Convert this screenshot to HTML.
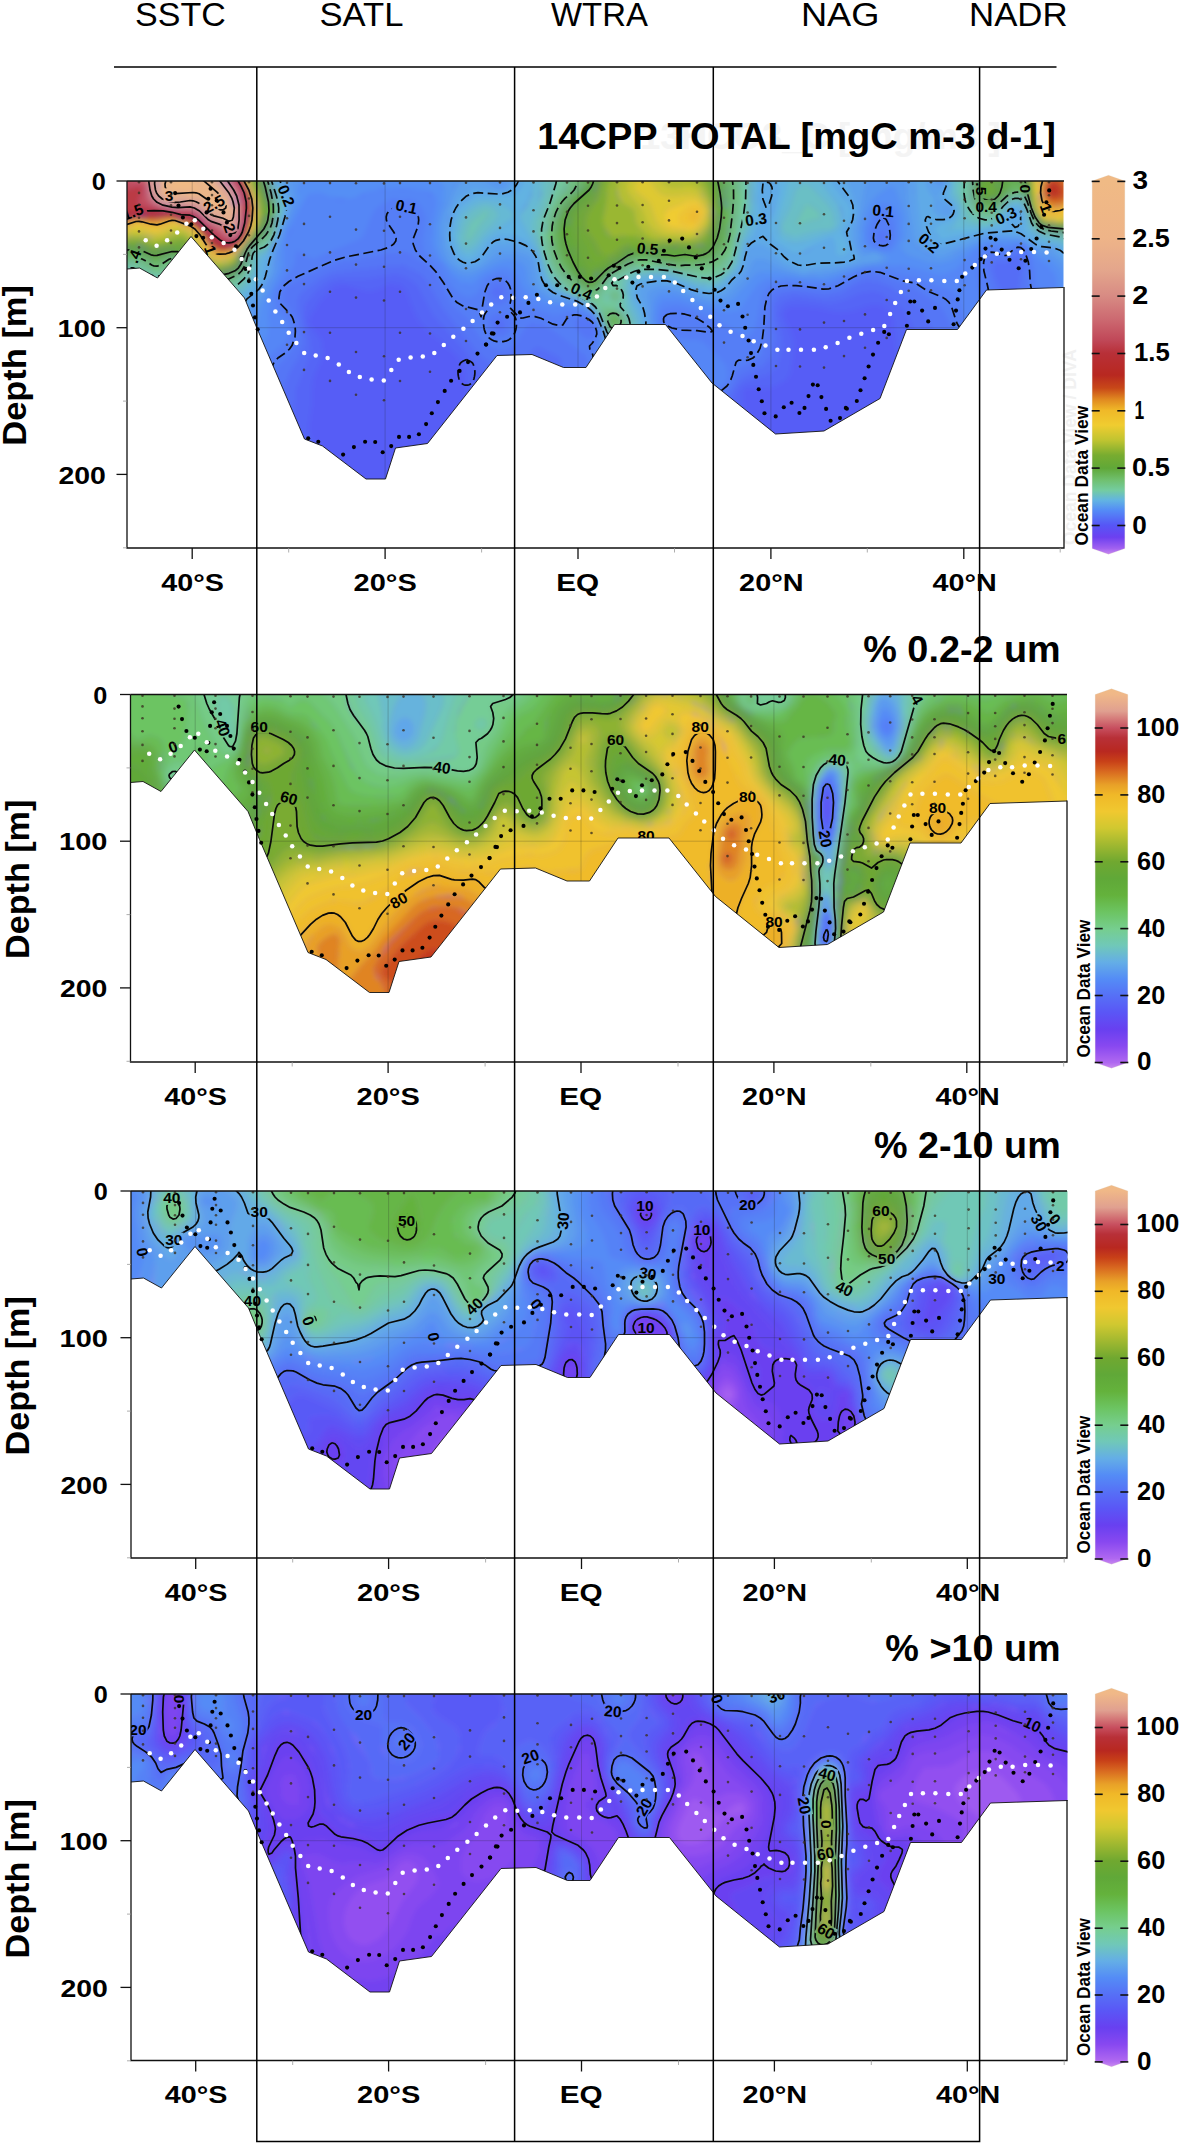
<!DOCTYPE html>
<html lang="en"><head><meta charset="utf-8"><title>Size-fractionated primary production sections</title>
<style>html,body{margin:0;padding:0;background:#fff}svg{display:block}text{font-family:"Liberation Sans", Arial, Helvetica, sans-serif;fill:#000}.b{font-weight:700}.c{font-weight:700;font-size:15.5px}</style></head><body>
<svg width="1181" height="2145" viewBox="0 0 1181 2145">
<rect width="1181" height="2145" fill="#fff"/>
<defs>
<filter id="bl" x="-10%" y="-10%" width="120%" height="130%"><feGaussianBlur stdDeviation="9"/></filter>
<filter id="bs" x="-10%" y="-10%" width="120%" height="130%"><feGaussianBlur stdDeviation="4"/></filter>
<filter id="bf" filterUnits="userSpaceOnUse" x="-20" y="-20" width="980" height="340"><feGaussianBlur stdDeviation="2.6"/></filter>
<clipPath id="cp"><polygon points="0,0 0,88 12.5,87 30.5,97 64,55.5 117.5,117 129,145 177.5,258 195.5,265 239,298 258.5,298 268.5,267 300.5,262.5 370,174.5 405,173.5 436.5,186.5 459,186.5 487.5,143.5 538.5,143.5 585,202 648.5,253 697,250 753,217.5 779.5,148.5 830.5,148.5 859.5,109 936.5,106.5 936.5,0"/></clipPath>
<linearGradient id="pc" x1="0" y1="0" x2="0" y2="1">
<stop offset="0.0000" stop-color="#F0BA85"/>
<stop offset="0.0145" stop-color="#F0B888"/>
<stop offset="0.0586" stop-color="#E0A090"/>
<stop offset="0.1028" stop-color="#C85060"/>
<stop offset="0.1292" stop-color="#B83038"/>
<stop offset="0.1646" stop-color="#B82820"/>
<stop offset="0.1910" stop-color="#C84018"/>
<stop offset="0.2175" stop-color="#D86820"/>
<stop offset="0.2528" stop-color="#E8A028"/>
<stop offset="0.2793" stop-color="#F0B828"/>
<stop offset="0.3234" stop-color="#F0C830"/>
<stop offset="0.3675" stop-color="#D0C830"/>
<stop offset="0.4117" stop-color="#A0B830"/>
<stop offset="0.4558" stop-color="#70A830"/>
<stop offset="0.4999" stop-color="#60A838"/>
<stop offset="0.5441" stop-color="#64B23C"/>
<stop offset="0.5882" stop-color="#6CC462"/>
<stop offset="0.6323" stop-color="#76CE8E"/>
<stop offset="0.6765" stop-color="#70C8B8"/>
<stop offset="0.7206" stop-color="#64AEE6"/>
<stop offset="0.7647" stop-color="#548CF6"/>
<stop offset="0.8088" stop-color="#5670F6"/>
<stop offset="0.8530" stop-color="#5A56F6"/>
<stop offset="0.8971" stop-color="#6840F0"/>
<stop offset="0.9412" stop-color="#8848F0"/>
<stop offset="0.9854" stop-color="#B068F0"/>
<stop offset="1.0000" stop-color="#C888F0"/>
</linearGradient>
<linearGradient id="p1" x1="0" y1="0" x2="0" y2="1">
<stop offset="0.0000" stop-color="#F0BA85"/>
<stop offset="0.0151" stop-color="#F0BA85"/>
<stop offset="0.1656" stop-color="#EEB488"/>
<stop offset="0.2501" stop-color="#E4A68C"/>
<stop offset="0.3161" stop-color="#D88C84"/>
<stop offset="0.3821" stop-color="#CC6870"/>
<stop offset="0.4349" stop-color="#C04858"/>
<stop offset="0.4692" stop-color="#B83038"/>
<stop offset="0.5273" stop-color="#B82820"/>
<stop offset="0.5617" stop-color="#C84818"/>
<stop offset="0.5907" stop-color="#E08820"/>
<stop offset="0.6198" stop-color="#F0B828"/>
<stop offset="0.6594" stop-color="#F0CC30"/>
<stop offset="0.6990" stop-color="#C0C430"/>
<stop offset="0.7386" stop-color="#78AC30"/>
<stop offset="0.7729" stop-color="#60A838"/>
<stop offset="0.8046" stop-color="#70C070"/>
<stop offset="0.8310" stop-color="#74CCA0"/>
<stop offset="0.8574" stop-color="#62B4E2"/>
<stop offset="0.8838" stop-color="#548CF6"/>
<stop offset="0.9234" stop-color="#5656F6"/>
<stop offset="0.9551" stop-color="#6C40F0"/>
<stop offset="0.9842" stop-color="#A060F0"/>
<stop offset="1.0000" stop-color="#C888F0"/>
</linearGradient>
<mask id="lm0" maskUnits="userSpaceOnUse" x="-10" y="-10" width="960" height="320"><rect x="-10" y="-10" width="960" height="320" fill="#fff"/>
<rect transform="translate(42.1,14.3) rotate(0)" x="-5.6" y="-7" width="11.2" height="14" fill="#000"/>
<rect transform="translate(87,22.8) rotate(-28)" x="-13.8" y="-7" width="27.6" height="14" fill="#000"/>
<rect transform="translate(102.7,46.8) rotate(70)" x="-5.6" y="-7" width="11.2" height="14" fill="#000"/>
<rect transform="translate(5.7,30.9) rotate(-20)" x="-13.8" y="-7" width="27.6" height="14" fill="#000"/>
<rect transform="translate(83.3,68.9) rotate(70)" x="-5.6" y="-7" width="11.2" height="14" fill="#000"/>
<rect transform="translate(7.4,75.3) rotate(-70)" x="-9.7" y="-7" width="19.4" height="14" fill="#000"/>
<rect transform="translate(159.3,14.6) rotate(68)" x="-13.8" y="-7" width="27.6" height="14" fill="#000"/>
<rect transform="translate(279.5,25.7) rotate(12)" x="-13.8" y="-7" width="27.6" height="14" fill="#000"/>
<rect transform="translate(520.7,67.7) rotate(5)" x="-13.8" y="-7" width="27.6" height="14" fill="#000"/>
<rect transform="translate(454.6,110.4) rotate(25)" x="-13.8" y="-7" width="27.6" height="14" fill="#000"/>
<rect transform="translate(629,38.3) rotate(-8)" x="-13.8" y="-7" width="27.6" height="14" fill="#000"/>
<rect transform="translate(756.3,29.8) rotate(5)" x="-13.8" y="-7" width="27.6" height="14" fill="#000"/>
<rect transform="translate(802,62) rotate(40)" x="-13.8" y="-7" width="27.6" height="14" fill="#000"/>
<rect transform="translate(859.2,25.9) rotate(0)" x="-13.8" y="-7" width="27.6" height="14" fill="#000"/>
<rect transform="translate(879,34.7) rotate(-25)" x="-13.8" y="-7" width="27.6" height="14" fill="#000"/>
<rect transform="translate(854.3,7.8) rotate(90)" x="-9.7" y="-7" width="19.4" height="14" fill="#000"/>
<rect transform="translate(898.3,7.8) rotate(90)" x="-5.6" y="-7" width="11.2" height="14" fill="#000"/>
<rect transform="translate(919.2,27) rotate(70)" x="-5.6" y="-7" width="11.2" height="14" fill="#000"/>
</mask>
<mask id="lm1" maskUnits="userSpaceOnUse" x="-10" y="-10" width="960" height="320"><rect x="-10" y="-10" width="960" height="320" fill="#fff"/>
<rect transform="translate(92.1,33.1) rotate(70)" x="-9.7" y="-7" width="19.4" height="14" fill="#000"/>
<rect transform="translate(128.7,32.4) rotate(0)" x="-9.7" y="-7" width="19.4" height="14" fill="#000"/>
<rect transform="translate(158.5,103.5) rotate(15)" x="-9.7" y="-7" width="19.4" height="14" fill="#000"/>
<rect transform="translate(311.6,73) rotate(8)" x="-9.7" y="-7" width="19.4" height="14" fill="#000"/>
<rect transform="translate(268.2,205.8) rotate(-30)" x="-9.7" y="-7" width="19.4" height="14" fill="#000"/>
<rect transform="translate(42.3,52.4) rotate(-20)" x="-5.6" y="-7" width="11.2" height="14" fill="#000"/>
<rect transform="translate(485,44.9) rotate(0)" x="-9.7" y="-7" width="19.4" height="14" fill="#000"/>
<rect transform="translate(569.7,32.4) rotate(0)" x="-9.7" y="-7" width="19.4" height="14" fill="#000"/>
<rect transform="translate(617.1,101.5) rotate(0)" x="-9.7" y="-7" width="19.4" height="14" fill="#000"/>
<rect transform="translate(515.5,140.8) rotate(0)" x="-9.7" y="-7" width="19.4" height="14" fill="#000"/>
<rect transform="translate(643.5,226.8) rotate(0)" x="-9.7" y="-7" width="19.4" height="14" fill="#000"/>
<rect transform="translate(706.8,65.3) rotate(5)" x="-9.7" y="-7" width="19.4" height="14" fill="#000"/>
<rect transform="translate(695,144.2) rotate(80)" x="-9.7" y="-7" width="19.4" height="14" fill="#000"/>
<rect transform="translate(807,112.7) rotate(0)" x="-9.7" y="-7" width="19.4" height="14" fill="#000"/>
<rect transform="translate(786.7,5.3) rotate(60)" x="-5.6" y="-7" width="11.2" height="14" fill="#000"/>
<rect transform="translate(931.3,43.9) rotate(0)" x="-5.6" y="-7" width="11.2" height="14" fill="#000"/>
</mask>
<mask id="lm2" maskUnits="userSpaceOnUse" x="-10" y="-10" width="960" height="320"><rect x="-10" y="-10" width="960" height="320" fill="#fff"/>
<rect transform="translate(40.8,6.9) rotate(0)" x="-9.7" y="-7" width="19.4" height="14" fill="#000"/>
<rect transform="translate(42.8,48.6) rotate(0)" x="-9.7" y="-7" width="19.4" height="14" fill="#000"/>
<rect transform="translate(128.2,20.5) rotate(0)" x="-9.7" y="-7" width="19.4" height="14" fill="#000"/>
<rect transform="translate(275.5,29.3) rotate(0)" x="-9.7" y="-7" width="19.4" height="14" fill="#000"/>
<rect transform="translate(343.3,115.3) rotate(-45)" x="-9.7" y="-7" width="19.4" height="14" fill="#000"/>
<rect transform="translate(121.4,109.6) rotate(0)" x="-9.7" y="-7" width="19.4" height="14" fill="#000"/>
<rect transform="translate(177.3,129.9) rotate(70)" x="-5.6" y="-7" width="11.2" height="14" fill="#000"/>
<rect transform="translate(302.6,145.8) rotate(80)" x="-5.6" y="-7" width="11.2" height="14" fill="#000"/>
<rect transform="translate(11.3,61.1) rotate(80)" x="-5.6" y="-7" width="11.2" height="14" fill="#000"/>
<rect transform="translate(432,30) rotate(-85)" x="-9.7" y="-7" width="19.4" height="14" fill="#000"/>
<rect transform="translate(513.9,14.7) rotate(0)" x="-9.7" y="-7" width="19.4" height="14" fill="#000"/>
<rect transform="translate(570.8,38.4) rotate(0)" x="-9.7" y="-7" width="19.4" height="14" fill="#000"/>
<rect transform="translate(516.7,82.5) rotate(10)" x="-9.7" y="-7" width="19.4" height="14" fill="#000"/>
<rect transform="translate(515,136.7) rotate(0)" x="-9.7" y="-7" width="19.4" height="14" fill="#000"/>
<rect transform="translate(616.6,13) rotate(0)" x="-9.7" y="-7" width="19.4" height="14" fill="#000"/>
<rect transform="translate(404.9,112.9) rotate(50)" x="-5.6" y="-7" width="11.2" height="14" fill="#000"/>
<rect transform="translate(749.9,19.1) rotate(0)" x="-9.7" y="-7" width="19.4" height="14" fill="#000"/>
<rect transform="translate(755.7,67.9) rotate(0)" x="-9.7" y="-7" width="19.4" height="14" fill="#000"/>
<rect transform="translate(713.4,97.7) rotate(25)" x="-9.7" y="-7" width="19.4" height="14" fill="#000"/>
<rect transform="translate(865.8,87.5) rotate(0)" x="-9.7" y="-7" width="19.4" height="14" fill="#000"/>
<rect transform="translate(908.1,31.7) rotate(60)" x="-9.7" y="-7" width="19.4" height="14" fill="#000"/>
<rect transform="translate(924,28.3) rotate(50)" x="-5.6" y="-7" width="11.2" height="14" fill="#000"/>
<rect transform="translate(929.4,74) rotate(0)" x="-5.6" y="-7" width="11.2" height="14" fill="#000"/>
</mask>
<mask id="lm3" maskUnits="userSpaceOnUse" x="-10" y="-10" width="960" height="320"><rect x="-10" y="-10" width="960" height="320" fill="#fff"/>
<rect transform="translate(6.9,35.4) rotate(0)" x="-9.7" y="-7" width="19.4" height="14" fill="#000"/>
<rect transform="translate(232.5,20.2) rotate(0)" x="-9.7" y="-7" width="19.4" height="14" fill="#000"/>
<rect transform="translate(275.5,47.3) rotate(-50)" x="-9.7" y="-7" width="19.4" height="14" fill="#000"/>
<rect transform="translate(48.6,5) rotate(90)" x="-5.6" y="-7" width="11.2" height="14" fill="#000"/>
<rect transform="translate(399.3,62.7) rotate(-20)" x="-9.7" y="-7" width="19.4" height="14" fill="#000"/>
<rect transform="translate(513,113.1) rotate(-60)" x="-9.7" y="-7" width="19.4" height="14" fill="#000"/>
<rect transform="translate(481.9,17.2) rotate(5)" x="-9.7" y="-7" width="19.4" height="14" fill="#000"/>
<rect transform="translate(586.1,5) rotate(70)" x="-5.6" y="-7" width="11.2" height="14" fill="#000"/>
<rect transform="translate(645.4,1.6) rotate(-20)" x="-9.7" y="-7" width="19.4" height="14" fill="#000"/>
<rect transform="translate(673.5,111.6) rotate(80)" x="-9.7" y="-7" width="19.4" height="14" fill="#000"/>
<rect transform="translate(696.2,80.1) rotate(15)" x="-9.7" y="-7" width="19.4" height="14" fill="#000"/>
<rect transform="translate(694.5,159.7) rotate(-10)" x="-9.7" y="-7" width="19.4" height="14" fill="#000"/>
<rect transform="translate(695.1,237) rotate(30)" x="-9.7" y="-7" width="19.4" height="14" fill="#000"/>
<rect transform="translate(695.1,130.3) rotate(90)" x="-5.6" y="-7" width="11.2" height="14" fill="#000"/>
<rect transform="translate(901.3,30.4) rotate(25)" x="-9.7" y="-7" width="19.4" height="14" fill="#000"/>
</mask>
<g id="dots">
<g fill="#3a3020" fill-opacity="0.78" clip-path="url(#cp)"><circle cx="12" cy="1.2" r="1.3"/><circle cx="12" cy="11.9" r="1.3"/><circle cx="12" cy="23.7" r="1.3"/><circle cx="12" cy="36.7" r="1.3"/><circle cx="12" cy="50.4" r="1.3"/><circle cx="12" cy="66.4" r="1.3"/><circle cx="44" cy="1.2" r="1.3"/><circle cx="44" cy="14.1" r="1.3"/><circle cx="44" cy="24.2" r="1.3"/><circle cx="44" cy="33.8" r="1.3"/><circle cx="44" cy="49.5" r="1.3"/><circle cx="44" cy="61.9" r="1.3"/><circle cx="85" cy="1.2" r="1.3"/><circle cx="85" cy="14.1" r="1.3"/><circle cx="85" cy="24.2" r="1.3"/><circle cx="85" cy="33.8" r="1.3"/><circle cx="85" cy="49.6" r="1.3"/><circle cx="85" cy="62" r="1.3"/><circle cx="122" cy="1.2" r="1.3"/><circle cx="122" cy="17.5" r="1.3"/><circle cx="122" cy="34.9" r="1.3"/><circle cx="122" cy="54.2" r="1.3"/><circle cx="122" cy="74.2" r="1.3"/><circle cx="122" cy="97.8" r="1.3"/><circle cx="160" cy="1.8" r="1.3"/><circle cx="160" cy="37.2" r="1.3"/><circle cx="160" cy="64" r="1.3"/><circle cx="160" cy="89.4" r="1.3"/><circle cx="160" cy="131.1" r="1.3"/><circle cx="160" cy="163.8" r="1.3"/><circle cx="177" cy="2.1" r="1.3"/><circle cx="177" cy="42.9" r="1.3"/><circle cx="177" cy="73.9" r="1.3"/><circle cx="177" cy="103.1" r="1.3"/><circle cx="177" cy="151.1" r="1.3"/><circle cx="177" cy="188.9" r="1.3"/><circle cx="203" cy="2.1" r="1.3"/><circle cx="203" cy="35.7" r="1.3"/><circle cx="203" cy="71.4" r="1.3"/><circle cx="203" cy="110.7" r="1.3"/><circle cx="203" cy="151.7" r="1.3"/><circle cx="203" cy="199.9" r="1.3"/><circle cx="229" cy="2.3" r="1.3"/><circle cx="229" cy="48.6" r="1.3"/><circle cx="229" cy="83.6" r="1.3"/><circle cx="229" cy="116.6" r="1.3"/><circle cx="229" cy="171" r="1.3"/><circle cx="229" cy="213.8" r="1.3"/><circle cx="257" cy="2.4" r="1.3"/><circle cx="257" cy="49.8" r="1.3"/><circle cx="257" cy="85.7" r="1.3"/><circle cx="257" cy="119.5" r="1.3"/><circle cx="257" cy="175.3" r="1.3"/><circle cx="257" cy="219.2" r="1.3"/><circle cx="273" cy="2.1" r="1.3"/><circle cx="273" cy="35.7" r="1.3"/><circle cx="273" cy="71.4" r="1.3"/><circle cx="273" cy="110.7" r="1.3"/><circle cx="273" cy="151.8" r="1.3"/><circle cx="273" cy="200" r="1.3"/><circle cx="303" cy="2.1" r="1.3"/><circle cx="303" cy="43.3" r="1.3"/><circle cx="303" cy="74.5" r="1.3"/><circle cx="303" cy="104" r="1.3"/><circle cx="303" cy="152.5" r="1.3"/><circle cx="303" cy="190.7" r="1.3"/><circle cx="339" cy="1.7" r="1.3"/><circle cx="339" cy="36.4" r="1.3"/><circle cx="339" cy="62.6" r="1.3"/><circle cx="339" cy="87.3" r="1.3"/><circle cx="339" cy="128" r="1.3"/><circle cx="339" cy="160" r="1.3"/><circle cx="373" cy="1.4" r="1.3"/><circle cx="373" cy="23.4" r="1.3"/><circle cx="373" cy="46.9" r="1.3"/><circle cx="373" cy="72.6" r="1.3"/><circle cx="373" cy="99.6" r="1.3"/><circle cx="373" cy="131.2" r="1.3"/><circle cx="406.5" cy="1.4" r="1.3"/><circle cx="406.5" cy="29.3" r="1.3"/><circle cx="406.5" cy="50.4" r="1.3"/><circle cx="406.5" cy="70.3" r="1.3"/><circle cx="406.5" cy="103.2" r="1.3"/><circle cx="406.5" cy="128.9" r="1.3"/><circle cx="440" cy="1.5" r="1.3"/><circle cx="440" cy="30.9" r="1.3"/><circle cx="440" cy="53.2" r="1.3"/><circle cx="440" cy="74.2" r="1.3"/><circle cx="440" cy="108.8" r="1.3"/><circle cx="440" cy="136" r="1.3"/><circle cx="461" cy="1.5" r="1.3"/><circle cx="461" cy="24.7" r="1.3"/><circle cx="461" cy="49.5" r="1.3"/><circle cx="461" cy="76.7" r="1.3"/><circle cx="461" cy="105.1" r="1.3"/><circle cx="461" cy="138.5" r="1.3"/><circle cx="490" cy="1.2" r="1.3"/><circle cx="490" cy="24.5" r="1.3"/><circle cx="490" cy="42.1" r="1.3"/><circle cx="490" cy="58.7" r="1.3"/><circle cx="490" cy="86.1" r="1.3"/><circle cx="490" cy="107.6" r="1.3"/><circle cx="515.6" cy="1.2" r="1.3"/><circle cx="515.6" cy="24" r="1.3"/><circle cx="515.6" cy="41.2" r="1.3"/><circle cx="515.6" cy="57.5" r="1.3"/><circle cx="515.6" cy="84.3" r="1.3"/><circle cx="515.6" cy="105.4" r="1.3"/><circle cx="542" cy="1.2" r="1.3"/><circle cx="542" cy="19.7" r="1.3"/><circle cx="542" cy="39.4" r="1.3"/><circle cx="542" cy="61.1" r="1.3"/><circle cx="542" cy="83.8" r="1.3"/><circle cx="542" cy="110.4" r="1.3"/><circle cx="570" cy="1.5" r="1.3"/><circle cx="570" cy="30.8" r="1.3"/><circle cx="570" cy="53" r="1.3"/><circle cx="570" cy="74" r="1.3"/><circle cx="570" cy="108.5" r="1.3"/><circle cx="570" cy="135.7" r="1.3"/><circle cx="597" cy="1.8" r="1.3"/><circle cx="597" cy="36.7" r="1.3"/><circle cx="597" cy="63.2" r="1.3"/><circle cx="597" cy="88.1" r="1.3"/><circle cx="597" cy="129.3" r="1.3"/><circle cx="597" cy="161.6" r="1.3"/><circle cx="620.6" cy="1.9" r="1.3"/><circle cx="620.6" cy="31.5" r="1.3"/><circle cx="620.6" cy="63" r="1.3"/><circle cx="620.6" cy="97.6" r="1.3"/><circle cx="620.6" cy="133.8" r="1.3"/><circle cx="620.6" cy="176.3" r="1.3"/><circle cx="649" cy="2" r="1.3"/><circle cx="649" cy="42" r="1.3"/><circle cx="649" cy="72.3" r="1.3"/><circle cx="649" cy="100.9" r="1.3"/><circle cx="649" cy="148" r="1.3"/><circle cx="649" cy="185" r="1.3"/><circle cx="673" cy="2" r="1.3"/><circle cx="673" cy="42.2" r="1.3"/><circle cx="673" cy="72.5" r="1.3"/><circle cx="673" cy="101.2" r="1.3"/><circle cx="673" cy="148.4" r="1.3"/><circle cx="673" cy="185.5" r="1.3"/><circle cx="697" cy="2" r="1.3"/><circle cx="697" cy="33.3" r="1.3"/><circle cx="697" cy="66.7" r="1.3"/><circle cx="697" cy="103.3" r="1.3"/><circle cx="697" cy="141.6" r="1.3"/><circle cx="697" cy="186.6" r="1.3"/><circle cx="717" cy="1.9" r="1.3"/><circle cx="717" cy="39.8" r="1.3"/><circle cx="717" cy="68.4" r="1.3"/><circle cx="717" cy="95.5" r="1.3"/><circle cx="717" cy="140" r="1.3"/><circle cx="717" cy="175.1" r="1.3"/><circle cx="738" cy="1.8" r="1.3"/><circle cx="738" cy="37.9" r="1.3"/><circle cx="738" cy="65.2" r="1.3"/><circle cx="738" cy="91" r="1.3"/><circle cx="738" cy="133.4" r="1.3"/><circle cx="738" cy="166.7" r="1.3"/><circle cx="759.7" cy="1.7" r="1.3"/><circle cx="759.7" cy="28" r="1.3"/><circle cx="759.7" cy="56" r="1.3"/><circle cx="759.7" cy="86.8" r="1.3"/><circle cx="759.7" cy="119" r="1.3"/><circle cx="759.7" cy="156.9" r="1.3"/><circle cx="781.7" cy="1.2" r="1.3"/><circle cx="781.7" cy="25" r="1.3"/><circle cx="781.7" cy="42.9" r="1.3"/><circle cx="781.7" cy="59.9" r="1.3"/><circle cx="781.7" cy="87.8" r="1.3"/><circle cx="781.7" cy="109.8" r="1.3"/><circle cx="804" cy="1.2" r="1.3"/><circle cx="804" cy="24.8" r="1.3"/><circle cx="804" cy="42.7" r="1.3"/><circle cx="804" cy="59.5" r="1.3"/><circle cx="804" cy="87.3" r="1.3"/><circle cx="804" cy="109.2" r="1.3"/><circle cx="837.6" cy="1.2" r="1.3"/><circle cx="837.6" cy="18.6" r="1.3"/><circle cx="837.6" cy="37.2" r="1.3"/><circle cx="837.6" cy="57.7" r="1.3"/><circle cx="837.6" cy="79.1" r="1.3"/><circle cx="837.6" cy="104.2" r="1.3"/><circle cx="864.7" cy="1.2" r="1.3"/><circle cx="864.7" cy="18.5" r="1.3"/><circle cx="864.7" cy="31.8" r="1.3"/><circle cx="864.7" cy="44.4" r="1.3"/><circle cx="864.7" cy="65.1" r="1.3"/><circle cx="864.7" cy="81.4" r="1.3"/><circle cx="894" cy="1.2" r="1.3"/><circle cx="894" cy="17.8" r="1.3"/><circle cx="894" cy="30.6" r="1.3"/><circle cx="894" cy="42.7" r="1.3"/><circle cx="894" cy="62.6" r="1.3"/><circle cx="894" cy="78.3" r="1.3"/><circle cx="922" cy="1.2" r="1.3"/><circle cx="922" cy="14.3" r="1.3"/><circle cx="922" cy="28.6" r="1.3"/><circle cx="922" cy="44.3" r="1.3"/><circle cx="922" cy="60.7" r="1.3"/><circle cx="922" cy="80" r="1.3"/></g>
<g fill="#000"><circle cx="48.1" cy="12.1" r="2.05"/><circle cx="51.5" cy="24.6" r="2.05"/><circle cx="55.9" cy="36.5" r="2.05"/><circle cx="64.3" cy="43.2" r="2.05"/><circle cx="69.4" cy="55.1" r="2.05"/><circle cx="76.2" cy="56.8" r="2.05"/><circle cx="77.9" cy="48.3" r="2.05"/><circle cx="79.6" cy="31.4" r="2.05"/><circle cx="81.3" cy="17.8" r="2.05"/><circle cx="83.6" cy="7.7" r="2.05"/><circle cx="89.7" cy="19.5" r="2.05"/><circle cx="96.5" cy="31.4" r="2.05"/><circle cx="99.9" cy="41.5" r="2.05"/><circle cx="103.3" cy="54.1" r="2.05"/><circle cx="109" cy="65.3" r="2.05"/><circle cx="114.5" cy="77.1" r="2.05"/><circle cx="118.5" cy="87.9" r="2.05"/><circle cx="121.9" cy="100.1" r="2.05"/><circle cx="124.3" cy="112.7" r="2.05"/><circle cx="126" cy="124.5" r="2.05"/><circle cx="128" cy="136.4" r="2.05"/><circle cx="130.7" cy="148.2" r="2.05"/><circle cx="181.2" cy="257.3" r="2.05"/><circle cx="191.3" cy="260.7" r="2.05"/><circle cx="216.1" cy="273.6" r="2.05"/><circle cx="226.9" cy="266.1" r="2.05"/><circle cx="238.1" cy="260.7" r="2.05"/><circle cx="248.2" cy="261" r="2.05"/><circle cx="255.7" cy="271.2" r="2.05"/><circle cx="264.2" cy="265.1" r="2.05"/><circle cx="272" cy="255.9" r="2.05"/><circle cx="282.1" cy="255.9" r="2.05"/><circle cx="291.9" cy="253.2" r="2.05"/><circle cx="299.1" cy="243.1" r="2.05"/><circle cx="304.8" cy="232.2" r="2.05"/><circle cx="310.9" cy="221.1" r="2.05"/><circle cx="317.7" cy="209.9" r="2.05"/><circle cx="324.1" cy="199.7" r="2.05"/><circle cx="332.6" cy="189.9" r="2.05"/><circle cx="341" cy="181.1" r="2.05"/><circle cx="350.5" cy="172.6" r="2.05"/><circle cx="359" cy="163.5" r="2.05"/><circle cx="366.5" cy="152.6" r="2.05"/><circle cx="359.1" cy="163.6" r="2.05"/><circle cx="364.9" cy="152.4" r="2.05"/><circle cx="370.6" cy="141.6" r="2.05"/><circle cx="380.1" cy="135.8" r="2.05"/><circle cx="393" cy="131.4" r="2.05"/><circle cx="401.4" cy="121.9" r="2.05"/><circle cx="409.9" cy="113.8" r="2.05"/><circle cx="419" cy="104.3" r="2.05"/><circle cx="430.2" cy="104.3" r="2.05"/><circle cx="441.7" cy="95.9" r="2.05"/><circle cx="452.9" cy="95.9" r="2.05"/><circle cx="464.1" cy="97.5" r="2.05"/><circle cx="481.7" cy="94.2" r="2.05"/><circle cx="486.8" cy="84.7" r="2.05"/><circle cx="492.5" cy="86.7" r="2.05"/><circle cx="505.4" cy="101.6" r="2.05"/><circle cx="511.5" cy="90.8" r="2.05"/><circle cx="521.3" cy="85.7" r="2.05"/><circle cx="531.8" cy="79.9" r="2.05"/><circle cx="536.9" cy="69.8" r="2.05"/><circle cx="542.7" cy="59.6" r="2.05"/><circle cx="555.2" cy="57.6" r="2.05"/><circle cx="562" cy="66.4" r="2.05"/><circle cx="568.7" cy="76.5" r="2.05"/><circle cx="574.8" cy="87.4" r="2.05"/><circle cx="582.6" cy="97.5" r="2.05"/><circle cx="587.7" cy="108.7" r="2.05"/><circle cx="593.5" cy="119.6" r="2.05"/><circle cx="600.9" cy="125.3" r="2.05"/><circle cx="611.1" cy="122.9" r="2.05"/><circle cx="615.5" cy="135.5" r="2.05"/><circle cx="618.2" cy="146.7" r="2.05"/><circle cx="621.6" cy="159.5" r="2.05"/><circle cx="624" cy="172.1" r="2.05"/><circle cx="626.3" cy="183.9" r="2.05"/><circle cx="629" cy="195.8" r="2.05"/><circle cx="631.7" cy="208.3" r="2.05"/><circle cx="634.8" cy="220.2" r="2.05"/><circle cx="637.5" cy="232.3" r="2.05"/><circle cx="648.7" cy="235.4" r="2.05"/><circle cx="656.8" cy="226.2" r="2.05"/><circle cx="664.6" cy="221.8" r="2.05"/><circle cx="672.4" cy="232" r="2.05"/><circle cx="677.5" cy="226.9" r="2.05"/><circle cx="681.5" cy="215.1" r="2.05"/><circle cx="685.9" cy="203.6" r="2.05"/><circle cx="690.7" cy="204.2" r="2.05"/><circle cx="694.4" cy="216.1" r="2.05"/><circle cx="699.1" cy="227.9" r="2.05"/><circle cx="703.6" cy="239.8" r="2.05"/><circle cx="713" cy="237.1" r="2.05"/><circle cx="718.8" cy="226.9" r="2.05"/><circle cx="719.9" cy="227.8" r="2.05"/><circle cx="729.8" cy="220" r="2.05"/><circle cx="733.5" cy="209.2" r="2.05"/><circle cx="737.6" cy="197.3" r="2.05"/><circle cx="741.6" cy="185.5" r="2.05"/><circle cx="746" cy="173.6" r="2.05"/><circle cx="751.1" cy="161.8" r="2.05"/><circle cx="757.2" cy="150.9" r="2.05"/><circle cx="761.9" cy="153.3" r="2.05"/><circle cx="779.9" cy="144.8" r="2.05"/><circle cx="781.6" cy="132" r="2.05"/><circle cx="783.3" cy="120.5" r="2.05"/><circle cx="787.3" cy="120.5" r="2.05"/><circle cx="795.1" cy="129.6" r="2.05"/><circle cx="801.2" cy="140.4" r="2.05"/><circle cx="808" cy="126.9" r="2.05"/><circle cx="826.6" cy="143.2" r="2.05"/><circle cx="829" cy="129.6" r="2.05"/><circle cx="830.7" cy="118.4" r="2.05"/><circle cx="832.4" cy="109.3" r="2.05"/><circle cx="835.1" cy="95.7" r="2.05"/><circle cx="845.3" cy="86.6" r="2.05"/><circle cx="853.7" cy="78.1" r="2.05"/><circle cx="858.5" cy="67.6" r="2.05"/><circle cx="863.6" cy="56.8" r="2.05"/><circle cx="868.6" cy="58.5" r="2.05"/><circle cx="874.7" cy="68.6" r="2.05"/><circle cx="882.5" cy="78.8" r="2.05"/><circle cx="891.7" cy="87.3" r="2.05"/><circle cx="898.4" cy="79.8" r="2.05"/><circle cx="904.2" cy="68" r="2.05"/><circle cx="909.6" cy="57.5" r="2.05"/><circle cx="914.4" cy="45.9" r="2.05"/><circle cx="917.1" cy="33.8" r="2.05"/><circle cx="919.4" cy="21.2" r="2.05"/><circle cx="922.2" cy="9.4" r="2.05"/></g>
<g fill="#fff"><circle cx="18.7" cy="59.3" r="2.25"/><circle cx="29.6" cy="64.7" r="2.25"/><circle cx="40.1" cy="59.3" r="2.25"/><circle cx="50.2" cy="51.5" r="2.25"/><circle cx="59.4" cy="42.7" r="2.25"/><circle cx="67.8" cy="39.3" r="2.25"/><circle cx="76.3" cy="47.8" r="2.25"/><circle cx="84.8" cy="56.2" r="2.25"/><circle cx="96.6" cy="62" r="2.25"/><circle cx="107.5" cy="68.8" r="2.25"/><circle cx="114.6" cy="77.9" r="2.25"/><circle cx="122" cy="87.4" r="2.25"/><circle cx="128.8" cy="98.2" r="2.25"/><circle cx="135.6" cy="109.4" r="2.25"/><circle cx="141.7" cy="119.6" r="2.25"/><circle cx="148.4" cy="130.4" r="2.25"/><circle cx="155.2" cy="140.9" r="2.25"/><circle cx="161.7" cy="151.7" r="2.25"/><circle cx="169.4" cy="161.9" r="2.25"/><circle cx="177.2" cy="172.1" r="2.25"/><circle cx="188.7" cy="174.4" r="2.25"/><circle cx="200.6" cy="177.1" r="2.25"/><circle cx="211.8" cy="183.6" r="2.25"/><circle cx="221.9" cy="191" r="2.25"/><circle cx="232.8" cy="196.1" r="2.25"/><circle cx="244.6" cy="198.5" r="2.25"/><circle cx="256.8" cy="199.5" r="2.25"/><circle cx="264.3" cy="189" r="2.25"/><circle cx="271.7" cy="178.8" r="2.25"/><circle cx="283.6" cy="176.5" r="2.25"/><circle cx="295.8" cy="175.4" r="2.25"/><circle cx="307.3" cy="172.1" r="2.25"/><circle cx="316.8" cy="163.9" r="2.25"/><circle cx="326.3" cy="155.8" r="2.25"/><circle cx="336.4" cy="147.7" r="2.25"/><circle cx="345.6" cy="139.9" r="2.25"/><circle cx="355" cy="131.4" r="2.25"/><circle cx="364.2" cy="123.6" r="2.25"/><circle cx="374.3" cy="116.2" r="2.25"/><circle cx="386.2" cy="116.8" r="2.25"/><circle cx="398.7" cy="116.2" r="2.25"/><circle cx="411.3" cy="117.9" r="2.25"/><circle cx="423.1" cy="121.3" r="2.25"/><circle cx="435.3" cy="123.6" r="2.25"/><circle cx="448.2" cy="123.6" r="2.25"/><circle cx="460.7" cy="124" r="2.25"/><circle cx="469.9" cy="115.5" r="2.25"/><circle cx="478.3" cy="107" r="2.25"/><circle cx="487.5" cy="98.2" r="2.25"/><circle cx="499.3" cy="96.5" r="2.25"/><circle cx="511.5" cy="95.9" r="2.25"/><circle cx="524" cy="95.9" r="2.25"/><circle cx="536.9" cy="95.9" r="2.25"/><circle cx="547.8" cy="101.6" r="2.25"/><circle cx="556.2" cy="110.1" r="2.25"/><circle cx="565.4" cy="118.9" r="2.25"/><circle cx="573.8" cy="127" r="2.25"/><circle cx="583.3" cy="135.8" r="2.25"/><circle cx="592.5" cy="144.3" r="2.25"/><circle cx="603.6" cy="150.7" r="2.25"/><circle cx="615.5" cy="155.1" r="2.25"/><circle cx="626.7" cy="160.2" r="2.25"/><circle cx="638.5" cy="164.6" r="2.25"/><circle cx="650.4" cy="168.7" r="2.25"/><circle cx="661.5" cy="168.7" r="2.25"/><circle cx="674" cy="168.7" r="2.25"/><circle cx="686.9" cy="168.7" r="2.25"/><circle cx="698.7" cy="166.3" r="2.25"/><circle cx="710.6" cy="161.9" r="2.25"/><circle cx="722.4" cy="156.8" r="2.25"/><circle cx="734.3" cy="152.8" r="2.25"/><circle cx="746.1" cy="149" r="2.25"/><circle cx="757.3" cy="145" r="2.25"/><circle cx="763.1" cy="133.1" r="2.25"/><circle cx="768.2" cy="121.9" r="2.25"/><circle cx="773.9" cy="111.1" r="2.25"/><circle cx="780" cy="99.9" r="2.25"/><circle cx="791.9" cy="99.2" r="2.25"/><circle cx="804.4" cy="99.2" r="2.25"/><circle cx="817.3" cy="99.9" r="2.25"/><circle cx="829.8" cy="99.9" r="2.25"/><circle cx="838.3" cy="92.5" r="2.25"/><circle cx="847.8" cy="84" r="2.25"/><circle cx="857.9" cy="75.5" r="2.25"/><circle cx="869.8" cy="72.8" r="2.25"/><circle cx="881.6" cy="72.8" r="2.25"/><circle cx="894.2" cy="71.1" r="2.25"/><circle cx="907" cy="71.1" r="2.25"/><circle cx="919.6" cy="71.5" r="2.25"/></g>
</g>
</defs>
<text x="135.07" y="26.4" font-size="32.5" textLength="90.69" lengthAdjust="spacingAndGlyphs">SSTC</text>
<text x="319.44" y="26.4" font-size="32.5" textLength="84.05" lengthAdjust="spacingAndGlyphs">SATL</text>
<text x="551.04" y="26.4" font-size="32.5" textLength="96.81" lengthAdjust="spacingAndGlyphs">WTRA</text>
<text x="800.91" y="26.4" font-size="32.5" textLength="78.49" lengthAdjust="spacingAndGlyphs">NAG</text>
<text x="969.03" y="26.4" font-size="32.5" textLength="98.57" lengthAdjust="spacingAndGlyphs">NADR</text>
<text class="b" font-size="36.6" x="640" y="148.5" fill="#f3f3f3" style="fill:#f4f4f4">13HCO3_C</text>
<text class="b" font-size="36.6" x="838" y="148.5" style="fill:#f4f4f4">[ mg/m3 ]</text>
<text class="b" font-size="17.5" transform="translate(1076,545) rotate(-90)" style="fill:#f1f1f1">Ocean Data View / DIVA</text>
<g transform="translate(127,181)">
<g clip-path="url(#cp)">
<g filter="url(#bf)">
<rect x="-20" y="-20" width="980" height="340" fill="#614BF3"/>
<path fill="#5755F6" d="M648,289l6,2 3,4 3,11 -18,0 1-6 4-9z"/>
<path fill="#565DF6" d="M213,105l18,5 9,1 9-1 18-6 3,0 4,1 3,3 2,3 8,21 5,9 8,9 17,12 13,14 3,5 2,5 1,6 4,27 0,9 -10,22 -9,26 -7,15 -7,12 -1,3 -89,0 -16-20 -5-13 -10-14 -2-4 -2-9 3-21 1-24 2-6 6-12 2-6 1-9 -1-6 -3-6 -10-12 -1-3 1-3 6-11 10-13 6-6 6-3zM738,126l9-2 6,1 3,1 4,3 3,6 4,12 7,51 1,18 -5,30 -1,30 -8,30 -87,0 -1-3 -3-9 -1-3 -3-3 -2,3 2,6 1,3 0,6 -7,0 -3-11 -3-4 -6-2 -5,11 -1,6 -85,0 5-3 14-5 12-7 7-6 8-13 3-2 3-1 2-2 3-9 2-12 1-21 -1-12 0-3 2-2 3-1 3,0 15,1 9-2 9-4 5-7 3-6 2-9 1-9 0-6 -1-6 -3-9 -7-15 0-3 1-3 2-1 6-2 21,1 6,1 12,3 9,1 9-1 13-5zM33,258l3,1 0,2 0,9 -1,6 0,3 1,2 9-6 6-1 6-5 9,3 3,2 3,4 3,1 12-3 6,0 6-6 9,0 3,2 3,4 2,6 2,3 2,9 5,9 0,3 -106,0 0-6 3-6 1-9 3-6 1-10 6-11zM153,282l3,3 1,3 0,18 -8,0 2-9 1-9 1-6zM420,294l1,3 -1,3 0,6 -7,0 1-2 6-10zM459,301l3-1 9,4 3-2 3,0 5,4 -24,0 0-3z"/>
<path fill="#5565F6" d="M255,96l9-2 9,1 6,2 7,5 7,9 13,24 27,30 18,24 11,12 9,18 2,6 2,9 -3,21 -7,21 -15,30 -44,0 1-3 7-12 7-15 9-26 10-22 0-9 -4-30 -2-6 -4-7 -15-15 -15-11 -8-9 -5-9 -8-21 -2-3 -3-3 -4-1 -6,0 -12,5 -9,2 -9-1 -18-5 -6,0 -5,3 -11,12 -8,12 -3,6 -1,3 1,3 10,12 3,6 1,9 -2,9 -7,15 -2,6 -1,24 -3,21 1,6 3,7 10,14 5,13 16,20 -26,0 -5-12 -16-24 -3-9 -1-9 0-12 2-15 2-12 3-12 10-24 2-9 -1-9 -6-18 1-12 3-9 4-6 7-6 8-6 6-3 9-1 21,0 16-2zM738,111l6,0 6,1 12,6 10,8 7,9 8,15 4,15 9,33 7,18 25,45 2,6 12,25 11,14 -96,0 8-30 1-30 5-30 -1-15 -7-51 -2-12 -3-6 -3-4 -6-3 -6-1 -9,2 -15,5 -9,1 -9-1 -12-3 -6-1 -21-1 -6,2 -3,3 0,4 7,15 3,9 1,6 -1,12 -3,15 -4,6 -2,3 -10,5 -9,2 -18-1 -3,1 -2,2 0,3 1,12 -1,21 -3,15 -2,6 -2,2 -3,1 -3,2 -8,13 -7,6 -12,7 -14,5 -5,3 -59,0 -1-3 1-3 3-4 3-2 3,1 6,5 3,1 3,0 6-3 3-23 3-1 3,0 6,4 3,0 18-8 9-2 9-5 15-15 3-5 6-12 7-21 4-6 7-4 18-5 9-7 5-8 3-9 1-6 -1-9 -4-18 -1-6 2-6 4-4 6-3 6-1 9,1 21,3 9,0 9-2 15-7 6-2zM6,156l3,0 -2,3 -4,3 -3,1 -3,3 -3,1 0-9 6-2 5,0zM-5,180l-1,7 0-9zM48,213l3,1 1,2 -1,3 -3,3 -1,3 1,3 6,1 2,2 1,1 6,0 6-2 12,5 3,2 3-9 3-2 6-1 6,6 4,6 2,5 3,4 6,3 15-2 6-5 3-1 6,10 1,4 2,3 2,6 2,3 2,6 2,3 1,5 2,4 0,21 -4,0 0-18 -1-3 -3-3 -1,6 -1,9 -2,9 -24,0 0-3 -5-9 -2-9 -2-3 -2-6 -3-4 -3-2 -9,0 -6,6 -6,0 -12,3 -3-1 -3-4 -3-2 -9-3 -6,5 -6,1 -9,6 -1-2 0-3 1-6 0-9 0-2 -3-1 -6,11 -1,10 -3,6 -1,9 -3,6 0,6 -25,0 0-31 12-13 9-12 7-7 2-2 2-7 5-9 2-4 3-3 3,0 6-2zM54,224l3,1 -3,2 -1-2zM438,228l3-1 1,1 5,6 1,3 -2,15 1,12 -1,6 -2,3 -3,1 -3,11 0,3 2,6 1,1 3-3 4-7 5-6 4-6 4-6 4-3 3,2 1,1 7,12 5,6 5,10 8,11 -12,0 -5-4 -3,0 -3,2 -9-4 -3,1 -1,5 -38,0 0-6 1-3 -1-3 -6,10 -1,2 -46,0 0-6 2-6 1-6 8-15 2-6 -1-6 4-6 6-6 10-17 3,2 0,3 -7,42 -1,9 0,3 2,1 3-4 1-3 5-9 2-9 6-9 1-4 3-5 3-1 3,8 2-4 1-1 6-8 1-9 5-6zM666,288l3,3 1,3 3,9 1,3 -7,0 0-6 -1-3 -2-6 2-3z"/>
<path fill="#556DF6" d="M888,77l3-1 2,2 1,6 -2,18 -1,5 -3,4 -3,2 -3,0 -3-1 -3-2 -4-5 -5-13 -1-5 0-3 3-3 1,0 9,1 3-1 4-3zM249,87l15-2 9,0 9,2 9,6 9,9 16,27 29,36 12,13 9,5 12,5 9-1 3-1 8-6 10-13 3,0 21,10 2,3 0,3 -1,6 5,16 3,4 3,1 4,6 4,9 1,6 10,21 2,3 12,5 3-1 3-4 3,0 9,4 6,1 3,0 9-2 3-2 3-8 3-1 9,2 9,1 6,1 18-3 9-4 12-9 9-9 6-8 9-14 6-8 6-3 9-4 6-3 3-3 5-6 2-6 2-9 0-9 -2-18 1-6 3-9 4-4 6-3 9-1 9,1 18,3 9-1 9-2 21-12 6-1 6,1 12,5 15,8 9,6 7,6 9,12 12,24 14,20 15,17 9,5 3,3 6,2 3,3 5,7 6,12 2,9 5,15 10,39 2,12 -34,0 -8-10 -3-4 -12-25 -2-6 -25-45 -7-18 -9-33 -4-15 -6-12 -6-9 -10-9 -12-7 -6-2 -6,0 -9,2 -15,7 -9,2 -9,0 -21-3 -9-1 -6,1 -6,3 -4,4 -2,6 1,6 4,18 1,9 -3,12 -4,9 -5,5 -6,4 -18,5 -7,4 -4,6 -8,24 -6,12 -11,12 -7,6 -8,4 -9,2 -18,8 -3,0 -6-4 -3,0 -3,1 -3,22 -3,3 -3,1 -3,0 -3-1 -6-5 -3-1 -3,2 -3,4 -1,3 1,3 -4,0 -8-11 -5-10 -5-6 -7-12 -1-1 -3-2 -4,3 -4,6 -4,6 -5,6 -4,7 -3,3 -1-1 -2-6 0-3 3-11 3-1 2-3 1-9 -1-9 2-15 -1-3 -6-7 -3,1 -5,6 -1,8 -6,9 -1,1 -2,4 -3-8 -3,1 -3,5 -1,4 -6,9 -2,9 -5,9 -1,3 -3,4 -2-1 0-3 1-9 7-42 0-3 -3-2 -10,17 -6,6 -4,6 1,6 -2,6 -8,15 -1,6 -2,6 0,6 -17,0 15-30 7-21 2-18 0-9 -1-6 -11-21 -11-12 -18-24 -27-30 -13-24 -4-6 -4-4 -6-4 -6-2 -6-1 -27,4 -24,0 -9,1 -6,3 -12,9 -5,6 -4,6 -2,9 0,9 6,18 1,9 -2,9 -9,21 -4,12 -3,24 -1,18 1,9 3,9 16,24 5,12 -30,0 0-21 -2-4 -1-5 -2-3 -2-6 -2-3 -2-6 -2-3 -1-4 -6-10 -3,1 -6,5 -15,2 -6-3 -3-4 -2-5 -4-6 -6-6 -6,1 -3,2 -3,9 -3-2 -12-5 -6,2 -6,0 -1-1 -2-2 -6-1 -1-3 1-3 3-3 1-3 -1-2 -3-1 -3,3 -6,2 -3,0 -3,3 -2,4 -5,9 -2,7 -2,2 -7,7 -9,12 -12,13 0-16 2-4 1-6 1-3 1-6 1-3 2-6 0-12 7-11 4-10 2-3 3-2 3-1 6,0 3-1 14-11 4-2 3,2 7,6 1,6 3,3 4,2 6,0 6,3 12,1 12,12 3,5 1,1 2,1 6,0 12-1 6-3 3,2 7,10 2,8 6,9 1-2 4-27 5-15 3-9 11-18 3-9 0-9 -6-33 1-6 1-3 2-3 8-6 12-7 9-5 12-3 31-3zM53,225l1,2 3-2 -3-1zM369,108l3,0 2,3 -1,3 -1,1 -3,0 -2-1 0-3 2-3zM372,140l3,1 1,3 -1,3 -3,1 -3-2 -1-2 2-3zM3,144l12-3 3,1 3,3 3,5 -1,3 -5,3 -7,6 -1,6 2,2 6-4 6,5 1,3 -1,3 -4,3 -5,6 -4,9 -6,6 -4,6 -4,4 -3,1 0-25 1-7 -1-2 0-11 3-1 3-3 3-1 6-6 -9,0 -6,2 0-11 8-3z"/>
<path fill="#5576F6" d="M753,51l3-1 1,1 2,4 0,5 -3,2 -3-1 -1-1 -1-3 2-6zM891,69l3,0 3,5 1,4 2,12 0,21 -1,6 -2,6 -3,4 -3,2 -3,1 -6-1 -6-4 -6-7 -4-10 -5-18 -1-6 2-6 2-3 3,0 9,2 3,0 3-1 8-7zM886,78l-4,3 -3,1 -9-1 -1,0 -3,3 0,3 1,5 5,13 4,5 3,2 3,1 3,0 3-2 3-4 1-5 2-18 -1-6 -2-2 -3,1zM261,75l12-3 6,1 6,3 18,14 9,12 12,21 15,15 15,22 5,5 4,3 6,2 6,1 9-3 6-6 9-14 3-3 6-1 3,0 6,3 12,6 9,7 18,14 4,6 5,18 0,12 4,12 0,9 3,9 2,2 9-8 6-2 15,2 6-3 9-2 15-1 6,2 9,2 12-1 18-7 15-10 9-9 9-15 3-3 11-4 4-3 6-7 3-7 1-7 1-27 1-9 4-9 5-5 6-2 9,0 15,1 15,2 6,0 9-2 14-9 13-6 6,0 9,2 21,9 12,4 23,15 3,3 4,5 8,16 3,6 7,7 6,5 6,3 3,1 12,2 9,0 9,3 15,14 3,4 6,21 0,9 1,3 9,27 1,9 5,24 5,13 2,8 -35,0 -2-12 -10-39 -5-15 -2-9 -6-12 -5-7 -3-3 -6-2 -3-3 -9-5 -15-17 -14-20 -12-24 -6-9 -6-6 -8-6 -17-10 -12-5 -9-2 -8,2 -19,11 -9,2 -9,1 -18-3 -12-1 -9,2 -5,3 -4,6 -1,6 -1,6 2,18 0,9 -2,9 -2,6 -5,6 -3,3 -6,3 -9,4 -6,3 -6,8 -9,14 -6,8 -7,8 -11,8 -12,6 -18,3 -6-1 -9-1 -9-2 -3,1 -3,8 -3,2 -9,2 -3,0 -6-1 -9-4 -3,0 -3,4 -3,1 -12-5 -2-3 -10-21 -1-6 -4-9 -4-6 -3-1 -3-4 -5-16 1-6 0-3 -2-3 -21-10 -3,0 -9,12 -10,7 -5,2 -6,0 -9-3 -6-3 -6-4 -9-9 -32-40 -16-27 -6-7 -7-5 -11-5 -9,0 -54,6 -9,2 -11,6 -14,9 -6,6 -1,3 -1,6 6,33 0,9 -3,9 -11,18 -3,9 -5,15 -4,27 -1,2 -6-9 -2-8 -7-10 -3-2 -6,3 -12,1 -6,0 -2-1 -1-1 -3-5 -12-12 -12-1 -6-3 -6,0 -4-2 -3-3 -1-6 -7-6 -3-2 -4,2 -14,11 -3,1 -6,0 -3,1 -3,2 -2,3 -4,10 -7,11 0,12 -2,6 -1,3 -1,6 -1,3 -1,6 -2,4 0-47 3-1 4-4 4-6 6-6 4-9 5-6 4-3 1-3 -1-3 -6-5 -6,4 -2-2 1-6 7-6 5-3 1-3 -3-5 -3-3 -3-1 -9,2 -12,4 0-12 9-3 9-1 12,3 3,2 3,4 3,0 3-1 2,2 0,3 -2,6 0,3 2,6 0,3 -2,3 -1,3 1,1 4-1 5-5 3,0 3,0 3,2 9,8 6,3 6,1 6,5 6,2 6,5 6,8 15,2 6-1 6-1 6,5 2,5 7,8 2-2 4-15 5-12 14-15 3-6 2-6 0-12 -3-12 -3-6 -7-9 -1-3 0-3 2-5 5-4 6-3 28-14 9-3 12-4 40-6zM369,101l3,0 3,1 3,2 2,4 1,6 -1,3 -2,3 -3,2 -6,1 -3-1 -3-2 -1-3 -1-3 1-6 1-3 4-3zM369,108l-2,3 0,3 2,1 3,0 1-1 1-3 -2-3 -3,0zM369,134l6-1 3,1 5,4 1,3 -1,6 -2,3 -3,3 -3,2 -6-1 -3-1 -2-3 -2-3 0-6 1-3 3-3zM370,141l-2,3 1,2 3,2 3-1 1-3 -1-3 -3-1zM450,139l3-1 3,0 6,3 3,2 3,7 0,3 -3,3 -3,1 -3-1 -3-2 -6-7 -1-3 0-3z"/>
<path fill="#557EF6" d="M261,21l9-2 9,0 9,2 6,4 3,5 1,6 -1,9 -2,15 1,9 4,6 9,11 18,23 6,5 6,2 6,0 3-1 3-2 7-11 5-5 6-2 6-1 5,2 3,3 3,6 4,11 2,4 3,3 4,3 21,7 6,1 6,0 12-3 6,0 9,4 6,4 3,4 3,7 0,6 -2,6 -1,6 6,24 12,24 3,2 9-5 3,0 12,1 21-3 18,3 21-2 18-5 6-3 3-3 1-3 1-6 -2-7 -3-5 -18-18 -3-2 -6-2 -15-1 -6-1 -6-3 -6-5 -3-5 -1-5 2-6 2-3 3-2 3,0 6-1 12,3 23,9 31,16 6,2 3-1 3-4 3-7 4-21 2-9 4-6 4-3 7-2 9-1 36,4 6-1 6-2 14-7 15-6 7-1 9,0 24,6 12,2 15,7 21,7 3,3 3,4 4,17 4,6 4,4 3,1 6,0 6-2 5-6 0-3 -2-9 -6-12 -2-6 -2-18 0-6 2-6 4-6 4-3 6,0 9,2 3,0 9-6 3,0 3,0 4,4 7,15 1,6 1,12 6,15 2,6 0,15 -2,18 -1,18 2,27 3,9 10,18 6,15 1,9 5,18 6,21 0,15 -19,0 -2-8 -5-13 -5-24 -1-9 -9-27 -1-3 0-9 -3-12 -3-9 -6-8 -9-8 -6-3 -6-2 -9,0 -12-2 -3-1 -6-3 -6-5 -7-7 -3-6 -8-16 -4-5 -3-3 -23-15 -12-4 -21-9 -9-2 -5,0 -7,3 -21,12 -9,2 -6,0 -18-2 -15-1 -9,1 -6,3 -3,4 -3,8 -1,9 -1,27 -2,9 -2,6 -6,6 -4,3 -11,4 -2,2 -4,5 -5,10 -4,5 -6,5 -15,10 -18,7 -9,1 -9-1 -9-3 -15,1 -9,2 -6,3 -15-2 -6,2 -9,8 -2-2 -2-6 -1-6 0-6 -4-12 0-12 -6-20 -3-4 -18-14 -9-7 -15-8 -6-1 -3,0 -3,1 -3,3 -9,14 -6,6 -9,3 -9-2 -6-3 -6-6 -15-22 -15-14 -4-7 -8-15 -6-9 -6-6 -18-13 -6-2 -6,1 -54,9 -18,6 -28,14 -8,4 -4,5 -1,3 0,3 1,3 7,9 4,9 2,12 0,9 -2,6 -3,6 -14,15 -5,12 -4,15 -2,2 -7-8 -2-5 -6-5 -6,1 -6,1 -15-2 -6-8 -6-5 -6-2 -6-5 -6-1 -6-3 -9-8 -3-2 -3,0 -3,0 -5,5 -4,1 -1-1 1-3 2-3 0-3 -2-6 0-3 2-6 0-3 -2-2 -3,1 -3,0 -3-4 -3-2 -12-3 -9,1 -9,3 0-7 9-2 12-1 12,3 6,4 6,2 7,4 -2,9 1,2 24,13 3,3 12,2 5,4 4,5 3,2 9,3 9,0 6-2 3,1 3,3 2,3 3,3 1,3 3,3 6-15 3-5 15-13 3-6 2-9 -2-6 -12-15 -1-3 0-6 1-6 3-6 10-12 4-6 2-6 1-9 1-2 5,5 4,2 6,1 3,0 9-3 33-15 7-6 7-18 3-6 7-6 6-3zM890,69l-8,7 -3,1 -3,0 -9-2 -3,0 -2,3 -2,6 1,6 5,18 4,10 6,7 6,4 6,1 3-1 3-2 3-4 2-6 1-6 0-21 -2-12 -1-4 -3-5 -3,0zM367,102l-4,3 -1,3 -1,6 1,3 1,3 3,2 3,1 6-1 3-2 2-3 1-3 -1-6 -2-4 -3-2 -3-1 -3,0zM366,135l-3,3 -1,3 0,6 2,3 2,3 3,1 6,1 3-2 3-3 2-3 1-6 -1-3 -5-4 -3-1 -6,1zM449,141l0,3 1,3 6,7 3,2 3,1 3-1 3-3 0-3 -3-7 -3-2 -6-3 -3,0 -3,1zM753,33l3-2 3,1 2,1 2,3 3,6 1,9 -1,6 -2,6 -2,2 -3,2 -7-1 -6-3 -2-3 0-6 1-6 3-9 4-6zM753,51l-2,6 1,3 1,1 3,1 3-2 0-5 -2-4 -1-1 -3,1z"/>
<path fill="#5486F6" d="M249,9l12-1 18,1 15,0 6,2 7,4 2,3 0,3 -2,9 -2,12 -1,18 1,6 3,9 6,9 10,11 6,5 6,3 3,1 6-1 6-3 9-7 6-3 9-3 6,1 6,3 3,4 3,8 3,5 6,7 8,5 7,4 6,1 24,1 8,3 7,5 6,6 3,5 2,8 0,9 0,6 4,12 2,6 10,12 3,3 3,1 3,1 21-4 15-5 15-8 2-3 0-3 -1-3 -7-8 -9-16 -3-6 -1-6 0-9 2-6 2-4 3-2 3-1 9,0 27,9 12,2 12,2 9-1 3-1 4-4 10-15 5-6 5-4 6-3 12,0 27,2 18,1 9-2 21-9 9-3 30-2 12,1 27,7 12,0 6-2 3-1 18-18 12-6 6-2 12,1 12-3 6,0 5,4 10,12 10,6 8,9 1,3 1,3 -1,12 2,51 3,42 6,33 3,9 3,5 0,40 -6-21 -5-18 -1-9 -6-15 -10-18 -4-12 -1-27 3-36 -1-15 -7-18 -1-15 -4-12 -5-8 -3-2 -3,0 -4,1 -8,5 -3,0 -9-2 -6,0 -4,3 -4,6 -2,6 0,6 2,18 2,6 6,12 2,9 0,3 -5,6 -6,2 -6,0 -3-1 -4-4 -4-6 -4-17 -3-4 -3-3 -21-7 -15-7 -12-2 -24-6 -9,0 -7,1 -15,6 -14,7 -6,2 -6,1 -36-4 -9,1 -7,2 -4,3 -4,6 -2,9 -4,21 -3,7 -3,4 -3,1 -6-2 -31-16 -23-9 -12-3 -6,1 -3,0 -3,2 -2,3 -2,6 1,5 3,5 6,5 6,3 6,1 15,1 6,2 3,2 18,18 3,5 2,7 -1,6 -1,3 -3,3 -6,3 -18,5 -21,2 -18-3 -21,3 -12-1 -3,0 -9,5 -3-2 -12-24 -6-24 1-6 2-6 0-6 -3-7 -3-4 -6-4 -9-4 -6,0 -12,3 -6,0 -6-1 -21-7 -4-3 -3-3 -2-4 -4-11 -3-6 -3-3 -5-2 -6,1 -6,2 -5,5 -7,11 -3,2 -3,1 -6,0 -6-2 -6-5 -18-23 -9-11 -4-6 -1-9 2-15 1-9 -1-4 -2-5 -4-4 -6-3 -9-1 -9,0 -6,2 -6,3 -7,6 -3,6 -7,18 -3,3 -4,3 -34,15 -8,3 -3,0 -6-1 -4-2 -5-5 -1,2 -1,9 -2,6 -4,6 -10,12 -3,6 -1,6 0,6 1,3 12,15 2,6 -2,9 -3,6 -15,13 -3,5 -6,15 -3-3 -1-3 -3-3 -2-3 -3-3 -3-1 -6,2 -9,0 -9-3 -3-2 -4-5 -5-4 -12-2 -3-3 -24-13 -1-2 2-9 -7-4 -6-2 -6-4 -12-3 -12,1 -9,2 0-4 9-3 12-1 6,0 9,3 6,4 12,4 5,4 1,3 -2,3 1,3 13,7 7,2 5,3 6,2 6,4 15,1 6,0 6-2 6,7 3,7 3,2 3-3 10-21 1-9 -1-15 0-6 4-12 9-18 2-6 0-6 0-12 2-10 6-15 18-30 3-2 3,0 3,0 12,5 12,2 9,0 3-1 12-6 9-3zM756,23l6,1 4,3 4,6 2,9 0,9 -1,6 -4,9 -2,3 -3,1 -6-1 -12-3 -3-3 -1-3 -1-9 5-15 3-7 3-3 3-2zM752,33l-4,6 -3,9 -1,6 0,6 2,3 6,3 7,1 3-2 2-2 2-6 1-6 -1-9 -3-6 -2-3 -2-1 -3-1 -3,2z"/>
<path fill="#558FF5" d="M186,-3l9-1 12,3 6,0 15-1 8-4 34,0 5,3 4,1 7-4 20,0 6,6 3,4 2,5 0,6 0,6 -4,12 -2,9 0,15 0,9 2,6 3,6 8,10 9,6 3,1 6,1 6-2 18-10 9-4 9-1 9,3 3,2 2,3 2,12 1,3 5,6 6,6 8,5 6,2 18,2 6,1 9,5 6,5 6,8 3,8 1,15 5,12 6,7 9,7 6,2 3,0 9-3 9-5 5-5 3-6 1-9 -4-21 -1-15 2-10 3-4 3-2 3-1 6,0 6,1 27,9 9,2 9-1 6-1 6-3 21-23 3-3 6-2 9,0 30,5 21,1 12-3 27-8 18-3 6-2 2-3 0-3 -5-3 -6-2 -9-1 -3-1 -3-8 0-9 4-18 5-11 6-7 12-8 3-1 3,3 6,16 4,14 0,12 -1,6 -3,6 0,4 3,5 4,3 20,7 12,1 12-3 21-14 12-5 6-1 12,1 15-1 6,2 12,11 13,5 5,3 3,3 4,6 3,9 3,48 5,28 0,76 -3-5 -3-9 -6-30 -3-45 -2-51 1-12 -1-3 -1-3 -8-9 -10-6 -10-12 -4-3 -4-1 -12,3 -15-1 -7,2 -11,6 -18,18 -3,1 -6,2 -12,0 -27-7 -12-1 -30,2 -9,3 -21,9 -9,2 -18-1 -27-2 -12,0 -6,3 -5,4 -5,6 -10,15 -4,4 -3,1 -9,1 -12-2 -12-2 -27-9 -9,0 -3,1 -3,2 -2,4 -2,6 0,9 1,6 3,6 9,16 7,8 1,3 0,3 -2,3 -15,8 -15,5 -21,4 -3-1 -3-1 -3-3 -10-12 -2-6 -4-12 0-6 0-9 -2-8 -3-5 -3-4 -9-6 -9-4 -24-1 -6-1 -7-4 -8-5 -6-7 -3-5 -3-8 -3-4 -6-3 -6-1 -6,2 -9,4 -12,9 -6,2 -6-1 -3-1 -9-7 -14-17 -3-6 -2-6 -1-6 1-18 2-12 2-9 0-3 -3-4 -3-2 -9-3 -39-1 -9,2 -9,3 -9,5 -6,1 -18-2 -12-5 -6,0 -4,3 -14,24 -6,11 -3,9 -2,10 0,12 0,6 -2,6 -9,18 -4,12 0,6 1,15 -1,9 -10,21 -3,3 -3-2 -3-7 -6-7 -6,2 -6,0 -15-1 -6-4 -6-2 -5-3 -7-2 -13-7 -1-3 2-3 -1-3 -5-4 -12-4 -6-4 -12-3 -15,1 -9,3 0-5 12-4 12,0 6,1 11,4 24,12 1,3 0,3 3,3 15,6 6,4 6,1 6,0 15-4 3,0 3,2 6,7 3,1 4-11 4-21 12-24 5-12 1-6 1-18 6-18 10-24 3-18 1-3 4-3 8-3zM753,24l-3,2 -3,3 -3,7 -5,15 1,9 1,3 3,3 12,3 6,1 3-1 2-3 4-9 1-6 0-9 -2-9 -4-6 -4-3 -6-1z"/>
<path fill="#5898F0" d="M168,-4l2-2 66,0 -8,4 -15,1 -6,0 -12-3 -6,0 -9,2 -3,2 -4,3 -2,6 0,9 -2,6 -10,24 -6,18 -1,18 -1,6 -5,12 -12,24 -4,21 -4,11 -3-1 -6-7 -3-2 -3,0 -15,4 -6,0 -6-1 -6-4 -15-6 -3-3 0-3 -1-3 -24-12 -9-3 -5-1 -12-1 -6,1 -9,3 0-5 9-2 6-1 18,2 12,4 18,9 6,3 3,3 1,3 17,8 6,1 6-1 9-2 6-3 3,1 3,4 3,0 6-17 12-16 4-8 3-9 3-9 2-18 15-42 1-9 -3-12 1-3 3-3zM273,-6l13,0 -7,4 -4-1 -5-3zM309,-6l36,0 -6,2 -3,2 -6,6 -3,6 -7,17 -3,12 -1,15 1,12 3,9 7,9 6,4 3,1 6,1 10-3 5-3 12-10 6-3 12,0 12,4 3,2 3,4 3,18 1,3 4,6 4,3 6,4 6,3 21,4 7,4 5,4 6,6 3,4 4,10 3,15 5,9 6,6 9,4 3,1 6-1 4-1 5-3 5-6 3-6 1-6 -1-6 -1-27 -2-15 1-3 5-3 7-2 9,1 30,10 9,2 6-1 9-2 6-4 6-7 9-9 4-6 5-10 3-2 3,0 3,0 15,8 10,4 11,3 6,0 15-1 12-1 30-8 15-2 3-1 3-2 -1-3 -5-3 -6,0 -6,2 -3-1 -3-7 -2-9 0-6 4-18 4-24 2-6 5-9 33,0 1,6 1,18 8,42 3,6 9,6 10,3 9-1 9-3 21-11 9-3 9-1 21,1 6,1 3,2 9,7 6,3 15,4 6,4 3,5 4,7 4,12 1,9 0,64 -5-28 -3-48 -2-6 -2-5 -6-7 -5-3 -13-5 -12-11 -6-2 -15,1 -12-1 -6,1 -12,5 -21,14 -12,3 -12-1 -20-7 -4-3 -3-5 0-4 3-6 1-6 0-12 -4-14 -6-16 -3-3 -3,1 -12,8 -6,7 -5,11 -4,18 0,9 3,8 3,1 9,1 6,2 5,3 0,3 -2,3 -6,2 -18,3 -27,8 -12,3 -21-1 -30-5 -9,0 -6,2 -3,3 -21,23 -6,3 -6,1 -9,1 -9-2 -27-9 -6-1 -6,0 -3,1 -3,2 -3,4 -2,10 1,15 4,21 -1,9 -3,6 -5,5 -9,5 -9,3 -3,0 -6-2 -9-7 -6-7 -5-12 -1-15 -3-8 -6-8 -6-5 -9-5 -6-1 -18-2 -6-2 -8-5 -6-6 -5-6 -1-3 -2-12 -2-3 -3-2 -9-3 -9,1 -9,4 -18,10 -6,2 -6-1 -3-1 -9-6 -8-10 -3-6 -2-6 0-9 0-15 2-9 4-12 0-6 0-6 -2-5 -3-4 -6-6zM348,-6l30,0 1,6 0,3 -2,3 -2,1 -3,0 -4-1 -11-8 -6-3 -5-1zM813,-4l3,4 -3,4 -3-1 -1-3 2-3zM819,29l3,1 -3,1 -1-1z"/>
<path fill="#5BA1EC" d="M159,-4l2-2 9,0 -6,6 -1,3 3,12 -2,12 -14,39 -3,21 -3,9 -6,14 -12,16 -6,17 -3,0 -3-4 -3-1 -6,3 -9,2 -6,1 -6-1 -17-8 -1-3 -2-3 -7-3 -21-10 -12-4 -15-1 -6,1 -9,2 0-4 9-2 6-1 18,2 9,2 24,12 9,4 5,5 7,4 3,1 15-2 9-4 3,0 3,1 3-2 5-10 13-12 3-6 2-6 7-27 7-18 7-24 1-12 -2-6 -3-6 -1-3 2-3zM339,-4l6-2 6,1 6,3 11,8 4,1 3,0 2-1 2-3 0-3 -1-6 10,0 0,3 -2,6 -3,3 -5,4 -6,1 -21-3 -6,0 -6,3 -3,2 -6,7 -4,7 -4,9 -2,15 2,15 2,6 4,6 3,3 5,3 6,1 6-2 8-5 10-12 6-3 9,0 12,3 6,2 6,4 3,5 2,7 3,15 3,6 3,3 4,3 5,3 19,6 6,2 10,7 5,5 3,5 5,11 3,12 4,7 6,6 9,3 6,0 6-3 6-6 3-7 1-12 0-15 -2-9 -5-10 -1-5 0-3 4-3 14-3 10,0 9,2 15,6 9,3 9,1 9-1 6-3 3-2 6-8 8-7 4-6 3-15 1-3 2-3 6-2 3,0 6,3 6,4 6,8 8,5 8,3 8,2 6,0 35-5 14-3 5-3 -3-2 -4-7 -4-15 0-3 5-15 0-12 -2-9 -6-15 -1-6 25,0 -5,9 -2,6 -4,24 -4,18 0,6 2,9 3,7 3,1 6-2 6,0 5,3 1,3 -3,2 -3,1 -15,2 -30,8 -12,1 -15,1 -6,0 -11-3 -10-4 -15-8 -3,0 -3,0 -3,2 -5,10 -4,6 -9,9 -6,7 -6,4 -9,2 -6,1 -9-2 -30-10 -9-1 -7,2 -5,3 -1,3 2,15 1,27 1,6 -1,6 -3,6 -5,6 -5,3 -4,1 -6,1 -3-1 -9-4 -6-6 -5-9 -3-15 -4-10 -3-4 -6-6 -5-4 -7-4 -21-4 -6-3 -6-4 -4-3 -4-6 -1-3 -3-18 -3-4 -3-2 -12-4 -12,0 -6,3 -12,10 -5,3 -10,3 -6-1 -3-1 -6-4 -3-3 -4-6 -3-9 -1-12 0-12 3-12 8-20 4-7 6-6zM780,-6l10,0 -2,6 0,9 5,33 2,8 3,6 3,4 6,5 6,3 6-1 33-12 9-2 24,0 9,2 16,11 5,2 15,2 3,2 3,2 9,15 0,22 -1-9 -3-9 -4-9 -4-6 -6-4 -12-3 -6-2 -9-7 -6-4 -6-1 -21-1 -9,1 -12,5 -21,10 -9,3 -6,0 -6-2 -9-4 -6-6 -2-6 -7-39 -1-18 -1-6zM801,-6l16,0 2,6 -1,3 -2,5 -5,7 0,3 11,6 3,3 1,3 -1,3 -3,2 -3,1 -6-1 -3-2 -2-3 -1-6 2-6 -5-6 -3-6 -2-12zM811,-3l-2,3 1,3 3,1 3-4 -3-4zM818,30l1,1 3-1 -3-1z"/>
<path fill="#5FAAE7" d="M153,-3l2-3 6,0 -5,6 1,3 3,6 2,6 0,9 -2,9 -8,24 -5,12 -6,24 -3,9 -6,9 -10,9 -5,10 -3,2 -3-1 -3,0 -9,4 -15,2 -3-1 -7-4 -5-5 -9-4 -21-11 -9-2 -18-3 -9,1 -9,2 0-4 9-2 6-1 30,5 21,11 12,4 5,3 4,4 3,1 9-1 15-5 3,0 3-2 4-6 11-9 4-6 3-6 3-15 13-27 6-21 1-12 -2-9 -5-9 -1-3 2-3zM390,-6l7,0 0,3 -3,9 -2,3 -5,4 -6,2 -6,0 -21,0 -6,0 -6,2 -3,2 -6,6 -6,11 -2,12 0,9 1,6 3,9 4,4 3,2 3,1 6,0 7-4 11-15 6-4 6-2 9,0 6,2 6,3 6,5 6,7 3,7 4,18 6,9 7,6 22,9 6,3 9,6 6,9 6,12 3,11 3,4 6,5 3,2 6,1 6-1 6-4 4-6 3-9 0-12 -1-7 -3-8 -5-9 -1-6 0-6 3-3 14-3 16-1 9,3 21,8 9,2 6,0 6-2 6-3 6-7 9-9 3-6 4-18 2-4 7-8 3-6 3-15 -2-18 0-12 1-3 3-3 3-1 3-1 3,1 3,2 2,5 1,3 -1,9 -5,18 -1,9 0,12 3,6 7,5 9,6 6,2 3,0 6-2 13-8 14-6 2,3 1,12 2,3 4,1 5-1 1-3 0-12 -1-3 -4-3 0-3 4-6 3-6 1-6 0-6 -5-9 -12-15 -1-3 -1-6 16,0 1,6 6,15 2,9 0,12 -5,15 0,3 4,15 4,7 3,2 -5,3 -14,3 -35,5 -6,0 -8-2 -8-3 -8-5 -6-8 -6-4 -6-3 -3,0 -6,2 -2,3 -1,3 -3,15 -4,6 -8,7 -6,8 -3,2 -6,3 -9,1 -9-1 -9-3 -15-6 -9-2 -10,0 -14,3 -4,3 0,3 1,5 5,10 1,6 2,12 -1,15 -3,9 -4,5 -6,4 -6,1 -9-2 -6-4 -3-3 -4-7 -3-12 -5-11 -3-5 -6-6 -8-5 -6-3 -22-7 -7-5 -3-3 -3-6 -3-15 -2-7 -3-5 -6-4 -6-2 -12-3 -9,0 -6,3 -10,12 -4,3 -4,2 -6,2 -6-1 -3-1 -3-3 -4-5 -3-6 -2-6 -1-9 1-9 3-14 3-6 4-7 5-5 3-2 6-3 6,0 21,3 6-1 5-4 3-3 1-3 1-6zM789,-4l1-2 9,0 2,12 3,6 5,6 -2,6 1,6 2,3 3,2 6,1 3-1 3-2 1-3 -1-3 -3-3 -11-6 0-3 5-7 2-5 1-3 -2-6 4,0 0,6 -2,12 0,3 1,3 6,6 2,3 0,3 0,3 -3,4 -3,2 -8,3 -5,3 -1,3 0,3 2,4 3,2 6,1 36-7 20-3 4-3 3-11 2-4 4-3 3,0 3,4 1,2 1,6 0,9 1,3 2,3 7,5 6,4 18,3 6,3 9,12 0,8 -9-14 -3-3 -6-3 -15-2 -6-3 -12-9 -6-1 -15-1 -12,0 -9,2 -33,12 -6,1 -6-3 -3-2 -5-6 -4-6 -2-6 -4-30 -1-12 1-6z"/>
<path fill="#62B3E2" d="M150,-3l2-3 3,0 -4,6 1,3 5,9 2,9 -1,12 -6,21 -13,27 -3,15 -3,6 -4,6 -11,9 -4,6 -3,2 -3,0 -15,5 -9,1 -3-1 -4-4 -5-3 -12-4 -21-11 -30-5 -6,1 -9,2 0-3 12-4 33,6 3,1 21,11 24,9 9-2 15-5 16-17 4-9 2-12 1-3 7-6 3-4 4-8 4-9 3-15 2-12 -2-9 -5-12 -1-3 1-3zM399,-6l7,0 0,9 -1,6 -3,10 -9,14 -1,3 9,18 10,18 3,8 3,13 3,6 4,6 5,4 24,11 6,3 6,5 6,8 9,22 3,4 6,5 6,2 6-1 6-4 4-5 2-6 1-9 -1-6 -2-6 -5-12 -2-9 0-6 1-3 2-2 3-1 9-3 21-1 9,3 21,8 9,1 6,0 9-3 15-14 3-6 5-21 7-12 3-9 1-12 1-27 1-5 2-4 30,0 -1,9 -3,15 -7,21 -1,6 0,6 2,3 5,5 6,3 6,1 6-1 15-5 15-5 3-1 3-3 3-6 2-6 -2-9 -4-6 -12-15 -7-12 13,0 1,6 1,3 14,18 3,6 0,9 -2,6 -6,9 0,3 4,3 1,3 0,12 -1,3 -5,1 -4-1 -2-3 -1-12 -2-3 -14,6 -16,9 -6,1 -6-2 -9-6 -6-4 -3-4 -1-6 0-12 6-24 1-6 -1-6 -2-5 -3-2 -3-1 -3,1 -3,1 -3,3 -1,3 0,12 2,18 -2,12 -4,9 -7,8 -2,4 -4,18 -3,6 -9,9 -6,7 -6,3 -6,2 -6,0 -9-2 -21-8 -9-3 -16,1 -14,3 -3,3 0,6 1,6 5,9 3,8 1,7 0,12 -3,9 -4,6 -6,4 -6,1 -6-1 -3-2 -6-5 -3-4 -3-11 -6-12 -6-9 -9-6 -6-3 -22-9 -7-6 -6-9 -4-18 -3-7 -6-7 -6-5 -6-3 -6-2 -9,0 -6,2 -6,4 -11,15 -7,4 -6,0 -3-1 -3-2 -4-4 -3-9 -1-6 0-9 2-12 3-6 4-6 7-6 7-3 6,0 21,0 6,0 6-2 5-4 2-3 2-6 1-6zM349,21l-7,4 -8,8 -4,9 -1,9 0,9 2,6 2,3 3,3 3,1 6,0 6-5 6-8 6-6 21-15 3-3 1-3 -6-6 -4-3 -6-3 -12-2 -9,1zM822,-6l2,0 0,3 -1,18 7,9 1,6 -1,6 -3,6 -2,3 -6,3 0,1 3,1 6-2 27,0 9-1 6-2 5-3 5-12 2-3 5-3 4,0 3,2 3,6 3,13 3,6 3,3 6,4 21,5 6,5 6,7 0,6 -6-9 -6-5 -6-2 -15-2 -6-4 -7-5 -2-3 -1-3 0-9 -1-6 -1-2 -3-4 -3,0 -4,3 -2,4 -3,11 -4,3 -20,3 -36,7 -3,0 -4-1 -2-3 -2-3 0-3 1-3 5-3 8-3 3-2 3-4 0-3 0-3 -2-3 -6-6 -1-3 0-3 2-12 0-6z"/>
<path fill="#66B9D4" d="M150,-6l2,0 -3,6 1,3 5,12 2,6 0,6 -3,15 -3,12 -3,6 -7,12 -7,6 -1,3 -3,15 -3,6 -2,3 -14,14 -15,5 -9,2 -24-9 -21-11 -33-6 -6,0 -9,3 0-4 9-3 6,0 15,4 18,2 24,13 12,4 9,2 9-1 15-7 9-8 4-6 4-9 2-12 1-3 7-4 3-2 6-9 4-9 3-15 1-9 -1-9 -7-18 2-6zM408,-6l5,0 1,12 -2,15 -6,18 0,12 1,6 7,18 7,21 4,6 6,6 28,14 6,5 7,8 8,21 3,4 6,4 6,1 6-1 3-2 4-6 2-6 0-6 -1-6 -5-12 -2-6 -1-15 1-3 2-3 6-3 6-2 22-1 11,2 21,8 12,1 6,0 6-3 12-11 2-3 3-6 4-18 8-21 2-12 1-27 1-6 1-3 4,0 -2,4 -1,5 -1,27 -1,12 -3,9 -7,12 -5,21 -3,6 -15,14 -9,3 -6,0 -9-1 -21-8 -9-3 -21,1 -9,3 -3,1 -2,2 -1,3 0,6 2,9 5,12 2,6 1,6 -1,9 -2,6 -4,5 -6,4 -6,1 -6-2 -6-5 -3-4 -9-22 -6-8 -6-5 -6-3 -24-11 -5-4 -4-6 -3-6 -3-13 -3-8 -10-18 -9-18 1-3 6-8 5-10 2-12 0-9zM663,-6l28,0 7,12 14,18 3,9 0,6 -1,3 -3,6 -3,3 -6,2 -12,4 -12,4 -9,2 -9-2 -6-4 -3-5 -1-4 1-9 7-24 3-15 1-6zM676,3l-4,2 -4,4 -5,18 -6,12 -3,6 1,3 1,3 4,3 6,1 6,0 18-5 12-1 3-1 3-3 0-3 -1-9 -5-9 -15-16 -6-5 -3,0zM825,-6l2,0 0,18 1,3 6,12 2,12 4,3 6,2 9,1 6,0 6-2 6-4 6-11 3-4 6-3 3,0 3,2 3,5 4,14 5,8 3,3 6,3 18,4 3,2 9,9 0,4 -6-7 -6-5 -18-4 -6-3 -3-2 -5-6 -5-18 -2-4 -3-2 -4,0 -5,3 -2,3 -5,12 -5,3 -6,2 -9,1 -27,0 -6,2 -3-1 0-1 6-3 2-3 3-6 1-6 -1-6 -7-9 1-15 0-6zM351,20l9-1 12,2 6,3 4,3 6,6 -1,3 -3,3 -21,15 -6,6 -6,8 -6,5 -6,0 -3-1 -3-3 -2-3 -2-6 0-9 1-9 4-9 8-8 7-4zM349,27l-7,5 -5,7 -2,6 -2,9 0,6 3,6 3,1 3,1 3-2 4-3 8-11 10-10 4-6 0-3 -1-3 -4-4 -6-2 -3,0 -6,2z"/>
<path fill="#6ABFC5" d="M147,-5l1-1 1,0 -2,6 7,18 1,6 0,9 -4,18 -4,9 -6,9 -3,2 -7,4 -1,3 -2,12 -4,9 -4,6 -9,8 -15,7 -9,1 -9-2 -12-4 -24-13 -18-2 -15-4 -6,0 -9,3 0-2 9-4 3,0 6,1 12,4 21,2 21,12 15,4 6,1 6-1 15-5 9-8 6-7 2-6 3-15 1-2 9-4 3-3 5-6 2-6 4-15 2-12 -3-12 -4-12 0-6zM414,-6l6,0 1,9 -3,18 -6,15 -1,6 -1,12 2,9 10,30 4,7 6,6 8,5 19,10 7,5 6,9 8,19 3,4 3,3 6,1 6,0 3-2 4-4 2-6 0-6 -1-6 -7-12 0-12 -1-9 0-3 2-3 4-3 6-3 6-1 21-1 11,2 25,8 9,1 6-1 6-3 9-8 5-9 11-39 3-15 2-30 0-3 4,0 -2,9 -1,24 -2,15 -8,21 -4,18 -3,6 -2,3 -12,11 -6,3 -6,0 -12-1 -21-8 -11-2 -22,1 -6,2 -6,3 -2,3 -1,3 1,15 2,6 5,12 1,6 0,6 -2,6 -4,6 -3,2 -6,1 -6-1 -6-4 -3-4 -8-21 -7-8 -6-5 -28-14 -6-6 -4-6 -7-21 -7-18 -2-9 0-6 1-6 6-15 2-9 0-9 -1-9zM828,-6l2,0 2,6 0,12 1,6 7,16 5,5 7,3 6,0 6,0 3-2 5-4 4-7 4-5 5-4 6,0 3,1 3,4 7,20 5,5 3,2 6,3 12,2 6,2 9,8 0,4 -8-8 -4-3 -18-4 -8-5 -3-3 -3-6 -4-14 -3-5 -3-2 -3,0 -6,3 -3,4 -6,11 -6,4 -6,2 -6,0 -9-1 -6-2 -4-3 -2-12 -6-12 -1-3 0-18zM678,3l3,0 6,5 15,16 5,9 1,9 0,3 -3,3 -3,1 -12,1 -18,5 -6,0 -6-1 -4-3 -1-3 -1-3 3-6 6-12 5-18 4-4 4-2zM678,24l-10,18 1,2 3,1 3-1 9-4 7-1 2-1 1-2 -1-4 -5-5 -7-4 -3,0zM351,26l6-2 3,0 6,2 4,4 1,3 0,3 -4,6 -10,10 -8,11 -4,3 -3,2 -3-1 -3-1 -3-6 0-6 2-9 2-6 5-7 7-5zM357,30l-12,9 -3,3 -1,3 -3,12 1,3 3,1 3-3 9-14 7-8 1-3 -1-3 -4,0z"/>
<path fill="#6EC4B6" d="M147,-6l1,0 -2,6 1,3 4,12 3,12 -2,15 -5,16 -6,8 -3,3 -9,4 -1,2 -1,9 -3,9 -3,6 -4,4 -9,8 -12,5 -9,1 -9-1 -12-4 -21-12 -21-2 -12-4 -6-1 -3,0 -9,4 0-4 9-4 3,0 15,6 6,1 18,0 6,3 15,10 15,4 6,1 6-1 15-5 9-8 5-7 2-6 2-12 1-3 2-2 9-3 3-3 3-3 3-7 4-15 1-12 -1-9 -6-18 1-6zM423,-6l3,0 0,9 -4,18 -7,18 -2,12 0,6 2,9 8,24 5,9 6,6 9,6 19,11 6,4 4,6 8,20 3,5 3,2 6,1 5-1 4-3 2-3 2-6 -1-6 -2-6 -6-9 -1-3 2-6 0-3 -1-6 -3-6 6-6 5-3 8-3 16-1 15,1 27,7 12,2 6-1 6-3 6-5 3-3 4-9 10-39 3-18 1-27 3,0 -1,9 -1,24 -2,12 -12,42 -5,9 -9,8 -6,3 -6,1 -9-1 -25-8 -11-2 -21,1 -6,1 -6,3 -4,3 -2,3 0,3 1,9 0,12 7,12 1,6 0,6 -2,6 -4,4 -3,2 -6,0 -6-1 -3-3 -3-4 -8-19 -6-9 -7-5 -19-10 -8-5 -6-6 -4-7 -10-30 -2-12 1-12 6-15 2-9 2-12 -1-9zM831,-6l3,0 2,6 0,15 3,9 4,8 6,5 9,3 6-1 3-1 3-3 6-8 6-6 6-3 3,0 3,1 3,4 7,19 5,7 6,3 3,1 18,4 9,7 0,3 -9-8 -6-2 -12-2 -6-3 -3-2 -5-5 -7-20 -3-4 -3-1 -6,0 -5,4 -4,5 -4,7 -5,4 -3,2 -6,0 -6,0 -7-3 -5-5 -7-16 -1-6 0-12 -2-6zM678,23l3,0 7,4 5,5 1,4 -1,2 -2,1 -7,1 -9,4 -3,1 -3-1 -1-2 10-18zM357,30l4,0 1,3 -1,3 -7,8 -9,14 -3,3 -3-1 -1-3 3-12 1-3 3-3 12-9z"/>
<path fill="#72CAA7" d="M145,-3l0,3 6,18 1,9 -1,12 -4,15 -3,7 -3,3 -3,3 -9,3 -2,2 -1,3 -2,12 -2,6 -5,7 -9,8 -15,5 -6,1 -6-1 -15-4 -15-10 -6-3 -18,0 -6-1 -15-6 -3,0 -9,4 0-3 9-5 6,2 12,5 6,2 18-2 6,3 15,11 9,3 6,2 6,0 6,0 9-4 6-3 9-8 3-4 3-8 3-13 3-2 6-3 6-4 3-4 3-6 3-10 1-12 -1-12 -6-18 1-6 1,0zM429,-6l3,0 -1,9 -13,33 -2,15 0,6 1,9 5,18 7,12 6,7 16,11 14,8 5,4 3,6 7,18 3,5 3,2 6,1 5-2 3-3 2-6 0-6 -2-6 -9-9 -1-3 2-1 3-5 0-3 -1-3 -2-3 -3-2 -6,2 -1-3 1-4 3-2 6-2 13-7 11-3 12,0 12,2 39,7 9-1 4-2 5-3 5-6 3-6 6-21 5-30 2-33 3,0 -1,27 -3,18 -10,39 -4,9 -3,3 -6,5 -6,3 -6,1 -12-2 -27-7 -15-1 -16,1 -8,3 -5,3 -6,6 3,6 1,6 0,3 -2,6 1,3 6,9 2,6 1,6 -2,6 -2,3 -4,3 -5,1 -6-1 -3-2 -3-5 -8-20 -4-6 -6-4 -19-11 -9-6 -8-9 -5-9 -6-21 -2-9 0-6 2-12 7-18 4-15 1-6 -1-6zM834,-6l3,0 2,6 -1,12 2,9 3,6 6,7 3,2 6,2 6-1 3-2 3-3 6-7 4-4 5-3 6-1 3,1 3,3 8,21 5,6 8,4 15,3 5,2 7,5 0,2 -9-7 -18-4 -3-1 -6-3 -5-7 -7-19 -3-4 -3-1 -3,0 -6,3 -6,6 -6,8 -3,3 -3,1 -6,1 -9-3 -6-5 -6-11 -2-9 1-12 -2-6zM480,112l1,5 2,3 0,2 -3,0 -2-2 -1-3 2-3z"/>
<path fill="#73CA9A" d="M144,-6l1,0 -1,6 6,18 1,12 -2,15 -4,12 -4,5 -3,3 -9,4 -3,2 -3,13 -2,6 -4,6 -3,3 -6,5 -6,3 -9,4 -6,0 -9-1 -9-3 -9-5 -9-7 -6-3 -18,2 -6-2 -15-6 -3-1 -3,1 -6,4 0-3 6-3 6-1 3,1 12,6 6,2 6,0 9-3 3,0 3,1 18,13 6,3 9,2 6,1 6-1 12-5 9-6 4-4 4-9 2-9 2-5 3-3 9-5 3-2 3-4 3-8 3-12 0-9 -1-9 -6-18 1-6zM432,-6l5,0 -1,9 -14,30 -4,12 0,15 3,15 6,15 4,6 6,6 16,12 18,8 12-24 21-10 6-2 6,0 12,0 24,4 27,3 9-2 8-4 4-5 3-5 5-17 6-36 1-12 0-18 3,0 -1,27 -3,21 -8,33 -3,7 -3,5 -3,3 -5,3 -4,2 -6,1 -9-1 -33-6 -12-2 -12,0 -9,2 -15,8 -7,2 -2,3 -1,3 1,3 6-2 3,2 2,3 1,3 0,3 -3,5 -2,1 1,3 9,9 2,9 -1,6 -1,3 -3,3 -5,2 -6-1 -3-2 -3-5 -7-18 -3-6 -5-4 -9-5 -15-9 -7-6 -7-9 -6-12 -5-18 0-6 0-9 2-12 13-33 1-9zM484,111l-1,3 0,3 3,3 3,1 3-2 1-2 0-3 -1-3 -3-2 -3,0zM479,114l-2,3 1,3 2,2 3,0 0-2 -2-3 -1-5zM473,126l4,15 3,7 3,5 3,2 6,0 4-2 3-3 1-3 0-3 -1-6 -4-7 -6-4 -15-3zM837,-6l2,0 2,6 0,12 1,9 4,7 6,5 6,3 6-1 3-2 9-10 6-5 6-2 3,0 3,1 3,3 3,6 5,13 3,6 3,3 4,2 6,2 15,3 9,5 0,2 -9-6 -18-4 -8-4 -5-6 -8-21 -3-3 -3-1 -6,1 -5,3 -4,4 -6,7 -3,3 -3,2 -6,1 -6-2 -3-2 -6-7 -3-6 -2-9 1-12 -2-6z"/>
<path fill="#73C88F" d="M143,-3l1,6 5,15 1,9 0,9 -3,12 -3,8 -3,4 -3,2 -9,5 -3,3 -2,5 -2,9 -4,9 -4,4 -9,6 -12,5 -6,1 -6-1 -9-2 -6-3 -18-13 -3-1 -3,0 -9,3 -6,0 -6-2 -12-6 -6-1 -9,4 0-3 9-3 6,1 6,2 9,5 6,1 6-1 6-3 3-1 3,1 21,16 12,4 6,1 6-1 12-5 6-4 5-4 5-9 2-10 2-5 16-12 3-4 2-5 3-12 0-9 -1-9 -5-18 0-6 1,0zM438,-6l3,0 -1,9 -11,18 -7,18 -2,15 1,12 5,17 4,7 5,7 6,6 11,8 7,4 6,2 3,0 3-2 12-18 19-10 8-3 15,0 27,5 24,1 9-1 6-2 3-2 4-4 3-6 5-15 4-18 2-21 1-9 -1-18 3,0 0,27 -5,30 -6,24 -4,7 -4,5 -8,4 -9,2 -27-3 -24-4 -12,0 -6,0 -6,2 -21,10 -12,24 -18-8 -16-12 -6-6 -5-8 -6-16 -2-15 1-15 5-15 12-24 1-9zM840,-6l1,0 1,6 1,12 1,9 4,6 4,4 6,3 6-1 3-2 9-9 6-5 6-2 6,0 3,3 3,6 7,18 5,5 6,4 19,3 8,4 0,2 -9-5 -15-3 -6-2 -4-2 -3-3 -3-6 -5-13 -3-6 -3-3 -3-1 -3,0 -6,2 -6,5 -9,10 -3,2 -6,1 -6-3 -6-5 -4-7 -1-9 0-12 -2-6zM486,109l3,0 3,2 1,3 0,3 -1,2 -3,2 -3-1 -3-3 0-3 1-3zM484,114l1,3 1,1 3,1 2-2 1-3 -3-3 -3,0zM474,124l15,3 6,4 4,7 1,6 0,3 -1,3 -3,3 -4,2 -6,0 -3-2 -3-5 -3-7 -4-15zM477,129l-1,3 1,6 3,8 3,6 3,1 6,0 4-3 2-5 0-4 -2-6 -4-5 -3-1 -3-1 -6,0z"/>
<path fill="#72C584" d="M142,-3l1,6 5,15 1,9 0,9 -3,12 -2,5 -3,4 -16,12 -2,5 -2,10 -5,9 -5,4 -6,4 -12,5 -6,1 -6-1 -12-4 -21-16 -3-1 -12,5 -6,0 -3-1 -9-5 -6-2 -6-1 -9,3 0-2 9-3 6,1 6,1 9,6 6,1 5-1 7-4 3-1 3,0 21,18 9,3 6,1 6,1 6-2 15-7 3-3 4-6 3-6 2-9 1-3 5-5 10-7 4-6 3-6 2-9 0-9 -2-12 -4-15 0-6 1,0zM444,-6l2,0 0,3 -3,9 -11,14 -4,7 -4,9 -2,15 0,12 2,9 4,9 4,8 5,7 6,6 10,8 6,3 6,2 3-1 3-2 3-4 6-9 3-3 18-10 9-4 6,0 9,0 27,6 27-1 9-3 6-3 3-4 3-5 5-15 3-21 2-18 -1-24 3,0 1,24 -5,36 -5,18 -3,6 -6,7 -3,2 -6,2 -9,1 -24-1 -27-5 -15,0 -8,3 -19,10 -12,18 -3,2 -3,0 -6-2 -7-4 -11-8 -6-6 -5-7 -4-7 -5-17 -1-12 2-15 7-18 10-15 2-6 0-6zM843,-5l1,17 1,6 4,7 5,5 4,2 6-1 3-1 9-10 6-4 6-3 6,1 4,4 10,24 4,5 6,3 18,3 9,4 0,1 -8-4 -19-3 -6-4 -3-2 -4-6 -5-15 -3-6 -3-3 -3-1 -3,1 -6,2 -6,5 -9,9 -3,2 -6,1 -6-3 -6-7 -2-6 -2-18 -1-6 2,0zM486,111l3,0 3,3 -1,3 -2,2 -3-1 -1-1 -1-3zM486,114l0,1 3,1 0-3 -3,1zM480,128l6,0 3,1 3,1 4,5 2,6 0,4 -2,5 -4,3 -6,0 -3-1 -3-6 -3-8 -1-6 1-3zM479,132l-1,3 0,3 2,6 3,6 3,1 3,0 3-1 3-3 1-3 0-6 -1-3 -3-3 -3-2 -6,0 -3,1z"/>
<path fill="#71C279" d="M141,-6l1,0 0,6 4,15 2,12 -1,12 -3,11 -5,7 -10,7 -5,5 -1,3 -3,12 -3,5 -3,4 -3,3 -12,6 -6,2 -6,1 -9-2 -9-3 -21-18 -3,0 -12,6 -6,0 -3-1 -9-6 -3-1 -9-1 -9,3 0-2 9-2 9,0 6,3 6,4 3,1 3,0 3-1 9-5 3-1 6,2 18,16 9,4 6,2 6,0 6-2 15-7 4-4 4-6 3-12 1-3 3-3 14-12 5-9 2-9 0-12 -2-12 -4-12 0-6zM447,-6l3,0 -1,6 -2,6 -2,3 -11,12 -5,8 -3,7 -2,15 0,12 5,15 4,9 5,7 6,6 9,7 6,4 6,1 6-3 8-10 4-5 18-10 9-4 6,0 6,0 30,6 27-2 6-2 8-4 4-5 2-4 4-12 3-19 2-20 0-9 -2-15 3,0 1,24 -4,35 -2,10 -4,9 -3,5 -3,4 -6,3 -9,3 -27,1 -27-6 -9,0 -6,0 -9,4 -18,10 -3,3 -6,9 -3,4 -3,2 -3,1 -6-2 -6-3 -10-8 -6-6 -5-7 -4-8 -4-9 -2-9 0-12 2-15 4-9 4-7 11-14 2-6 1-6zM843,-6l1,0 1,15 2,9 3,6 5,4 6,2 3,0 3-2 15-14 6-2 6,1 3,2 2,3 8,21 5,7 3,2 6,2 18,3 6,2 0,2 -9-4 -18-3 -6-3 -4-5 -10-24 -4-4 -6-1 -6,3 -6,4 -9,10 -3,1 -6,1 -4-2 -5-5 -4-7 -2-24zM486,114l3-1 0,3 -3-1 0-1zM480,131l3-1 6,0 3,2 3,3 1,3 0,6 -1,3 -3,3 -3,1 -3,0 -3-1 -3-6 -2-6 0-3 1-3zM482,132l-2,3 0,6 3,6 3,2 3,0 3-2 2-3 1-6 -2-3 -4-3 -3-1 -3,1z"/>
<path fill="#6FBF6E" d="M141,-3l6,27 0,12 -2,9 -5,9 -14,12 -3,3 -1,3 -3,12 -4,6 -4,4 -15,7 -6,2 -6,0 -6-2 -9-4 -18-16 -3-2 -3,0 -3,1 -9,5 -3,1 -3,0 -3-1 -6-4 -6-3 -9,0 -9,2 0-2 9-2 9,0 5,2 10,6 3,0 3-1 9-6 3-1 3,1 6,4 15,14 6,3 9,3 9,0 15-6 3-2 5-6 7-19 3-3 12-11 4-6 2-5 2-7 0-9 -2-12 -4-15 0-6 1,0zM450,-6l4,0 -1,6 -3,6 -4,6 -7,6 -4,4 -6,11 -3,15 0,12 2,9 3,9 5,9 4,6 7,7 9,7 6,3 3,0 3-1 3-2 9-11 6-5 15-9 9-4 11,0 19,4 12,2 24-2 9-2 6-4 6-8 3-7 2-7 3-36 0-9 -2-15 3,0 2,15 0,9 -4,36 -4,13 -3,6 -4,5 -8,4 -6,2 -27,2 -30-6 -6,0 -6,0 -9,4 -18,10 -4,5 -8,10 -6,3 -6-1 -6-4 -9-7 -6-7 -5-6 -4-9 -3-9 -2-9 0-12 3-15 3-6 5-8 9-8 3-5 2-6 1-6zM846,-5l1,14 1,6 2,6 5,5 6,2 3,0 6-4 12-11 6-3 3,0 3,1 3,2 3,6 7,20 5,6 3,2 6,2 15,2 9,3 0,1 -9-3 -15-2 -6-2 -3-2 -5-7 -8-21 -2-3 -3-2 -6-1 -6,2 -15,14 -3,2 -3,0 -6-2 -5-4 -3-6 -2-9 -1-15 2,0zM483,132l3-1 3,1 4,3 2,3 -1,6 -2,3 -3,2 -3,0 -3-2 -3-6 0-6 2-3zM482,135l-1,3 2,6 3,3 3-1 3-2 1-3 0-3 -1-3 -3-2 -3,0 -3,1z"/>
<path fill="#6CBA63" d="M140,-3l4,18 2,9 0,9 -2,10 -2,5 -4,6 -12,11 -3,3 -7,19 -5,6 -3,2 -15,6 -9,0 -9-3 -6-3 -15-14 -6-4 -3-1 -3,1 -9,6 -3,1 -3,0 -10-6 -5-2 -9,0 -9,2 0-2 9-2 6,0 6,1 9,5 3,1 3,0 12-5 5-1 7,3 15,15 9,5 9,1 6,0 15-6 3-1 4-5 3-6 2-9 3-5 15-15 3-4 2-6 2-9 0-9 -1-9 -5-18 0-3 1,0zM456,-6l1,0 0,6 -3,6 -5,6 -11,10 -6,9 -3,11 -1,15 1,7 3,9 3,8 6,9 5,6 6,6 7,5 3,1 6-1 3-2 9-11 9-7 15-8 6-2 9-1 21,5 12,1 24-2 6-1 6-4 4-3 3-6 3-6 2-9 2-30 0-9 -2-18 3,0 2,15 -1,21 -3,27 -4,11 -6,8 -6,4 -9,2 -24,2 -12-2 -19-4 -11,0 -9,4 -15,9 -6,5 -9,11 -3,2 -3,1 -3,0 -6-3 -9-7 -7-7 -4-6 -5-9 -3-9 -2-9 0-12 3-15 3-6 4-6 13-12 4-9 1-6zM846,-6l2,0 -1,12 2,9 3,6 3,3 6,2 3,0 6-4 12-11 6-4 3,0 3,1 3,3 3,7 4,12 4,9 4,5 6,4 21,3 6,2 0,1 -9-3 -15-2 -6-2 -3-2 -5-6 -7-20 -3-6 -3-2 -3-1 -3,0 -6,3 -12,11 -6,4 -3,0 -6-2 -5-5 -2-6 -2-9 0-12zM483,134l3-1 3,0 3,2 1,3 0,3 -1,3 -3,2 -3,1 -3-3 -2-6 1-3zM486,135l-3,3 1,3 2,2 3,0 2-2 1-3 -3-3 -3,0z"/>
<path fill="#69B658" d="M138,-6l1,0 1,6 3,12 2,12 0,12 -3,9 -6,9 -13,13 -3,5 -3,12 -4,6 -5,3 -9,4 -6,2 -6,0 -9-1 -6-3 -6-5 -12-12 -6-3 -3,0 -3,1 -12,5 -3,0 -9-4 -6-2 -9-1 -9,2 0-2 9-1 9,0 15,6 3,0 12-5 6,0 4,1 4,3 10,10 6,5 9,4 6,1 6,0 15-6 3-2 5-6 4-12 3-6 15-15 4-9 2-9 0-9 -6-30zM459,-6l2,0 0,3 -2,6 -8,9 -10,9 -6,9 -4,12 -1,12 1,6 2,9 4,9 5,9 9,12 5,4 6,3 3,0 3-1 3-2 9-10 6-5 12-8 9-4 6-1 6,0 21,4 12,1 6-1 15,0 6-1 6-3 3-3 5-6 2-6 2-9 3-27 -3-30 3,0 2,21 0,18 -3,24 -2,6 -3,6 -6,6 -6,4 -6,1 -24,2 -12-1 -21-5 -9,1 -9,3 -15,9 -6,5 -9,11 -3,2 -3,1 -6-1 -6-4 -7-7 -5-6 -6-9 -3-8 -3-9 -1-7 1-15 4-12 5-8 11-10 5-6 3-6 0-6zM849,-6l-1,9 2,9 2,6 3,4 3,2 6,0 6-3 11-12 4-6 3-1 6,1 3,5 10,28 5,8 6,3 21,3 6,2 0,1 -9-3 -18-2 -6-4 -3-3 -3-5 -6-18 -3-7 -3-3 -3-1 -3,0 -6,4 -15,14 -3,1 -3,0 -6-2 -5-6 -2-6 -1-9 1-9zM486,135l3,0 3,3 -1,3 -2,2 -3,0 -2-2 -1-3 3-3z"/>
<path fill="#66B14E" d="M138,-4l6,28 0,9 -2,9 -4,9 -15,15 -3,6 -4,12 -5,6 -3,2 -15,6 -6,0 -6-1 -9-4 -6-5 -10-10 -4-3 -4-1 -6,0 -12,5 -3,0 -15-6 -9,0 -9,1 0-1 9-2 6,0 6,1 9,4 6,1 12-4 6-1 7,3 16,15 4,3 6,2 6,1 6,0 6-1 9-4 3-2 4-5 4-12 4-6 13-15 5-9 2-9 0-9 -2-12 -4-15 0-3 1,0zM462,-6l1,0 1,3 -2,6 -5,6 -16,15 -4,6 -3,9 -1,12 0,6 2,9 3,9 5,9 5,9 5,6 6,4 3,1 3,0 3-1 17-16 16-10 6-3 12,0 22,4 8,1 9-2 15,0 9-3 3-2 5-6 3-6 2-12 2-24 -3-30 3,0 2,27 0,18 -3,18 -2,6 -3,6 -6,6 -6,3 -6,1 -15,0 -6,1 -12-1 -21-4 -6,0 -6,1 -9,4 -12,8 -6,5 -9,10 -3,2 -3,1 -3,0 -6-3 -8-7 -4-6 -6-9 -4-9 -3-9 -1-9 1-12 4-12 6-9 10-9 6-6 3-6 1-6zM849,-6l2,0 -1,9 1,9 3,6 4,4 6,1 6-4 8-10 3-9 1-2 3,0 6,1 3,1 3,3 8,27 4,9 3,4 6,4 21,2 6,2 0,1 -9-2 -18-3 -6-3 -5-8 -10-28 -3-5 -6-1 -3,1 -4,6 -11,12 -6,3 -6,0 -4-3 -3-6 -2-9 0-9z"/>
<path fill="#63AD43" d="M137,-3l4,15 2,12 0,9 -2,9 -5,9 -13,15 -4,6 -4,12 -4,5 -3,2 -9,4 -6,1 -6,0 -6-1 -6-2 -4-3 -16-15 -7-3 -6,1 -12,4 -3,0 -12-5 -6-1 -6,0 -9,2 0-2 12-2 9,2 12,4 3,0 15-4 6,0 6,3 15,15 9,5 6,1 6,0 6-1 9-4 3-2 3-4 6-15 17-21 4-8 1-7 0-9 -1-9 -5-18 0-3 1,0zM465,-6l1,0 0,6 -3,6 -19,18 -4,6 -3,9 -1,9 0,6 1,9 3,9 4,9 5,9 4,6 6,5 3,2 3-1 3-1 15-14 18-12 6-2 12-1 15,3 15,1 9-1 12,1 9-2 6-5 4-6 3-9 2-9 1-12 0-9 -3-30 2,0 3,33 -1,18 -3,15 -5,9 -6,5 -9,3 -15,0 -9,2 -8-1 -22-4 -12,0 -6,3 -16,10 -17,16 -3,1 -3,0 -3-1 -6-4 -5-6 -5-9 -5-9 -3-9 -2-9 0-6 1-12 3-9 7-9 16-15 3-6 0-6zM852,-6l1,0 -2,9 1,8 3,6 3,2 3,2 3,0 3-1 5-5 3-6 2-9 1-3 4-3 6,0 6,4 3,2 8,30 4,8 3,4 6,4 21,3 6,1 0,1 -9-2 -15-2 -6-2 -3-2 -3-4 -4-9 -8-27 -3-3 -3-1 -6-1 -3,0 -1,2 -3,9 -8,10 -6,4 -6-1 -4-4 -3-6 -1-9 1-9z"/>
<path fill="#60A838" d="M135,-6l1,0 4,18 2,12 0,12 -3,9 -4,6 -15,18 -5,12 -4,7 -3,2 -6,3 -6,2 -6,0 -9-1 -6-3 -6-4 -12-13 -6-3 -6,0 -15,4 -3,0 -15-5 -9-1 -9,2 0-1 9-2 6,0 6,1 12,5 18-4 6,0 6,2 14,15 5,3 5,3 6,1 6,0 9-2 6-3 3-2 3-5 6-14 16-20 4-9 2-9 -1-9 -6-27zM468,-6l-1,6 -2,7 -3,4 -15,13 -4,6 -3,6 -1,9 0,12 5,15 6,14 4,7 5,6 3,1 3,0 3-2 12-11 9-5 12-9 6-2 9,0 15,2 9-1 15,0 15,2 6-1 6-4 5-6 2-6 3-12 2-9 0-15 -5-27 3,0 3,27 0,12 -2,15 -3,12 -5,9 -6,5 -9,2 -12-1 -9,1 -15-1 -15-3 -12,1 -6,2 -18,12 -15,14 -3,1 -3,1 -3-2 -6-5 -4-6 -5-9 -4-9 -3-9 -1-9 0-6 1-9 3-9 7-9 15-14 3-5 1-8zM852,-3l1-3 3,0 -4,9 1,6 2,5 3,3 3,1 3,1 3-1 3-3 2-3 1-6 2-12 7,0 -4,3 -1,3 -2,9 -3,6 -3,3 -5,3 -3,0 -3-2 -4-4 -2-4 -1-5 1-9zM888,-6l4,0 6,6 7,27 3,9 4,5 3,3 6,2 18,2 6,1 0,1 -9-2 -15-1 -6-2 -3-3 -3-4 -4-8 -8-30 -6-4 -4-2z"/>
<path fill="#64A937" d="M135,-3l6,24 1,9 -2,9 -4,9 -17,21 -6,15 -2,3 -4,3 -14,4 -6,0 -6-1 -5-3 -5-3 -14-15 -6-2 -6,0 -18,4 -12-5 -6-1 -6,0 -9,2 0-2 12-2 6,1 15,5 18-3 6-1 6,2 15,16 9,5 6,2 6,0 9-2 6-3 3-3 3-4 6-14 15-19 4-9 1-6 0-9 -2-12 -4-15 -1-3 2,0zM470,-3l-2,6 -3,7 -3,4 -12,10 -4,6 -2,6 -2,6 1,12 4,15 9,21 3,4 3,2 3,0 3-1 9-8 4-3 8-3 9-8 6-3 9-1 18,2 8-2 4,0 27,3 6-1 3-2 5-6 3-6 3-9 2-12 0-15 -5-27 2,0 4,24 1,12 -1,12 -3,12 -3,9 -5,6 -4,3 -8,2 -15-2 -15,0 -9,1 -15-2 -9,0 -6,2 -12,9 -9,5 -12,11 -3,2 -3,0 -3-1 -5-6 -4-7 -6-14 -5-15 0-12 1-9 4-8 6-7 13-12 2-3 2-6 1-6 2,0zM855,-5l1-1 6,0 -1,1 -5,5 -1,3 0,3 0,3 3,5 3,2 3,0 3-1 2-3 1-3 0-6 -3-9 8,0 -2,12 -1,6 -2,3 -4,3 -5,0 -3-1 -3-3 -3-8 0-3 2-6zM894,-6l1,0 2,2 3,5 1,11 4,15 4,9 3,5 3,2 6,3 18,1 6,1 0,1 -24-3 -6-2 -3-3 -4-5 -3-9 -7-27 -6-6z"/>
<path fill="#68A935" d="M134,-3l4,15 2,9 1,9 -2,9 -2,6 -4,6 -10,12 -4,6 -7,15 -3,3 -4,3 -12,3 -6,0 -6-2 -9-5 -15-16 -6-2 -6,1 -18,3 -12-4 -6-2 -6,1 -9,1 0-1 12-2 8,1 13,4 21-3 6,0 6,4 12,13 9,6 6,1 6,1 12-3 3-2 3-3 7-15 16-21 4-9 1-6 0-9 -1-9 -6-18 0-3 1,0zM471,-6l1,0 -1,3 -5,15 -16,17 -3,7 -1,6 1,12 9,26 4,7 2,2 2,1 4-1 9-5 9-3 3-2 9-8 6-3 9,0 15,2 15-3 27,3 6-2 3-2 5-6 3-6 3-9 1-12 -1-15 -5-24 2,0 4,18 2,12 0,9 -3,15 -4,12 -4,6 -6,5 -5,1 -4,0 -24-3 -4,0 -8,2 -18-2 -9,1 -6,3 -9,8 -9,4 -15,11 -3,0 -3-2 -6-10 -9-24 -2-9 0-6 2-9 2-6 4-6 12-10 3-4 3-7 2-9zM861,-5l1-1 5,0 2,6 1,9 -1,3 -2,3 -3,1 -3,0 -3-2 -3-5 0-7 4-5zM859,6l0,3 2,3 3,1 1-1 1-3 -1-3 -1-2 -3-1zM897,-6l3,6 5,27 4,9 3,4 3,3 6,2 24,2 0,1 -24-2 -6-3 -3-2 -3-5 -4-9 -4-15 -1-11 -5-7 2,0z"/>
<path fill="#6DAA34" d="M132,-6l1,6 5,15 1,9 0,9 -2,9 -5,9 -12,15 -9,18 -3,3 -6,3 -12,2 -9-2 -6-3 -6-6 -9-10 -6-4 -6,0 -21,3 -15-4 -9-1 -9,2 0-1 9-2 6,0 18,5 6-1 15-3 6,0 6,4 12,14 9,6 6,1 6,1 6-1 6-2 3-2 3-4 9-16 13-18 4-9 2-9 -1-9 -6-21 -1-6zM474,-6l-6,19 -3,5 -12,12 -2,9 0,6 1,9 7,12 3,11 3,4 3,1 3,0 15-3 9-8 6-4 3-1 9,0 15,2 15-2 24,2 6,0 3-2 6-6 3-5 3-10 2-9 0-9 -1-9 -7-24 3,0 5,21 1,12 0,9 -2,12 -3,9 -4,6 -6,5 -3,2 -6,0 -24-3 -15,3 -15-2 -9,0 -6,3 -9,8 -3,2 -6,2 -15,7 -3-1 -2-2 -4-7 -9-26 -1-12 1-6 3-7 16-17 2-4 4-14zM897,-6l1,0 3,6 5,27 3,8 3,5 3,2 6,3 24,2 -24-2 -6-2 -3-3 -3-4 -4-9 -5-27 -3-6zM861,3l3,1 1,2 1,3 -1,3 -1,1 -3-1 -2-3 0-3z"/>
<path fill="#71AB32" d="M131,-3l7,24 1,9 -2,9 -4,9 -13,18 -9,16 -3,4 -3,2 -6,2 -6,1 -6-1 -6-1 -9-6 -12-14 -6-4 -6,0 -15,3 -6,1 -15-5 -9,0 -9,2 0-2 9-1 6,0 6,1 9,3 6,0 18-4 6,0 6,4 12,14 9,6 6,2 6,0 6,0 6-2 3-2 3-4 6-12 16-21 3-9 1-6 0-9 -2-9 -5-15 0-6 1,0zM474,-6l2,0 -3,9 -3,12 -4,6 -8,9 -1,3 -2,9 2,9 2,3 7,9 3,9 3,3 5,1 6,1 3-1 9-8 9-4 9,0 15,3 15-2 24,2 6-1 3-2 4-4 5-8 3-10 1-9 0-9 -2-9 -7-21 2,0 8,27 0,12 -2,15 -3,7 -3,5 -3,4 -6,4 -6,0 -24-2 -15,2 -21-2 -6,1 -3,2 -12,10 -15,3 -3,0 -3-1 -3-4 -3-11 -7-12 -1-9 0-6 2-9 12-12 3-5 5-16zM900,-5l2,5 4,27 3,7 3,5 3,3 6,2 9,1 15,1 0,1 -24-2 -6-3 -3-2 -3-5 -3-8 -5-27 -3-6 1,0z"/>
<path fill="#74AB31" d="M130,-3l0,3 4,12 3,9 1,9 -2,9 -3,9 -16,21 -6,12 -3,4 -3,2 -6,2 -6,0 -6,0 -6-2 -9-6 -12-14 -6-4 -6,0 -18,4 -6,0 -9-3 -6-1 -6,0 -9,1 9-2 6,0 6,1 9,3 6,1 18-4 6-1 6,4 12,14 9,7 6,2 6,0 6-1 6-2 3-2 3-4 6-11 13-18 4-6 2-6 1-6 0-9 -2-9 -6-15 0-6 1,0zM477,-6l1,0 -1,3 -3,6 -3,12 -3,6 -8,12 -2,9 1,6 3,5 6,8 4,8 2,3 3,2 6,0 3-1 9-7 9-3 6,0 18,3 15-2 24,2 6-1 3-2 5-6 4-6 2-9 2-9 -1-9 -1-9 -4-12 -4-9 1,0 5,13 3,11 1,9 0,12 -4,13 -3,6 -3,3 -6,5 -6,1 -24-2 -15,2 -15-3 -9,0 -9,4 -9,8 -6,1 -6-1 -2-1 -3-3 -3-9 -7-9 -2-3 -2-9 2-9 1-3 8-9 4-6 3-12 3-9zM900,-6l2,6 4,27 3,7 3,5 4,3 5,2 9,1 15,0 -15,0 -9-1 -6-2 -3-3 -3-5 -3-7 -4-24 -3-9 1,0z"/>
<path fill="#7EAE30" d="M129,-6l0,6 6,15 2,9 0,9 -2,9 -5,9 -13,18 -6,11 -3,4 -6,3 -9,2 -9-1 -6-3 -8-7 -10-12 -6-4 -6,1 -15,3 -6,1 -18-5 -6,0 -9,2 0-3 15-2 6,1 9,3 6,0 21-5 3-1 3,1 3,2 12,17 4,4 5,3 6,2 6,1 6-1 5-2 4-3 3-4 5-8 11-15 3-6 4-9 1-6 -1-9 -2-9 -6-15 1-6zM477,-4l1-2 7,0 -5,12 -1,15 -3,15 0,6 2,6 2,4 3,3 6,1 12-1 6,0 21,7 15-1 21,1 6-1 3-1 6-5 4-7 3-9 1-9 -2-10 -5-14 -4-7 -5-5 8,0 4,9 4,12 2,15 -1,9 -2,9 -3,6 -4,6 -3,3 -6,2 -6,1 -21-2 -15,2 -18-3 -6,0 -9,3 -9,7 -3,1 -6,0 -3-2 -2-3 -4-8 -6-8 -3-5 -1-6 2-9 10-15 2-6 2-9 3-6zM900,-6l2,0 1,4 4,29 2,5 5,7 4,3 3,1 9,1 15-1 0,2 -15,0 -9-1 -5-2 -4-3 -3-5 -3-7 -4-27 -2-6z"/>
<path fill="#9AB730" d="M126,-6l1,0 -1,6 6,15 2,9 1,9 -2,9 -4,9 -21,30 -6,4 -9,2 -9-2 -6-3 -7-7 -11-15 -3-2 -3-1 -3,1 -18,5 -6,1 -12-4 -6-1 -15,2 0-3 15-2 6,1 9,3 6,0 12-3 9-4 3,0 3,1 4,3 13,18 7,6 9,3 6,0 6-1 6-5 3-3 16-24 4-9 2-9 -1-9 -2-9 -6-15 1-6zM486,-6l8,0 -4,12 0,6 2,6 3,4 9,5 3,3 2,12 4,6 4,3 11,6 33,2 6-1 6-2 3-3 4-5 2-6 2-9 0-6 -1-6 -7-14 -6-5 -6-3 -6-2 -12,1 -3-2 -1-2 29,0 8,9 3,8 4,13 0,12 -2,9 -5,10 -6,5 -3,1 -6,1 -21-1 -15,1 -21-7 -6,0 -12,1 -3,0 -4-2 -4-6 -2-6 0-6 3-15 1-15 5-12zM903,-6l1,0 4,33 4,8 3,4 6,2 12,2 12-2 0,2 -12,1 -15-2 -3-2 -3-4 -4-6 -2-6 -4-30z"/>
<path fill="#B5C030" d="M123,-6l2,0 -1,6 6,15 2,9 1,9 -2,9 -6,12 -17,24 -6,5 -9,1 -9-1 -6-4 -7-7 -8-13 -6-5 -6-1 -15,6 -9,2 -15-5 -6,0 -12,2 0-2 12-3 6,0 12,4 6,0 10-3 8-4 6,0 3,1 6,4 3,4 8,13 7,7 3,1 6,2 6,0 6-2 6-4 12-16 8-12 2-6 1-9 0-9 -3-12 -6-12 1-6zM495,-6l8,0 -3,9 0,6 1,3 2,3 11,12 5,12 3,6 7,6 5,2 6,1 24,1 6-1 3-2 4-4 3-6 2-9 0-6 -2-6 -4-7 -6-6 -9-2 -15,1 -6-2 -3-2 -7-9 12,0 1,2 3,2 9-1 6,1 6,2 6,4 4,5 6,12 1,9 -1,9 -3,9 -5,6 -5,3 -9,2 -33-2 -7-3 -8-6 -4-6 -2-12 -3-3 -9-5 -4-7 -1-9 4-12zM906,-3l3,30 6,10 3,2 12,2 15-2 0,2 -15,2 -9-2 -3,0 -3-2 -6-9 -2-6 -3-30 2,0z"/>
<path fill="#CBC630" d="M122,-3l1,5 5,10 2,9 1,12 -1,9 -2,6 -8,12 -12,16 -6,4 -6,2 -6,0 -6-2 -3-1 -7-7 -8-13 -3-4 -6-4 -6-1 -3,0 -12,6 -9,1 -15-4 -6,0 -12,3 0-3 12-3 6,0 12,3 6,1 6-2 12-5 6,1 8,3 3,3 10,16 6,6 3,2 6,2 6,0 6-2 6-4 12-14 5-9 3-9 2-9 -1-9 -2-9 -6-15 0-6 2,0zM504,-6l26,0 7,9 3,2 6,2 12-1 6,0 6,2 3,3 6,8 2,5 1,6 -1,9 -2,6 -6,7 -6,3 -6,1 -24-2 -6-2 -6-4 -5-6 -6-15 -11-12 -2-3 -1-3 0-6 3-9zM513,-3l-3,2 -2,4 0,3 0,3 2,3 11,9 2,3 5,15 4,6 5,4 6,2 18,1 6,0 3-2 3-2 3-4 3-5 1-6 0-6 -2-3 -5-7 -3-2 -6-2 -18,2 -9-1 -6-4 -6-9 -3-3 -3-1 -3-1 -3,1zM906,-6l2,0 -1,6 3,24 2,6 4,6 2,2 3,1 12,1 12-3 0,2 -12,2 -15-2 -3-2 -3-4 -3-6 -1-3 -2-30z"/>
<path fill="#DEC930" d="M120,-6l1,0 0,6 6,15 2,9 1,9 -2,12 -6,12 -14,17 -6,4 -9,2 -6-1 -7-4 -6-6 -9-15 -3-3 -8-3 -6-1 -12,5 -6,2 -6-1 -12-3 -6,0 -12,3 0-2 15-5 3,0 12,4 6,1 6-2 9-4 6,0 9,3 6,4 4,5 7,12 7,7 3,1 6,1 9-2 6-3 11-13 5-9 3-9 2-9 -1-12 -3-9 -5-12 0-6zM513,-3l3-1 3,1 3,1 3,3 6,9 6,4 9,1 18-2 6,2 3,2 5,7 2,3 0,6 -1,6 -3,5 -3,4 -3,2 -3,2 -6,0 -18-1 -6-2 -5-4 -4-6 -5-15 -2-3 -11-9 -2-3 0-3 0-3 2-4 3-2zM558,21l-3,2 -12,4 -3,2 -2,4 0,6 2,5 3,2 18,3 6-1 3-1 4-5 3-6 1-6 -2-5 -3-3 -6-3 -6,1zM909,-6l1,0 -1,6 0,9 2,15 1,4 6,8 3,1 12,1 12-4 0,3 -12,3 -3,0 -9-1 -3-1 -3-3 -3-5 -2-6 -3-24 1-6z"/>
<path fill="#F0CC30" d="M119,-3l1,3 5,12 3,9 1,12 -2,9 -3,9 -5,9 -11,13 -6,3 -9,2 -6-1 -3-1 -7-7 -7-12 -4-5 -6-4 -9-3 -6,0 -9,4 -6,2 -6-1 -12-4 -3,0 -15,5 0-2 6-2 9-3 3,0 12,4 6,0 6-1 9-4 3-1 15,6 3,2 6,7 7,12 5,5 3,1 6,2 9-2 6-4 10-11 5-9 3-9 2-9 -1-9 -3-12 -5-12 0-6 1,0zM911,-3l0,12 1,15 3,6 3,3 3,2 9,1 3,0 12-4 0,2 -12,4 -3,0 -9-1 -3-1 -3-3 -3-6 -3-15 0-12 1-6 2,0zM561,20l6-1 6,3 3,3 2,5 -1,6 -3,6 -4,5 -3,1 -6,1 -18-3 -3-2 -2-5 0-6 2-4 3-2 12-4 3-2zM561,27l-7,6 -2,3 0,3 2,3 7,3 6,0 3-2 3-4 2-6 0-3 -1-3 -4-3 -3,0 -3,1 -3,2z"/>
<path fill="#F0C42D" d="M118,-3l2,6 4,9 3,9 1,9 -1,9 -3,9 -6,12 -10,11 -6,4 -9,2 -6-2 -3-1 -5-5 -7-12 -6-7 -3-2 -15-6 -3,1 -9,4 -6,1 -6,0 -12-4 -3,0 -9,3 -6,2 0-2 15-5 5,0 10,3 6,1 15-5 6,1 15,6 6,6 7,12 6,6 5,2 3,1 9-2 6-3 9-10 5-9 3-9 2-9 -1-9 -2-12 -6-12 -1-6 2,0zM912,-6l2,0 -2,12 0,9 2,9 4,6 5,3 7,1 15-6 0,4 -12,4 -3,0 -9-1 -3-2 -5-6 -1-5 -1-10 0-12 1-6zM561,27l3-2 3-1 3,0 4,3 1,3 0,3 -2,6 -3,4 -3,2 -6,0 -7-3 -2-3 0-3 2-3 7-6zM567,30l-3,3 -2,3 0,3 2,1 3,0 3-4 1-3 -1-3z"/>
<path fill="#F0BD2A" d="M117,-6l1,6 7,15 1,9 1,9 -2,12 -6,12 -8,10 -9,6 -9,2 -6-2 -6-4 -9-15 -6-6 -15-6 -6-1 -15,5 -6-1 -12-3 -4,0 -11,4 -3,1 0-2 15-5 6,1 9,2 6,1 12-4 6-1 15,6 5,3 5,6 8,13 6,5 6,1 9-1 6-3 8-9 6-9 3-12 1-12 -1-9 -3-9 -5-9 0-6zM915,-6l2,0 -3,12 0,9 1,6 4,6 5,3 6,0 15-5 0,3 -12,5 -6,1 -6-2 -3-2 -4-6 -2-15 2-15zM570,30l1,3 -1,3 -3,4 -3,0 -2-1 0-3 2-3 3-3z"/>
<path fill="#EDAF26" d="M116,-3l1,3 5,9 3,12 1,9 -2,12 -2,9 -6,9 -8,9 -6,3 -9,1 -6-1 -6-5 -8-13 -5-6 -5-3 -15-6 -6,1 -12,4 -6-1 -12-3 -6,1 -9,3 -3,1 0-2 15-4 3,0 15,3 6-1 9-2 8,0 13,5 6,3 6,7 6,10 6,6 6,2 9-1 6-3 8-8 5-9 3-12 1-9 0-9 -4-12 -5-9 0-6 1,0zM918,-6l2,0 -4,9 -1,9 3,9 3,4 3,2 6,0 6-2 9-4 0,4 -12,5 -6,0 -6-1 -3-3 -3-6 -1-11 3-15z"/>
<path fill="#E59622" d="M116,-3l0,3 5,9 3,9 1,9 -1,12 -3,12 -5,9 -8,8 -6,3 -9,1 -6-2 -6-6 -6-10 -6-7 -6-3 -13-5 -8,0 -9,2 -6,1 -15-3 -3,0 -15,4 0-2 15-3 18,2 15-3 6,1 15,5 5,2 6,6 8,12 5,5 3,1 6,1 9-2 6-4 6-7 4-9 3-12 0-9 -1-9 -2-9 -5-9 -1-6 1,0zM921,-6l3,0 -6,9 -1,6 1,8 3,4 3,2 3,1 6-1 6-3 6-5 0,6 -9,4 -9,2 -3,0 -4-3 -2-3 -2-6 -1-9 5-12z"/>
<path fill="#DA791E" d="M114,-6l1,0 1,6 6,12 2,9 0,12 -2,12 -5,12 -6,7 -6,4 -9,2 -6-1 -5-3 -11-15 -6-6 -5-2 -12-5 -9-1 -15,3 -18-2 -15,3 0-1 15-3 18,1 15-2 6,1 15,4 6,4 6,6 9,12 6,5 6,1 9-2 6-4 5-6 4-9 3-12 1-9 -1-9 -2-6 -6-12 -1-6zM924,-6l21,0 0,21 -6,5 -3,2 -9,2 -3-1 -3-2 -3-4 -1-5 0-6 1-3 6-9zM927,-3l-3,1 -3,3 -2,5 -1,6 2,3 1,2 3,3 3,0 6,0 3-2 3-3 1-3 0-3 -1-3 -6-8 -3-1 -3,0z"/>
<path fill="#CE571A" d="M114,-6l1,6 6,12 2,6 1,9 -1,9 -3,12 -4,9 -5,6 -6,4 -9,2 -6-1 -6-5 -9-12 -6-6 -6-4 -15-4 -6-1 -15,2 -18-1 -15,3 0-2 6,0 9-2 18,1 15-2 6,1 15,4 6,4 7,7 8,10 6,5 6,2 6-1 3-1 6-3 5-6 4-9 2-12 1-9 -1-9 -3-9 -4-9 -2-6 1,0zM927,-3l3,0 3,1 6,8 1,3 0,3 -1,3 -3,3 -3,2 -6,0 -3,0 -3-3 -1-2 -2-3 1-6 2-5 3-3 3-1zM922,3l-2,3 0,3 0,3 2,3 2,2 3,0 3,0 3-2 2-3 0-3 -1-3 -4-5 -3-1 -3,1z"/>
<path fill="#C4401A" d="M114,-3l7,15 1,6 1,9 -1,9 -2,12 -4,9 -5,6 -6,3 -3,1 -6,1 -6-2 -6-5 -8-10 -7-7 -6-4 -15-4 -9-1 -15,2 -12-1 -18,2 0-1 6,0 9-1 15,0 15-2 9,1 15,4 6,4 6,5 9,11 6,6 6,2 6-1 3,0 6-4 6-8 3-9 2-12 0-9 0-6 -3-9 -6-12 -1-3 1,0zM924,1l3-1 3,1 4,5 1,3 0,3 -2,3 -3,2 -3,0 -3,0 -2-2 -2-3 0-3 0-3 2-3zM922,6l0,3 2,4 3,1 4-2 0-3 -1-3 -3-2 -3,0z"/>
<path fill="#BD321D" d="M113,-3l6,12 3,9 1,9 -1,9 -3,12 -4,9 -4,5 -6,4 -3,0 -6,1 -6-2 -6-6 -9-11 -6-5 -6-4 -15-4 -9-1 -15,2 -12-1 -12,2 -6,0 0-2 6,1 39-3 6,1 18,4 3,1 6,5 12,14 6,5 6,2 6,1 3-1 6-4 5-7 3-9 3-12 0-9 -2-9 -8-18 0-3zM924,4l3,0 3,2 1,3 0,3 -4,2 -3-1 -2-4 0-3z"/>
<path fill="#B82922" d="M111,-6l1,0 1,6 5,9 3,9 1,9 -1,12 -2,9 -5,10 -6,5 -3,2 -6,1 -6-1 -3-2 -6-5 -12-14 -6-5 -3-1 -18-4 -6-1 -39,3 -6-1 0-2 6,2 39-3 24,5 3,1 6,5 18,19 6,2 6,1 3-1 6-4 5-6 3-9 2-15 0-9 -1-6 -2-6 -5-9 -2-6z"/>
<path fill="#B82B28" d="M111,-6l2,6 5,9 2,6 1,6 0,9 -2,15 -3,9 -5,6 -6,4 -3,1 -6-1 -6-2 -18-19 -6-5 -3-1 -24-5 -39,3 -6-2 0-2 4,2 5,0 33-1 6,0 12,3 9,1 3,1 6,5 18,18 6,3 6,1 3-1 6-4 4-5 3-9 3-15 -1-9 -1-6 -2-6 -6-12 -1-3 1,0z"/>
<path fill="#B82D2E" d="M111,-3l6,12 2,6 1,6 1,9 -3,15 -3,9 -4,5 -6,4 -3,1 -6-1 -6-3 -18-18 -6-5 -3-1 -9-1 -15-3 -36,1 -5,0 -4-2 0-2 6,3 3,0 33-1 9,1 9,2 9,1 3,1 4,3 17,17 5,4 7,3 6-1 6-3 5-8 2-9 2-13 0-8 -1-6 -2-6 -7-12 -1-3 1,0z"/>
<path fill="#B82F34" d="M110,-3l8,15 2,9 0,8 -2,13 -2,9 -5,8 -6,3 -6,1 -7-3 -5-4 -17-17 -4-3 -3-1 -9-1 -9-2 -9-1 -33,1 -3,0 -6-3 0-4 6,5 3,0 30,0 9,1 12,3 9,0 6,3 24,22 6,3 6-1 6-3 4-7 3-9 1-15 0-6 -2-9 -8-15 -1-3 1,0z"/>
<path fill="#BB3A45" d="M108,-6l9,18 2,9 0,9 -2,15 -3,9 -3,4 -3,2 -6,2 -6-1 -6-4 -18-18 -6-4 -3-1 -9,0 -18-4 -9,0 -21,1 -6-1 -6-5 0-18 6,1 12-3 3,1 0,4 -3,9 -1,2 1,3 9,2 33,6 9,0 3,1 6,4 9,9 13,11 5,2 6,1 3-1 3-3 3-5 3-9 1-15 -1-9 -1-6 -10-18z"/>
<path fill="#C24E5D" d="M105,-6l1,0 10,18 1,6 1,9 -1,15 -3,9 -3,5 -3,3 -6,1 -3-1 -5-2 -13-11 -9-9 -6-4 -3-1 -9,0 -33-6 -9-2 -1-3 1-2 3-9 0-4 -3-1 -12,3 -6-1 0-10 9,3 12,1 3,2 1,15 2,3 4,3 8,3 18,3 12,1 3,0 6,4 9,9 9,6 9,7 6,1 3-1 3-2 3-7 2-9 0-15 -2-12 -3-6 -6-9 -1-3z"/>
<path fill="#C9616A" d="M-3,-6l12,0 9,5 2,4 1,9 1,6 3,3 4,3 7,2 12,3 15,0 4,1 5,3 9,9 12,6 6,6 3,2 3,1 3-1 2-2 3-6 1-6 1-18 -1-6 -2-6 -9-15 -1-3 2,0 1,3 6,9 3,6 2,12 0,15 -2,9 -3,7 -3,2 -3,1 -6-1 -9-7 -9-6 -9-9 -6-4 -3,0 -12-1 -18-3 -8-3 -4-3 -2-3 -1-15 -3-2 -12-1 -9-3 0-3z"/>
<path fill="#CF7275" d="M9,-6l7,0 2,2 3,6 2,13 2,3 5,5 6,2 12,3 12-1 6,1 6,3 9,9 12,5 9,9 3,1 3-1 3-3 1-3 1-6 0-18 -1-6 -2-6 -9-15 -1-3 2,0 3,6 4,6 3,6 2,6 1,6 -1,18 -1,6 -3,6 -2,2 -3,1 -3-1 -3-2 -6-6 -12-6 -9-9 -5-3 -4-1 -12,0 -9-1 -9-2 -6-3 -5-5 -1-6 -1-9 -2-3 -3-3 -6-3z"/>
<path fill="#D5827F" d="M18,-6l1,0 3,6 1,9 2,6 2,3 3,3 6,3 9,2 6,1 12-1 4,1 5,3 9,9 3,1 12,5 6,6 3,2 3-1 3-5 1-8 0-15 -2-9 -11-18 0-3 1,0 2,6 8,12 2,6 1,6 0,18 -1,6 -1,3 -3,3 -3,1 -3-1 -9-9 -12-5 -9-9 -6-3 -6-1 -12,1 -12-3 -6-2 -5-5 -2-3 -2-13 -5-8z"/>
<path fill="#DA9186" d="M21,-6l2,6 2,12 3,6 4,3 7,3 6,1 6,1 12-1 6,1 6,5 6,6 3,2 10,3 11,8 3-1 3-7 0-18 -1-6 -3-6 -9-15 -1-3 2,0 2,6 6,9 3,6 2,9 0,15 -1,8 -3,5 -3,1 -3-2 -6-6 -12-5 -3-1 -9-9 -5-3 -4-1 -12,1 -6-1 -9-2 -6-3 -3-3 -2-3 -2-6 -1-9 -3-6z"/>
<path fill="#E09D89" d="M24,-3l2,15 4,6 3,3 6,2 6,1 6,1 12-2 4,1 5,3 12,11 9,2 12,7 3-1 1-4 1-18 -3-9 -9-15 -3-6 2,0 2,6 8,12 3,9 1,6 0,15 -3,7 -3,1 -11-8 -10-3 -3-2 -6-6 -6-5 -6-1 -12,1 -6-1 -6-1 -7-3 -4-3 -3-6 -4-18 2,0z"/>
<path fill="#E5A78C" d="M24,-6l1,0 1,12 1,6 3,5 3,2 6,3 9,1 12-1 6,0 6,3 12,11 9,3 9,5 3,1 3-3 1-3 0-15 -4-11 -11-16 -1-3 2,0 3,6 9,15 3,9 -1,18 -1,4 -3,1 -12-7 -9-2 -12-11 -5-3 -4-1 -12,2 -6-1 -6-1 -6-2 -3-3 -4-6 -3-18z"/>
<path fill="#E8AC8A" d="M26,-3l1,12 3,6 3,3 6,3 6,1 6,0 12-1 6,1 6,4 9,9 9,3 9,4 3,0 2-3 1-3 0-12 -3-9 -12-18 -2-3 2,0 3,6 10,15 2,6 1,6 -1,15 -3,3 -3-1 -9-5 -9-3 -12-11 -6-3 -6,0 -12,1 -12-2 -6-4 -3-5 -1-6 -1-12 1,0z"/>
<path fill="#ECB189" d="M27,-6l1,0 0,9 0,6 4,6 3,3 7,2 6,1 15-1 6,1 6,4 9,9 12,3 6,3 3,0 1-4 1-6 0-6 -2-6 -3-6 -11-15 -2-3 2,0 3,6 9,12 4,9 1,6 0,8 -1,4 -2,3 -3,0 -9-4 -9-3 -9-9 -6-4 -6-1 -12,1 -6,0 -6-1 -6-3 -3-3 -3-6 -1-15z"/>
<path fill="#EEB588" d="M29,-3l0,6 1,6 3,6 3,2 6,2 6,1 15-2 6,1 6,4 9,9 3,2 15,4 3-2 1-3 0-6 -1-6 -3-6 -3-5 -10-13 -2-3 2,0 4,6 9,12 3,6 2,9 0,6 -2,7 -3,0 -6-3 -12-3 -9-9 -6-4 -6-1 -15,1 -6-1 -6-2 -4-3 -4-6 0-6 0-9 2,0z"/>
<path fill="#EFB687" d="M30,-6l2,0 -2,9 1,6 2,3 3,3 6,3 6,1 15-2 6,1 6,3 9,9 3,2 12,3 3,0 2-2 1-3 0-3 -1-6 -5-9 -13-15 -2-3 3,0 2,3 13,17 3,7 1,6 0,6 -1,3 -3,2 -15-4 -3-2 -9-9 -6-4 -6-1 -15,2 -6-1 -6-2 -3-2 -3-6 -1-6 1-9z"/>
<path fill="#EFB787" d="M33,-6l2,0 -3,9 1,5 2,4 4,3 9,2 15-2 6,1 6,3 12,11 12,3 3-1 1-2 0-3 -1-6 -3-6 -3-4 -15-17 3,0 4,6 11,12 3,6 3,9 -1,6 -2,2 -3,0 -12-3 -3-2 -9-9 -6-3 -6-1 -15,2 -6-1 -6-3 -3-3 -2-6 0-6 1-6z"/>
<path fill="#EFB886" d="M36,-6l2,0 -3,6 0,6 1,3 3,3 9,3 15-1 6,0 7,4 11,10 3,2 6,1 4-1 1-3 -1-6 -4-7 -20-20 5,0 15,17 6,9 1,7 0,3 -1,2 -3,1 -12-3 -12-11 -6-3 -6-1 -15,2 -9-2 -4-3 -2-3 0-3 0-6 2-6z"/>
<path fill="#F0B985" d="M39,-6l3,0 -3,6 -1,3 1,5 3,3 6,2 18-2 6,2 8,5 9,9 4,2 3,0 3-2 0-3 -3-6 -6-7 -19-17 5,0 17,17 6,7 2,6 0,3 -1,3 -4,1 -6-1 -3-2 -11-10 -7-4 -6,0 -15,1 -9-3 -3-3 -1-3 0-6 3-6z"/>
<path fill="#F0BA85" d="M42,-6l8,0 -5,4 -3,5 0,3 3,3 3,0 9,1 12-2 3,0 12,9 6,7 3,2 2-2 -2-5 -12-10 -6-3 -6-6 -8-6 10,0 19,17 6,7 3,6 0,3 -3,2 -6-1 -3-2 -9-9 -6-4 -3-1 -21,1 -6-2 -2-2 -2-3 1-6 1-3z"/>
<path fill="#F0BA85" d="M48,-4l2-2 11,0 2,1 12,11 6,3 9,8 3,2 2,5 -2,2 -3-2 -3-3 -3-4 -12-9 -3,0 -12,2 -9-1 -3,0 -3-3 0-3 2-3 3-3z"/>
</g>
</g>
<polyline points="0,88 12.5,87 30.5,97 64,55.5 117.5,117 129,145 177.5,258 195.5,265 239,298 258.5,298 268.5,267 300.5,262.5 370,174.5 405,173.5 436.5,186.5 459,186.5 487.5,143.5 538.5,143.5 585,202 648.5,253 697,250 753,217.5 779.5,148.5 830.5,148.5 859.5,109 936.5,106.5" fill="none" stroke="#111" stroke-width="0.9"/>
<g stroke="#222" stroke-opacity="0.28" stroke-width="0.8" clip-path="url(#cp)">
<line x1="65.2" y1="0" x2="65.2" y2="367"/>
<line x1="258.1" y1="0" x2="258.1" y2="367"/>
<line x1="451" y1="0" x2="451" y2="367"/>
<line x1="643.9" y1="0" x2="643.9" y2="367"/>
<line x1="836.8" y1="0" x2="836.8" y2="367"/>
<line x1="0" y1="146.7" x2="937" y2="146.7"/>
</g>
<g clip-path="url(#cp)"><g fill="none" stroke="#0a0a0a" stroke-width="1.7" stroke-linejoin="round" mask="url(#lm0)">
<path d="M937.6,306 930,273 921,240 920.2,234 920.6,228 917.4,219 913.7,213 911.1,207 903.9,195 901.7,189 899.9,186 897.5,180 896.8,177 895.6,165 896.2,156 897.8,150 903,138.7 905.5,132 906.7,123 906.2,117 903.2,102 902.6,90 901.3,81 898.3,72 896.7,69 894,66.6 891,66.1 888,67.5 879,74.5 876,74.5 867,71.3 864,71.2 861.8,72 858.8,75 857.4,78 856.7,81 856.5,84 856.9,90 860.6,105 862.4,114 865.1,120 871.8,132 877.2,144 878.6,150 877.9,153 876,153.3 870,152.1 861,156.2 855,157 849,156.4 843,154.6 837,150.8 834,147.9 831,144.1 829.4,141 824.6,126 822,121.4 819,118.5 816,116.6 801,110.2 789,102.5 786,101.6 777,100.2 753,91.3 744,90.3 738,91.3 733,93 726.5,96 711,104.7 702,107.8 696,108.1 681,105.8 669,104.6 660,104.5 654,105 648,107.1 645,109 642,112.4 639.9,117 637.9,126 636.7,147 635.2,159 633,167.4 629.2,174 625.9,177 621,179.1 618,179.5 612,179.1 610.3,180 609,181.4 605.2,195 602.9,201 600,205 594,209.9 588,213.1 576,218.3 558,222.4 546,222.7 543,222.3 537,220 531,219.5 513,221.5 504,221.7 501,222.4 495,222.1 492,222.9 486,226.7 483,227.5 481.2,225 477,211.8 471,199.5 467.2,183 465.8,174 465,171.6 462.8,168 462.5,165 465,162.5 468,158.3 469.8,153 469.6,150 468,145 465.1,141 462,138.5 456,135.2 450,133.8 447,133.9 443.3,135 439.5,138 435.8,144 432,144.5 426,143.2 414,137.3 408,135.6 402,135.5 396,137 393,137.2 382.3,126 384.3,117 383.5,108 382.5,105 380.8,102 378,99.2 375,97.7 372,97.3 369,97.7 366,98.8 362,102 360.1,105 357.9,111 355.3,126 355.7,129 354,135.8 351.9,129 336,124.9 330,121.6 325.7,117 316.7,102 309,90.9 303,84.3 292.7,75 288.4,69 286.2,63 286,60 286.5,57 291,45.4 291.7,39 291.4,36 290.1,33 287.3,30 282,27 279,26.2 273,25.7 267,27 262,30 259.9,33 259.2,36 259.4,39 260.5,42 266.7,51 268.4,54 269.2,57 268.8,60 266.7,63 262.6,66 253.8,69 219,75.9 207,79.4 171,95.3 162,100.5 156,105.5 152.8,111 151.9,117 152.3,120 153.7,123 162,131.5 165,135.7 166,138 168,144.5 168.4,150 168,156 165,164.6 162.5,168 159,171.4 150.9,177 147.9,180 146.2,183 140.9,198 138,204.7 135,202.5 134.4,201 131.4,198 129,191.6 126,188.6 123,187.8 117,189.5 114,189.7 102,188.7 99,187.5 93,183.5 87,174.1 84,172.2 72,170.4 69,169.5 66,167.9 58.4,162 54,159.2 48,156.3 42,154.8 40.7,153 39.6,150 39.8,147 42.1,141 40.8,138 39,136.7 36,135.6 33,135.7 27,131.3 15,127.9 3,128.7 -6,131.1M753,38.8 750,43.5 747.1,51 746.4,57 747,60 749.6,63 753,64.4 756,64.9 759,64.3 761,63 762.7,60 763.3,54 762,44.5 759,38.2 756,36.7 753,38.8M540,133.5 537,136.2 536.5,138 536.7,141 540,144.6 545,147 555,149.1 570,149.7 582,151.2 585,150.7 585.3,150 583.2,147 575.9,141 570.9,138 564.4,135 558,133.2 552,132.2 543,132.7 540,133.5" stroke-dasharray="10,4.5"/>
<path d="M157.5,-6 153.2,0 154,3 157.7,9 160.1,15 160.5,18 160.3,24 157.9,36 152.5,54 146.1,69 142.8,78 138.2,96 135,103.8 132,108 129,110.8 120,117.9 114,127.3 108,127.8 99,131.6 87,134.2 84,134.3 81,133.2 78,131.3 72,125.6 60,121.1 39,110.4 30,108 12,105.2 3,105.6 -6,108.3M709.8,-6 709.8,-3 710.5,0 721.6,15 723.4,18 725.8,24 726.5,33 725.6,39 723,45.3 719.6,51 720.1,54 722.5,60 724.3,69 726.9,75 727.3,78 723,79.8 717,81.1 708,81.8 690,82.3 680.7,84 675,84.4 671,84 664.4,81 659.7,78 657,75.7 651.2,69 643.1,63 636,55.3 633,56.7 624,62.3 621,65.5 618,76.2 616.5,84 614.2,90 611.8,93 604.8,99 600,105 597,107.8 594,109.8 591,111.1 588,111.9 582,112.5 573,111.3 564,108.6 548.5,102 540,99.9 534,99.8 528,100.3 517.2,102 513,103.2 509.9,105 509,108 509,111 510.4,117 515.8,126 517.5,132 518.9,141 518.7,150 518.1,156 516.5,162 515.1,165 510.5,171 507,173.4 504,174.5 498,175 492,173.8 489,172.4 486,170.3 483,167.3 479.8,162 476.2,150 471.1,138 468,133.4 463.8,129 459,125.2 450,120.3 431.6,114 426,111.5 421.3,108 418.5,105 415,99 413.2,93 411.2,81 408.6,75 405,69.6 399,64.6 393,61.9 381,58.5 375,58 369,59.3 366,61.1 363,63.8 355.2,75 352.3,78 348,80.7 342,82.2 339,82.1 336,81.3 333,79.6 330,76.9 327,72.7 324.2,66 323,60 322.7,54 323.1,45 324.1,39 325.9,33 328.8,27 333,20.8 339,15.3 345,12.5 351,11.7 372,13.1 375,12.9 381,11.3 384.7,9 387.9,6 390,3 391.4,0 392.5,-6M945,84.5 936.5,72 933,69.2 927,67 915,65.7 909,63.6 894,52.7 889.7,51 888,49.6 858,52.1 816,63.1 813,63.1 810,61.8 807.7,60 805.2,57 801.6,51 799.3,45 798.2,39 799.5,36 801,35.5 804,37.2 810,38.7 816,38.7 819,38.3 822,37.2 825,34.8 826.2,33 827.1,30 826.6,27 824.4,24 817.3,18 816.2,15 816.4,12 819,5.5 820.3,0 819.3,-6M636,2.5 635.3,9 635.9,18 639,26.1 642,23.3 644.7,15 645.3,9 644.9,6 643.3,3 642,1.8 639,0.8ZM888,29.8 885,33 884.2,39 885,43.1 888,46.4 891,45.4 892.9,42 893.6,39 893.6,36 892.6,33 891,30.3 889.4,30Z" stroke-dasharray="10,4.5"/>
<path d="M145.6,-6 144.6,0 149.4,15 150.9,21 151.7,27 151.6,33 150.8,39 149.5,45 147,53.6 144,59.5 141,63.2 137.4,66 129,69.4 126.3,72 125.3,75 124,84 122,90 120.5,93 117,97.9 108,105.9 99,110 93,111.9 90,112.4 84,112.3 78,111.3 69,108.5 60,103.3 51,96.7 48,95 45,94.1 42,93.9 33,95 27,95 21,93.4 6,86.9 3,86.7 0,87.9 -6,91.5M619.6,-6 619,0 618.6,18 616.3,36 613.1,51 607,75 604.9,81 601.3,87 597,91.6 594,93.7 588,96.3 582,97.3 573,96.5 543,89.8 528,88.3 516,88.4 510,89.5 507,90.5 501.7,93 492,98.7 486,100.6 484.7,102 486,104.6 489,104.4 492,105.7 494,108 495.6,111 496.3,114 496.1,117 495,120.2 493.1,123 493.5,126 498,131 500.8,135 502.1,138 503.4,144 502.7,150 501,153.5 498,156.7 495,158.2 492,158.8 489,158.6 486,157.7 483,155.7 480,151.1 472.4,132 468.5,126 465.2,123 462,121 449.3,114 439.6,108 435,104.6 432,101.8 427.2,96 423.8,90 421.2,84 417.5,72 415.3,63 414.5,57 414.6,48 416.2,39 423,21.9 428.8,3 429.4,0 429.3,-6M945,63 936,56.6 918,53 912,50.2 909.3,48 906.5,45 904.6,42 900,28.7 897,22.1 894,18.5 891,17.3 888,17.4 885.8,18 880.7,21 876,25.5 870,33.7 867,36.6 864,38.2 861,38.9 858,38.9 852,37.3 849,35.6 846,33 843.4,30 841.4,27 838.7,21 837.8,18 837,12 837.3,0 835.3,-6" stroke-dasharray="10,4.5"/>
<path d="M140.3,-6 140.7,0 144.1,12 146.3,24 146.4,33 145,42 142.8,48 138.8,54 135.9,57 126,65.3 123,68.9 121.5,72 118.2,84 114.6,90 111,93.5 96,100.6 90,101.8 84,101.6 78,100.4 72,97.8 69,95.9 63,91.1 52.6,81 48,77.9 45,77.4 42,78.3 33.3,84 30,85.2 27,85 24.7,84 18,79.5 15,78 12,77.3 3,77 -6,78.9M604.8,-6 606.5,9 606.6,18 605.7,30 603,53.4 600.6,63 598,69 594,74.8 591,77.6 585,80.9 576,83.4 570,84 558,84.1 552,84.8 540,83.1 519,78.8 513,78.8 510,79.4 501,83 486,91.5 480,96.4 474,104.7 471,108 468,110 465,110.8 462,110.7 459,109.7 453,106.1 444.4,99 438.9,93 434.7,87 430.1,78 426.8,69 424.9,60 424.5,54 425.2,45 426.4,39 429,31.1 432,25.2 435,20.8 438,17.4 444.4,12 447.1,9 450.1,3 451,0 451.8,-6M945,54.7 936,51.4 924,50 918,48.7 915,47.4 912,45.4 909,42.1 907,39 904.4,33 900,20.1 897,14.2 894,12 891,11 888,11.3 882,13.6 879,15.8 867,27.2 864,28.8 861,29.2 858,28.7 855,27.3 851.2,24 849.2,21 847.9,18 846.1,9 845.2,-6M483,132.9 486,132.1 489,132.5 492.6,135 494,138 494.1,141 493.1,144 492,145.7 489,147.8 486,147.9 483,145.6 481,141 480.3,138 480.8,135Z" stroke-dasharray="10,4.5"/>
<path d="M135.1,-6 135.5,-3 138.2,6 141.5,21 142,30 140.8,39 139.9,42 136.8,48 123,64.1 120,68.3 118.2,72 114,83 111,87.4 108,89.8 102,92.3 93,94.4 87,94.5 81,93.2 75,90.5 72,88.4 67,84 57,73.3 54,71.6 51,70.7 45,70.5 30,74.4 27,74.5 24,73.8 15,69.8 9,68.5 0,69 -6,70.5M590.3,-6 590.7,0 593.1,12 594.3,21 594.7,27 594.2,36 592.6,48 590.2,57 586,66 582,70.6 579,72.6 576,73.9 570,75.1 567,75 558,73.5 547.4,75 540,73.9 531,73.8 516,71.6 507,72.1 501,74.4 489,82.6 481.3,87 477.7,90 468,99.8 465,101.2 462,101.4 459,100.1 454.8,96 450.7,90 446,81 441,69.4 439,63 437.7,57 437.1,48 438.1,39 441.3,30 443.2,27 447,22.5 462.1,9 464.2,6 465.6,3 466.6,0 467.1,-6M877.7,-6 876,-2.1 874.9,6 873,12 871.1,15 868.1,18 864,19.7 861,19.5 858,18.3 855,15.5 853.2,12 852,8.4 851.5,3 852,-0.6 854.3,-6M945,49.5 937.5,48 921,46.4 915,44.3 912,41.8 908.1,36 904.4,27 901.2,15 898.9,3 897.7,0 894,-3.6 890.4,-6"/>
<path d="M116.5,-6 117,0 121.8,9 124.8,18 125.8,27 125,39 123.7,45 121.5,51 116.4,60 111,66.1 108,68.7 105,70.7 102,71.9 99,72.8 93,73.2 90,72.8 87,71.6 84,69.5 81,66.5 73.1,54 67.9,48 63,44.9 48,39.5 45,39.3 42,40 33,43.2 30,43.8 24,43.2 15,40.8 12,40.3 9,40.5 0,43.5 -6,44.8M945,25 933,29.5 927,30.4 924,30.1 921,28.8 918,25.9 915,19.7 913.6,12 913.9,6 917.1,-6"/>
<path d="M108.3,-6 109.2,-3 114,5.1 117.2,12 119.2,21 119.4,27 117.7,42 115.3,51 113.8,54 111,57.9 108,60.2 105,61.4 102,61.9 99,61.6 96,60.7 93,59 87,54.1 72,39.4 69,36.9 66,35.2 63,34.2 54,33.6 45,31.3 36,29.9 27,29.6 3,30.5 0,29.8 -6,24.6"/>
<path d="M98.6,-6 99.2,-3 100.6,0 106.7,9 109.7,15 112,24 112.1,39 111,47.2 108,51.9 105,52.5 102,50.9 96,44.9 93,43.4 84,40.4 81,38.5 72.5,30 67.4,27 63,25.9 51,26.6 45,26.1 36,24.2 30,21.3 26.6,18 24.8,15 23,9 21.7,0 18.9,-6"/>
<path d="M89.4,-6 92.8,0 102,12.1 105,17.7 106.1,21 107.3,27 106.4,36 105,39.6 102,40.2 96,37.3 87,34.9 84,33.6 75,24.7 72,22.3 69,20.7 66,19.8 63,19.5 53.3,21 48,21.3 42,20.4 35.4,18 31.7,15 29.6,12 28.5,9 27.6,3 28,-6"/>
<path d="M70.8,-6 73.5,-3 90,11.2 96,17.6 99.1,24 98.8,27 96,28.9 93,28.8 88.7,27 79.5,18 72,12.8 69,11.8 66,11.5 48,12.6 45,12.2 42,10.9 39.6,9 39,7.9 38.2,6 38,3 39,-0.5 42.1,-6"/>
<path d="M360.1,129.7 359.6,130.5 358.8,131.6 357.9,132.9 357.2,134.5 356.7,136.3 356.5,138.4 356.5,140.9 356.6,143.6 356.9,146.2 357.3,148.4 357.9,150.4 358.6,152.2 359.5,153.8 360.6,155.3 361.8,156.6 363.1,157.7 364.7,158.7 366.3,159.6 368.1,160.2 369.9,160.6 371.9,160.8 374,160.8 376.2,160.6 378.3,160.2 380.1,159.6 381.6,158.9 382.9,158 384.1,157 385.2,155.8 386.2,154.5 387,153.1 387.8,151.6 388.4,149.9 388.9,148.2 389.2,146.4 389.4,144.6 389.4,142.7 389.3,140.8 389,138.9 388.6,137.3 387.9,135.8 386.9,134.3 385.8,133 384.8,132 384.1,131.2" stroke-dasharray="10,4.5"/>
<path d="M339.5,178.5 340.4,178.9 341.6,179.5 343.1,180.2 344.5,181.1 345.6,182.2 346.4,183.7 347,185.5 347.5,187.4 347.8,189.4 347.9,191.4 347.8,193.3 347.5,195.4 347,197.5 346.4,199.3 345.6,200.8 344.6,202 343.4,203 342.1,203.7 340.7,204.1 339.5,204.2 338.2,204.1 336.9,203.7 335.5,203 334.4,202 333.4,200.8 332.6,199.3 331.9,197.5 331.4,195.4 331.1,193.3 331,191.4 331.1,189.4 331.4,187.4 331.9,185.5 332.6,183.7 333.4,182.2 334.5,181.1 335.8,180.2 337.3,179.5 338.6,178.9 339.5,178.5" stroke-dasharray="10,4.5"/>
</g></g>
<g class="c" text-anchor="middle" clip-path="url(#cp)">
<text transform="translate(42.1,14.3) rotate(0)" y="5.5">3</text>
<text transform="translate(87,22.8) rotate(-28)" y="5.5">2.5</text>
<text transform="translate(102.7,46.8) rotate(70)" y="5.5">2</text>
<text transform="translate(5.7,30.9) rotate(-20)" y="5.5">1.5</text>
<text transform="translate(83.3,68.9) rotate(70)" y="5.5">1</text>
<text transform="translate(7.4,75.3) rotate(-70)" y="5.5">.4</text>
<text transform="translate(159.3,14.6) rotate(68)" y="5.5">0.2</text>
<text transform="translate(279.5,25.7) rotate(12)" y="5.5">0.1</text>
<text transform="translate(520.7,67.7) rotate(5)" y="5.5">0.5</text>
<text transform="translate(454.6,110.4) rotate(25)" y="5.5">0.4</text>
<text transform="translate(629,38.3) rotate(-8)" y="5.5">0.3</text>
<text transform="translate(756.3,29.8) rotate(5)" y="5.5">0.1</text>
<text transform="translate(802,62) rotate(40)" y="5.5">0.2</text>
<text transform="translate(859.2,25.9) rotate(0)" y="5.5">0.4</text>
<text transform="translate(879,34.7) rotate(-25)" y="5.5">0.3</text>
<text transform="translate(854.3,7.8) rotate(90)" y="5.5">.5</text>
<text transform="translate(898.3,7.8) rotate(90)" y="5.5">0</text>
<text transform="translate(919.2,27) rotate(70)" y="5.5">1</text>
</g>
<use href="#dots"/>
<path d="M0,0H937 M0,0V367 H937 V106" fill="none" stroke="#111" stroke-width="1.3"/>
<g stroke="#111" stroke-width="1.3">
<line x1="-10.5" x2="0" y1="0" y2="0"/>
<line x1="-10.5" x2="0" y1="146.7" y2="146.7"/>
<line x1="-10.5" x2="0" y1="293.4" y2="293.4"/>
<line x1="65.2" x2="65.2" y1="367" y2="378"/>
<line x1="258.1" x2="258.1" y1="367" y2="378"/>
<line x1="451" x2="451" y1="367" y2="378"/>
<line x1="643.9" x2="643.9" y1="367" y2="378"/>
<line x1="836.8" x2="836.8" y1="367" y2="378"/>
</g><g stroke="#999" stroke-width="0.8">
<line x1="-4" x2="0" y1="73.4" y2="73.4"/>
<line x1="-4" x2="0" y1="220.1" y2="220.1"/>
<line x1="-4" x2="0" y1="366.8" y2="366.8"/>
<line x1="161.7" x2="161.7" y1="367" y2="371.5"/>
<line x1="354.6" x2="354.6" y1="367" y2="371.5"/>
<line x1="547.5" x2="547.5" y1="367" y2="371.5"/>
<line x1="740.3" x2="740.3" y1="367" y2="371.5"/>
<line x1="933.2" x2="933.2" y1="367" y2="371.5"/>
</g>
<text x="-35.31" y="9.2" font-size="24.5" class="b" textLength="14.05" lengthAdjust="spacingAndGlyphs">0</text>
<text x="-69.41" y="155.9" font-size="24.5" class="b" textLength="48.3" lengthAdjust="spacingAndGlyphs">100</text>
<text x="-68.6" y="302.6" font-size="24.5" class="b" textLength="47.46" lengthAdjust="spacingAndGlyphs">200</text>
<text x="34.27" y="409.7" font-size="24.5" class="b" textLength="62.56" lengthAdjust="spacingAndGlyphs">40°S</text>
<text x="226.59" y="409.7" font-size="24.5" class="b" textLength="63.15" lengthAdjust="spacingAndGlyphs">20°S</text>
<text x="429.2" y="409.7" font-size="24.5" class="b" textLength="42.86" lengthAdjust="spacingAndGlyphs">EQ</text>
<text x="612.14" y="409.7" font-size="24.5" class="b" textLength="64.44" lengthAdjust="spacingAndGlyphs">20°N</text>
<text x="805.47" y="409.7" font-size="24.5" class="b" textLength="64.15" lengthAdjust="spacingAndGlyphs">40°N</text>
<text class="b" font-size="32.5" transform="translate(-101,262.4) rotate(-90)" x="-2.32" textLength="160.66" lengthAdjust="spacingAndGlyphs">Depth [m]</text>
</g>
<text x="537.23" y="148.5" font-size="36.6" class="b" textLength="518.7" lengthAdjust="spacingAndGlyphs">14CPP TOTAL [mgC m-3 d-1]</text>
<path d="M1092.2,181 L1108.5,175.3 L1124.8,181 V548.5 L1108.5,554.2 L1092.2,548.5 Z" fill="url(#p1)" stroke="#d9c7b5" stroke-opacity="0.4" stroke-width="0.5"/>
<g stroke="#111" stroke-width="1.6">
<line x1="1091.7" x2="1099.7" y1="181.4" y2="181.4"/><line x1="1117.3" x2="1125.3" y1="181.4" y2="181.4"/>
<line x1="1091.7" x2="1099.7" y1="238.8" y2="238.8"/><line x1="1117.3" x2="1125.3" y1="238.8" y2="238.8"/>
<line x1="1091.7" x2="1099.7" y1="296.1" y2="296.1"/><line x1="1117.3" x2="1125.3" y1="296.1" y2="296.1"/>
<line x1="1091.7" x2="1099.7" y1="353.5" y2="353.5"/><line x1="1117.3" x2="1125.3" y1="353.5" y2="353.5"/>
<line x1="1091.7" x2="1099.7" y1="410.8" y2="410.8"/><line x1="1117.3" x2="1125.3" y1="410.8" y2="410.8"/>
<line x1="1091.7" x2="1099.7" y1="468.1" y2="468.1"/><line x1="1117.3" x2="1125.3" y1="468.1" y2="468.1"/>
<line x1="1091.7" x2="1099.7" y1="525.5" y2="525.5"/><line x1="1117.3" x2="1125.3" y1="525.5" y2="525.5"/>
</g>
<text x="1132.57" y="189.4" font-size="25" class="b" textLength="15.54" lengthAdjust="spacingAndGlyphs">3</text>
<text x="1132.25" y="246.75" font-size="25" class="b" textLength="37.6" lengthAdjust="spacingAndGlyphs">2.5</text>
<text x="1132.19" y="304.1" font-size="25" class="b" textLength="16.02" lengthAdjust="spacingAndGlyphs">2</text>
<text x="1133.99" y="361.45" font-size="25" class="b" textLength="35.82" lengthAdjust="spacingAndGlyphs">1.5</text>
<text x="1134.51" y="418.8" font-size="25" class="b" textLength="9.69" lengthAdjust="spacingAndGlyphs">1</text>
<text x="1132.11" y="476.15" font-size="25" class="b" textLength="37.74" lengthAdjust="spacingAndGlyphs">0.5</text>
<text x="1132.16" y="533.5" font-size="25" class="b" textLength="14.52" lengthAdjust="spacingAndGlyphs">0</text>
<text class="b" font-size="17.5" transform="translate(1087.9,544.8) rotate(-90)" x="-0.69" textLength="139.67" lengthAdjust="spacingAndGlyphs">Ocean Data View</text>
<g transform="translate(130.5,694.5)">
<g clip-path="url(#cp)">
<g filter="url(#bf)">
<rect x="-20" y="-20" width="980" height="340" fill="#7543F0"/>
<path fill="#5A56F6" d="M696,102l3,3 0,3 0,12 -1,3 -2,3 -2-6 0-12 1-3z"/>
<path fill="#5860F6" d="M696,94l3,3 2,8 0,15 -2,10 -3,4 -3-6 -1-5 0-15 1-7 2-5zM695,105l-1,3 0,12 2,6 2-3 1-3 0-12 0-3 -3-3z"/>
<path fill="#576BF6" d="M696,89l3,1 1,3 2,6 1,9 -1,15 -2,9 -1,6 -3,4 -3-3 -3-19 1-12 1-12 1-3 2-3zM695,96l-2,5 -1,7 0,15 1,5 3,6 3-4 2-10 0-15 -2-8 -3-3zM696,235l1,2 1,3 -1,6 -1,1 -2-1 -1-3 2-6z"/>
<path fill="#5676F6" d="M756,32l1,1 -1,1 -1-1zM696,86l3,0 3,4 2,15 -2,28 -2,8 -2,3 -2,1 -3-1 -2-9 -2-12 0-15 1-9 3-9 2-3zM695,90l-2,3 -1,3 -1,12 -1,12 3,19 3,3 3-4 1-6 2-9 1-15 -1-9 -2-6 -1-3 -3-1zM696,221l2,4 1,6 0,9 -1,6 -2,3 -3-1 -1-2 0-6 3-9 0-6 1-3zM695,237l-2,6 1,3 2,1 1-1 1-6 -1-3 -1-2z"/>
<path fill="#5581F6" d="M753,26l3-2 3,2 2,4 0,3 -1,3 -1,2 -3,1 -3-2 -2-4 1-6zM755,33l1,1 1-1 -1-1zM696,84l3-2 3,2 2,9 1,9 0,12 -2,18 -1,7 -3,7 -3,2 -3-1 -2-3 -2-6 0-12 0-18 1-14 3-7 3-3zM695,87l-2,3 -3,9 -1,9 0,15 2,12 2,9 3,1 2-1 2-3 2-8 2-28 -2-15 -3-4 -3,0zM696,219l3,4 1,5 0,15 -1,4 -1,2 -2,2 -3-1 -2-4 0-6 2-9 0-8 3-4zM696,222l-1,3 0,6 -3,9 0,6 1,2 3,1 2-3 1-6 0-9 -1-6 -2-4z"/>
<path fill="#548CF6" d="M753,15l3,0 3,3 3,5 1,4 1,6 -1,3 -3,6 -1,1 -3,1 -3-2 -4-6 -1-3 0-6 2-7 1-2zM752,27l-1,6 2,4 3,2 3-1 1-2 1-3 0-3 -2-4 -3-2 -3,2zM699,79l3,0 2,5 2,9 1,12 -3,30 -2,8 -3,6 -3,1 -3,0 -3-4 -2-8 -1-15 1-15 1-15 3-6 5-6zM696,84l-3,3 -3,7 -1,14 0,18 0,12 2,6 2,3 3,1 3-2 3-7 1-7 2-18 0-12 -1-9 -2-9 -3-2 -3,2zM696,216l3,4 2,8 0,12 -2,9 -3,3 -3,0 -2-3 -1-3 0-6 2-9 0-6 1-6zM696,219l-3,4 0,8 -2,9 0,6 2,4 3,1 2-2 1-2 1-4 0-15 -1-5 -3-4z"/>
<path fill="#5A9AF0" d="M753,5l4,1 5,6 3,9 1,6 -1,11 -3,10 -3,4 -3-2 -6-7 -3-5 -1-5 0-6 1-12 3-8 1-1zM751,18l-1,2 -2,7 0,6 1,3 4,6 3,2 3-1 1-1 3-6 1-3 -1-6 -1-4 -3-5 -3-3 -3,0zM699,77l3,0 2,1 2,3 1,9 1,12 -3,33 -3,12 -3,5 -3,1 -3-1 -3-3 -1-2 -2-9 -1-15 1-15 1-15 2-6 7-9zM697,81l-5,6 -3,6 -1,15 -1,15 1,15 2,8 3,4 3,0 3-1 3-6 2-8 3-30 -1-12 -2-9 -2-5 -3,0zM696,213l3,4 2,8 1,9 -1,12 -2,5 -3,2 -3,0 -1-1 -2-2 -1-4 2-24 2-6 3-3zM693,219l-1,6 0,6 -2,9 0,6 1,3 2,3 3,0 3-3 2-9 0-12 -2-8 -3-4z"/>
<path fill="#61A7E9" d="M753,0l3,0 3,0 3,3 3,6 3,9 0,9 0,6 -4,18 -2,4 -3,1 -3-1 -3-4 -7-9 -3-9 0-12 2-9 2-7 3-4 3-1zM751,6l-1,1 -3,8 -1,12 0,6 1,5 3,5 6,7 3,2 3-4 3-10 1-11 -1-6 -3-9 -5-6 -4-1zM273,24l3,0 3,1 3,5 0,9 -2,3 -3,3 -4,1 -3-1 -3-2 -2-4 0-3 1-6 4-5 3-1zM702,75l3,2 3,4 1,9 0,15 -4,33 -2,9 -4,11 -3-1 -6-6 -2-4 -2-9 0-21 0-15 2-12 5-9 3-4 4-2zM697,78l-7,9 -2,6 -1,15 -1,15 1,15 2,9 1,2 3,3 3,1 3-1 3-5 3-12 3-33 -1-12 -1-9 -2-3 -2-1 -3,0zM699,159l1,6 -1,2 -3-2 2-3zM696,203l2,4 0,6 3,9 1,9 -1,15 -2,6 -3,2 -3,0 -3-2 -2-6 2-21 3-12 0-6 1-3zM696,213l-3,3 -2,6 -2,24 1,4 2,2 1,1 3,0 3-2 2-5 1-12 -1-9 -2-8 -3-4z"/>
<path fill="#66B3DD" d="M750,-4l2-2 10,0 5,6 2,6 1,9 1,12 -2,9 -4,19 -3,4 -3,0 -4-2 -8-9 -3-6 -2-6 -1-9 0-12 4-12 4-6zM753,0l-3,1 -3,4 -2,7 -2,9 0,12 3,9 7,9 3,4 3,1 3-1 2-4 4-18 0-6 0-9 -3-9 -3-6 -3-3 -3,0 -3,0zM276,-1l6-1 6,1 5,4 2,6 -1,9 -4,15 -2,9 -3,5 -4,4 -5,2 -3,0 -6-3 -5-5 -1-3 -2-6 1-9 4-14 3-7 3-3 4-3zM273,24l-3,1 -4,5 -1,6 0,3 2,4 3,2 3,1 4-1 3-3 2-3 0-9 -3-5 -3-1 -3,0zM699,74l3-1 3,1 3,3 1,4 1,9 0,18 -3,27 -5,21 0,9 -3,6 -3-2 -1-10 -5-6 -3-4 -1-8 -1-18 0-18 2-12 3-10 3-4 4-4zM700,75l-4,2 -3,4 -5,9 -2,12 0,15 0,21 2,9 2,4 6,6 3,1 4-11 2-9 4-33 0-15 -1-9 -3-4 -3-2zM698,162l-2,3 3,2 1-2 -1-6zM696,200l3,4 1,9 2,9 1,9 -1,15 -3,8 -3,1 -3,0 -3-1 -2-5 0-6 2-21 2-9 0-9 1-2 1-1zM694,204l-1,3 0,6 -3,12 -2,21 2,6 3,2 3,0 3-2 2-6 1-15 -1-9 -3-9 0-6 -2-4z"/>
<path fill="#6BBECA" d="M252,-6l59,0 2,12 -1,6 -17,36 -3,3 -4,4 -6,2 -6,2 -6-1 -6-3 -4-4 -4-6 -3-12 -1-15 -3-15 0-9zM274,0l-4,3 -3,3 -3,7 -4,14 -1,9 2,6 1,3 5,5 6,3 3,0 5-2 4-4 3-5 2-9 4-15 1-9 -2-6 -5-4 -6-1 -6,1zM747,-6l5,0 -5,6 -4,9 -2,12 0,12 3,9 3,6 6,7 3,3 3,1 3,0 3-5 4-18 2-9 -1-12 -1-9 -2-6 -5-6 10,0 1,6 1,9 -1,15 -5,27 -3,8 -3,2 -3,1 -3-1 -3-2 -7-8 -4-6 -3-9 -1-9 1-12 2-9 5-12zM702,72l3,1 3,1 3,4 1,6 -1,18 -3,33 -4,21 -2,12 -3,7 -3,3 -2-19 -7-7 -1-5 -2-15 0-24 2-15 3-9 6-9 4-3 2,0zM697,75l-4,4 -3,4 -3,10 -2,12 0,18 1,18 1,8 3,4 5,6 1,10 3,2 3-6 0-9 5-21 3-27 0-18 -1-9 -1-4 -3-3 -3-1 -3,1zM696,195l3,4 1,5 1,9 2,15 0,12 -2,12 -2,3 -3,2 -3,0 -3-2 -2-3 -1-3 1-12 3-33 2-6 3-3zM694,201l-1,1 -1,2 0,9 -2,9 -2,21 0,6 2,5 3,1 3,0 3-1 3-8 1-15 -1-9 -2-9 -1-9 -3-4z"/>
<path fill="#70C8B8" d="M237,-6l12,0 0,9 3,15 1,15 3,12 4,6 4,4 6,3 6,1 6-2 6-2 4-4 3-3 17-36 1-6 -2-12 16,0 -10,30 -6,21 -3,6 -8,6 -6,3 -9,3 -9,1 -6-1 -8-3 -4-3 -5-6 -2-6 -8-24 -8-15 -1-12zM741,-5l0-1 5,0 -5,12 -2,9 -1,12 1,9 2,6 3,6 9,11 3,2 3,1 3-1 3-2 2-5 5-21 1-9 0-18 -1-12 6,0 -2,30 -8,33 -3,4 -3,3 -3,0 -3,0 -3-2 -10-11 -4-6 -2-9 -1-9 0-9 5-21zM699,71l6,0 3,1 3,3 2,3 0,6 -1,21 -3,30 -5,30 -4,15 0,6 0,6 4,36 0,12 -2,12 -3,5 -3,1 -3,0 -3-1 -3-4 -1-4 4-42 2-12 0-18 2-6 0-6 -2-6 -5-5 -2-7 -1-15 -1-18 1-18 2-9 4-9 3-3 3-3zM701,72l-2,0 -4,3 -6,9 -3,9 -2,15 0,24 2,15 1,5 7,7 2,19 3-3 3-7 2-12 4-21 3-33 1-18 -1-6 -3-4 -3-1 -3-1zM696,195l-3,3 -2,6 -3,33 -1,12 1,3 2,3 3,2 3,0 3-2 2-3 2-12 0-12 -2-15 -1-9 -1-5 -3-4z"/>
<path fill="#72CAA7" d="M225,-6l9,0 1,12 8,15 8,24 4,9 3,3 6,4 6,2 6,1 9-1 9-3 6-3 6-4 3-4 2-4 6-21 10-30 19,0 -7,6 -6,8 -4,7 -3,9 -2,12 1,6 3,15 -1,3 -3,3 -3,0 -33,5 -12,1 -9-1 -6-2 -6-3 -5-6 -3-6 -7-19 -12-20 -2-6 -2-12zM738,-6l3,0 -5,24 0,12 1,9 2,6 6,9 8,8 3,2 3,0 3,0 3-3 4-7 7-30 2-30 7,0 -8,36 -7,24 -2,6 -2,3 -4,3 -3,1 -3-1 -3-1 -9-8 -5-6 -4-9 -2-9 0-12 1-9 3-12 0-6zM90,3l3-1 3,1 3,3 3,6 1,24 -1,5 -3,0 -3-4 -2-10 -4-6 -3-6 0-7 3-5zM348,25l3-1 3,1 1,2 0,3 -1,3 -3,2 -3-1 -2-1 -1-3 1-3zM702,69l6,1 4,2 2,3 1,6 -2,27 -3,27 -5,33 -2,9 -1,12 1,24 2,18 -2,18 -1,6 -3,3 -3,2 -3,0 -4-2 -2-3 -2-6 6-54 -1-18 2-6 1-6 0-3 -2-3 -4-3 -2-6 -2-18 -1-21 1-15 3-12 3-6 4-5 3-3 5-1zM696,72l-3,3 -3,3 -4,9 -2,9 -1,18 1,18 1,15 2,7 5,5 2,6 0,6 -2,6 0,18 -2,12 -4,42 1,4 3,4 3,1 3,0 3-1 3-5 2-12 0-12 -4-36 0-6 0-6 4-15 5-30 3-30 1-21 0-6 -2-3 -3-3 -3-1 -6,0z"/>
<path fill="#75CD96" d="M75,-6l36,0 -2,9 -3,36 -1,8 -3,5 -3,0 -1-1 -6-9 -5-13 -11-20 -3-9 0-6zM90,3l-3,5 0,7 3,6 4,6 2,10 3,4 3,0 1-5 -1-24 -3-6 -3-3 -3-1 -3,1zM213,-6l11,0 2,12 2,6 12,20 8,22 4,6 3,3 6,3 6,2 9,1 15-1 33-5 3-3 1-3 -4-18 1-9 1-6 5-12 8-12 7-6 39,0 -2,6 -4,3 -4,2 -13,4 -2,3 2,6 1,6 -2,9 -4,6 -6,5 -3,1 -3,3 2,15 -1,6 -2,3 -2,2 -3,2 -6,1 -6-1 -21-3 -33,1 -9-1 -9-2 -6-3 -3-2 -3-6 -7-21 -16-24 -5-15 -4-6zM346,27l-1,3 1,3 2,1 3,1 3-2 1-3 0-3 -1-2 -3-1 -3,1zM627,-6l26,0 2,6 0,3 -1,3 -3,2 -3,0 -6-2 -6,3 -6,2 -3-2 0-6 -1-9zM732,-6l5,0 0,6 -3,15 -1,9 1,12 2,9 3,6 5,6 9,8 3,1 3,1 3-1 4-3 2-3 2-6 7-24 8-36 7,0 -8,18 -13,45 -3,5 -3,3 -3,2 -6,2 -8-3 -10-6 -2-3 -3-6 -2-9 -1-12 0-15 2-15 -1-6zM696,69l6-2 6,0 3,1 5,4 2,6 -3,30 -12,81 1,24 1,18 -1,18 -2,8 -3,3 -3,2 -3,0 -3-1 -3-3 -2-6 0-9 4-45 -1-21 1-3 3-6 0-3 0-3 -2-3 -4-3 -2-5 -1-10 -1-27 0-18 3-12 4-9 2-3 4-3zM701,69l-5,1 -3,3 -4,5 -3,6 -3,12 -1,15 1,21 2,18 2,6 4,3 2,3 0,3 -1,6 -2,6 1,18 -6,54 2,6 2,3 4,2 3,0 3-2 3-3 1-6 2-18 -2-18 -1-24 1-12 2-9 5-33 3-27 2-27 -1-6 -2-3 -4-2 -6-1zM42,77l3,0 2,1 1,3 -1,3 -5,1 -2-1 -1-3 2-3z"/>
<path fill="#74CC85" d="M63,-6l10,0 0,6 3,9 11,20 5,13 6,9 1,1 3,0 3-5 1-8 3-36 2-9 17,0 -8,7 -3,4 -3,6 -4,16 -2,18 -3,9 -3,4 -6,1 -5-2 -5-6 -14-28 -6-17 -6-12zM186,-6l25,0 4,6 3,12 3,6 13,18 3,5 6,20 3,5 6,4 6,2 9,2 36-1 30,4 6-1 3-2 2-2 2-3 1-6 -2-15 3-3 3-1 6-5 4-6 2-9 -1-6 -2-6 2-3 13-4 4-2 4-3 2-6 11,0 -5,9 -14,12 -4,6 -6,15 -12,18 -4,15 -3,6 -6,5 -3,2 -6,1 -36-5 -9,0 -21,4 -9,0 -9-2 -6-3 -6-5 -3-4 -9-24 -21-33 -7-8 -13-9zM612,-6l14,0 1,9 0,6 3,2 6-2 6-3 6,2 3,0 3-2 1-3 -2-9 8,0 -1,9 -1,3 -5,5 -6,3 -18,2 -7-1 -7-3 -4-4 -2-5 -1-3 2-6zM617,0l-2,3 0,3 2,3 1,1 3,0 1-1 2-3 0-3 -3-4 -3,0zM723,-6l8,0 1,3 0,6 -2,15 0,15 2,13 3,10 3,4 4,3 8,4 6,2 6-2 3-2 3-3 3-5 13-45 8-18 9,0 -9,11 -6,10 -13,39 -2,6 -5,6 -4,3 -9,1 -19-1 -8-3 1-18 -1-36 -1-9 -2-9zM696,66l6-2 6,0 10,2 5,3 -5,21 -2,21 -2,9 -8,60 -1,12 -1,18 2,24 -2,18 -1,6 -4,4 -3,2 -3,0 -3-1 -5-5 -1-6 5-54 -1-9 -1-12 1-3 3-6 1-3 -1-3 -1-2 -3-2 -2-2 -1-2 -2-13 -1-27 0-18 2-12 2-6 3-6 5-5 3-1zM695,69l-4,3 -2,3 -4,9 -3,12 0,18 1,27 1,10 2,5 4,3 2,3 0,3 0,3 -3,6 -1,3 1,21 -4,45 0,9 2,6 3,3 3,1 3,0 3-2 3-3 2-8 1-18 -1-18 -1-24 12-81 3-30 -2-6 -5-4 -3-1 -6,0 -6,2zM45,68l3,0 5,1 4,3 2,3 1,6 -1,3 -2,3 -3,2 -3,2 -6,0 -6-3 -3-4 -1-3 1-4 3-5 5-3zM41,78l-2,3 1,3 2,1 5-1 1-3 -1-3 -2-1 -3,0z"/>
<path fill="#70C874" d="M21,-6l39,0 6,12 6,17 14,28 5,6 5,2 6-1 3-4 3-9 2-18 4-16 4-8 8-7 2-2 56,0 13,9 7,8 21,33 9,24 3,4 6,5 6,3 9,2 9,0 21-4 9,0 36,5 6-1 3-2 6-5 3-6 4-15 12-18 5-14 3-5 16-14 5-9 11,0 -4,6 -5,6 -14,11 -3,4 -9,18 -11,18 -9,18 -7,8 -6,5 -3,1 -6-1 -27-5 -9-1 -12,2 -15,7 -6,2 -12-1 -12-3 -7-5 -5-6 -5-9 -12-27 -7-12 -3-4 -6-5 -11-12 -4-3 -3-1 -3,0 -3,1 -6,5 -3,1 -9-7 -6-2 -6,0 -6,0 -6,3 -6,5 -3,4 -5,15 -4,23 -3,6 -9,7 -13,6 -3,3 -5,12 -6,6 -6,3 -9,2 -9-2 -6-4 -4-5 -1-3 -1-6 2-6 4-9 6-8 7-7 2-3 4-30 0-6 -2-3 -5-4 -6-2 -16-3 -9-3zM64,54l-1,3 3,6 3,3 3,2 3,0 2-2 1-3 -2-6 -4-3 -3-2 -3,1zM44,69l-5,3 -3,5 -1,4 1,3 3,4 6,3 6,0 3-2 3-2 2-3 1-3 -1-6 -2-3 -4-3 -5-1 -3,0zM609,-6l2,0 -2,6 1,3 2,5 4,4 7,3 7,1 18-2 6-3 5-5 1-3 1-9 6,0 -5,12 -5,6 -6,5 -3,1 -9,1 -15-1 -6-2 -6-4 -3-4 -2-5 -1-9zM714,-6l9,0 3,12 1,42 -1,18 8,3 19,1 9-1 4-3 5-6 2-6 13-38 3-6 6-9 6-7 15,0 -15,9 -6,6 -5,6 -5,12 -11,30 -7,9 -5,4 -6,2 -21,2 -6,1 -3,3 -4,6 -2,6 -1,18 -5,21 -7,51 -2,30 1,24 -1,21 -3,7 -3,3 -3,1 -3,0 -3-1 -5-4 -1-3 -2-6 5-39 1-15 -2-24 4-5 1-4 -1-4 -6-4 -1-7 -3-36 0-27 2-12 3-6 4-3 4-3 6-2 18-1 3-2 3-4 1-6 -3-36 -3-9 -5-9zM696,66l-3,1 -5,5 -3,6 -2,6 -2,12 0,18 1,27 2,13 1,2 2,2 3,2 1,2 1,3 -1,3 -3,6 -1,3 1,12 1,9 -5,54 1,6 5,5 3,1 3,0 3-2 4-4 1-6 2-18 -2-24 1-18 1-12 8-60 2-9 2-21 5-21 -5-3 -10-2 -6,0 -6,2zM618,-1l3,0 3,4 0,3 -2,3 -1,1 -3,0 -1-1 -2-3 0-3 2-3zM619,6l2,1 1-1 -1-3z"/>
<path fill="#6CC462" d="M-3,-6l23,0 9,3 19,4 6,3 3,3 1,5 0,3 -4,30 -2,3 -7,7 -6,8 -4,9 -2,6 1,6 1,3 4,5 6,4 9,2 9-2 6-3 6-6 5-12 3-3 13-6 9-7 3-6 4-23 5-14 3-5 3-3 9-5 6,0 9,1 6,3 6,5 3-1 6-5 3-1 3,0 3,1 3,2 12,13 6,5 3,4 7,12 13,30 7,10 6,5 6,3 9,2 9,1 9-2 15-7 12-2 9,1 27,5 6,1 3-1 6-5 7-8 9-18 11-18 6-14 3-4 3-4 14-11 5-6 4-6 11,0 -4,6 -9,11 -6,5 -9,4 -4,4 -6,15 -14,19 -10,17 -14,18 -3,2 -3,0 -18-5 -18-4 -6-1 -6,1 -6,3 -5,4 -5,6 -5,2 -9,1 -14,0 -10-1 -9-2 -6-4 -3-5 -15-31 -7-17 -17-20 -6-2 -12-1 -15-8 -9-1 -9,3 -3,2 -5,6 -4,12 -6,24 -11,18 -3,12 -3,6 -7,6 -6,3 -9,3 -9,1 -9-1 -6-3 -6-4 -5-8 -3-6 -1-6 1-6 2-12 0-6 -1-6 -2-3 -3-2 -6-2 -3,0 -9,3 -3,0 -4-2 -8-11 0-37zM606,-6l1,9 2,5 3,4 6,4 6,2 15,1 9-1 6-3 6-6 2-3 5-12 7,0 -5,7 -5,8 -10,10 -6,4 -6,0 -9-1 -9-2 -6-3 -6-3 -4-5 -2-3 -2-6 -1-6zM699,-6l14,0 5,9 3,12 3,33 -1,6 -3,4 -3,2 -18,1 -6,2 -4,3 -4,3 -3,6 -2,9 0,30 3,36 1,7 6,4 1,4 -1,4 -4,5 2,24 -1,15 -5,39 2,6 1,3 5,4 3,1 3,0 3-1 3-3 3-7 1-21 -1-24 2-30 7-51 5-21 1-18 3-8 3-4 4-3 26-3 6-2 5-4 7-9 11-30 5-12 5-6 6-6 15-9 72,0 -30,11 -6,0 -15-4 -9-1 -9,1 -9,3 -12,8 -6,6 -6,11 -11,28 -6,9 -4,3 -6,3 -24,6 -6,3 -4,3 -2,4 -1,5 1,15 -1,3 -4,9 -2,6 -8,54 -2,27 1,24 -1,27 -4,7 -3,3 -6,1 -3-1 -5-4 -2-3 -2-6 0-6 5-33 1-12 0-9 -1-21 1-3 3-3 1-3 -1-3 -6-3 -2-9 -4-54 -3-15 -1-6 1-6 2-3 2-3 4-3 7-3 6-2 6,0 12,0 3-1 2-3 1-3 -4-15 0-12 -2-8 -6-9 -10-10zM621,3l1,3 -1,1 -2-1zM66,53l3-1 3,2 4,3 2,6 -1,3 -2,2 -3,0 -3-2 -3-3 -3-6 1-3zM507,91l3,0 3,0 2,2 1,3 -2,3 -1,1 -4-1 -3-3 0-3z"/>
<path fill="#69BD53" d="M417,-4l1-2 12,0 -11,12 -17,25 -6,2 -4,6 -21,21 -11,15 -11,15 -6,12 -1,2 -3,0 -18-10 -18-5 -6-1 -6,1 -6,3 -5,4 -6,9 -7,3 -15,2 -15,1 -18,0 -9-1 -3-3 -3-17 -4-12 -8-16 -3-14 -5-9 -7-8 -6-4 -15-5 -12-6 -9-1 -6,2 -6,4 -6,8 -3,7 -3,18 -6,15 -2,6 1,9 6,9 0,3 -3,3 -8,6 -15,7 -15,3 -12,0 -6-2 -6-3 -6-5 -4-6 -3-6 -4-12 -1-6 0-15 0-3 -3-5 -3-2 -3-1 -15,0 -9-3 0-15 8,11 4,2 3,0 9-3 3,0 6,2 3,2 3,6 0,6 -3,18 1,6 2,8 3,5 6,7 6,3 9,2 9,0 9-3 6-2 6-4 4-4 3-6 3-12 11-18 6-25 6-14 6-5 6-3 6,0 6,1 15,8 12,1 3,0 5,4 4,6 9,9 4,6 5,14 15,31 4,6 6,3 8,2 12,1 15,0 9-2 7-7 5-4 6-3 6-1 6,1 18,4 18,5 3,0 3-2 14-18 10-17 14-19 6-15 4-4 9-4 5-4 12-15zM603,-6l1,6 2,6 4,6 5,4 6,3 12,3 12,1 6-2 13-12 5-8 5-7 24,0 10,10 4,5 3,6 1,6 0,12 4,15 -1,3 -2,3 -3,1 -12,0 -6,0 -12,5 -5,3 -2,3 -2,3 -1,6 1,6 3,15 4,54 2,9 6,3 1,3 -1,3 -3,3 -1,3 1,21 0,9 -1,12 -5,33 0,6 2,6 2,3 5,4 3,1 6-1 3-3 4-7 1-27 -1-24 2-27 8-54 2-6 4-9 1-3 -1-15 1-5 3-5 3-2 6-3 24-6 6-3 4-3 6-9 11-28 6-11 3-3 6-5 12-7 9-3 9,0 21,5 6,0 30-11 57,0 0,7 -15,7 -6,1 -15-8 -6-1 -6,0 -21,5 -6,4 -6,6 -6,3 -3,0 -15-9 -9-2 -9-1 -9,2 -15,9 -6,6 -6,11 -10,23 -6,9 -8,6 -25,9 -5,3 -4,3 -2,3 -1,6 2,12 -1,3 -6,9 -3,9 -8,48 -2,30 0,27 -1,12 1,9 -1,6 -1,4 -3,4 -6,3 -6-1 -5-4 -4-6 -1-6 6-48 0-12 -1-21 0-3 3-3 2-3 -2-3 -4-2 -2-4 -1-9 -4-45 -2-9 -3-5 -6-4 -3-12 -6-12 1-3 5-8 6-5 3-1 22-1 5-1 3-2 1-3 0-9 3-6 -1-3 -7-9 -7-6 -7-3 -6,0 -3,1 -3,3 -5,8 -6,6 -4,6 -3,3 -6,1 -9-1 -15-5 -9-5 -6-4 -5-7 -3-6 -1-6zM501,87l3-1 6,1 6,4 2,2 0,3 -2,5 -3,2 -3,0 -3-1 -3-3 -3-6 -1-3 1-3zM506,93l0,3 3,3 4,1 1-1 2-3 -1-3 -2-2 -3,0 -3,0z"/>
<path fill="#66B644" d="M429,-5l1-1 48,0 -2,3 -2,2 -3,0 -9,1 -15-4 -9,3 -7,4 -8,9 -5,9 -2,6 -2,15 -1,3 -5,3 -15,3 -6,3 -9,6 -23,27 -4,6 -5,12 -1,2 -3,2 -3,0 -3-1 -13-9 -5-3 -15-4 -6-1 -6,1 -3,2 -6,5 -7,9 -5,3 -9,4 -15,3 -15,2 -15,0 -9-2 -5-4 -3-6 -5-24 -8-21 -2-12 -4-9 -6-7 -8-5 -22-9 -9-1 -6,1 -3,2 -6,6 -3,4 -2,6 -3,15 -4,15 -1,6 2,6 1,3 7,9 1,3 -1,3 -1,3 -5,5 -6,5 -6,4 -9,5 -15,3 -9,1 -6-1 -9-2 -6-3 -6-4 -6-8 -3-7 -2-13 -4-12 -1-12 -2-6 -3-3 -3-1 -21,0 0-7 9,3 15,0 3,1 3,2 3,5 0,3 0,15 1,6 4,12 3,6 4,6 6,5 6,3 6,2 12,0 15-3 15-7 8-6 3-3 0-3 -6-9 -1-9 2-6 6-15 3-18 3-7 6-8 6-4 6-2 9,1 12,6 15,5 6,4 7,8 5,9 3,14 8,16 4,12 3,17 3,3 9,1 18,0 15-1 15-2 7-3 6-9 5-4 6-3 6-1 6,1 18,5 18,10 3,0 1-2 6-12 11-15 11-15 21-21 4-6 6-2 17-25 8-9zM600,-6l4,12 4,6 4,3 12,7 15,5 9,1 6-1 3-3 4-6 6-6 5-8 3-3 3-1 6,0 7,3 7,6 7,9 1,3 -3,6 0,9 -1,3 -3,2 -5,1 -22,1 -3,1 -6,5 -5,8 -1,3 6,12 3,12 6,4 3,5 2,9 4,45 1,9 2,4 4,2 2,3 -2,3 -3,3 0,3 1,21 0,12 -6,48 1,6 3,5 3,3 6,2 6,0 3-2 3-4 1-4 1-6 -1-9 1-12 0-27 2-30 8-48 3-9 6-9 1-3 -2-12 1-6 2-3 4-3 5-3 25-9 8-6 6-9 10-23 6-11 6-6 15-9 9-2 9,1 9,2 15,9 3,0 6-3 6-6 4-3 20-6 6-1 9,2 15,8 6-1 15-7 0,11 -18,6 -6-1 -3-2 -7-6 -8-4 -9,0 -12,3 -8,4 -8,9 -11,8 -3,0 -7-8 -5-4 -9-5 -6-1 -6,0 -9,3 -9,4 -6,6 -6,9 -11,24 -7,9 -9,7 -23,11 -8,6 -2,6 0,15 -8,12 -3,9 -8,45 -2,29 0,28 -1,9 1,15 0,4 -1,5 -2,3 -3,3 -6,2 -6-1 -6-4 -4-6 -1-6 0-6 5-31 1-11 1-15 -2-23 5-7 -2-3 -3-1 -2-5 -5-48 -3-12 -2-3 -9-7 -10-23 -1-6 1-12 -1-6 -3-3 -4-2 -21-10 -14-9 -4-3 -5-6 -3-12zM498,82l3,0 9,2 6,4 2,2 2,3 0,3 -1,5 -3,3 -3,2 -3,0 -3-1 -5-3 -2-3 -4-6 -1-6 1-3zM501,87l-1,3 1,3 3,6 3,3 3,1 3,0 3-2 2-5 0-3 -2-2 -6-4 -6-1 -3,1z"/>
<path fill="#63B03B" d="M444,-4l6,0 12,4 3,0 9-1 2-2 2-3 8,0 -5,9 -3,3 -4,0 -12-1 -9-2 -6,0 -6,1 -6,3 -6,6 -4,8 -6,21 -4,6 -7,4 -12,4 -6,3 -12,9 -21,21 -4,7 -5,12 -3,4 -3,1 -6,0 -3-2 -11-9 -7-4 -12-4 -6,0 -6,1 -3,2 -9,12 -9,7 -15,7 -15,3 -15,1 -12-1 -9-2 -5-4 -4-5 -3-7 -9-39 -3-15 -3-9 -5-6 -7-5 -21-9 -9-1 -6,1 -3,2 -6,5 -3,7 -6,33 1,6 1,3 7,9 2,6 -1,6 -2,6 -8,10 -9,7 -9,5 -12,4 -12,1 -12-1 -12-4 -9-7 -6-7 -4-8 -1-6 0-15 -6-12 -1-12 -1-3 -2-2 -3-1 -18,4 0-8 21,0 3,1 3,3 2,6 1,12 4,12 2,13 3,7 6,8 6,4 6,3 9,2 6,1 9-1 15-3 9-5 6-4 6-5 5-5 1-3 1-3 -1-3 -7-9 -1-3 -2-6 1-6 4-15 3-15 2-6 3-4 6-6 3-2 6-1 9,1 22,9 8,5 6,7 4,9 2,12 8,21 5,24 3,6 5,4 9,2 15,0 15-2 15-3 9-4 5-3 7-9 6-5 3-2 6-1 6,1 15,4 5,3 13,9 3,1 3,0 3-2 1-2 5-12 4-6 23-27 9-6 6-3 15-3 5-3 1-3 3-18 4-9 5-7 5-5 7-4 4-2zM597,-6l1,0 3,12 5,6 4,3 14,9 21,10 4,2 3,3 1,6 -1,12 1,6 10,23 9,7 3,6 3,21 4,36 2,5 3,1 2,3 -5,7 2,23 -1,15 -1,11 -5,31 0,6 1,6 4,6 3,2 6,3 6-1 3-1 3-3 3-6 0-6 -1-12 1-12 0-24 3-36 8-45 3-9 7-9 0-15 0-3 3-4 7-5 23-11 9-7 7-9 11-24 6-9 6-6 12-5 9-2 6,1 6,1 9,6 9,10 3,0 9-7 9-9 3-3 6-2 12-3 6,0 6,1 6,4 6,5 3,2 3,1 6-1 15-5 0,9 -12,2 -6,0 -6-1 -3-1 -9-8 -6-3 -6-1 -9,1 -6,1 -6,4 -15,15 -6,3 -3,0 -3-2 -9-8 -9-6 -9-2 -6,1 -6,1 -9,5 -6,6 -6,10 -9,19 -8,9 -7,6 -21,12 -7,6 -4,6 -2,15 -8,12 -3,8 -7,37 -3,18 -3,57 1,6 2,9 -1,9 -1,4 -3,4 -3,2 -6,2 -6-1 -6-4 -5-7 -2-9 0-6 4-18 4-24 0-12 -2-21 0-9 1-2 3,0 1-1 -1-1 -3,0 -3-8 -4-39 -2-11 -2-7 -4-6 -8-6 -10-18 -2-9 -1-12 -3-7 -5-5 -16-9 -20-15 -5-6 -4-12zM495,79l3-1 6,1 9,4 5,4 2,3 2,6 -1,6 -2,3 -3,2 -6,2 -3-1 -6-3 -5-6 -3-6 -1-6 0-3 1-3zM496,84l-1,3 1,6 4,6 2,3 5,3 3,1 3,0 3-2 3-3 1-5 0-3 -2-3 -2-2 -6-4 -9-2 -3,0zM723,179l1,1 -1,1 -1-1zM756,186l3,2 1,1 -1,2 -3,2 -2-4z"/>
<path fill="#62AC3A" d="M486,-6l5,0 -1,3 -6,9 -4,3 -6,1 -21-3 -6,0 -6,2 -4,3 -3,3 -4,6 -7,21 -6,9 -6,5 -15,6 -6,4 -27,21 -6,7 -6,16 -3,4 -3,3 -3,1 -6,0 -6-4 -9-9 -9-6 -9-3 -6,0 -6,3 -3,2 -9,12 -6,6 -6,4 -12,6 -6,2 -9,2 -18,0 -12,0 -9-3 -6-4 -3-4 -3-5 -4-12 -6-24 -2-24 -2-6 -3-6 -4-4 -6-4 -15-7 -9-3 -9,1 -6,4 -3,3 -2,4 -4,27 0,6 1,6 9,12 2,6 0,9 -3,7 -9,14 -6,6 -6,5 -6,3 -9,3 -9,2 -9,0 -12-1 -12-3 -9-4 -9-8 -7-9 -2-9 -1-9 4-12 -1-3 -14-15 -3,0 -9,1 0-12 18-4 3,1 2,2 1,3 1,12 6,12 0,15 1,6 3,6 4,6 9,8 9,4 9,2 9,1 9-1 15-4 12-7 6-5 6-7 4-9 1-6 -2-6 -7-9 -1-3 -1-6 5-30 2-6 5-7 6-4 6-1 9,1 19,8 8,5 6,7 3,9 3,15 10,42 5,8 6,5 9,2 15,1 15-1 12-3 9-4 9-5 6-5 9-12 3-2 6-1 6,0 12,4 7,4 11,9 6,2 3,0 3-1 3-4 5-12 4-7 21-21 12-9 6-3 12-4 7-4 4-6 6-21 4-8 6-6 6-3 6-1 6,0 9,2 15,1 4-3 5-9zM594,-6l1,0 4,12 5,6 20,15 16,9 5,5 3,7 1,12 2,9 10,18 8,6 4,6 2,7 2,11 4,39 3,8 3,0 1,1 -1,1 -3,0 -1,2 0,9 2,21 0,12 -4,24 -4,18 0,6 2,9 4,6 4,3 6,3 6,0 3-2 5-4 2-6 1-9 -2-9 -1-6 4-63 6-33 3-15 3-9 8-12 2-15 2-4 5-5 25-15 10-9 6-9 11-22 6-8 6-4 6-3 6-1 9,0 9,3 6,4 9,8 3,2 3,0 6-3 12-12 6-5 9-3 9-1 9,2 12,10 6,2 9,0 12-2 0,7 -12,1 -6,0 -9-4 -9-7 -6-4 -9-2 -9,2 -6,2 -5,5 -10,11 -6,4 -3,1 -6-2 -15-12 -6-2 -6-2 -6,0 -6,1 -6,3 -6,5 -6,8 -11,21 -4,6 -12,10 -20,14 -6,6 -3,6 -4,14 -9,16 -6,21 -3,18 -4,39 -2,38 4,16 0,9 -2,6 -5,5 -3,2 -6,1 -6-1 -6-4 -6-9 -2-9 -1-9 6-23 2-16 1-15 -2-24 1-9 -3-9 -4-36 -4-18 -3-6 -11-9 -8-12 -3-9 -3-18 -3-6 -7-6 -10-7 -22-17 -5-6 -5-12zM495,75l6,0 12,6 6,4 3,4 2,7 -1,6 -4,6 -3,2 -6,2 -6-2 -6-4 -5-7 -4-9 -1-6 2-6 4-3zM493,81l-1,3 0,3 1,6 3,6 5,6 6,3 3,1 6-2 3-2 2-3 1-6 -2-6 -2-3 -5-4 -9-4 -6-1 -3,1zM720,176l3-1 3,2 2,3 0,3 -3,6 -1,6 -1,2 -3,1 -3-3 1-3 3-3 0-3 -1-2 -2-4 1-3zM722,180l1,1 1-1 -1-1zM756,181l3,0 3,1 4,4 0,6 -1,4 -3,2 -3,1 -3,0 -3-2 -1-2 -2-3 0-3 1-3 2-3zM754,189l2,4 3-2 1-2 -1-1 -3-2z"/>
<path fill="#60A838" d="M492,-6l5,0 -3,6 -8,9 -6,3 -6,1 -24-2 -6,2 -4,2 -3,3 -3,6 -5,15 -3,6 -6,9 -6,5 -18,9 -15,12 -18,11 -4,5 -3,12 -3,6 -5,6 -3,2 -6,2 -6-1 -6-5 -8-10 -6-6 -7-3 -6-1 -5,1 -4,3 -12,16 -12,10 -12,7 -12,3 -36,1 -9-2 -6-2 -5-6 -3-6 -10-33 -2-12 1-18 -1-6 -3-6 -7-7 -18-9 -9-1 -9,2 -3,2 -3,4 -3,12 -1,15 0,6 3,6 10,12 3,6 0,6 -1,6 -6,15 -8,14 -6,6 -6,4 -9,4 -9,3 -9,1 -12,1 -15-1 -16-5 -8-4 -6-4 -10-10 -6-9 -8-17 -3-3 0-30 9-1 3,0 14,15 1,3 -3,9 -1,6 1,9 2,6 4,6 9,9 12,6 15,4 15,0 15-3 9-4 9-6 9-10 7-11 3-9 -1-6 -2-6 -9-12 -1-6 0-6 2-18 2-9 2-4 3-3 6-4 9-1 9,3 15,7 7,5 5,6 3,9 3,30 7,24 5,12 3,3 6,4 9,3 15,0 15,0 12-3 9-4 9-5 9-8 8-11 3-3 4-2 6-1 6,1 9,4 18,16 6,1 3,0 6-4 3-3 6-17 6-7 27-21 6-4 15-6 6-5 6-9 7-21 4-6 3-3 4-3 6-2 6,0 21,3 6-1 4-3 3-3 4-9zM591,-6l1,0 5,12 5,6 22,17 10,7 7,6 3,6 3,18 3,9 8,12 11,9 3,6 4,18 4,36 3,9 -1,9 2,24 -1,15 -2,16 -6,23 1,9 2,9 6,9 6,4 6,1 6-1 3-2 5-5 2-6 0-9 -4-16 2-38 4-39 3-18 6-21 9-16 4-14 3-6 6-6 20-14 12-10 6-9 9-18 7-9 5-4 6-3 6-1 6,0 6,2 6,2 15,12 6,2 3-1 6-4 10-11 5-5 6-2 9-2 9,2 6,4 9,7 6,3 9,1 12-1 0,6 -12,1 -9-2 -6-3 -15-12 -3-2 -6-1 -9,1 -6,4 -6,6 -9,11 -3,2 -3,1 -3,0 -6-2 -15-10 -6-3 -6-2 -6-1 -6,1 -6,3 -4,4 -8,10 -9,17 -5,6 -10,9 -16,12 -9,9 -4,6 -5,15 -7,12 -3,6 -1,3 0,5 6,4 -3,3 -3-3 -3,3 -5,24 1,3 1,2 3-2 3-1 3,1 3,2 2,4 0,6 -4,9 -2,3 -5,2 -6-2 0-2 -2,8 -3,39 1,6 5,15 0,9 -1,6 -4,6 -5,4 -6,1 -6,0 -3-1 -6-5 -6-8 -3-6 -1-6 0-12 7-28 2-14 0-12 -1-33 -3-15 -4-30 -3-14 -3-7 -3-3 -11-9 -7-9 -3-6 -4-21 -3-6 -5-6 -9-6 -9-9 -16-12 -5-6 -5-12zM719,177l-1,3 2,4 1,2 0,3 -3,3 -1,3 3,3 3-1 1-2 1-6 3-6 0-3 -2-3 -3-2 -3,1zM714,183l0,8 3-3 1-2 -1-2 -3-2zM489,71l3-1 6,0 18,10 6,5 3,7 0,7 -1,6 -4,6 -4,3 -3,0 -6,0 -7-3 -6-6 -6-9 -3-9 0-9 3-6zM494,75l-4,3 -2,6 1,6 4,9 5,7 6,4 6,2 6-2 3-2 4-6 1-6 -2-7 -3-4 -6-4 -12-6 -6,0zM756,176l3-1 6,2 3,3 4,6 1,6 -1,6 -2,3 -4,3 -4,1 -6,0 -3-1 -3-3 -1-3 -2-6 1-6 2-5 4-4zM753,183l-2,3 -1,3 0,3 2,3 1,2 3,2 3,0 3-1 3-2 1-4 0-6 -4-4 -3-1 -3,0z"/>
<path fill="#66A835" d="M498,-6l4,0 -4,7 -7,8 -8,5 -9,2 -24-1 -3,0 -4,3 -4,6 -8,21 -8,11 -9,8 -15,9 -12,12 -4,2 -14,4 -6,4 -2,4 -2,9 -3,9 -5,7 -6,5 -6,2 -3-1 -6-2 -6-7 -12-16 -6-4 -6-1 -5,2 -3,3 -10,15 -6,7 -6,5 -9,6 -6,3 -12,3 -48,1 -6-1 -6-3 -4-6 -7-27 -7-15 -2-6 0-9 5-12 1-6 -1-6 -1-3 -3-3 -5-4 -15-8 -9-2 -9,2 -4,3 -2,7 -2,17 1,9 4,7 12,8 3,3 1,3 1,6 -8,30 -6,15 -3,6 -3,3 -5,3 -7,3 -12,4 -12,2 -21,2 -18-1 -18-4 -14-6 -19-11 0-42 3,3 10,20 6,9 11,9 12,6 15,5 18,1 9-1 12-2 15-6 9-6 6-8 7-13 5-15 0-6 -1-6 -4-6 -8-9 -2-3 -1-6 1-15 2-12 3-6 4-3 9-2 9,1 18,9 7,7 3,6 1,6 -1,18 2,12 10,33 3,6 5,6 6,2 9,2 36-1 12-3 12-7 12-10 12-16 4-3 5-1 6,1 7,3 6,6 8,10 6,5 6,1 6-2 3-2 5-6 3-6 3-12 4-5 18-11 15-12 18-9 6-5 6-9 3-6 5-15 3-6 3-3 4-2 6-2 24,2 6-1 6-3 3-3 5-6 3-6zM588,-6l1,0 5,12 5,6 16,12 9,9 9,6 5,6 3,6 4,21 3,6 7,9 11,9 3,3 3,7 3,14 4,30 3,15 1,33 0,12 -2,14 -7,28 0,9 3,12 4,8 6,6 3,2 6,1 6,0 6-3 5-5 2-6 0-6 0-6 -5-15 -1-6 3-39 2-8 0,2 6,2 5-2 2-3 2-3 2-9 -1-6 -3-3 -4-1 -3,1 -3,2 -1-2 -1-3 5-24 3-3 3,3 3-3 -6-4 0-5 2-6 9-15 5-15 4-6 9-9 16-12 10-9 5-6 9-17 8-10 4-4 6-3 6-1 6,1 6,2 6,3 15,10 6,2 3,0 3-1 3-2 9-11 6-6 6-4 9-1 6,1 3,2 15,12 6,3 9,2 12-1 0,6 -15,0 -9-2 -6-4 -6-7 -6-6 -6-3 -3,0 -5,0 -4,1 -6,4 -6,7 -9,14 -3,2 -6-1 -24-15 -12-4 -6-1 -3,1 -3,1 -6,5 -6,8 -8,14 -4,6 -10,9 -18,15 -8,9 -6,9 -15,30 0,3 0,3 3,3 2,3 0,3 -2,2 -3,1 -3-1 -1,1 -2,4 -3,14 1,3 8,0 3,1 3,2 2,3 1,3 0,6 -2,6 -5,6 -5,3 -9,1 -1,2 -1,9 -2,30 1,7 4,8 4,9 1,9 0,6 -2,6 -4,5 -6,4 -6,1 -9-1 -3-1 -6-5 -5-6 -3-6 -4-12 0-9 0-6 9-34 1-20 -2-36 -5-39 -3-13 -3-7 -3-4 -14-12 -8-9 -3-9 -2-15 -5-9 -13-12 -8-9 -17-12 -4-6 -6-12zM486,61l3-1 3,1 15,11 12,7 5,5 3,6 0,9 -2,9 -3,5 -6,3 -3,1 -6,0 -9-4 -8-8 -6-9 -3-12 -1-6 1-6 2-6 1-3zM488,72l-3,6 0,9 3,9 6,9 6,6 7,3 6,0 3,0 4-3 4-6 1-6 0-7 -3-7 -6-5 -18-10 -6,0 -3,1zM756,170l6,0 6,3 7,7 4,9 0,9 -2,6 -3,3 -6,4 -6,1 -9-2 -3-1 -3-5 -3-9 0-9 4-9 2-3 3-3zM754,177l-4,4 -2,5 -1,6 2,6 1,3 3,3 3,1 6,0 4-1 4-3 2-3 1-6 -1-6 -4-6 -3-3 -6-2 -3,1zM714,182l3,2 1,2 -1,2 -3,3 0-8z"/>
<path fill="#6DA832" d="M501,-4l1-2 5,0 -6,9 -6,7 -9,6 -9,3 -24-1 -6,2 -3,3 -9,21 -6,11 -9,9 -14,11 -3,3 -1,3 0,3 1,3 6,9 2,9 0,6 -1,6 -2,4 -3,2 -5,0 -4-3 -4-6 -5-11 -3-3 -3-2 -6-1 -7,2 -11,22 -6,9 -3,2 -6,4 -6,0 -3,0 -6-3 -4-4 -10-18 -4-5 -3-2 -3-1 -3,0 -4,2 -2,3 -9,15 -8,9 -7,6 -12,6 -12,4 -24,0 -30,4 -6,0 -9-2 -4-3 -2-3 -3-6 -1-6 -1-15 -1-5 -3-4 -3-1 -6,0 -3,1 -3,3 -2,3 -1,6 -5,33 -1,6 -3,4 -48,13 -15,3 -15,1 -21,0 -42-11 0-24 18,11 12,5 15,4 15,2 18,0 18-3 18-5 11-6 6-6 4-9 10-33 1-6 -1-6 -1-3 -3-3 -12-8 -3-5 -1-5 0-15 2-12 2-4 2-2 7-2 9,1 15,7 8,6 4,5 1,4 0,6 -6,15 0,9 2,6 7,15 7,27 4,6 3,2 6,2 9,0 42-1 12-3 9-5 9-6 9-10 10-15 3-3 5-2 6,1 6,4 12,16 6,7 6,2 6,0 6-3 6-7 5-12 2-9 2-4 6-4 14-4 4-2 12-12 15-9 9-8 8-11 8-21 4-6 4-3 3,0 24,1 9-2 9-6 9-11zM126,39l-3,4 -2,8 0,9 1,9 1,3 2,3 4,3 3,0 6,0 9-5 15-10 2-3 0-3 -3-6 -8-6 -13-6 -5-1 -6,0zM582,-6l4,0 6,12 4,6 17,12 8,9 13,12 5,9 2,15 3,9 8,9 14,12 3,4 3,7 3,13 5,39 2,36 -1,20 -9,34 0,13 3,13 6,10 3,3 6,5 6,2 9,0 6-2 6-6 3-8 0-6 -1-9 -4-9 -4-8 -1-7 2-30 1-9 1-2 9-1 5-3 5-6 2-6 0-6 -1-3 -2-3 -3-2 -3-1 -8,0 -1-3 3-14 2-4 1-1 3,1 3-1 2-2 0-3 -2-3 -3-3 0-3 0-3 15-30 6-9 8-9 18-15 10-9 4-6 8-14 6-8 6-5 3-1 3-1 6,1 12,4 24,15 6,1 3-2 9-14 6-7 6-4 4-1 5,0 3,0 6,3 6,6 6,7 6,4 9,2 15,0 0,6 -18-2 -9-2 -4-3 -7-9 -7-6 -6-3 -4,0 -7,3 -6,6 -6,9 -6,15 -1,2 -3,0 -13-11 -14-10 -15-6 -6,0 -3,0 -6,4 -6,7 -11,17 -5,6 -18,15 -9,9 -11,15 -12,24 -3,9 1,3 2,3 1,3 0,3 -1,3 -3,3 -3,0 -3,2 -2,10 2,2 9,2 9,5 7-6 5-2 9-1 6,2 8,7 7,9 3,9 0,6 0,6 -2,6 -4,4 -6,3 -6,1 -9-1 -9-4 -4-3 -5-11 -3-4 -3,1 -12,7 -6,1 -3,3 -3,24 0,15 12,21 2,6 1,9 -1,12 -2,7 -3,5 -31,0 -11-13 -3-6 -3-8 -2-12 0-15 11-42 0-18 -2-30 -2-15 -2-20 -3-12 -3-8 -6-8 -12-9 -8-9 -4-9 -3-18 -6-9 -9-8 -11-13 -17-12 -12-18zM753,171l-3,3 -2,3 -4,9 0,9 3,9 3,5 3,1 9,2 6-1 6-4 3-3 2-6 0-9 -4-9 -7-7 -6-3 -6,0zM483,48l3,0 3,0 4,3 12,15 5,5 11,7 5,6 3,9 0,12 -4,8 -6,5 -9,2 -6-1 -4-2 -5-3 -6-6 -8-12 -5-12 -1-9 0-6 2-15 3-4 3-2zM484,63l-1,3 -2,6 -1,6 1,6 3,12 6,9 8,8 9,4 6,0 3-1 6-3 3-5 2-9 0-9 -3-6 -5-5 -12-7 -15-11 -3-1 -3,1z"/>
<path fill="#7AAB30" d="M507,-6l4,0 -7,10 -9,10 -12,10 -6,2 -15-3 -6,0 -6,1 -3,3 -5,9 -8,18 -4,6 -16,18 -2,6 3,18 0,12 -1,4 -3,5 -3,3 -3,1 -6,0 -3-2 -3-2 -12-13 -3-2 -3,0 -3,1 -6,4 -10,16 -5,6 -4,3 -5,2 -9,0 -6-2 -8-6 -5-6 -8-14 -3-3 -3,1 -1,1 -10,15 -8,9 -14,9 -12,5 -9,2 -33,2 -24,4 -9-1 -15-3 -6,0 -6,3 -11,12 -4,3 -39,13 -21,6 -18,4 -15,1 -21,1 -30-1 0-26 42,11 15,0 18-1 15-2 36-10 12-2 4-3 2-4 2-11 4-27 1-6 2-3 3-3 3-1 6,0 3,1 3,4 1,5 1,15 1,6 3,6 2,3 4,3 9,2 6,0 30-4 24,0 12-4 12-6 7-6 8-9 9-15 2-3 4-2 3,0 3,1 3,2 4,5 10,18 4,4 6,3 3,0 6,0 6-4 3-2 6-9 11-22 7-2 6,1 3,2 3,3 5,11 4,6 4,3 5,0 3-2 2-4 1-6 0-6 -2-9 -6-9 -1-3 0-3 1-3 3-3 14-11 9-9 6-11 9-21 3-3 6-2 24,1 9-3 6-4 6-5 5-7 4-6zM576,-6l5,0 12,18 17,12 11,13 9,8 6,9 3,18 4,9 8,9 9,6 6,6 3,5 3,8 3,12 2,20 2,15 2,36 0,9 -2,9 -9,36 0,15 2,12 3,8 6,10 8,9 -11,0 -7-15 -3-15 -1-9 1-15 7-30 4-12 1-18 -1-30 -3-15 -1-14 -3-14 -3-7 -6-9 -6-5 -9-6 -9-11 -3-9 -3-15 -4-9 -11-11 -9-12 -18-12 -9-12 -6-7zM891,21l3,0 6,3 7,6 7,9 4,3 9,2 18,2 0,5 -21-4 -8-2 -4-3 -12-13 -3-2 -6-2 -6,2 -6,6 -5,9 -6,15 -4,3 -3,0 -3-1 -3-2 -9-9 -13-9 -14-6 -6-1 -3,1 -3,2 -6,5 -11,17 -5,6 -15,12 -10,9 -6,9 -13,20 -5,10 -3,9 -1,3 3,8 0,4 -2,12 3,3 5,1 15-1 9,0 6,3 5,3 9,9 6,9 3,12 1,9 -2,9 -4,5 -6,4 -9,2 -9-1 -12-7 -6-4 -9-14 -3-1 -6,2 -12,5 -3,7 -3,29 3,6 14,18 4,9 2,9 0,6 -2,15 -12,0 3-5 2-7 1-12 -1-9 -2-6 -12-21 0-15 3-24 3-3 6-1 12-7 3-1 3,4 5,11 4,3 6,3 6,2 9,0 6-2 6-5 2-4 1-9 -1-9 -2-6 -7-9 -8-7 -6-2 -9,1 -5,2 -7,6 -9-5 -9-2 -2-2 2-10 3-2 3,0 3-3 1-3 0-3 -1-3 -2-3 -1-3 3-9 9-18 7-12 7-9 6-6 18-15 6-6 13-20 9-9 3-2 6,0 6,1 9,4 17,11 13,11 3,0 1-2 6-15 6-9 6-6 7-3zM129,38l6,0 5,1 13,6 8,6 3,6 0,3 -2,3 -15,10 -9,5 -6,0 -3,0 -4-3 -2-3 -1-3 -1-9 0-9 2-8 3-4zM127,45l-2,6 -1,6 2,9 3,4 3,0 6-1 11-6 4-3 1-3 0-3 -3-3 -4-3 -9-4 -6-1 -3,0zM477,42l3-2 3-1 3,1 6,4 7,7 11,15 12,9 5,6 3,6 2,9 -2,12 -3,6 -5,5 -6,2 -6,1 -6-1 -6-2 -7-5 -6-6 -5-6 -5-9 -2-6 -3-9 -1-6 1-9 1-9 3-8 3-4zM483,48l-3,2 -3,4 -2,15 0,6 1,9 5,12 8,12 6,6 5,3 4,2 6,1 9-2 6-5 4-8 0-12 -3-9 -5-6 -11-7 -5-5 -12-15 -4-3 -3,0 -3,0z"/>
<path fill="#8DB230" d="M510,-4l1-2 5,0 -22,27 -4,6 -1,3 1,3 3,6 20,24 15,15 5,9 1,6 0,6 0,6 -2,6 -4,6 -4,3 -5,3 -6,1 -6,0 -12-4 -9-6 -10-12 -9-15 -2-6 -1-9 0-9 5-21 0-6 -2-3 -4-3 -7-1 -6,2 -3,3 -3,5 -7,18 -12,15 -4,6 -3,9 1,21 -2,9 -3,7 -3,4 -3,2 -6,1 -6-2 -5-3 -10-9 -3-2 -6-1 -3,1 -3,3 -3,4 -6,11 -4,5 -8,5 -9,1 -6-1 -6-2 -18-12 -3-1 -3,0 -6,3 -21,14 -10,5 -8,3 -9,2 -36,2 -21,4 -21-1 -6,2 -6,2 -12,10 -6,4 -36,16 -27,9 -24,6 -21,4 -36,3 0-21 27,1 21,0 18-2 18-4 21-6 39-13 4-3 11-12 6-3 6,0 15,3 9,1 21-3 33-2 10-2 14-6 14-9 8-9 10-15 1-1 3-1 3,3 8,14 5,6 8,6 6,2 9,0 5-2 4-3 5-6 10-16 6-4 3-1 3,0 3,2 12,13 3,2 3,2 6,0 3-1 3-3 3-5 1-4 0-12 -3-18 2-6 16-18 4-6 8-18 5-9 3-3 6-1 9,0 9,2 6,0 6-3 9-8 8-8 6-9zM477,42l-3,4 -3,8 -1,9 -1,9 1,6 3,9 2,6 5,9 5,6 6,6 7,5 6,2 6,1 6-1 6-2 5-5 3-6 2-12 -2-9 -3-6 -5-6 -12-9 -11-15 -7-7 -6-4 -3-1 -3,1 -3,2zM570,-6l6,0 6,7 9,12 18,12 9,12 9,9 4,5 2,6 3,15 3,9 9,11 9,6 6,5 6,9 3,7 3,14 1,14 3,15 1,30 -1,18 -4,12 -7,30 0,18 0,9 2,9 2,6 6,12 -8,0 -4-13 -1-14 2-27 4-18 2-15 5-17 1-10 -2-30 -5-39 -3-7 -6-9 -6-6 -11-8 -8-9 -4-9 -3-15 -3-6 -3-6 -7-7 -8-11 -6-6 -10-5 -5-4 -10-12 -11-9zM888,26l6,0 3,1 6,5 9,10 4,3 8,2 21,4 0,6 -30-9 -5-3 -13-12 -6-2 -6,2 -6,6 -3,6 -5,12 -2,3 -5,3 -3,0 -3,0 -5-3 -13-12 -9-6 -12-5 -6,0 -3,1 -3,1 -6,6 -13,18 -19,15 -6,6 -19,29 -5,10 -3,6 0,6 3,18 1,3 4,3 3,0 15,0 6,1 6,2 8,6 9,9 8,12 5,12 2,15 0,6 -1,3 -2,3 -8,8 -6,3 -6,2 -6,1 -9-3 -9-8 -12-13 -9-13 -3-2 -3,0 -6,2 -6,3 -3,2 -2,9 -2,12 -1,9 2,6 3,4 12,11 9,9 9,11 3,2 3-1 4,3 1,3 0,3 2,9 0,6 -28,0 2-15 0-6 -2-9 -4-9 -14-18 -3-6 2-24 2-9 2-3 12-5 6-2 3,1 9,14 9,6 6,4 6,2 9,0 9-3 6-6 1-2 2-6 -1-12 -2-9 -5-9 -8-9 -7-6 -4-2 -6-1 -9,0 -12,1 -5-1 -3-3 2-12 0-4 -3-8 1-6 3-6 8-15 14-21 8-9 19-15 5-6 8-13 9-9 3-2 6,0 12,3 6,3 9,6 15,14 3,1 3,0 3-2 3-4 4-12 3-6 5-6 4-3zM129,43l3,0 6,1 9,4 4,3 3,3 0,3 -1,3 -4,3 -11,6 -6,1 -3,0 -3-4 -2-9 1-6 2-6zM134,54l0,3 1,1 3,0 2-1 -1-3 -4-1z"/>
<path fill="#A0B830" d="M516,-6l7,0 -10,9 -12,15 -4,6 -2,6 1,6 4,6 28,32 5,7 2,6 2,12 0,6 -2,6 -4,6 -3,3 -6,4 -6,2 -6,0 -13-3 -12-6 -7-6 -5-6 -6-9 -6-9 -4-15 0-9 5-15 0-3 0-5 -3-4 -3-1 -3,0 -3,1 -4,6 -2,12 -2,6 -12,12 -4,6 -2,9 -3,27 -1,6 -3,5 -3,4 -6,4 -6,1 -6-1 -7-4 -11-9 -3-1 -3-1 -3,1 -3,3 -6,13 -3,4 -6,5 -6,3 -6,1 -9-1 -9-3 -12-5 -9-2 -9,3 -26,13 -13,4 -45,4 -18,4 -21,1 -9,4 -18,13 -15,9 -21,12 -24,11 -30,11 -54,12 -3,0 0-22 39-4 24-4 21-6 30-11 27-11 9-6 12-10 6-2 6-2 21,1 21-4 36-2 9-2 8-3 10-5 21-14 6-3 3,0 3,1 18,12 6,2 6,1 9-1 8-5 4-5 6-11 3-4 3-3 3-1 6,1 3,2 10,9 5,3 6,2 6-1 3-2 3-4 3-7 2-9 -1-21 3-9 4-6 12-15 7-18 3-5 3-3 6-2 7,1 4,3 2,3 0,6 -5,21 0,9 1,9 2,6 9,15 10,12 9,6 12,4 6,0 6-1 5-3 4-3 4-6 2-6 0-6 0-6 -1-6 -5-9 -15-15 -20-24 -3-6 -1-3 1-3 4-6 20-24zM561,-6l7,0 11,9 10,12 5,4 10,5 5,4 9,13 7,7 3,6 3,6 3,15 4,9 8,9 11,8 6,6 6,9 3,8 5,38 2,30 -1,10 -5,17 -2,15 -4,18 -2,15 0,12 0,9 5,18 -9,0 -1-15 2-21 4-21 3-15 0-18 1-3 6-12 2-12 -2-27 -1-9 -2-9 -1-13 -3-10 -3-6 -6-7 -15-12 -8-9 -5-9 -5-18 -3-6 -17-24 -4-4 -14-8 -16-15 -15-9zM888,32l3-1 6,2 13,12 5,3 30,9 0,6 -13-6 -20-7 -15-11 -6-2 -6,2 -3,2 -3,5 -4,11 -5,6 -3,2 -6,1 -6-1 -4-2 -14-12 -9-6 -9-4 -6,0 -3,1 -6,4 -3,3 -8,11 -6,6 -15,12 -6,6 -21,33 -5,12 -1,9 1,9 3,6 4,3 3,0 15,1 6,1 6,2 6,3 12,11 11,12 6,9 6,12 7,27 0,3 -6,3 -2,6 -2,9 -2,6 0,9 -3,9 -1,6 1,6 -4,15 -46,0 0-6 -2-9 0-3 -1-3 -4-3 -3,1 -3-2 -9-11 -9-9 -12-11 -3-4 -2-6 2-17 2-10 1-3 3-2 9-4 6-1 3,2 9,13 9,11 12,10 9,3 6-1 9-3 11-10 3-6 0-6 -2-15 -5-12 -6-9 -11-12 -9-6 -8-3 -18,0 -6-2 -2-4 -3-15 0-3 0-6 3-6 5-10 19-29 6-6 19-15 13-18 6-6 3-1 6-1 6,1 6,2 12,8 13,12 5,3 3,0 6-1 3-3 3-5 3-9 3-6 3-3 3-3zM725,207l-5,3 -3,6 -3,15 0,12 3,4 3,2 15,9 6,2 3,0 3-1 5-4 2-6 0-6 -3-9 -9-21 -4-6 -3-2 -3,0 -6,2zM135,53l4,1 1,3 -2,1 -3,0 -1-1 0-3z"/>
<path fill="#B3BE30" d="M522,-5l1-1 35,0 15,9 16,15 17,11 18,25 3,6 5,18 5,9 8,9 15,12 6,7 3,6 3,10 1,13 2,9 1,9 2,27 -2,12 -6,12 -1,3 0,18 -3,15 -6,33 0,12 1,12 -8,0 0-3 3-21 12-51 0-6 -3-6 -2-3 -6-3 1-3 8-2 3-3 3-3 3-8 1-8 -1-24 -1-6 -2-6 -3-4 -4-2 4-4 1-2 0-6 -1-6 -3-6 -6-8 -18-15 -8-10 -5-9 -7-21 -16-24 -6-5 -12-7 -15-13 -6-3 -12-6 -15-4 -9,1 -6,2 -6,4 -6,5 -8,11 -4,6 -2,6 1,3 2,6 5,6 12,12 15,21 4,9 2,12 0,6 -2,6 -3,6 -3,3 -7,5 -9,3 -9,0 -15-4 -9-4 -10-9 -13-15 -5-9 -5-11 -3-4 -3-2 -3,0 -6,4 -3,4 -7,24 -1,12 -1,6 -3,6 -3,5 -6,5 -6,2 -9-1 -10-5 -11-9 -3-1 -3,2 -1,2 -3,9 -5,7 -6,5 -9,4 -6,1 -9-1 -21-7 -9,0 -9,2 -24,10 -12,4 -30,4 -18,1 -18,4 -15,1 -6,1 -9,5 -18,15 -15,11 -24,15 -24,13 -30,15 -36,14 -12,5 -6,0 0-26 57-12 30-11 24-11 30-17 9-6 13-10 8-4 6-1 18-1 18-4 45-4 13-4 26-13 9-3 9,2 12,5 9,3 9,1 6-1 6-3 6-5 3-4 6-13 3-3 3-1 3,1 3,1 11,9 7,4 6,1 3,0 5-2 4-3 3-3 3-9 3-27 3-12 4-6 12-12 2-6 2-12 4-6 3-1 3,0 3,1 3,4 0,5 0,3 -5,15 0,9 4,15 6,9 6,9 5,6 7,6 12,6 13,3 6,0 8-3 4-3 3-3 2-3 3-6 1-9 -2-12 -2-6 -5-7 -28-32 -4-6 -1-6 2-6 4-6 12-15 6-6zM450,42l-1,3 1,3 3,2 2-2 1-3 0-3 -3-1 -3,1zM885,39l3-2 6,1 3,1 15,11 20,7 13,6 0,7 -16-10 -20-8 -12-8 -6-2 -3,0 -3,2 -3,3 -6,13 -3,4 -6,4 -6,1 -6-1 -6-2 -18-15 -6-3 -9-3 -6,1 -7,5 -14,17 -13,10 -6,6 -23,36 -4,9 -2,6 0,6 2,6 1,3 3,3 6,1 18,0 6,2 6,2 10,7 10,9 6,6 7,9 14,27 9,21 2,9 -1,3 -3,3 2,9 2,9 0,6 7,15 5,9 0,6 -47,0 4-15 -1-6 1-6 3-9 0-9 2-6 2-9 2-6 6-3 0-3 -7-27 -6-12 -6-9 -11-12 -12-11 -6-3 -6-2 -6-1 -15-1 -6-2 -3-4 -1-3 -1-9 0-6 2-6 3-7 22-35 6-6 17-13 12-16 6-5 3-2 6-1 9,2 9,5 17,15 4,2 6,1 6-1 6-5 6-15 6-6zM726,207l6-2 3,0 3,2 4,6 9,21 3,9 0,6 -2,6 -5,4 -3,1 -3,0 -6-2 -15-9 -3-2 -3-4 0-12 3-15 3-6 5-3zM731,207l-7,3 -3,3 -2,3 -2,7 -1,8 0,9 1,3 6,5 6,1 6,1 3-1 3-2 2-4 1-6 0-6 -1-9 -3-9 -2-3 -3-3 -3,0z"/>
<path fill="#C6C530" d="M528,-3l6-2 6,0 6,1 12,4 12,6 18,15 15,9 6,7 12,18 4,8 4,15 5,9 8,10 18,15 6,8 3,6 1,6 0,6 -1,2 -4,4 4,2 3,4 2,6 1,8 1,25 -2,9 -2,4 -3,3 -3,3 -8,2 -1,1 0,2 6,3 3,4 2,11 -12,51 -3,24 -10,0 6-18 11-29 4-16 3-9 0-3 -1-5 -3-4 -9-7 -1-2 0-3 2-3 11-5 3-3 3-5 2-8 -1-21 -1-8 -3-5 -6-3 -2-2 0-3 1-3 4-6 1-3 -2-6 -5-9 -18-17 -11-13 -4-6 -5-15 -4-9 -9-16 -6-7 -30-21 -9-5 -15-5 -15-3 -9,2 -6,4 -6,6 -6,9 -3,6 -1,3 1,6 3,4 3,3 12,8 2,3 6,12 9,15 3,9 1,12 -1,9 -6,9 -3,3 -5,3 -12,4 -6,1 -21-5 -6-2 -6-3 -4-4 -26-27 -6-4 -3,2 -8,14 -3,15 -5,12 -5,7 -6,4 -6,2 -6-1 -24-7 -3,2 -6,8 -6,5 -6,3 -9,3 -12,1 -24-6 -9-1 -9,2 -36,13 -15,1 -15,3 -18,1 -18,4 -18,2 -8,5 -13,13 -12,10 -42,32 -45,27 -57,30 0-28 6,0 12-5 36-14 30-15 24-13 24-15 15-11 18-15 9-5 6-1 15-1 18-4 18-1 30-4 12-4 24-10 9-2 9,0 21,7 9,1 6-1 9-4 6-5 5-7 3-9 1-2 3-2 3,1 11,9 10,5 9,1 6-2 6-5 3-5 3-6 1-6 1-12 7-24 3-4 6-4 3,0 3,2 3,4 5,11 5,9 13,15 10,9 12,5 15,3 9-1 9-4 7-6 4-9 1-9 -2-12 -4-9 -15-21 -12-12 -5-6 -2-6 -1-3 1-3 3-6 10-14 6-5 9-5zM537,32l3-1 3,0 2,2 2,3 -1,3 -2,3 -4,1 -3,0 -2-1 -1-3 0-3 2-3zM450,42l3-1 3,1 0,3 -1,3 -2,2 -3-2 -1-3 1-3zM885,44l3-2 6,1 15,9 15,6 10,5 11,7 0,10 -19-17 -5-3 -15-5 -12-7 -3-1 -3,0 -3,2 -4,11 -5,6 -3,2 -6,3 -9,1 -6-1 -6-3 -18-14 -5-3 -7-2 -6,1 -6,5 -12,14 -15,12 -5,6 -23,36 -4,9 -1,6 0,6 1,3 2,2 3,2 6,1 12-1 6,0 9,3 9,5 9,6 14,12 9,9 8,9 3,6 2,6 3,6 10,12 3,12 2,3 9,16 3,3 3,0 2,2 1,2 0,1 -4,0 -11-4 -2,1 0,3 1,6 7,12 5,12 5,12 -21,0 0-6 -5-9 -7-15 0-6 -2-9 -2-9 3-3 1-3 -2-9 -7-18 -12-24 -8-12 -8-8 -8-7 -7-6 -9-5 -9-3 -18,0 -6-1 -3-3 -1-3 -2-9 1-6 3-9 23-37 8-8 15-12 10-13 6-5 6-2 3-1 6,1 9,5 18,15 6,2 6,1 6-1 7-5 2-3 5-12 3-3zM732,207l3,0 3,3 2,3 3,9 1,9 0,6 -1,6 -2,4 -3,2 -3,1 -6-1 -6-1 -6-5 -1-3 0-9 1-8 2-7 2-3 3-3 7-3zM728,210l-5,4 -3,6 -3,11 1,6 2,5 3,2 3,0 5-1 2-3 2-6 3-6 1-9 -1-6 -2-3 -4-1 -3,0zM885,259l3,0 6,8 24,21 6,3 9,6 3,1 1-4 5-4 3-1 0,17 -40,0 -6-12 -10-18 -2-6 -3-9z"/>
<path fill="#D6C830" d="M525,2l6-1 9,0 18,5 12,6 33,22 6,7 9,16 4,9 5,15 4,6 11,13 18,17 5,9 2,6 -1,3 -4,6 -1,3 0,3 2,2 6,3 3,5 1,14 0,18 -1,5 -3,5 -3,3 -11,5 -2,3 0,3 1,2 9,6 2,4 2,6 0,3 -3,9 -4,16 -11,29 -6,18 -10,0 7-15 17-30 8-27 0-3 -2-6 -11-9 -2-3 -1-3 1-3 3-3 10-5 4-4 3-6 1-6 0-15 -2-9 -2-3 -7-6 -1-3 0-6 3-9 -1-6 -4-7 -15-14 -15-18 -3-6 -6-17 -12-22 -5-6 -25-16 -12-6 -27-8 -6-1 -6,1 -6,4 -10,14 -2,4 0,5 1,3 2,3 3,2 6,1 3,0 3-2 7-10 5-4 3,0 3,1 3,2 3,4 0,3 -1,6 -5,5 -8,4 -2,3 -1,3 0,6 1,3 8,12 2,6 3,9 1,9 -1,6 -2,6 -4,7 -6,5 -15,6 -6,1 -30-5 -6-2 -5-3 -13-13 -6-5 -6-3 -6,0 -3,2 -3,3 -10,25 -3,6 -5,5 -6,3 -9,1 -15-3 -9,1 -6,3 -15,9 -6,2 -9,1 -12,0 -21-6 -9,0 -18,5 -27,9 -15,2 -15,4 -18-1 -18,6 -15,1 -5,3 -7,7 -12,14 -42,35 -15,14 -72,53 -27,0 0-14 57-30 45-27 42-32 12-10 13-13 8-5 18-2 18-4 18-1 15-3 15-1 36-13 9-2 9,1 24,6 12-1 9-3 6-3 6-5 6-8 3-2 24,7 6,1 6-2 6-4 5-7 5-12 3-15 8-14 3-2 6,4 26,27 4,4 6,3 6,2 21,5 9-1 12-6 5-4 3-3 3-9 1-9 -2-12 -2-6 -9-15 -6-12 -2-3 -12-8 -3-3 -3-4 -1-3 1-6 3-6 9-12 7-6zM536,33l-2,3 0,3 1,3 2,1 3,0 4-1 2-3 1-3 -2-3 -2-2 -3,0 -3,1zM888,47l3,0 3,1 12,7 15,5 9,6 15,14 0,14 -3-3 -14-19 -6-6 -4-2 -12-3 -15-7 -3,2 -4,7 -8,8 -6,2 -12,3 -6-1 -6-2 -7-4 -14-12 -6-3 -6-1 -3,1 -4,3 -11,13 -15,13 -6,7 -24,40 -3,8 0,6 1,3 5,2 15-2 6,0 9,2 9,4 33,22 17,14 7,7 10,11 4,6 3,6 2,3 5,2 13,10 10,6 16,12 9,2 12,6 3,1 9,3 0,25 -3,1 -5,4 -1,4 -3-1 -9-6 -6-3 -24-21 -6-8 -3,0 -1,2 3,9 2,6 10,18 6,12 -31,0 -5-12 -5-12 -7-12 -1-6 0-3 2-1 11,4 4,0 0-1 -1-2 -2-2 -3,0 -3-3 -9-16 -2-3 -3-12 -10-12 -3-6 -2-6 -3-6 -8-9 -13-12 -10-9 -14-9 -7-3 -6-2 -6,0 -12,1 -6-1 -3-2 -3-5 0-9 3-7 24-40 6-7 15-12 12-14 3-3 6-2 3-1 6,2 6,3 18,14 6,3 6,1 9-1 6-3 3-2 5-6 3-9 2-3zM729,209l3,0 4,1 2,3 1,6 -1,9 -3,6 -2,6 -2,3 -5,1 -3,0 -3-2 -2-5 -1-6 3-11 3-6 5-4zM728,213l-5,8 -3,10 0,3 1,3 2,2 3,0 2-2 2-6 5-7 2-5 0-3 -2-4 -3-1 -3,1z"/>
<path fill="#E3C830" d="M525,6l6-1 6,1 24,7 12,5 27,17 6,7 12,21 6,18 3,6 15,18 15,14 4,7 1,6 -3,9 0,6 1,3 7,6 2,3 2,12 0,15 -2,6 -3,4 -3,3 -10,5 -3,3 -1,3 1,3 2,3 11,9 2,6 0,3 -8,27 -17,30 -7,15 -12,0 14-21 16-20 5-7 1-3 3-12 4-9 0-3 -2-3 -14-12 -2-3 -1-3 0-3 2-3 14-9 5-6 2-9 0-6 -1-9 -3-6 -4-4 -3-5 -1-9 0-9 -1-6 -4-6 -28-33 -3-6 -4-12 -8-15 -6-12 -6-6 -20-12 -12-5 -9-1 -3,0 -4,3 0,3 4,9 1,3 -2,6 -3,6 -8,7 -3,5 -1,3 1,3 6,9 4,9 3,12 1,9 -1,6 -2,6 -5,7 -7,5 -17,6 -6,2 -6-1 -9-3 -12,0 -6,0 -6-2 -6-4 -12-12 -3-3 -6-1 -3,0 -3,2 -3,3 -6,9 -4,13 -4,6 -4,4 -6,3 -6,1 -18,0 -9,1 -24,10 -6,1 -9,1 -15-1 -18-5 -9,0 -24,6 -18,8 -6,2 -12,2 -15,4 -18,0 -28,8 -5,2 -6,6 -16,19 -8,6 -22,21 -23,22 -18,20 -23,21 -37,0 72-53 15-14 42-35 12-14 7-7 5-3 15-1 18-6 18,1 15-4 15-2 27-9 18-5 9,0 21,6 12,0 9-1 6-2 15-9 6-3 9-1 15,3 9-1 6-3 5-5 3-6 10-25 3-3 3-2 6,0 6,3 6,5 13,13 5,3 6,2 30,5 6-1 15-6 6-5 4-7 2-6 1-6 -1-9 -3-9 -2-6 -8-12 -1-3 0-6 1-3 2-3 8-4 3-2 3-6 0-3 0-3 -3-4 -3-2 -3-1 -3,0 -3,2 -4,5 -5,7 -3,2 -3,0 -6-1 -3-2 -2-3 -1-3 -1-3 3-6 10-14 6-4zM522,12l-5,9 -7,9 0,3 3,3 3,1 3-1 3-3 4-6 10-9 0-3 -2-3 -6-2 -3,0zM813,53l3,0 6,2 21,17 6,3 6,1 6,0 6-2 9-3 8-8 4-7 3-2 15,7 15,4 7,7 14,19 3,3 0,28 -2-8 -5-9 -4-6 -8-15 -5-8 -6-5 -15-5 -6,0 -6,2 -9,7 -6,3 -12,3 -9,0 -9-4 -6-4 -16-13 -5-2 -3-1 -5,3 -10,13 -18,18 -27,43 -3,6 0,4 3,2 12-4 9-1 6,1 6,2 18,11 18,5 8,5 4,3 9,12 6,6 18,12 18,15 9,5 15,5 12,3 6-1 12,2 6,0 0,37 -9-3 -3-1 -12-6 -9-2 -16-12 -10-6 -13-10 -5-2 -2-3 -3-6 -4-6 -10-11 -7-7 -11-9 -16-12 -26-17 -6-2 -9-2 -6,0 -15,2 -5-2 -1-3 0-3 0-3 3-8 24-39 5-7 16-14 11-13 5-3zM729,212l3-1 3,1 2,4 0,3 -2,5 -5,7 -2,6 -2,2 -3,0 -2-2 -1-3 0-3 3-10 5-8zM731,216l1,2 1-2 -1-1z"/>
<path fill="#F0C830" d="M525,10l3,0 6,2 2,3 0,3 -10,9 -4,6 -3,3 -3,1 -3-1 -3-3 0-3 7-9 5-9zM552,18l3,0 6,1 12,4 21,12 6,4 2,3 6,12 8,15 4,12 3,6 28,33 4,6 1,6 0,9 1,9 3,5 4,4 3,6 1,9 0,6 -2,9 -5,6 -13,8 -3,4 0,3 1,3 5,6 9,7 4,5 0,3 -4,9 -3,12 -3,6 -19,24 -14,21 -23,0 3-3 5-3 9-9 33-28 7-8 2-5 2-10 2-6 0-3 -10-9 -13-9 -2-3 1-3 4-6 4-3 9-4 5-5 4-9 0-9 -2-6 -7-12 -4-21 -2-6 -15-23 -11-10 -5-6 -3-6 -2-11 -7-10 -6-15 -2-3 -18-12 -9-3 -9-1 -4,1 -1,9 -3,9 -4,8 -6,7 -1,3 8,18 5,18 1,9 -1,6 -3,6 -7,9 -5,4 -3,1 -12,3 -6,3 -6,1 -6-1 -9-3 -15,2 -9,0 -6-1 -3-2 -6-5 -6-8 -3-3 -3,0 -9,6 -2,3 -1,12 -3,9 -5,6 -7,3 -9,2 -9-1 -6,0 -24,5 -15,5 -12,1 -15-1 -6-1 -15-5 -6,0 -30,7 -15,9 -24,9 -9,2 -18,2 -12,3 -15,6 -6,4 -6,6 -12,15 -3,3 -6,4 -27,30 -13,15 -20,22 -3,5 -26,0 23-21 18-20 23-22 22-21 8-6 16-19 6-6 5-2 28-8 18,0 15-4 12-2 6-2 18-8 24-6 9,0 18,5 15,1 9-1 6-1 24-10 9-1 18,0 6-1 6-3 4-4 4-6 4-13 6-9 3-3 3-2 3,0 6,1 3,3 12,12 6,4 6,2 6,0 12,0 9,3 6,1 6-2 18-6 4-3 5-6 3-6 2-6 0-9 -4-15 -2-6 -8-12 -1-3 1-3 1-3 8-7 5-8 2-6 -1-3 -4-9 0-3 4-3zM810,58l3-1 6,2 21,16 6,4 6,2 9,0 12-3 6-3 9-7 6-2 6,0 12,4 4,2 5,4 17,29 5,9 2,8 0,105 -6,0 -12-2 -6,1 -12-3 -15-5 -9-5 -18-15 -18-12 -6-6 -9-12 -4-3 -8-5 -18-5 -18-11 -6-2 -6-1 -9,1 -12,4 -3-2 0-4 3-6 13-20 12-21 5-6 15-14 10-13zM810,66l-7,9 -14,15 -6,7 -16,29 0,3 1,2 12,3 9,3 12,11 9,3 6,0 4-1 4-3 4-5 3,0 12,4 17,10 7,6 11,15 12,9 3,3 1,6 3,3 9,4 9,1 6,2 12,0 1-1 -1-1 -9-4 -4-4 -2-3 4-3 3-6 -1-3 -3-4 -10-8 -2-3 3-3 6-1 7-2 2-3 -1-6 1-6 0-3 -4-9 0-12 -1-12 -6-18 -3-6 -4-3 -6-3 -9-1 -6,1 -9,5 -9,4 -9,1 -9-1 -6-1 -6-3 -21-17 -3-2 -3,0zM732,215l1,1 -1,2 -1-2z"/>
<path fill="#F0C22D" d="M558,26l3,0 6,0 9,3 12,7 9,6 2,3 6,15 7,10 2,11 3,6 5,6 11,10 15,23 2,6 4,21 7,12 2,6 0,9 -4,9 -5,5 -9,4 -4,3 -4,6 -1,3 2,3 13,9 10,9 0,3 -2,6 -2,10 -2,5 -7,8 -33,28 -9,9 -5,3 -3,3 -20,0 7-13 3-5 3-3 6-4 12-4 36-18 6-3 3-4 3-18 -1-3 -5-6 -6-4 -12-1 -3-2 -3-2 -2-6 2-8 5-7 7-5 9-4 4-3 2-6 0-6 -6-15 -7-27 -8-21 -6-6 -14-9 -5-6 -11-21 -3-15 -3-6 -6-6 -4-3 -5-3 -6-1 -6,2 -3,3 -3,6 -8,20 1,6 4,16 9,23 1,6 0,3 -3,6 -7,6 -5,9 -4,3 -6,2 -11,1 -13,3 -6,1 -12-3 -3,1 -33,10 -3,2 -3,3 -5,13 -4,2 -9,0 -21,2 -15-4 -9,0 -30,4 -6,0 -12-1 -18,0 -6-2 -12-4 -3,0 -27,6 -5,3 -10,9 -15,10 -15,9 -3,1 -6,0 -12-2 -9-1 -9,3 -15,7 -7,6 -8,9 -12,17 -3,1 -3,3 -27,39 -10,15 -26,0 3-5 20-22 13-15 27-30 6-4 3-3 12-15 6-6 6-4 15-6 12-3 18-2 9-2 24-9 15-9 30-7 6,0 15,5 6,1 15,1 12-1 15-5 24-5 6,0 9,1 9-2 7-3 5-6 3-9 1-12 2-3 9-6 3,0 3,3 6,8 6,5 3,2 6,1 9,0 15-2 9,3 6,1 6-1 6-3 12-3 3-1 5-4 7-9 2-3 2-6 0-6 -3-12 -4-15 -7-15 1-3 6-7 4-8 3-9 1-9zM813,64l3,0 3,2 21,17 6,3 6,1 9,1 9-1 9-4 9-5 6-1 9,1 6,3 4,3 3,6 6,18 1,12 0,12 4,9 0,3 -1,6 1,6 -2,3 -7,2 -6,1 -3,3 2,3 10,8 3,4 1,3 -3,6 -4,3 2,3 4,4 9,4 1,1 -1,1 -12,0 -6-2 -9-1 -9-4 -3-3 -1-6 -3-3 -12-9 -11-15 -7-6 -17-10 -12-4 -3,0 -4,5 -4,3 -4,1 -6,0 -9-3 -12-11 -9-3 -12-3 -1-2 0-3 16-29 6-7 14-15 7-9zM813,81l-9,6 -11,12 -5,9 -3,9 1,6 1,3 11,13 6,5 6,1 3,0 6-4 6-7 9-5 12-4 29-8 3-3 -14-5 -6-3 -18-11 -18-12 -6-3 -3,1z"/>
<path fill="#F0BB2A" d="M567,32l3,0 6,1 6,4 6,5 4,6 5,17 11,22 5,6 14,9 6,6 7,18 5,17 3,13 5,12 2,6 -2,6 -2,4 -3,2 -12,6 -6,6 -4,6 -1,6 2,6 3,2 3,2 12,1 6,4 5,6 1,3 -3,18 -3,4 -9,5 -33,16 -15,5 -6,6 -10,18 -29,0 1-3 5-6 9-6 6-9 3-2 3-1 6-6 7-12 2-8 3-4 18,1 15-1 6,1 5,2 7,1 3-1 3-3 0-11 -1-4 -2-5 -3-2 -4,1 -4,6 -1,4 -3,3 -12-5 -6-4 -7-7 -2-3 0-3 2-6 12-30 1-12 0-18 1-6 2-7 6-12 1-5 0-9 -1-3 -2-3 -4-3 -6-1 -9,2 -6,3 -6,4 -6,7 -5,9 -3,9 -2,21 -1,12 2,30 -3,3 -15-4 -6-1 -6-4 -6-1 -3-1 -5-13 -7-8 -3-1 -12-3 -12,1 -12,6 -4,2 -11,11 -9,6 -7,4 -5,1 -27-3 -15-3 -21-3 -18,1 -18,3 -3-1 -6-6 -3-2 -3,0 -9,1 -9-1 -15-4 -6,0 -6,2 -9,4 -12,8 -10,9 -15,15 -12,21 -5,5 -3,2 -3,0 -3-2 -3-3 -7-14 -5-6 -3-2 -3-1 -6,0 -9,4 -7,5 -12,12 -4,6 -4,6 -4,12 -3,21 -2,3 -3-9 -3,2 -12,25 -25,0 10-15 27-39 3-3 3-1 7-11 8-10 6-6 6-5 15-7 6-2 6-1 18,3 6,0 3-1 9-5 15-10 18-14 27-8 6,0 12,4 6,2 18,0 12,1 6,0 30-4 9,0 15,4 21-2 9,0 4-2 5-13 3-3 3-2 33-10 3-1 12,3 6-1 13-3 11-1 6-2 4-3 5-9 7-6 3-6 0-3 -1-6 -8-21 -6-21 1-6 7-18 3-5 4-4zM567,39l-3,2 -3,4 -4,12 -1,9 1,12 4,11 3,4 3,3 6,2 3,0 3-2 3-5 2-7 1-9 0-24 -2-6 -4-4 -3-2 -3-1 -6,1zM813,81l3-1 6,3 18,12 18,11 6,3 14,5 -3,3 -29,8 -12,4 -9,5 -6,7 -6,4 -3,0 -6-1 -6-5 -11-13 -1-3 -1-6 3-9 5-9 11-12 9-6zM810,117l-6,1 -3,3 -2,5 0,3 2,6 3,3 3,1 6,0 3-2 3-3 3-5 0-3 0-3 -3-4 -3-1 -6-1zM528,242l2,1 -2,4 -3-1 1-3zM540,287l3,2 0,11 0,6 -10,0 0-6 1-5 4-7z"/>
<path fill="#EDB028" d="M567,39l6-1 3,1 3,2 4,4 2,6 0,24 -1,9 -2,7 -3,5 -3,2 -3,0 -6-2 -3-3 -3-4 -4-11 -1-12 1-9 4-12 3-4 3-2zM568,45l-4,4 -2,5 -1,6 0,15 1,6 2,3 3,3 3,1 3,0 3-2 2-2 2-6 0-24 -1-4 -3-5 -3-1 -3,0zM615,104l6,0 3,1 4,3 2,3 1,3 0,9 -1,5 -6,12 -2,7 -1,6 0,18 -1,12 -12,30 -2,6 0,3 2,3 7,7 6,4 12,5 3-3 1-4 4-6 4-1 3,2 2,5 1,4 0,11 -3,3 -3,1 -7-1 -5-2 -6-1 -15,1 -18-1 -3,4 -2,8 -7,12 -6,6 -3,1 -3,2 -6,9 -9,6 -5,6 -1,3 -6,0 0-6 0-11 -3-2 -3,3 -3,5 -1,5 0,6 -14,0 -2-9 -3-9 -4-2 -6,2 -3,1 -3,1 -12,10 -3-1 0-5 1-6 7-15 1-6 0-18 -1-6 0-12 -2-3 -9,0 -12-5 -6-1 -12,0 -12-4 -9-4 -18-6 -18-2 -9,0 -24,0 -9-3 -9-5 -6-3 -27-3 -6,0 -9,3 -9,5 -9,7 -15,16 -21,28 -3,2 -6,4 -6-1 -3-1 -3-3 -6-13 -3-4 -3-2 -6-3 -3,1 -3,0 -6,4 -9,8 -4,6 -3,6 -3,12 -6,39 -29,0 12-25 3-2 3,9 2-3 3-21 4-12 6-9 12-13 6-5 6-4 6-2 6,0 3,1 3,2 5,6 7,14 3,3 3,2 3,0 3-2 5-5 12-21 15-15 10-9 12-8 9-4 6-2 6,0 15,4 9,1 9-1 3,0 3,2 6,6 3,1 18-3 18-1 21,3 15,3 27,3 5-1 7-4 9-6 11-11 4-2 12-6 12-1 12,3 3,1 7,8 5,13 3,1 6,1 6,4 6,1 15,4 3-3 -2-36 2-21 2-9 5-12 5-7 9-7 9-4zM606,120l-9,4 -3,3 -3,5 -2,6 -4,24 1,9 2,6 3,4 3,2 3,2 3,0 3,0 3-2 3-4 3-6 2-8 1-15 3-15 0-9 0-3 -2-3 -4-1 -3,0zM526,243l-1,3 3,1 2-4 -2-1zM810,117l6,1 3,1 3,4 0,3 0,3 -3,5 -3,3 -3,2 -6,0 -3-1 -3-3 -2-6 0-3 2-5 3-3 6-1zM807,129l3,3 1-3 -1-1 -3,1z"/>
<path fill="#E8A028" d="M570,44l3,0 3,1 3,5 1,4 0,24 -2,6 -2,2 -3,2 -3,0 -3-1 -3-3 -2-3 -1-6 0-15 1-6 2-5 4-4zM568,51l-2,3 0,3 0,9 -1,9 1,3 1,2 3,2 3,0 3-4 0-2 -1-10 1-9 0-3 -3-4 -3,0zM609,119l3,0 4,1 2,3 0,3 0,9 -3,15 -1,15 -2,8 -3,6 -3,4 -3,2 -3,0 -3,0 -3-2 -3-2 -3-4 -2-6 -1-9 4-24 2-6 3-5 3-3 9-4zM601,129l-5,3 -3,6 -1,12 -3,15 2,6 3,3 3,1 3,0 3-1 4-6 4-30 0-3 -2-4 -3-2 -3,0zM807,129l3-1 1,1 -1,3 -3-3zM306,192l6,0 24,3 6,3 9,5 9,3 24,0 9,0 18,2 18,6 9,4 12,4 12,0 6,1 12,5 9,0 2,3 0,12 1,6 0,18 -1,6 -7,15 -1,6 0,5 3,1 12-10 3-1 3-1 6-2 4,2 3,9 2,9 -52,0 0-3 3-3 4-15 0-6 -3-3 -1-3 2-6 1-9 -2-1 -3,0 -3-1 -9-8 -18-6 -6-3 -9-9 -12-6 -6-1 -21,1 -3-1 -15-3 -12-5 -24-13 -12-1 -12,1 -9,2 -9,4 -6,5 -28,30 -11,15 -14,15 -10,13 -6,4 -5,10 -2,6 -42,0 5-36 3-12 6-12 8-9 9-6 6-1 3,1 3,2 5,4 7,15 3,3 3,1 6,1 6-4 3-2 21-28 15-16 6-5 9-5 6-3 8-2zM203,240l-5,2 -6,4 -3,3 -2,3 0,3 2,7 3,6 6,6 6,4 3-2 0-3 2-27 -2-5 -3-1z"/>
<path fill="#E08424" d="M570,50l3,0 3,4 0,3 -1,9 1,10 0,2 -3,4 -3,0 -3-2 -1-2 -1-3 1-9 0-9 0-3 2-3zM603,129l3,0 3,2 2,4 0,3 -4,30 -4,6 -3,1 -3,0 -3-1 -3-3 -2-6 3-15 1-12 3-6 5-3zM600,135l-3,3 0,3 3,5 3-1 2-4 0-3 -2-3 -3,0zM596,159l-3,3 0,3 1,3 3,1 3-2 1-2 0-3 -1-3 -3-1zM300,203l12-1 15,0 7,2 17,10 15,6 18,4 21-1 6,1 12,6 9,9 6,3 18,6 9,8 3,1 3,0 2,1 -1,9 -2,6 1,3 3,3 0,6 -4,15 -3,3 0,3 -15,0 2-12 -1-2 -3-2 -6-10 -3-2 -6-2 -3-2 -6-7 -5-9 -13-12 -9-3 -9-1 -3,0 -3,2 -3,0 -27-14 -24-15 -6-2 -9-1 -12,1 -6,2 -6,3 -6,5 -24,23 -5,6 -9,15 -3,6 0,3 2,6 5,6 3,6 1,6 -1,6 -48,0 2-6 5-10 6-4 10-13 14-15 12-17 27-28 6-5 10-4zM204,240l3,1 2,5 -2,27 0,3 -3,2 -6-4 -6-6 -3-6 -2-7 0-3 2-3 3-3 6-4 5-2z"/>
<path fill="#D86820" d="M600,135l3,0 2,3 0,3 -2,4 -3,1 -3-5 0-3 3-3zM597,158l3,1 1,3 0,3 -1,2 -3,2 -3-1 -1-3 0-3 3-3zM306,213l12-1 9,2 27,16 27,14 3,0 3-2 3,0 9,1 9,3 13,12 5,9 6,7 3,2 6,2 3,2 6,10 3,2 1,2 -2,12 -34,0 -3-9 -4-9 -6-7 -8-5 -3-6 -3-3 -7-3 -3,0 -3,3 -3,0 -12-8 -36-27 -12-5 -9-1 -9,2 -6,5 -21,19 -15,19 -3,5 0,3 2,3 7,6 4,6 3,6 2,6 -16,0 1-6 -1-6 -1-3 -8-12 -1-6 3-6 12-18 27-27 8-6 11-3z"/>
<path fill="#CD4D1B" d="M300,227l9-1 6,1 6,2 9,5 33,25 12,8 3,0 3-3 3,0 7,3 3,3 3,6 8,5 6,7 4,9 3,9 -39,0 -1-5 -3,1 -3,4 -23,0 0-3 -2-3 -26-36 -9-7 -9-2 -6,2 -6,5 -4,5 -2,6 1,6 5,9 3,3 3,2 3,2 7,11 -37,0 -2-6 -3-6 -4-6 -7-6 -2-3 0-3 3-5 15-19 23-21 4-3z"/>
<path fill="#C3381B" d="M303,255l9,2 9,7 26,36 2,3 0,3 -42,0 -7-11 -3-2 -3-2 -3-3 -4-6 -2-6 0-6 4-6 6-6 6-3zM375,302l3-1 1,5 -7,0 2-3z"/>
</g>
</g>
<polyline points="0,88 12.5,87 30.5,97 64,55.5 117.5,117 129,145 177.5,258 195.5,265 239,298 258.5,298 268.5,267 300.5,262.5 370,174.5 405,173.5 436.5,186.5 459,186.5 487.5,143.5 538.5,143.5 585,202 648.5,253 697,250 753,217.5 779.5,148.5 830.5,148.5 859.5,109 936.5,106.5" fill="none" stroke="#111" stroke-width="0.9"/>
<g stroke="#222" stroke-opacity="0.28" stroke-width="0.8" clip-path="url(#cp)">
<line x1="64.7" y1="0" x2="64.7" y2="367.5"/>
<line x1="257.6" y1="0" x2="257.6" y2="367.5"/>
<line x1="450.5" y1="0" x2="450.5" y2="367.5"/>
<line x1="643.4" y1="0" x2="643.4" y2="367.5"/>
<line x1="836.3" y1="0" x2="836.3" y2="367.5"/>
<line x1="0" y1="146.7" x2="936.5" y2="146.7"/>
</g>
<g clip-path="url(#cp)"><g fill="none" stroke="#0a0a0a" stroke-width="1.7" stroke-linejoin="round" mask="url(#lm1)">
<path d="M696,89.2 692.9,93 690.6,108 690.7,123 693,138.5 696,141.6 699,137.8 702,123.8 703,108 702.2,99 700.3,93 699,90.2 696,89.2M696,234.8 693.5,240 693,243 693.8,246 696,247.1 696.8,246 697.8,240 697.4,237 696,234.8"/>
<path d="M72.8,-6 73.5,0 76.3,9 79,15 87,29 92.3,42 98,51 99,51.9 102,52.3 105,46.7 106.4,39 108.9,3 110.8,-6M211.3,-6 215.5,0 217.4,9 219.5,15 223.1,21 234,35.8 235.9,39 237.3,42 240.4,54 242.5,60 246,65.5 249,68.2 255,71.3 264,73.5 273,73.9 294,72.9 306,73.1 312,73.7 327,76.4 333,76.8 339,75.8 342,74.3 344.3,72 345.8,69 346.7,63 345.4,48 348.2,45 351,43.8 357,39.3 359.6,36 361.3,33 362.4,30 363.2,24 362.3,18 360.1,12 362.2,9 375,5 379.3,3 382.6,0 384.2,-3 384.9,-6M625.5,-6 627.1,3 626.9,9 630,10.5 636,9 639,7.3 642,6.3 648,7.9 651,7.6 653.8,6 654.9,3 654.8,0 653.2,-6M731,-6 732.1,0 730.5,15 730.2,30 731.4,42 733.3,51 735.5,57 738.1,60 742.2,63 747.5,66 753,68.1 756,68.5 759,68.2 762,67.2 765,65.3 768,62 770.8,57 783.7,12 787.2,3 791.7,-6M696,68.5 693,70.3 690,73.3 685.6,81 682.9,90 681.6,105 681.7,123 682.8,141 683.8,150 685.9,156 690,159.1 692,162 692.5,165 692.2,168 691,171 689,174 688.4,177 689.4,189 689.5,198 688.3,213 685.4,237 684.5,249 685.5,255 687,257.9 690,260.7 693,261.8 696,261.7 699,260.3 702,256.7 703.5,252 705.1,234 704.8,225 703.6,213 703.3,189 704.2,180 714.5,108 717.6,78 717.4,75 716.3,72 714,69.6 711,67.9 708,66.9 702,66.7 699,67.3 696,68.5M42,77 39,79.6 38.5,81 39,82.9 39.9,84 42,85.1 45,84.8 46.5,84 48.2,81 46.9,78 45,76.9Z"/>
<path d="M581.3,-6 585.8,0 590.7,9 593,12 596.5,15 606,20.7 610.4,24 613.4,27 621,36.6 627.4,42 632.6,48 635.6,54 638.9,72 641,78 642.6,81 645,84.3 650.5,90 659.5,96 665.6,102 669,107.4 672,114.7 675,126.9 676.9,147 679.4,162 680.2,177 681.2,186 681.4,198 681,207.4 679.4,216 670.1,252 669.7,258 669.9,267 670.6,273 671.9,279 675,287.4 678,292.8 681,296.9 689.1,306M-6,169.2 15,175 36,180 51,180.5 69,179.3 84,176.8 99,173.2 120,167.1 132,164.5 135,163.4 136.4,162 138,158.4 140.4,147 144,119.5 145.4,114 147,110.7 150,107.9 153,106.6 156,106.2 159,106.8 162,108.2 165,112 166,117 166.6,132 167.9,138 170.6,144 173.1,147 177,149.6 180,150.7 186,151.6 192,151.6 210,149.4 222,148.4 246,147.7 252,146.5 258,144.3 269.5,138 277.2,132 285,123 293.5,108 296.3,105 300,103.1 303,102.9 306,104 309,106.2 312.7,111 319.2,123 323.3,129 327,132.5 330,134.4 333,135.6 336,136.1 342,135.6 345,134.4 348,132.5 351,129.7 354,126.2 357,121.5 364.2,108 368.3,99 372,97.2 375,96.6 378,96.8 381,97.8 384,99.6 387,102.9 392.3,114 396.3,120 399,122.3 400.5,123 402,123.4 405,122.9 408,120.5 410,117 411.1,114 411.4,111 411.3,105 410.9,102 408.8,96 403.1,87 401.7,84 401.6,81 403.1,78 406.1,75 420,64.5 424.5,60 429,54.6 435,44.4 441.9,27 444,22.8 447,20 450,18.8 453,18.3 462,18.3 471,19.2 477,19.4 480,18.8 486,16.4 492,12.5 498,6.6 503.2,0 506.6,-6M720.1,306 723,300.9 725.2,294 726,288 726.1,282 724.8,273 722.7,267 719.7,261 710.7,246 710.3,243 711.1,231 712.9,213 714,206.9 716.7,204 723,202.5 735,196 738,195.2 741,199 744,206.2 746.3,210 750,213.3 759,217.1 765,218.2 768,218.3 774,217.3 777,216 780,214 783.7,210 785.1,207 785.9,204 786.4,198 785.8,192 784,186 782.5,183 778.6,177 776,174 771,169.2 768,167.1 765,165.8 762,165.2 756,165 753,165.5 747.5,168 741,173.6 732,168.5 729,167.6 723,166.8 721.1,165 721.2,162 723,155.1 726,153.1 729,152.6 732,150.1 733.1,147 733.1,144 731.9,141 729.5,138 728.7,135 729.4,132 731.8,126 744,102.4 750.2,93 754.9,87 764.1,78 782.3,63 787.4,57 795,43.9 798,39.6 804,33 807,30.7 810,29.2 813,28.6 819,29.3 828,32.4 834,35.3 840,39 848.5,45 852.2,48 858,54.1 861,56.2 864,55.6 865.3,54 867,50.7 868.8,45 872.9,36 876,31 879,27.3 882,24.6 885,22.7 888,21.4 891,20.9 894,21 897,22 900.5,24 906.8,30 913.7,39 918,42 927,43.9 945,45.6M129,38.3 135,38.2 140.1,39 152.8,45 157.8,48 161.1,51 163.2,54 164.1,57 163.9,60 162,63.4 159,65.7 153.2,69 147,73.3 141,76.6 138,77.7 132,78.4 129,77.8 125,75 123,72.4 121.8,69 120.9,60 121.4,51 123,43.4 126.2,39ZM483,47.9 480,49.6 476.9,54 475.1,66 474.9,72 475.3,78 477.2,87 480.7,96 486.4,105 491.8,111 495.3,114 500.1,117 507,119.4 513,119.6 519,117.9 522,116.1 524.2,114 526.3,111 528.5,105 529.6,96 528.9,90 527.9,87 525,82 522,78.7 507.9,69 502.2,63 495,52.8 492,50.2 489,48.5 486,47.6 483,47.9"/>
<path d="M135.1,306 147,280.6 150,278.8 151.3,282 152.8,288 153,288.4 153.5,288 154.6,285 157.9,264 162.2,252 168,242.8 180,229.9 186,224.7 192,220.9 198,218.6 201,218.3 204,218.7 207,220 210,222.2 214.9,228 222,241.8 225,245.4 228,246.9 231,246.8 234,245.4 237,242.9 239.3,240 243,234 247.4,225 251.3,219 256.5,213 265.5,204 276,195.5 288,187.3 296.6,183 303,181.1 309,180.9 321,184.9 324,185.4 333,185.6 342,184.6 345,185.1 348,186.9 354,193.1 357,193.9 375,191.4 393,190 414,192.8 429,196 438,196.7 450,198.9 456,199 460.6,198 465,196.2 468,194.5 474,190 477,188.3 488.1,177 492,174.6 504,169.1 510,168.1 516,168 528,170.7 531,172.4 538.1,180 539.8,183 543,192.6 546,193.9 552.2,195 558,198.9 564,199.7 570,201.8 579,204.3 581.6,201 580,171 580.5,159 583.2,138 586,129 591,119.9 594,116 597,113.1 603,109 609,106.1 615,104.3 618,104.1 624,105.1 628,108 630,110.8 630.8,114 631.4,120 631.2,123 630,127.7 624,139.7 621.8,147 621,153 621.1,171 619.7,183 617.8,189 611,204 607.5,213 606,219 606.2,222 607.7,225 615,232.2 621,235.8 633,240.7 636,237.9 637.1,234 640.6,228 642,227.1 645,226.6 648,228.8 650.1,234 651,237.9 651.2,249 648.4,252 645,252.7 637.9,252 633,249.7 627,248.7 612,250.3 609,250.3 603,249.2 600,249.4 594,249 591,253.2 588.6,261 583.2,270 582,273.2 576,278.6 573,279.9 570,282.3 567,287.4 564,290.9 561,292.4 555,297.2 553,300 549.9,303 548.6,306M542.5,306 543.5,300 543,288.7 540,286.9 537,289.6 534,294.6 533.1,300 533.4,306M567,38.9 570,37.9 573,37.8 576,38.6 579,40.5 582.7,45 584.5,51 584.9,57 584.7,75 584.1,84 582,90.9 581,93 578.6,96 576,97.6 573,98.1 570,97.5 567,95.9 564,93.1 561,88.7 559,84 557.4,78 556.3,66 557.4,57 561.1,45 564,41 566.8,39ZM810,117 816,117.6 819,119.3 821.7,123 822.2,126 821.7,129 819,133.8 816,137 813,138.9 810,139.6 807,139.5 804,138.2 800.8,135 799.3,132 798.6,129 798.7,126 799.6,123 801,120.8 804,118.4 807,117.4 809.8,117ZM528,241.6 526,243 525,244.3 525,246.3 528,246.6 528.8,246 530.1,243Z"/>
</g></g>
<g class="c" text-anchor="middle" clip-path="url(#cp)">
<text transform="translate(92.1,33.1) rotate(70)" y="5.5">40</text>
<text transform="translate(128.7,32.4) rotate(0)" y="5.5">60</text>
<text transform="translate(158.5,103.5) rotate(15)" y="5.5">60</text>
<text transform="translate(311.6,73) rotate(8)" y="5.5">40</text>
<text transform="translate(268.2,205.8) rotate(-30)" y="5.5">80</text>
<text transform="translate(42.3,52.4) rotate(-20)" y="5.5">0</text>
<text transform="translate(485,44.9) rotate(0)" y="5.5">60</text>
<text transform="translate(569.7,32.4) rotate(0)" y="5.5">80</text>
<text transform="translate(617.1,101.5) rotate(0)" y="5.5">80</text>
<text transform="translate(515.5,140.8) rotate(0)" y="5.5">80</text>
<text transform="translate(643.5,226.8) rotate(0)" y="5.5">80</text>
<text transform="translate(706.8,65.3) rotate(5)" y="5.5">40</text>
<text transform="translate(695,144.2) rotate(80)" y="5.5">20</text>
<text transform="translate(807,112.7) rotate(0)" y="5.5">80</text>
<text transform="translate(786.7,5.3) rotate(60)" y="5.5">4</text>
<text transform="translate(931.3,43.9) rotate(0)" y="5.5">6</text>
</g>
<use href="#dots"/>
<path d="M0,0H936.5 M0,0V367.5 H936.5 V106" fill="none" stroke="#111" stroke-width="1.3"/>
<g stroke="#111" stroke-width="1.3">
<line x1="-10.5" x2="0" y1="0" y2="0"/>
<line x1="-10.5" x2="0" y1="146.7" y2="146.7"/>
<line x1="-10.5" x2="0" y1="293.4" y2="293.4"/>
<line x1="64.7" x2="64.7" y1="367.5" y2="378.5"/>
<line x1="257.6" x2="257.6" y1="367.5" y2="378.5"/>
<line x1="450.5" x2="450.5" y1="367.5" y2="378.5"/>
<line x1="643.4" x2="643.4" y1="367.5" y2="378.5"/>
<line x1="836.3" x2="836.3" y1="367.5" y2="378.5"/>
</g><g stroke="#999" stroke-width="0.8">
<line x1="-4" x2="0" y1="73.4" y2="73.4"/>
<line x1="-4" x2="0" y1="220.1" y2="220.1"/>
<line x1="-4" x2="0" y1="366.8" y2="366.8"/>
<line x1="161.7" x2="161.7" y1="367.5" y2="372"/>
<line x1="354.6" x2="354.6" y1="367.5" y2="372"/>
<line x1="547.5" x2="547.5" y1="367.5" y2="372"/>
<line x1="740.3" x2="740.3" y1="367.5" y2="372"/>
<line x1="933.2" x2="933.2" y1="367.5" y2="372"/>
</g>
<text x="-37.31" y="9.2" font-size="24.5" class="b" textLength="14.05" lengthAdjust="spacingAndGlyphs">0</text>
<text x="-71.41" y="155.9" font-size="24.5" class="b" textLength="48.3" lengthAdjust="spacingAndGlyphs">100</text>
<text x="-70.6" y="302.6" font-size="24.5" class="b" textLength="47.46" lengthAdjust="spacingAndGlyphs">200</text>
<text x="33.77" y="410.2" font-size="24.5" class="b" textLength="62.56" lengthAdjust="spacingAndGlyphs">40°S</text>
<text x="226.09" y="410.2" font-size="24.5" class="b" textLength="63.15" lengthAdjust="spacingAndGlyphs">20°S</text>
<text x="428.7" y="410.2" font-size="24.5" class="b" textLength="42.86" lengthAdjust="spacingAndGlyphs">EQ</text>
<text x="611.64" y="410.2" font-size="24.5" class="b" textLength="64.44" lengthAdjust="spacingAndGlyphs">20°N</text>
<text x="804.97" y="410.2" font-size="24.5" class="b" textLength="64.15" lengthAdjust="spacingAndGlyphs">40°N</text>
<text class="b" font-size="32.5" transform="translate(-101.9,262.1) rotate(-90)" x="-2.3" textLength="159.22" lengthAdjust="spacingAndGlyphs">Depth [m]</text>
</g>
<text x="863.25" y="662.2" font-size="36.6" class="b" textLength="197.48" lengthAdjust="spacingAndGlyphs">% 0.2-2 um</text>
<path d="M1095.2,694.5 L1111.5,688.8 L1127.8,694.5 V1062.5 L1111.5,1068.2 L1095.2,1062.5 Z" fill="url(#pc)" stroke="#d9c7b5" stroke-opacity="0.4" stroke-width="0.5"/>
<g stroke="#111" stroke-width="1.6">
<line x1="1094.7" x2="1102.7" y1="728" y2="728"/><line x1="1120.3" x2="1128.3" y1="728" y2="728"/>
<line x1="1094.7" x2="1102.7" y1="794.9" y2="794.9"/><line x1="1120.3" x2="1128.3" y1="794.9" y2="794.9"/>
<line x1="1094.7" x2="1102.7" y1="861.8" y2="861.8"/><line x1="1120.3" x2="1128.3" y1="861.8" y2="861.8"/>
<line x1="1094.7" x2="1102.7" y1="928.6" y2="928.6"/><line x1="1120.3" x2="1128.3" y1="928.6" y2="928.6"/>
<line x1="1094.7" x2="1102.7" y1="995.5" y2="995.5"/><line x1="1120.3" x2="1128.3" y1="995.5" y2="995.5"/>
<line x1="1094.7" x2="1102.7" y1="1062.5" y2="1062.5"/><line x1="1120.3" x2="1128.3" y1="1062.5" y2="1062.5"/>
</g>
<text x="1136.39" y="735.95" font-size="25" class="b" textLength="42.86" lengthAdjust="spacingAndGlyphs">100</text>
<text x="1137.18" y="802.85" font-size="25" class="b" textLength="28.09" lengthAdjust="spacingAndGlyphs">80</text>
<text x="1137.05" y="869.75" font-size="25" class="b" textLength="28.23" lengthAdjust="spacingAndGlyphs">60</text>
<text x="1137.63" y="936.65" font-size="25" class="b" textLength="27.62" lengthAdjust="spacingAndGlyphs">40</text>
<text x="1137.11" y="1003.55" font-size="25" class="b" textLength="28.16" lengthAdjust="spacingAndGlyphs">20</text>
<text x="1136.96" y="1070.45" font-size="25" class="b" textLength="14.52" lengthAdjust="spacingAndGlyphs">0</text>
<text class="b" font-size="17.5" transform="translate(1090.1,1056.9) rotate(-90)" x="-0.69" textLength="137.87" lengthAdjust="spacingAndGlyphs">Ocean Data View</text>
<g transform="translate(131,1191)">
<g clip-path="url(#cp)">
<g filter="url(#bf)">
<rect x="-20" y="-20" width="980" height="340" fill="#B068F0"/>
<path fill="#AA63F0" d="M597,200l2,1 1,3 -3,3 -3-3 1-3z"/>
<path fill="#9E5AF0" d="M594,195l3-1 3,1 2,3 2,3 0,3 -1,4 -3,4 -3,3 -3,0 -3-3 -2-5 0-6 2-4 3-2zM595,201l-1,3 3,3 3-3 -1-3 -2-1z"/>
<path fill="#9250F0" d="M594,187l3,0 6,5 3,5 1,4 0,6 -2,6 0,6 2,15 -1,5 -3,4 -3,2 -3-8 -11-15 -2-6 -1-6 2-9 3-7 4-5zM594,195l-3,2 -2,4 0,6 2,5 3,3 3,0 3-3 3-4 1-4 0-3 -2-3 -2-3 -3-1 -3,1zM315,244l3-1 3,0 3,1 3,2 9,8 2,4 1,3 -1,9 -5,36 -41,0 1-3 0-9 1-6 -1-9 2-6 3-9 9-12 5-6zM450,300l3,0 3,3 0,3 -7,0 1-6z"/>
<path fill="#8648F0" d="M594,178l3,0 3,2 6,8 4,10 3,15 1,3 4,6 6,6 3,6 0,6 -6,19 -12,23 -3,3 -1-3 -5-5 -1-10 -4-6 -4-11 -3-1 -3,0 -3,5 -3,2 -3,0 -3-3 -1-4 1-21 3-15 4-12 11-21zM592,189l-4,5 -3,7 -2,9 1,6 2,6 11,15 3,8 3-2 3-4 1-5 -2-15 0-6 2-6 0-6 -1-4 -3-5 -6-5 -3,0zM318,225l6-1 3,1 13,9 3,3 5,9 13,18 8,13 3,8 0,3 -1,6 3,12 -41,0 5-36 1-9 -1-3 -2-4 -9-8 -3-2 -6-1 -6,3 -5,6 -9,12 -5,15 1,9 -1,6 0,9 -1,3 -18,0 -1-6 -4-9 -9-15 0-3 13-15 19-18 14-12 10-3zM438,269l3,9 3,4 3,2 3,1 9-5 3,2 2,3 4,8 9,6 11,4 5,3 -37,0 0-3 -3-3 -3,0 -1,6 -23,0 0-5 6-13 0-9 3-7 3-2zM402,286l9,2 1,9 -2,9 -11,0 -1-12 3-6z"/>
<path fill="#7D45F0" d="M513,132l3,0 2,3 -2,1 -3,1 -3-2 0-1 2-2zM594,172l3,0 3,1 5,4 7,15 7,18 5,6 10,6 2,2 2,4 3,9 0,3 -1,6 -5,12 -5,9 -1,6 -3,6 0,9 -2,9 1,9 -20,0 -1-6 -1-3 -2-3 -1-6 -3-5 -3-2 -2,4 1,6 -2,12 1,3 -25,0 0-6 -3-3 -6-4 -1-2 -3-9 1-6 1-21 3-12 2-9 10-24 12-21 5-10 4-5zM591,180l-11,21 -4,12 -3,15 -1,21 1,4 3,3 3,0 3-2 3-5 3,0 3,1 4,11 4,6 1,10 5,5 1,3 3-3 12-23 6-19 0-6 -3-6 -6-6 -4-6 -1-3 -3-15 -4-10 -6-8 -3-2 -3,0zM303,219l6-2 12,0 10,2 11,4 3,2 37,33 5,6 6,10 2-4 -1-3 1-3 7-7 9,0 3,1 3,2 3,10 -2,6 0,9 -1,6 -1,9 -2,6 -4,0 2-9 -1-9 -9-2 -4,8 1,12 -25,0 -3-12 1-6 0-3 -4-9 -7-12 -13-18 -6-10 -15-11 -6-1 -9,2 -6,2 -15,12 -12,12 -17,18 -2,3 0,3 9,15 4,9 1,6 -16,0 -1-9 -4-18 0-6 2-7 6-13 3-5 3-3 18-11 18-15zM444,255l3,7 3,4 3,2 3-1 6-3 3,0 6,3 9,8 15,5 13,11 5,7 5,5 1,3 -26,0 -5-3 -11-4 -9-6 -4-8 -2-3 -3-2 -9,5 -3-1 -3-2 -3-4 -3-9 -3,3 -3,7 0,9 -6,13 0,5 -3,0 1-6 5-12 1-12 2-4 1-5 5-7 6-5z"/>
<path fill="#7343F0" d="M516,21l1,3 -1,1 -3-1 0-3zM570,47l3,0 2,1 1,3 -2,3 -1,1 -3,0 -2-4 1-3zM510,128l6,0 6,1 8,6 4,6 0,3 -4,3 -5,1 -6,0 -6-3 -6-4 -3-3 0-3 1-3 3-3zM512,132l-2,2 0,1 3,2 3-1 2-1 -2-3 -3,0zM594,165l3-2 3,1 3,1 3,3 5,9 10,26 3,4 6,4 9,1 3,2 3,3 2,5 4,18 -2,12 1,15 -1,9 -5,12 -3,6 -8,9 0,3 -8,0 -1-6 0-6 2-6 0-9 3-6 1-6 5-9 5-12 1-6 0-3 -3-9 -2-4 -2-2 -10-6 -5-6 -7-18 -7-15 -5-4 -3-1 -3,0 -3,2 -2,3 -17,30 -4,9 -9,27 -3,15 -1,18 -1,6 3,9 1,2 6,4 3,3 0,6 -48,0 -1-3 -5-5 -5-7 -13-11 -15-5 -9-8 -6-3 -3,0 -6,3 -3,1 -3-2 -3-4 -3-7 -6,5 -5,7 -1,5 -2,4 -1,12 -5,12 -1,6 -9,0 2-6 1-9 1-6 0-9 2-6 -3-10 -3-2 -3-1 -9,0 -7,7 -1,3 1,3 -2,4 -6-10 -5-6 -37-33 -6-3 -8-3 -7-1 -12-1 -6,0 -3,2 -18,15 -15,9 -6,5 -3,5 -6,13 -2,7 0,6 4,18 1,9 -13,0 3-12 -1-15 1-9 4-18 4-12 2-2 3-2 12-3 9-5 6-5 9-10 6-4 6-1 18,5 12,0 7,3 17,12 27,15 3,0 3-2 3-1 18,0 6,3 2,3 -1,18 2,7 3-4 1-3 10-12 3-6 4-4 3,0 3,6 3,2 3,2 9-2 12,3 6,4 6,8 3,3 6,1 3,3 10,10 2,6 5,3 1,2 3-3 16-38 13-27 12-18 13-17 9-17 6-8zM423,282l0,3 1-3 -1,0zM438,175l3,0 1,2 1,3 -1,3 -1,1 -3,0 -2-4 1-3zM714,225l3-3 3,2 1,1 1,6 0,3 -2,2 -3,1 -3-1 -1-2 0-6 1-3zM594,281l3,2 3,5 1,6 2,3 1,3 1,6 -13,0 -1-3 2-12 -1-6 1-3z"/>
<path fill="#6A40F0" d="M513,17l3,0 3,1 2,3 1,3 -2,3 -3,3 -4,0 -3-3 -2-3 1-3 1-3zM513,21l0,3 3,1 1-1 -1-3zM570,42l6-2 3,0 3,5 0,9 -3,12 1,12 -1,2 -3,0 -2-2 0-9 -1-3 -6-6 -2-6 -1-6 2-3 3-3zM569,48l-1,3 2,4 3,0 1-1 2-3 -1-3 -2-1 -3,0zM591,107l3,1 6,4 15,13 6,10 6,16 4,5 6,3 23,7 3,2 3,3 1,12 1,3 4,4 6,5 3,4 1,8 -1,9 1,3 2,5 3,3 6,3 3,0 3-1 2-1 2-3 3-6 1-3 1-9 1-3 5-2 2,2 -1,9 1,3 4,3 2,3 2,6 1,6 -2,6 -6,7 -13,8 -6,6 -5,8 -6,3 -1,1 -3,6 -10,27 -40,0 0-3 8-9 3-6 5-12 1-9 -1-15 2-12 -4-18 -2-5 -3-3 -3-2 -9-1 -6-4 -4-6 -12-30 -5-6 -3-1 -3-1 -3,2 -3,3 -12,22 -13,17 -12,18 -13,27 -16,38 -3,3 -1-2 -5-3 -2-6 -10-10 -3-3 -6-1 -3-3 -6-8 -6-4 -12-3 -9,2 -3-2 -3-2 -3-6 -3,0 -4,4 -3,6 -10,12 -1,3 -3,4 -2-7 1-18 -2-3 -3-2 -6-1 -15,0 -3,1 -3,2 -3,0 -27-15 -15-11 -6-3 -15-1 -15-4 -6-1 -5,2 -4,3 -11,12 -7,5 -6,3 -12,3 -3,2 -3,4 -1,4 -6,24 -1,9 1,15 -3,12 -20,0 9-7 3-4 2-4 1-6 2-18 1-9 6-18 3-6 6-4 12-3 6-2 7-6 11-12 6-4 6-2 6,1 15,4 12-1 3,1 24,13 24,10 3,0 6-2 15-2 9-2 6-3 3,1 3,12 6,7 4-3 5-7 3-3 3,1 3,6 6,4 9,0 12,5 6,4 3,5 3,6 9,6 3,0 6-3 2-3 15-21 14-18 26-26 9-13 4-9 1-6 0-6 -2-6 0-6 5-3 3-3 2-6 0-6 -5-9 -1-6 0-3 1-3zM623,174l0,6 1,5 3,5 2-1 1-1 0-6 -3-8 0-1 -3-1zM714,225l-1,3 0,6 1,2 3,1 3-1 2-2 0-3 -1-6 -1-1 -3-2 -3,3zM510,126l6-1 6,2 6,3 6,6 3,5 0,4 -3,4 -6,4 -6,1 -6-1 -6-4 -6-7 -2-4 -1-3 3-5 5-4zM508,129l-3,3 -1,3 0,3 3,3 6,4 6,3 6,0 5-1 4-3 0-3 -4-6 -8-6 -6-1 -6,0zM438,167l3-1 3,2 2,3 1,6 1,6 -1,5 -3,5 -3,3 -3,2 -3,0 -3-6 -1-3 0-6 1-7 2-5 2-3zM437,177l-1,3 2,4 3,0 1-1 1-3 -1-3 -1-2 -3,0zM201,249l3,0 4,3 4,6 1,4 0,5 -2,3 -4,4 -3,1 -3,0 -4-2 -3-3 -2-6 0-3 3-6 3-5 3-1zM423,282l1,0 -1,3 0-3z"/>
<path fill="#6446F2" d="M510,14l6,0 3,1 4,3 1,3 0,3 -2,5 -3,4 -3,1 -3,0 -3-2 -3-4 -1-4 -1-3 1-3 3-3zM510,18l-1,3 -1,3 2,3 3,3 4,0 3-3 2-3 -1-3 -2-3 -3-1 -3,0zM576,35l3,0 3,1 2,3 4,18 3,9 11,24 5,9 7,9 28,30 12,15 12,12 3,6 3,9 3,3 6,3 3,0 12-2 3,2 2,3 1,6 3,3 9,0 4,3 1,3 0,9 6,12 2,12 -1,6 -9,30 -1,12 1,21 -10,0 -5-3 -2,3 -27,0 10-27 3-6 1-1 6-3 5-8 6-6 13-8 6-7 2-6 -1-6 -2-6 -2-3 -4-3 -1-3 1-9 -2-2 -5,2 -1,3 -1,9 -1,3 -3,6 -2,3 -2,1 -3,1 -3,0 -6-3 -3-3 -2-5 -1-3 1-9 -1-8 -3-4 -6-5 -4-4 -1-3 -1-12 -3-3 -3-2 -23-7 -6-3 -4-5 -6-16 -6-10 -15-13 -6-4 -3-1 -2,4 0,3 1,6 5,9 0,6 -2,6 -3,3 -5,3 0,6 2,6 0,6 -1,6 -4,9 -9,13 -26,26 -14,18 -15,21 -2,3 -6,3 -3,0 -9-6 -3-6 -3-5 -6-4 -12-5 -9,0 -6-4 -3-6 -3-1 -3,3 -5,7 -4,3 -6-7 -3-12 -3-1 -6,3 -9,2 -15,2 -6,2 -3,0 -24-10 -24-13 -3-1 -12,1 -15-4 -6-1 -6,2 -6,4 -11,12 -7,6 -6,2 -12,3 -3,1 -3,3 -4,9 -5,15 -1,9 -2,18 -1,6 -2,4 -6,7 -6,4 -48,0 2-27 3-12 5-9 8-12 3-2 3-1 6,1 5,2 13,10 3,1 3-1 6-5 3-4 7-13 5-5 6-4 12-4 6-4 18-16 6-3 6-2 6,0 15,3 15,1 6,3 15,7 12,5 15,3 6,0 15-6 7-5 2-3 3-6 6-24 2-6 4-5 3-2 3,0 3,0 3,3 3,8 1,14 -2,24 1,7 3,1 3-2 3-1 2,1 1,1 3,6 3,2 3,2 9,1 3,1 12,10 3,2 6-2 9-5 9-7 9-8 27-19 12-9 7-8 6-12 1-6 -2-18 1-3 3-6 1-3 0-6 -5-15 -5-15 -4-6 -6-7 -2-5 1-12 -4-15 0-6 2-5 3-3 6-4zM569,42l-3,3 -2,3 1,6 2,6 6,6 1,3 0,9 2,2 3,0 1-2 -1-12 3-12 0-9 -3-5 -3,0 -6,2zM436,168l-2,3 -2,5 -1,7 0,6 1,3 3,6 3,0 3-2 3-3 3-5 1-5 -1-6 -1-6 -2-3 -3-2 -3,1zM689,198l-2,1 -2,5 0,6 1,3 4,3 3,1 3-2 2-2 2-3 0-6 -1-3 -3-2 -6-2zM201,249l-3,1 -3,5 -3,6 0,3 2,6 3,3 4,2 3,0 3-1 4-4 2-3 0-5 -1-4 -4-6 -4-3 -3,0zM810,102l3,0 -3,2 0-2zM507,125l9-1 9,2 6,4 6,7 2,7 -1,3 -4,7 -6,4 -6,2 -6-1 -6-4 -6-8 -3-6 -1-6 2-6 4-3zM509,126l-5,4 -3,5 1,3 2,4 6,7 6,4 6,1 6-1 6-4 3-4 0-4 -3-5 -6-6 -6-3 -6-2 -6,1zM624,172l3,1 0,1 3,8 0,6 -1,1 -2,1 -3-5 -1-5 0-6z"/>
<path fill="#604CF3" d="M507,12l3-2 6,1 6,2 2,2 2,3 1,3 -1,6 -4,6 -3,3 -3,2 -3,0 -3-2 -5-6 -2-6 0-3 1-6 3-3zM509,15l-3,3 -1,3 1,3 1,4 3,4 3,2 3,0 3-1 3-4 2-5 0-3 -1-3 -4-3 -3-1 -6,0zM573,32l6-1 3,1 4,4 9,24 20,36 6,9 6,6 24,22 7,14 11,17 3,10 3,4 6,2 12,0 6,2 3,4 3,7 3,1 6,2 3,1 3,3 1,4 1,9 4,11 4,16 -2,42 3,24 -14,0 -1-21 1-12 9-30 1-6 -2-12 -6-12 0-9 -1-3 -4-3 -9,0 -3-3 -1-6 -2-3 -3-2 -12,2 -3,0 -6-3 -3-3 -3-9 -3-6 -12-12 -12-15 -28-30 -7-9 -5-9 -11-24 -3-9 -4-18 -2-3 -3-1 -6,1 -6,4 -4,5 -1,6 4,18 -1,12 2,5 6,7 4,6 5,15 5,15 0,6 -1,3 -3,6 -1,3 2,18 -1,6 -6,12 -7,8 -12,9 -27,19 -9,8 -12,9 -6,3 -6,2 -3-2 -12-10 -3-1 -9-1 -3-2 -3-2 -3-6 -1-1 -2-1 -3,1 -3,2 -3-1 -1-7 2-24 -1-14 -3-8 -3-3 -3,0 -3,0 -3,2 -4,5 -2,6 -6,24 -3,6 -2,3 -7,5 -15,6 -6,0 -15-3 -12-5 -15-7 -6-3 -15-1 -15-3 -6,0 -6,2 -6,3 -18,16 -6,4 -12,4 -6,4 -5,5 -7,13 -3,4 -6,5 -3,1 -3-1 -13-10 -5-2 -6-1 -3,1 -3,2 -8,12 -5,9 -3,12 -2,27 -25,0 9-24 7-15 8-9 10-7 3-4 4-7 5-4 3-1 6,2 18,9 6,0 3-1 3-3 9-12 6-6 21-11 18-16 6-3 9-3 12,0 21,3 6,2 15,7 12,4 15,2 9,0 12-6 7-5 5-8 9-25 6-8 6-4 3-1 3,1 4,9 2,9 2,27 2,6 2,2 6,3 6,7 9,2 6,4 6,1 9-3 27-16 24-7 15-8 6-5 3-4 5-9 1-6 -2-18 4-12 0-3 -2-6 -7-18 -3-6 -8-12 -3-9 1-12 -2-15 0-6 1-3 3-6 3-3 4-3zM807,95l6-1 4,2 2,3 1,6 -4,7 -15,18 -3,1 -3-1 -1-1 0-3 2-9 2-12 1-3 2-3 4-3zM810,102l0,2 3-2 -3,0zM510,123l9,0 9,3 7,6 5,9 0,6 -3,8 -6,8 -6,4 -3,1 -6-1 -6-5 -6-9 -5-12 0-6 2-6 3-4 6-2zM506,126l-4,3 -2,6 1,6 3,6 6,8 6,4 6,1 6-2 6-4 4-7 1-3 -2-7 -6-7 -6-4 -9-2 -9,1zM690,197l6,2 3,2 1,3 0,6 -2,3 -2,2 -3,2 -3-1 -4-3 -1-3 0-6 2-5 2-1zM688,204l0,3 2,3 3-1 1-2 -1-3 -3-1zM702,303l5,3 -7,0 2-3z"/>
<path fill="#5C53F5" d="M510,6l6,1 9,4 3,3 1,4 0,6 -4,9 -3,5 -6,6 -3,0 -3-3 -7-11 -3-9 0-6 1-3 3-4 5-2zM507,12l-3,3 -1,6 0,3 2,6 5,6 3,2 3,0 3-2 3-3 4-6 1-6 -1-3 -2-3 -2-2 -6-2 -6-1 -3,2zM570,29l3-1 6,0 6,3 3,3 9,21 14,20 9,18 6,9 7,8 18,14 6,7 14,28 4,14 3,2 15,1 6,2 5,5 2,6 2,2 9,3 4,4 2,6 1,9 9,27 7,42 8,24 -17,0 -3-24 2-42 -4-16 -4-11 -1-9 -1-4 -3-3 -3-1 -6-2 -3-1 -3-7 -3-4 -6-2 -12,0 -3,0 -4-3 -2-3 -3-10 -11-17 -7-14 -24-22 -10-12 -22-39 -9-24 -4-4 -3-1 -6,1 -6,4 -5,6 -2,6 0,6 2,15 -1,9 0,6 3,6 10,15 7,18 3,9 0,3 -4,12 2,18 -1,6 -3,6 -4,6 -4,4 -6,4 -15,7 -21,6 -27,16 -9,3 -6-1 -6-4 -9-2 -6-7 -6-3 -2-2 -2-9 -3-30 -3-9 -2-3 -3-1 -6,2 -6,7 -4,7 -8,22 -5,8 -7,5 -12,6 -9,0 -15-2 -12-4 -15-7 -6-2 -21-3 -12,0 -9,3 -6,3 -18,16 -21,11 -6,6 -9,12 -3,3 -3,1 -6,0 -18-9 -6-2 -3,1 -5,4 -4,7 -3,4 -10,7 -8,9 -7,15 -9,24 -21,0 14-30 11-18 9-10 6-4 6-2 2-2 -1-9 0-3 2-1 12-2 9,1 6,2 8,6 7,4 6,2 3,0 3-2 12-13 6-6 21-13 15-13 9-5 9-1 15-1 15,2 9,3 18,7 15,3 15,0 12-4 9-7 5-7 8-21 9-18 2-9 -5-12 2-4 3-1 3,1 3,3 3,5 7,14 1,6 1,33 1,6 3,9 2,4 18,11 3,0 3,0 9-3 5-3 10-9 4-9 0-3 0-3 -7-10 -3-7 -3-10 -4-15 1-6 1-3 2-3 6-4 6-1 6,1 9,2 7,5 5,8 2,7 -1,6 -9,24 -2,6 1,3 2,3 7,3 9,2 9-2 9-3 6-6 5-9 1-9 0-15 2-12 -1-6 -3-9 -6-12 -10-15 -3-9 1-36 3-9 5-7 2-2zM510,123l-6,2 -3,4 -2,6 0,6 5,12 6,9 6,5 6,1 3-1 6-4 6-8 3-8 0-6 -5-9 -7-6 -9-3 -9,0zM411,78l3,0 3,3 -3,3 -3-1 -3-2 2-3zM804,93l6-2 6,2 4,3 2,3 1,6 -1,6 -3,6 -8,15 -4,6 -6,3 -6-1 -9-3 -3-3 -1-2 0-3 6-12 4-15 1-3 4-3 6-3zM805,96l-4,3 -2,3 -1,3 -2,12 -2,9 0,3 1,1 3,1 3-1 15-18 4-7 -1-6 -2-3 -4-2 -6,1zM690,203l3,1 1,3 -1,2 -3,1 -2-3 0-3z"/>
<path fill="#595AF6" d="M507,-1l6-1 9,3 6,4 3,4 1,3 0,6 -2,9 -8,17 -3,5 -3,2 -3,0 -3-2 -11-22 -2-6 -1-6 1-6 4-6 4-3zM509,6l-5,2 -3,4 -1,3 0,6 3,9 7,11 3,3 3,0 6-6 3-5 4-9 0-6 -1-4 -3-3 -9-4 -6-1zM573,23l3,0 6,2 6,5 4,6 8,16 16,20 8,18 6,9 9,9 15,11 6,7 5,9 15,33 4,2 12,3 6,3 4,4 4,6 7,4 4,5 3,6 1,12 5,15 7,15 16,43 9,20 -14,0 -8-24 -7-42 -9-27 -2-12 -2-4 -3-3 -9-3 -2-2 -2-6 -5-5 -6-2 -15-1 -3-2 -4-14 -14-28 -6-7 -18-14 -7-8 -6-9 -9-18 -14-20 -9-21 -3-3 -3-2 -6-1 -6,1 -6,6 -4,7 -2,9 1,15 -1,15 1,6 2,6 13,21 4,9 3,9 -2,15 0,15 0,6 -3,9 -3,4 -6,5 -9,3 -9,2 -9-2 -7-3 -2-3 -1-3 2-6 9-24 1-6 -2-7 -5-8 -7-5 -9-2 -6-1 -6,1 -6,4 -2,3 -1,3 -1,6 4,15 3,10 3,7 7,10 0,3 0,3 -4,9 -10,9 -5,3 -9,3 -3,0 -3,0 -18-11 -2-4 -3-9 -1-6 -1-33 -1-6 -7-14 -3-5 -3-3 -3-1 -3,1 -2,4 5,12 -2,9 -9,18 -8,21 -5,7 -9,7 -12,4 -15,0 -15-3 -18-7 -9-3 -15-2 -15,1 -9,1 -9,5 -15,13 -21,13 -6,6 -12,13 -3,2 -3,0 -6-2 -7-4 -8-6 -6-2 -9-1 -12,2 -2,1 0,3 1,9 -2,2 -6,2 -6,4 -9,10 -11,18 -14,30 -48,0 16-18 3,1 3,6 3,0 15-21 18-28 5-9 10-24 6-6 3-2 6-1 9,3 24,11 15,12 6,3 3,0 3,0 3-2 18-17 18-13 14-12 7-4 6-2 18-2 15,0 12,3 21,8 15,3 15-1 12-4 9-7 3-3 3-6 8-24 2-9 1-6 -2-12 0-3 3-5 3-3 3-1 6,1 6,4 6,7 2,6 2,9 1,9 -2,33 1,6 2,4 3,4 3,1 9,5 3,0 3,0 9-5 6-6 2-9 -3-27 0-21 1-4 3-4 3-2 6-1 9-1 9,2 6,4 6,8 3,7 0,6 -3,24 1,6 2,3 6,4 6,1 6-1 6-2 6-5 4-9 1-6 -1-15 1-15 -1-6 -4-9 -15-22 -3-8 0-6 2-30 1-6 6-15 3-4 4-2zM909,68l3,0 2,1 -5,3 -2-3zM408,74l6,0 6,4 2,3 0,3 -3,3 -5,1 -3-1 -6-3 -2-3 0-3 2-3zM410,78l-2,3 3,2 3,1 3-3 -3-3 -3,0zM804,90l6-1 3,1 5,3 4,3 2,3 2,6 0,6 -2,6 -6,15 -6,9 -4,3 -4,2 -3,0 -6,0 -9-3 -6-5 -2-3 -1-3 1-6 6-12 3-12 2-6 5-3 10-3zM803,93l-6,3 -4,3 -1,3 -4,15 -6,12 0,3 1,2 3,3 9,3 6,1 6-3 4-6 8-15 3-6 1-6 -1-6 -2-3 -4-3 -6-2 -6,2z"/>
<path fill="#5862F6" d="M498,-6l38,0 2,6 1,6 -2,9 -8,18 -7,21 -3,4 -3,1 -3-1 -3-2 -3-4 -4-13 -7-12 -4-9 -1-6 0-6 3-6 4-6zM505,0l-4,3 -4,6 -1,6 1,6 2,6 11,22 3,2 3,0 3-2 3-5 8-17 2-9 0-6 -1-3 -3-4 -6-4 -9-3 -6,1zM618,0l3-1 3,2 1,2 0,3 -2,3 -2,1 -3-1 -3-3 1-3 2-3zM570,17l3-1 6,2 6,4 3,3 4,5 11,20 13,13 5,6 6,18 6,10 9,8 15,10 7,8 5,9 10,21 5,9 5,3 10,4 6,3 15,16 3,4 2,6 3,18 4,14 8,10 19,35 20,31 -17,0 -9-20 -16-43 -7-15 -5-15 -1-12 -4-8 -3-3 -7-4 -4-6 -4-4 -6-3 -12-3 -4-2 -15-33 -5-9 -6-7 -15-11 -9-9 -6-9 -8-18 -16-20 -10-19 -5-6 -3-2 -6-2 -6,1 -3,2 -3,4 -4,9 -3,12 -2,27 0,9 2,6 3,6 13,19 4,8 1,6 -1,15 1,15 -1,6 -4,9 -6,5 -6,2 -6,1 -6-1 -6-4 -2-3 -1-6 3-24 0-6 -3-7 -6-8 -6-4 -9-2 -9,1 -6,1 -3,2 -3,4 -1,4 0,21 3,27 -2,9 -6,6 -9,5 -3,0 -3,0 -9-5 -3-1 -3-4 -2-4 -1-6 2-33 -1-9 -2-9 -2-6 -6-7 -6-4 -6-1 -3,1 -3,3 -3,5 0,3 2,12 -1,6 -2,9 -8,24 -3,6 -3,3 -9,7 -12,4 -15,1 -15-3 -21-8 -12-3 -15,0 -18,2 -6,2 -7,4 -14,12 -18,13 -18,17 -3,2 -3,0 -3,0 -6-3 -15-12 -24-11 -9-3 -6,1 -3,2 -6,6 -10,24 -5,9 -18,28 -15,21 -3,0 -3-6 -3-1 -16,18 -46,0 14-8 18-13 3-2 6-1 3-2 24-21 3,0 3,4 3-2 16-24 20-35 4-4 5-4 3,0 6,1 33,12 9,7 11,11 4,3 3,0 3,0 4-3 14-15 18-14 12-11 6-4 6-2 27-4 15,0 12,3 15,8 12,2 21-1 9-2 6-2 6-5 4-7 7-30 1-18 1-6 2-7 3-5 3-3 3-1 3,1 9,5 9,8 5,8 2,9 1,15 -6,33 1,3 2,3 4,3 6,1 6,0 3-1 3-2 3-4 2-6 2-9 2-24 1-15 2-4 3-3 3-1 6-1 15,0 6,2 5,4 4,6 5,12 0,21 1,6 1,3 3,3 5,3 6,0 6-1 3-2 2-3 3-9 1-27 0-6 -2-6 -4-8 -15-19 -2-6 -1-9 4-39 6-21 2-3 3-3zM912,63l9-2 3,1 2,1 1,3 -3,3 -15,7 -3,1 -3-1 -2-1 -2-3 1-3 3-3 8-3zM907,69l2,3 5-3 -2-1 -3,0zM405,71l3,0 6,0 7,4 3,3 3,6 0,3 -1,3 -3,2 -6,0 -9-2 -5-3 -2-3 -1-6 1-3 3-3zM405,75l-2,3 0,3 2,3 6,3 3,1 5-1 3-3 0-3 -2-3 -6-4 -6,0zM795,90l12-2 6,1 11,7 2,3 3,6 0,6 -1,9 -2,9 -3,6 -7,9 -3,3 -6,3 -9,1 -12-4 -11-6 -3-3 -1-3 0-3 0-3 7-12 3-6 4-15 2-3 6-3zM804,90l-10,3 -5,3 -2,6 -3,12 -6,12 -1,6 1,3 2,3 6,5 9,3 6,0 3,0 4-2 4-3 6-9 6-15 2-6 0-6 -2-6 -2-3 -4-3 -5-3 -3-1 -6,1zM33,290l1,1 1,3 0,9 1,3 -32,0 17-7 11-8z"/>
<path fill="#576AF6" d="M486,-4l1-2 11,0 -4,6 -3,6 0,6 1,6 4,9 7,12 4,13 3,4 3,2 3,1 3-1 3-4 7-21 9-21 1-9 -3-9 34,0 4,6 17,22 13,23 5,6 9,7 4,5 3,6 6,18 6,9 8,7 15,7 5,4 6,9 10,23 6,9 5,4 19,9 9,9 5,9 2,6 3,15 0,6 2,12 2,3 11,12 26,34 27,28 2,4 -21,0 -20-31 -19-35 -8-10 -4-14 -3-18 -2-6 -3-4 -15-16 -6-3 -10-4 -5-3 -6-10 -10-23 -6-9 -6-6 -14-9 -7-6 -6-9 -7-18 -3-6 -16-16 -11-20 -4-5 -6-5 -6-3 -3-1 -6,2 -3,3 -3,6 -6,21 -3,33 0,9 3,8 3,5 12,15 4,8 2,6 0,6 -1,27 -3,9 -2,3 -3,2 -6,1 -6,0 -5-3 -3-3 -1-3 -1-6 0-21 -5-12 -4-6 -5-4 -6-2 -15,0 -6,1 -3,1 -3,3 -2,4 -1,15 -2,24 -2,9 -2,6 -3,4 -3,2 -3,1 -6,0 -6-1 -4-3 -2-3 -1-3 6-33 -1-15 -2-9 -5-8 -9-8 -9-5 -3-1 -3,1 -3,3 -3,5 -2,7 -1,6 -1,18 -7,30 -4,7 -3,3 -6,3 -6,2 -9,2 -12,0 -12,0 -7-2 -17-9 -6-1 -9-1 -18,1 -18,3 -6,2 -6,4 -12,11 -18,14 -14,15 -4,3 -3,0 -3,0 -4-3 -11-11 -9-7 -33-12 -6-1 -3,0 -5,4 -4,4 -20,35 -16,24 -3,2 -3-4 -3,0 -24,21 -3,2 -6,1 -3,2 -18,13 -12,7 -3,1 -1-3 0-9 -1-3 -1-1 -3,2 -6,5 -6,3 -14,6 -10,0 0-39 9-4 3,0 3,9 3,1 18-4 9-5 9-3 3,0 3,8 3,0 9-4 15-9 12-5 18-16 3-1 3,1 3-2 9-13 21-34 3-3 3-1 3,0 6,2 15,8 8,3 15,3 4,2 6,4 12,17 3,2 3-1 3-2 10-13 5-5 15-11 15-13 8-4 37-5 9,0 9,2 6,2 12,8 6,1 30-2 9-2 6-2 3-5 6-28 3-35 -1-6 -1-3 -5-3 -14-5 -3-4 -1-6 1-6 3-4 3-2 6,0 3,0 7,3 5,3 9,10 24,21 6,6 3,5 2,9 2,24 -2,15 -4,12 -1,3 3,3 5,0 4-2 5-7 5-15 5-10 2-5 0-12 2-6 2-3 3-2 9-3 12,0 6,1 6,3 3,3 5,7 3,9 2,6 1,15 2,6 2,3 3,3 3,1 6,1 3-1 4-4 3-9 0-21 -1-9 -3-9 -3-5 -12-12 -2-4 -3-6 -2-9 1-15 7-36 0-6 -1-9 -3-4 -3-1 -6,2 -6,6 -3,4 -3,8 -3,18 -3,8 -5,4 -4,1 -3-1 -3-2 -4-4 -2-6 -5-15 -13-24 -2-9 1-6 1-3zM404,72l-3,3 -1,3 1,6 2,3 5,3 9,2 6,0 3-2 1-3 0-3 -3-6 -3-3 -7-4 -6,0 -3,0zM609,-6l19,0 3,6 0,3 0,3 -4,4 -3,3 -3,1 -3-1 -3-1 -4-3 -2-6 0-9zM618,0l-2,3 -1,3 3,3 3,1 2-1 2-3 0-3 -1-2 -3-2 -3,1zM912,60l12-1 6,0 2,1 3,3 0,3 -2,3 -15,6 -15,10 -3,0 -3-1 -3-4 -2-5 1-6 1-3 5-3 13-3zM911,63l-8,3 -3,3 -1,3 2,3 2,1 3,1 3-1 15-7 3-3 -1-3 -2-1 -3-1 -9,2zM798,87l9-1 3,1 6,3 9,6 3,3 2,3 2,6 0,6 0,12 -3,12 -10,12 -3,3 -6,2 -6,1 -6-1 -15-4 -17-10 -7-6 -2-3 3-3 8-4 6-8 3-6 3-12 3-6 4-3 9-3zM793,90l-6,3 -2,3 -4,15 -3,6 -7,12 0,3 0,3 1,3 3,3 11,6 12,4 9-1 6-3 3-3 7-9 3-6 2-9 1-9 0-6 -3-6 -2-3 -11-7 -6-1 -12,2z"/>
<path fill="#5671F6" d="M477,-5l0-1 10,0 -3,9 0,6 2,6 13,24 5,15 2,6 4,4 3,2 3,1 4-1 5-4 3-8 3-18 3-8 3-4 6-6 6-2 3,1 3,4 1,9 0,6 -7,36 -1,15 2,9 3,6 2,4 12,12 3,5 3,9 1,9 0,21 -3,9 -4,4 -3,1 -6-1 -3-1 -3-3 -2-3 -2-6 -1-15 -2-6 -3-9 -5-7 -3-3 -6-3 -6-1 -12,0 -9,3 -3,2 -2,3 -2,6 0,12 -2,5 -5,10 -5,15 -5,7 -4,2 -5,0 -3-3 1-3 4-12 2-15 -2-24 -2-9 -3-5 -6-6 -24-21 -9-10 -9-5 -9-1 -3,0 -3,2 -3,4 -1,6 1,6 3,4 14,5 5,3 1,3 1,6 -2,30 -6,30 -3,6 -4,3 -15,3 -27,2 -6-1 -12-8 -6-2 -9-2 -9,0 -37,5 -8,4 -15,13 -15,11 -5,5 -10,13 -3,2 -3,1 -3-2 -12-17 -6-4 -4-2 -15-3 -8-3 -15-8 -6-2 -3,0 -3,1 -3,3 -21,34 -9,13 -3,2 -3-1 -3,1 -18,16 -12,5 -9,6 -15,7 -3,0 -3-8 -3,0 -6,2 -12,6 -18,4 -3-1 -3-9 -3,0 -9,4 0-31 18,4 6,1 3,5 3,0 15-1 12-4 6-1 4,0 2,3 3,2 3-1 12-5 12-7 6-2 15-12 9-6 3-3 21-28 5-4 4-1 3-1 6,2 15,8 9,3 21,4 7,3 11,8 3,1 6-3 21-14 20-16 4-2 6-2 36-3 9,0 15,3 15,6 3,1 33-3 6-1 3-2 2-6 6-36 1-12 -1-6 -4-6 -3-3 -7-4 -3-2 -3-6 0-6 1-6 2-3 3-3 6-2 9,1 10,4 20,12 6,5 6,6 9,12 4,7 2,6 1,18 2,7 3,5 3,1 3-1 3-2 3-4 1-6 0-6 1-6 1-3 4-3 2-1 6-1 18-1 6,1 6,4 7,10 4,15 3,12 3,6 4,5 3,1 3,0 3-1 3-5 1-6 1-12 -1-12 -3-9 -4-6 -14-15 -3-9 -2-9 0-12 8-36 -1-6 -1-3 -2-3 -3-2 -3,0 -3,2 -3,3 -3,6 -1,15 -1,6 -2,6 -2,3 -4,3 -5,1 -6,0 -3-1 -5-3 -4-6 -6-21 -16-24 -3-9 1-9zM573,-6l36,0 0,9 2,6 4,3 3,1 3,1 3-1 3-3 4-4 0-3 0-3 -3-6 7,0 2,6 -1,6 -3,5 -3,3 -6,3 -3,1 -18-2 -3,2 -1,3 2,9 2,6 3,5 6,7 9,7 4,5 3,6 4,15 4,9 5,6 7,5 3,2 15,4 6,4 4,6 3,9 5,13 3,5 3,2 33,16 4,3 2,3 2,6 4,27 1,6 -4,6 1,3 3,3 1,6 2,3 20,20 12,11 21,17 6,6 6,9 9,7 3,2 3-1 3-6 3-1 9,1 6-2 3,1 4,8 4,6 -51,0 -2-4 -24-25 -12-14 -17-23 -10-10 -3-5 -2-12 0-6 -2-12 -3-9 -5-9 -3-3 -6-6 -19-9 -5-4 -6-9 -10-23 -6-9 -5-4 -15-7 -8-7 -6-9 -6-18 -3-6 -4-5 -9-7 -5-6 -13-23 -17-22 -4-6zM915,57l12-1 9,1 4,3 1,3 2,6 -1,3 -2,3 -4,2 -12,1 -6,1 -3,2 -9,10 -3,1 -3,0 -6-2 -6-6 -1-6 0-9 4-6 5-3 7-2 10-1zM912,60l-13,3 -5,3 -1,3 -1,6 2,5 3,4 3,1 3,0 15-10 15-6 2-3 0-3 -3-3 -2-1 -6,0 -12,1zM789,87l12-3 9,1 12,8 8,6 2,3 3,6 3,15 1,9 -1,6 -4,9 -9,10 -3,2 -6,2 -9,0 -6,0 -9-3 -36-16 -3-2 -3-3 -1-5 2-3 4-3 10-5 3-3 5-7 4-12 4-6 2-3 6-3zM796,87l-9,3 -4,3 -3,6 -3,12 -3,6 -6,8 -8,4 -3,3 2,3 7,6 17,10 15,4 6,1 6-1 6-2 3-3 10-12 3-12 0-12 0-6 -2-6 -2-3 -3-3 -9-6 -6-3 -3-1 -9,1z"/>
<path fill="#557AF6" d="M468,-4l1-2 8,0 -1,6 0,6 3,9 16,24 6,21 4,6 5,3 3,1 6,0 5-1 4-3 3-6 2-9 1-15 3-7 3-2 3-2 3,0 3,2 2,3 1,3 1,6 -8,36 0,12 2,9 3,9 14,15 4,6 3,9 1,12 -1,12 -1,6 -2,3 -1,2 -3,1 -3,0 -3-1 -4-5 -3-6 -3-12 -4-15 -7-10 -6-4 -6-1 -18,1 -6,1 -2,1 -4,3 -1,3 -1,6 0,6 -1,6 -3,4 -3,2 -3,1 -3-1 -3-5 -2-7 -1-18 -2-6 -4-7 -6-8 -8-9 -7-6 -24-14 -6-2 -6-1 -6,0 -3,2 -3,3 -2,3 -1,6 0,6 3,6 3,2 7,4 3,3 4,6 1,6 -1,12 -6,36 -2,6 -3,2 -6,1 -33,3 -3-1 -15-6 -15-3 -9,0 -36,3 -6,2 -4,2 -20,16 -21,14 -6,3 -3-1 -11-8 -7-3 -21-4 -9-3 -15-8 -6-2 -3,1 -4,1 -5,4 -21,28 -3,3 -9,6 -15,12 -6,2 -15,8 -12,5 -3-2 -2-3 -4,0 -6,1 -12,4 -15,1 -3,0 -3-5 -6-1 -18-4 0-45 2,4 0,6 3,3 10,7 18,7 2,1 1,3 3,3 15,0 9-2 9-1 3,1 3,2 3,1 12-5 18-9 12-8 6-3 22-24 5-4 6-3 3,0 6,1 15,7 9,3 21,3 15,4 6,1 9-2 9-4 9-5 18-13 6-3 6-1 21,0 18-1 39,3 10-1 13-3 7-4 4-5 5-16 2-11 0-6 -1-6 -3-6 -7-11 -1-4 -1-6 1-6 2-6 3-3 5-3 6-1 12,2 24,9 9,4 5,4 7,11 8,16 1,6 1,18 2,6 3,4 3,0 3-1 2-3 1-3 -1-6 1-6 1-3 5-5 6-2 27,0 3,1 3,2 7,10 3,9 8,22 3,3 3,1 3,0 3-3 3-8 0-9 -2-9 -2-6 -4-6 -12-12 -4-6 -2-6 -2-9 -1-18 0-3 4-9 0-9 4-12 -1-3 -2-4 -3,0 -3,1 -2,3 0,3 1,12 -2,6 -2,9 -2,3 -8,3 -9,1 -6-1 -7-3 -5-3 -5-6 -2-6 -2-9 -3-6 -12-15 -4-6 -3-9 0-6 1-6zM636,-6l5,0 0,3 -1,9 -3,9 -2,3 -5,3 -15,4 -4,2 -2,3 0,3 2,6 4,5 9,7 3,4 3,8 5,18 2,6 5,6 9,7 15,3 6,3 3,3 4,5 4,15 4,8 3,3 18,9 12,7 7,3 4,3 3,6 2,18 3,18 -1,6 -2,3 5,6 6,9 18,16 9,6 15,9 9,8 15,5 3-1 3-6 3-3 12,1 6,4 6,7 6,5 9,3 6,0 6,3 3,3 5,9 1,1 6-2 3,1 16,9 -56,0 -4-6 -4-8 -3-1 -6,2 -9-1 -3,1 -3,6 -3,1 -6-4 -6-5 -6-9 -6-6 -24-19 -29-29 -2-3 -1-6 -3-3 -1-3 4-6 -1-6 -4-27 -2-6 -2-3 -3-3 -13-6 -18-8 -6-4 -5-9 -7-21 -3-3 -4-3 -20-7 -9-7 -6-10 -5-18 -4-8 -3-3 -12-10 -6-9 -4-12 1-6 3-2 3,0 9,1 6,1 3-1 6-3 3-3 3-5 1-6 -2-6zM906,54l27,0 6,1 6,4 0,25 -6,2 -12-1 -6,1 -6,4 -6,5 -6,3 -6,0 -11-8 -5-6 0-6 2-9 5-8 6-5 10-2zM913,57l-10,1 -7,2 -5,3 -4,6 0,9 1,6 6,6 6,2 3,0 3-1 9-10 3-2 6-1 12-1 4-2 2-3 1-3 -2-6 -1-3 -4-3 -9-1 -12,1zM792,84l6-2 6,0 9,4 15,10 7,6 5,6 5,9 3,6 1,6 0,9 -1,6 -4,12 -4,3 -3,5 -3,2 -12,4 -9-1 -9-2 -12-4 -24-11 -15-5 -5-3 -2-3 -1-6 2-6 6-6 9-5 4-4 5-6 5-12 5-6 5-3 6-3zM789,87l-6,3 -2,3 -4,6 -4,12 -5,7 -3,3 -10,5 -4,3 -2,3 1,5 3,3 3,2 36,16 9,3 6,0 9,0 6-2 3-2 9-10 4-9 1-6 -1-9 -3-15 -3-6 -2-3 -8-6 -12-8 -9-1 -12,3z"/>
<path fill="#5582F6" d="M459,-4l0-2 10,0 -2,6 0,6 1,6 2,6 4,6 12,15 3,6 2,9 2,6 5,6 9,5 6,2 6,0 6-1 8-3 2-3 2-9 2-6 -1-12 0-3 2-3 3-1 4,1 1,3 1,3 -4,12 0,9 -4,9 0,3 1,18 2,9 2,6 4,6 12,12 4,6 2,6 2,9 0,9 -3,8 -3,3 -3,0 -3-1 -3-3 -8-22 -3-9 -7-10 -3-2 -3-1 -27,0 -6,2 -5,5 -1,3 -1,6 1,6 -1,3 -2,3 -3,1 -3,0 -3-4 -2-6 -1-18 -1-6 -8-16 -7-11 -5-4 -9-4 -24-9 -12-2 -6,1 -6,3 -3,6 -2,6 0,6 2,6 9,15 2,9 -1,12 -5,18 -2,5 -4,4 -5,2 -9,3 -15,2 -39-3 -18,1 -21,0 -6,1 -6,3 -18,13 -9,5 -9,4 -9,2 -6-1 -15-4 -21-3 -9-3 -15-7 -6-1 -3,0 -6,3 -5,4 -22,24 -6,3 -12,8 -15,8 -15,6 -3-1 -3-2 -3-1 -9,1 -9,2 -12,1 -4-1 -3-6 -2-1 -14-5 -6-3 -11-9 0-6 -2-4 0-31 9,11 12,12 2,6 3,3 10,7 12,5 6,4 6-1 18,1 9,2 15-5 15-6 18-13 18-16 9-5 6,0 18,7 9,3 33,3 9,1 9-2 12-4 6-3 15-11 9-4 6-2 6-1 12,3 18,0 18,1 9,0 9-1 6-2 18-11 4-4 5-6 2-6 2-9 -1-9 -4-18 0-6 1-6 3-7 5-5 7-2 6-1 12,1 18,4 21,1 3,1 3,2 1,3 3,18 6,21 1,6 -1,6 0,6 2,6 3,3 3-1 1-2 -1-9 1-6 2-3 3-3 6-2 15,0 18-1 3,0 2,3 4,6 4,6 1,9 5,9 2,6 3,4 3,1 3-2 3-6 0-6 -3-9 -3-6 -3-4 -15-15 -2-5 -3-21 -2-6 -2-2 -3-1 -12,1 -9-1 -24-7 -6-2 -3-4 -2-11 -3-9 -11-18 -2-6 -1-9 1-12zM642,-6l4,0 0,3 -1,12 0,12 -1,3 -4,3 -4,2 -15,2 -3,2 -1,3 1,3 9,7 3,5 2,6 3,18 2,6 5,8 9,8 3,1 12,2 6,3 3,2 3,3 4,6 2,12 3,6 3,3 18,8 12,9 3,1 9,1 3,1 1,1 2,6 -1,21 5,21 1,9 7,10 12,10 12,7 12,4 9,5 12,1 3,0 3-3 3-6 3-3 10-7 4-6 1-6 2,3 0,3 2,3 2,7 3,6 9,1 9,4 6,4 6,7 3,0 0-5 2-3 1,0 9,3 9,1 4-1 0-3 -3-6 0-6 -3-3 -4-3 -1-3 0-9 -3-3 -5-4 -6-4 -3-3 -3-2 -3-1 -9-7 3-1 3,1 6,4 17,5 13,6 6,5 5,1 4,4 6,4 6-1 3,3 5,2 -2,2 -6,1 12,9 6,3 0,63 -38,0 -16-9 -3-1 -6,2 -1-1 -5-9 -3-3 -6-3 -6,0 -9-3 -6-5 -6-7 -6-4 -12-1 -3,3 -3,6 -3,1 -12-3 -3-2 -9-8 -15-9 -9-6 -18-16 -6-9 -5-6 2-3 1-6 -3-18 -2-18 -3-6 -4-3 -7-3 -12-7 -18-9 -3-3 -4-8 -4-15 -4-5 -3-3 -6-3 -15-3 -9-7 -5-6 -2-6 -5-18 -3-8 -3-4 -9-7 -4-5 -2-6 0-3 2-3 4-2 15-4 5-3 2-3 2-4 2-8 0-9zM897,51l9-1 30,2 9,2 0,5 -6-4 -9-1 -27,0 -9,2 -3,2 -5,5 -3,6 -2,6 0,6 0,3 4,5 6,5 6,4 6,0 6-3 6-5 6-4 6-1 12,1 6-2 0,19 -6-2 -12-7 -6,0 -4,2 -8,10 -3,1 -6,1 -3-1 -9-8 -9-5 -3-2 -3-5 0-3 0-3 2-6 10-16 6-5 6-3zM795,81l6-1 3,0 6,3 51,34 8,12 0,3 -3,6 -1,12 -3,9 2,9 -2,3 0,3 3,6 -1,1 -3,2 -6,1 -3,2 1,3 -1,0 -3,1 -9-3 -3,0 -2,2 -1,12 -8-12 -4-4 -18-11 -33-16 -9-3 -18-4 -3-1 -2-3 0-6 1-6 4-6 2-3 18-15 10-15 5-6 7-5 9-4zM792,84l-6,3 -5,3 -5,6 -5,12 -5,6 -4,4 -9,5 -6,6 -2,6 1,6 2,3 5,3 15,5 24,11 12,4 9,2 9,1 12-4 3-2 3-5 4-3 4-12 1-6 0-9 -1-6 -3-6 -5-9 -5-6 -7-6 -15-10 -9-4 -6,0 -6,2z"/>
<path fill="#548BF6" d="M-3,-6l1,0 7,9 2,3 -3,9 -1,9 3,15 1,12 6,15 -1,6 -5,15 -2,12 -1,15 1,24 6,12 5,9 13,15 4,6 12,8 12,7 9-1 9,1 9,3 3,0 15-4 12-5 12-8 12-8 15-14 3-2 3,0 3,1 15,9 12,3 33,1 9-1 9-2 15-6 13-9 20-10 6-5 3-4 3-3 3,1 6,12 5,3 19,4 9,1 9-1 6-2 6-5 6-6 9-5 3-3 5-7 3-12 2-30 3-9 5-6 6-3 6-2 33-1 6-3 4-3 2-6 0-6 -1-6 -5-12 -1-6 0-12 2-12 8,0 -1,15 1,9 2,6 11,18 3,9 3,12 2,3 3,1 24,7 9,1 15,0 3,1 2,2 2,3 3,24 2,5 15,15 3,4 3,6 3,9 0,6 -3,6 -3,2 -3-1 -3-4 -2-6 -5-9 -1-9 -4-6 -4-6 -2-3 -6-1 -15,2 -15,0 -6,2 -3,3 -2,3 -1,6 1,9 -1,2 -3,1 -3-3 -2-6 0-6 1-6 -1-6 -6-21 -3-18 -1-3 -3-2 -3-1 -21-1 -27-5 -9,1 -6,2 -3,2 -3,4 -3,6 -1,6 0,6 5,24 -1,9 -2,6 -4,7 -5,5 -20,12 -8,3 -12,0 -24-2 -12,1 -15-3 -6,1 -6,2 -9,4 -15,11 -6,3 -12,4 -9,2 -9-1 -33-3 -9-3 -18-7 -6,0 -9,5 -18,16 -18,13 -15,6 -15,5 -9-2 -18-1 -6,1 -6-4 -12-5 -10-7 -3-3 -2-6 -12-12 -9-11 0-166zM491,78l-4,3 -2,3 -1,3 -1,6 2,12 4,8 3,1 9-1 15,1 6-1 9-3 4-2 1-3 1-3 -1-12 -2-6 -1-3 -5-2 -24-3 -6,0 -6,1zM552,132l-1,3 1,5 4,4 2,4 3,0 0-5 -1-5 -2-4 -3-3zM648,-6l3,0 1,15 5,7 1,2 0,3 -8,15 -2,2 -8,4 -3,3 -1,7 0,14 1,9 3,6 5,8 6,5 6,2 12,1 6,4 3,2 4,5 3,6 2,11 3,4 3,2 15,6 15,8 3-1 3-2 13-16 18-15 13-18 13-10 9-4 6-2 6,2 15,12 6,3 9,4 12,3 6,0 3-2 3-3 1-3 3-12 2-3 18-24 6-5 3-2 3-1 6-1 18,4 15,0 9,2 0,3 -9-2 -30-2 -6,0 -6,2 -6,4 -6,7 -8,15 -1,6 1,6 3,3 11,6 9,8 3,1 6-1 3-1 8-10 4-2 6,0 12,7 6,2 0,56 -21,3 -3-1 -6-4 -15-4 -3,0 -3,2 -3,4 -1,9 -4,6 -1,3 6,6 6,4 21,12 12,5 6,4 6,2 3,2 0,31 -6-3 -12-9 6-1 2-2 -5-2 -3-3 -6,1 -6-4 -4-4 -5-1 -6-5 -15-7 -6-1 -9-3 -6-4 -3-1 -3,1 3,3 6,4 3,1 3,2 3,3 6,4 5,4 3,3 0,9 1,3 4,3 3,3 0,6 3,6 0,3 -4,1 -9-1 -9-3 -1,0 -2,3 0,5 -3,0 -6-7 -6-4 -9-4 -9-1 -3-6 -2-7 -2-3 0-3 -2-3 -1,6 -4,6 -10,7 -3,3 -3,6 -3,3 -3,0 -12-1 -9-5 -12-4 -12-7 -12-10 -7-10 -1-9 -5-21 1-21 -2-6 -1-1 -3-1 -9-1 -3-1 -12-9 -18-8 -3-3 -3-6 -2-12 -4-6 -3-3 -3-2 -6-3 -12-2 -5-2 -4-4 -6-7 -3-7 -4-21 -2-6 -3-5 -9-7 -1-3 1-3 3-2 15-2 4-2 4-3 1-3 0-3 0-6 1-12 0-6zM795,81l-9,4 -7,5 -5,6 -10,15 -18,15 -2,3 -4,6 -1,6 0,6 2,3 3,1 18,4 9,3 33,16 18,11 4,4 8,12 1-12 2-2 3,0 9,3 3-1 1,0 -1-3 3-2 6-1 3-2 1-1 -3-6 0-3 2-3 -2-9 3-9 1-12 3-6 0-3 -8-12 -51-34 -6-3 -3,0 -6,1zM749,159l-5,3 -1,3 -2,6 -2,9 2,11 8,22 7,8 12,7 6,2 15,4 6,0 12-6 3-5 3-7 1-6 0-9 -2-6 -2-5 -3-4 -11-9 -18-12 -10-4 -6-2 -6-1 -6,1zM129,50l3-1 3,1 3,4 0,6 -3,6 -3,3 -3,0 -4-3 0-9 3-6z"/>
<path fill="#5894F2" d="M0,-6l9,0 4,9 1,3 -1,3 -4,9 0,9 5,21 3,6 6,9 1,3 0,6 -3,18 0,24 2,24 3,9 19,24 3,3 12,7 3,2 21,4 9,1 9-2 12-4 18-10 9-7 3-3 9-16 3-2 3,1 13,14 8,4 12,2 33-2 12-3 12-5 13-8 19-9 4-3 12-12 3-2 3,0 3,2 3,3 8,12 7,5 6,2 9,2 9-1 6-2 18-15 3-3 4-6 7-21 4-21 3-6 3-5 3-2 6-4 6-1 18-3 6-2 6-3 3-4 1-3 1-6 -5-24 0-15 1-6 9,0 -2,12 0,12 1,6 5,12 1,6 0,6 -2,6 -4,3 -6,3 -33,1 -6,2 -6,3 -5,6 -3,9 -2,30 -3,12 -5,7 -3,3 -9,5 -6,6 -6,5 -6,2 -9,1 -9-1 -19-4 -5-3 -6-12 -3-1 -9,10 -23,12 -13,9 -9,4 -12,3 -15,2 -24-1 -9-1 -12-4 -12-7 -3-1 -3,0 -3,2 -18,16 -18,12 -6,3 -12,5 -12,3 -3,0 -9-3 -9-1 -9,1 -3-1 -18-12 -3-2 -4-6 -13-15 -4-6 -5-12 -2-9 -1-18 0-9 2-12 7-27 -6-15 -1-12 -3-15 1-9 3-9 -2-3 -7-9zM654,-6l3,0 1,9 4,12 0,6 -8,18 -3,4 -6,5 -4,6 -2,12 0,6 2,6 4,7 6,5 6,2 12,1 6,3 6,6 5,6 7,13 3,3 15,7 9,2 6,0 9-5 20-17 16-19 18-13 9-4 3-1 3,1 3,2 11,10 10,6 9,3 9-1 5-2 4-3 9-16 9-10 15-19 6-4 3-1 6,0 13,5 8,2 21,0 0,4 -9-2 -15,0 -18-4 -6,1 -6,3 -8,8 -16,21 -2,3 -3,12 -1,3 -3,3 -3,2 -6,0 -12-3 -9-4 -6-3 -15-12 -6-2 -6,2 -9,4 -13,10 -13,18 -18,15 -13,16 -3,2 -3,1 -15-8 -15-6 -3-2 -3-4 -2-11 -3-6 -4-5 -3-2 -6-4 -12-1 -6-2 -6-5 -5-8 -3-6 -1-9 0-14 1-7 3-3 8-4 2-2 8-15 0-3 -1-2 -5-7 -1-15zM75,5l6,1 4,3 2,3 -1,3 -2,1 -3,1 -3-1 -3-1 -3-2 -1-4 2-3zM72,45l6-2 6,0 3,1 3,4 1,3 0,3 -1,3 -3,2 -6,3 -9,1 -9,0 -6-4 -3-4 -1-4 1-4 3-1 13-1zM129,43l3,0 3,0 3,2 3,3 3,6 0,3 -1,6 -5,6 -3,3 -6,1 -3-1 -3-2 -2-4 0-6 1-6 1-4 4-5zM128,51l-3,6 0,9 4,3 3,0 3-3 3-6 0-6 -3-4 -3-1 -3,1zM492,77l6-1 6,0 24,3 5,2 1,3 2,6 1,12 -1,3 -1,3 -4,2 -9,3 -6,1 -15-1 -9,1 -3-1 -4-8 -2-12 1-6 1-3 2-3 4-3zM497,81l-4,3 -3,6 0,9 2,6 3,3 3,1 12,4 6,0 8-2 5-3 3-3 1-3 0-9 -2-6 -2-3 -4-2 -12-2 -9-1 -6,2zM555,131l3,3 2,4 1,5 0,5 -3,0 -2-4 -4-4 -1-5 1-3zM897,153l3,0 15,4 6,4 3,1 21-3 0,23 -6,0 -1,1 -1,3 3,6 5,5 0,3 -2,1 0,3 2,1 0,7 -3-2 -6-2 -6-4 -12-5 -21-12 -6-4 -6-6 1-3 4-6 1-9 2-3 3-3zM750,159l6-1 6,1 6,2 10,4 18,12 11,9 3,4 2,5 2,6 0,9 -1,6 -3,7 -3,5 -12,6 -6,0 -15-4 -6-2 -12-7 -7-8 -8-22 -2-11 2-9 2-6 1-3 5-3zM749,165l-3,3 -3,6 -1,6 0,6 1,6 4,9 6,10 9,7 9,3 6,1 9,0 6-3 6-7 3-8 0-6 -2-6 -6-9 -8-9 -8-5 -6-3 -6-3 -6-1 -6,1 -3,1z"/>
<path fill="#5D9FED" d="M12,-6l3,0 2,9 -1,6 -2,9 -1,6 1,6 4,12 3,7 6,8 6,7 6,5 3,0 3-3 2-6 1-9 3-5 3-3 12-4 4-3 4-6 -1-6 -4-9 -2-6 2-6 3-3 6-4 6,0 6,2 6,4 6,4 3,3 1,3 -1,6 -6,15 -1,6 1,12 -1,6 -2,4 -6,6 -12,6 -12,4 -18,2 -3,1 -3,3 -2,7 -3,21 0,15 2,15 3,6 7,9 9,9 8,7 5,2 16,4 9,2 9-2 12-3 12-6 10-7 4-6 4-20 3-7 3-4 3-2 3,2 1,1 6,18 5,9 6,5 6,2 9,0 27-3 9-2 9-3 21-12 15-5 6-3 9-9 12-16 3-1 3,3 3,4 11,19 7,6 6,3 6,1 6,0 6-3 13-10 8-9 4-12 8-13 4-14 3-9 4-6 4-3 6-4 21-5 6-3 3-3 2-6 1-6 -5-27 0-9 1-6 8,0 -1,9 0,9 5,27 -1,6 -1,3 -3,4 -6,3 -6,2 -18,3 -6,1 -6,4 -3,2 -3,5 -3,6 -4,21 -7,21 -4,6 -3,3 -18,15 -6,2 -9,1 -9-2 -6-2 -7-5 -8-12 -3-3 -3-2 -3,0 -3,2 -12,12 -4,3 -19,9 -13,8 -12,5 -12,3 -33,2 -12-2 -8-4 -13-14 -3-1 -3,2 -9,16 -3,3 -9,7 -18,10 -12,4 -9,2 -9-1 -21-4 -12-7 -6-5 -10-12 -8-11 -2-4 -3-15 -1-18 1-24 2-15 0-6 -1-3 -6-9 -3-6 -5-21 0-9 5-12 -1-3 -4-9zM73,6l-2,3 1,4 3,2 3,1 3,1 3-1 2-1 1-3 -2-3 -4-3 -6-1zM70,45l-13,1 -3,1 -1,4 1,4 3,4 6,4 9,0 9-1 6-3 3-2 1-3 0-3 -1-3 -3-4 -3-1 -6,0 -6,2zM657,-6l5,0 3,18 0,9 -8,21 -10,12 -5,9 -1,9 2,6 5,6 6,4 15,0 6,3 3,3 12,14 9,9 9,5 12,4 9,0 6-2 6-4 10-9 17-20 12-7 18-14 3-1 3,1 11,14 10,7 9,3 6-1 3-1 9-7 7-13 14-14 15-23 3-4 3-1 3-1 3,1 17,12 4,2 6,1 18-1 0,3 -21,0 -8-2 -13-5 -6,0 -3,1 -6,4 -15,19 -9,10 -9,16 -4,3 -5,2 -9,1 -9-3 -10-6 -11-10 -3-2 -3-1 -6,2 -25,17 -15,18 -17,15 -9,6 -6,2 -9-2 -18-8 -3-3 -7-13 -5-6 -6-6 -6-3 -12-1 -6-2 -6-5 -4-7 -2-6 0-6 2-12 4-6 6-5 3-4 8-18 0-6 -4-12 -1-9zM126,36l3-2 3-1 3,1 3,3 7,8 5,9 1,3 0,3 -10,12 -6,4 -6,1 -6-2 -5-6 -1-9 0-9 4-9 4-6zM127,45l-4,5 -1,4 -1,6 0,6 2,4 3,2 3,1 6-1 3-3 5-6 1-6 0-3 -3-6 -3-3 -3-2 -3,0 -3,0zM498,81l6-2 9,1 12,2 4,2 2,3 2,6 0,9 -1,3 -3,3 -5,3 -8,2 -6,0 -12-4 -3-1 -3-3 -2-6 0-9 3-6 4-3zM500,84l-3,3 -2,6 1,6 3,6 3,3 7,3 4,1 6-1 6-3 2-3 2-3 1-6 -2-7 -3-3 -6-3 -9-1 -9,2zM750,164l3-1 6-1 6,1 6,3 6,3 8,5 8,9 6,9 2,6 0,6 -3,8 -6,7 -6,3 -9,0 -6-1 -9-3 -9-7 -6-10 -4-9 -1-6 0-6 1-6 3-6 3-3zM751,168l-3,3 -2,3 -2,9 0,6 6,11 6,7 9,5 9,1 9-2 3-3 3-4 1-6 -1-9 -5-9 -6-6 -10-6 -9-2 -6,1zM939,182l6,0 0,15 -3-3 -4-5 -1-3 1-3zM945,200l0,5 -2-1 0-3z"/>
<path fill="#62A9E8" d="M18,-6l2,0 0,12 -3,15 0,6 2,6 5,12 6,7 6,5 3,0 3-2 6-10 3-3 11-6 5-6 1-6 -3-12 0-6 1-6 3-6 31,0 10,12 7,16 3,2 10,0 7,3 4,4 20,26 1,3 -1,3 -8,4 -15,13 -6,1 -6,0 -6-3 -6-6 -3-7 -3-4 -7,8 -5,4 -30,18 -6,5 -4,6 -4,9 -1,12 0,9 3,12 13,15 5,5 6,3 12,4 9,2 9-1 12-3 9-4 8-6 2-6 8-30 3-6 3-3 3-2 3,1 3,4 5,18 5,12 5,6 6,3 9-1 33-6 15-7 17-10 16-4 6-3 5-5 4-6 7-12 2-2 3-2 5,1 4,3 11,21 7,9 5,3 4,1 6,1 5-2 4-3 2-3 -3-6 1-3 6-6 9-4 14-14 3-6 5-15 5-9 9-7 20-8 5-3 2-3 1-6 0-9 -4-30 1-6 7,0 -1,12 5,30 -1,6 -2,6 -3,3 -6,3 -21,5 -6,4 -4,3 -4,6 -3,9 -4,14 -8,13 -4,12 -8,9 -13,10 -6,3 -6,0 -6-1 -6-3 -7-6 -11-19 -3-4 -3-3 -3,1 -12,16 -9,9 -6,3 -15,5 -21,12 -9,3 -9,2 -27,3 -9,0 -6-2 -6-5 -5-9 -6-18 -1-1 -3-2 -3,2 -3,4 -3,7 -4,20 -4,6 -10,7 -12,6 -12,3 -9,2 -9-2 -16-4 -5-2 -8-7 -9-9 -7-9 -3-6 -2-15 0-15 3-21 2-7 3-3 3-1 18-2 12-4 12-6 6-6 2-4 1-6 -1-12 1-6 6-15 1-6 -1-3 -3-3 -6-4 -6-4 -6-2 -6,0 -6,4 -3,3 -2,6 2,6 4,9 1,6 -4,6 -4,3 -12,4 -3,3 -3,5 -1,9 -2,6 -3,3 -3,0 -6-5 -9-11 -4-5 -3-9 -4-15 1-6 3-12 -2-12zM125,36l-4,6 -4,9 0,9 1,9 5,6 6,2 6-1 6-4 10-12 0-3 -1-3 -5-9 -7-8 -3-3 -3-1 -3,1 -3,2zM663,-6l4,0 2,18 -1,12 -7,21 -4,6 -9,9 -3,6 -1,3 1,6 3,4 3,3 3,1 15,0 6,2 3,2 11,15 4,4 15,9 15,6 9,0 6-3 5-4 7-6 9-12 6-6 6-4 6-2 7-6 17-21 3,1 1,2 7,18 4,6 4,3 5,3 6,2 6-1 3-1 11-12 4-9 3-3 9-7 6-8 5-12 7-28 2-5 3-3 4-2 3-1 3,3 2,9 5,12 6,9 5,6 6,3 3,0 18-2 0,4 -21,1 -7-3 -17-12 -3-1 -3,1 -3,1 -3,4 -15,23 -14,14 -7,13 -9,7 -3,1 -6,1 -9-3 -10-7 -11-14 -3-1 -3,1 -18,14 -12,7 -17,20 -7,6 -9,7 -9,2 -9-1 -15-6 -9-8 -18-20 -6-3 -15,0 -6-4 -5-6 -2-6 1-9 5-9 10-12 8-21 0-9 -3-18zM501,84l9-2 9,1 6,3 3,3 2,7 -1,6 -2,3 -2,3 -6,3 -6,1 -4-1 -7-3 -3-3 -3-6 -1-6 2-6 3-3zM503,87l-2,3 -1,3 1,6 2,6 4,3 6,2 3,0 5-2 3-3 2-6 0-6 -2-3 -4-3 -4-1 -6-1 -6,1zM753,167l6-1 9,2 10,6 6,6 5,9 1,9 -1,6 -3,4 -3,3 -9,2 -9-1 -9-5 -6-7 -6-11 0-6 2-9 2-3 3-3zM753,171l-3,2 -3,4 -1,6 1,6 3,6 6,7 6,3 6,1 3,0 6-3 4-5 1-6 -1-6 -3-6 -6-6 -7-4 -6-1 -6,2z"/>
<path fill="#66B2DF" d="M21,-6l3,0 -4,24 0,6 1,6 2,6 4,6 6,5 3,2 3-1 3-1 5-5 10-6 5-6 2-6 -2-18 0-12 7,0 -3,6 -1,6 0,6 3,12 -1,6 -5,6 -11,6 -3,3 -6,10 -3,2 -3,0 -3-2 -6-6 -5-7 -3-9 -2-6 0-6 3-15 0-12zM102,-6l6,0 12,17 3,3 15,9 4,4 17,20 5,7 2,6 -1,5 -3,4 -9,5 -9,8 -6,3 -9,1 -6-1 -12-4 -3,0 -6,1 -9,3 -12,8 -9,8 -5,7 -3,9 -1,9 1,9 3,9 8,10 6,5 12,5 9,2 9,0 9-2 9-4 5-4 3-6 3-9 6-27 4-6 3-1 6,0 3,1 2,3 3,6 1,12 2,9 7,10 6,3 9,0 33-8 12-5 18-10 18-6 6-5 3-3 10-15 4-3 4-1 6,1 5,3 4,6 8,15 7,8 6,3 6-1 3-3 3-7 3-3 12-9 14-15 4-6 8-18 5-6 8-7 15-8 3-3 2-3 1-6 0-9 -2-27 1-6 5,0 -1,9 4,21 0,12 0,6 -1,3 -2,3 -5,3 -20,8 -9,7 -5,9 -7,19 -3,4 -12,12 -9,4 -6,6 -1,3 3,6 -2,3 -6,4 -3,1 -6-1 -6-2 -3-2 -7-9 -11-21 -4-3 -5-1 -3,2 -2,2 -7,12 -4,6 -5,5 -6,3 -16,4 -17,10 -15,7 -33,6 -9,1 -6-3 -5-6 -5-12 -5-18 -3-4 -3-1 -3,2 -3,3 -3,6 -8,30 -2,6 -8,6 -9,4 -12,3 -9,1 -9-2 -12-4 -6-3 -5-5 -13-15 -3-12 0-9 1-12 4-9 4-6 6-5 30-18 5-4 7-8 3,4 3,7 6,6 6,3 6,0 6-1 3-2 9-9 11-6 1-3 -3-5 -21-27 -6-3 -6-1 -6,0 -3-2 -7-16 -10-12zM669,-6l4,0 -1,27 -4,21 -1,6 -3,6 -11,12 -1,3 0,3 2,3 15,1 6,2 7,6 6,12 5,6 6,4 12,7 12,3 9,0 9-5 6-6 12-15 6-5 3-3 10-4 16-21 4-4 3-1 3,0 3,3 3,5 2,6 2,12 4,6 4,4 6,2 6,0 3-1 5-5 4-6 7-15 10-9 4-6 3-9 6-31 4-8 5-6 15,0 4,6 3,12 4,9 5,9 5,6 3,2 6,1 15-3 0,4 -12,2 -9,0 -6-3 -5-6 -6-9 -5-12 -2-9 -3-3 -3,1 -4,2 -3,3 -2,5 -7,28 -5,12 -6,8 -9,7 -3,3 -4,9 -11,12 -3,1 -6,1 -6-2 -5-3 -4-3 -4-6 -7-18 -1-2 -3-1 -17,21 -7,6 -6,2 -6,4 -6,6 -9,12 -6,5 -9,6 -3,2 -6,0 -12-3 -6-3 -12-7 -7-6 -8-12 -6-5 -6-2 -15,0 -3-1 -3-3 -3-4 -1-6 1-3 3-6 12-12 4-9 5-21 0-6 -2-18zM504,86l6-1 6,1 4,1 4,3 2,3 0,6 -2,6 -3,3 -5,2 -3,0 -6-2 -4-3 -2-6 -1-6 1-3 2-3zM507,90l-2,3 -1,3 1,6 2,3 3,2 3,1 3,0 3-1 3-5 1-3 0-3 -2-3 -2-3 -3-1 -6,0 -3,1zM753,171l6-2 6,1 7,4 6,6 3,6 1,6 -1,6 -4,5 -6,3 -3,0 -6-1 -6-3 -6-7 -3-6 -1-6 1-6 3-4 3-2zM753,174l-3,3 -2,6 0,3 3,6 5,5 6,3 6,0 3-2 3-3 2-6 -1-6 -2-3 -3-3 -5-3 -6-2 -3,1z"/>
<path fill="#69BAD1" d="M24,-4l0-2 5,0 -3,9 -3,9 0,9 0,6 4,9 3,3 3,3 3,1 3,0 3-1 11-6 6-6 1-3 1-6 -4-27 5,0 0,12 2,18 -2,6 -5,6 -18,12 -3,1 -3-2 -3-2 -5-6 -3-6 -2-6 0-9 4-21zM111,-6l4,0 5,9 6,7 18,14 15,15 6,9 3,9 1,6 -1,6 -3,3 -13,9 -8,11 -3,2 -6,0 -21-4 -9,0 -6,2 -8,4 -7,6 -5,6 -4,9 -2,9 1,6 3,9 3,6 7,6 9,5 9,3 6,0 9-2 6-2 6-5 3-5 3-9 5-30 1-5 3-3 6,0 6,1 7,4 2,3 1,3 0,18 2,6 3,5 3,4 3,2 6,2 9-2 18-6 18-5 9-4 15-9 15-5 6-4 3-3 8-11 3-3 5-3 5-1 6,1 6,4 4,5 8,14 6,7 6,3 3,0 3-1 24-23 12-16 10-20 5-7 6-6 10-8 3-3 3-9 3-15 0-9 -1-15 5,0 -1,6 2,18 0,15 0,6 -3,6 -3,3 -18,10 -5,5 -5,6 -8,18 -4,6 -14,15 -12,9 -3,3 -3,7 -3,3 -6,1 -6-3 -7-8 -8-15 -4-6 -5-3 -6-1 -4,1 -4,3 -10,15 -3,3 -6,5 -18,6 -18,10 -12,5 -33,8 -9,0 -6-3 -7-10 -2-9 -1-12 -3-6 -2-3 -3-1 -6,0 -3,1 -4,6 -6,27 -3,9 -3,6 -5,4 -9,4 -6,2 -9,1 -6-1 -6-2 -12-5 -6-5 -8-10 -3-9 -1-9 1-9 3-9 4-6 7-7 7-5 11-6 6-2 6-1 18,5 6,1 6-2 6-3 9-8 9-5 3-3 1-3 -1-6 -3-6 -14-18 -10-10 -15-9 -3-3 -12-17zM675,-6l4,0 -3,18 0,15 -3,33 2,6 11,15 6,15 4,5 15,8 9,2 6,1 9-3 6-4 13-15 18-18 14-13 9-9 6-4 3,0 3,3 6,11 2,6 1,12 3,6 3,3 6,2 3,0 4-2 6-9 7-18 8-12 3-6 6-21 3-18 4-9 13,0 -5,6 -4,8 -6,31 -3,9 -4,6 -10,9 -7,15 -4,6 -5,5 -3,1 -6,0 -6-2 -4-4 -4-6 -2-12 -2-6 -3-5 -3-3 -3,0 -3,1 -4,4 -16,21 -10,4 -3,3 -6,5 -12,15 -6,6 -6,4 -3,1 -6,0 -6-1 -9-2 -15-8 -6-6 -9-16 -6-5 -6-2 -15-1 -2-3 0-3 1-3 10-11 5-10 4-24 1-27zM903,-6l3,0 3,12 3,9 7,12 5,6 3,1 6,1 12-4 0,5 -15,3 -6-1 -3-2 -5-6 -8-15 -4-15 -4-6zM507,90l3-1 6,0 3,1 2,3 2,3 0,3 -1,3 -3,5 -3,1 -3,0 -3-1 -3-2 -2-3 -1-6 1-3 2-3zM510,93l-2,3 -1,3 1,3 4,3 4,0 3-3 1-3 -1-3 -3-3 -3-1zM756,173l3-1 6,2 5,3 3,3 2,3 1,6 -2,6 -3,3 -3,2 -6,0 -6-3 -5-5 -3-6 0-3 2-6 3-3zM753,177l-2,3 -1,3 1,3 2,4 3,3 6,2 3-1 3-1 2-4 0-3 -2-6 -3-3 -3-2 -3,0 -3,0z"/>
<path fill="#6DC2C4" d="M30,-6l5,0 -5,7 -3,7 -1,7 0,9 3,9 4,4 3,2 6,0 7-3 7-6 2-6 1-6 -2-10 -3-8 -4-6 7,0 2,9 2,18 -1,7 -4,5 -3,3 -8,5 -6,2 -3,0 -6-4 -4-6 -3-6 0-6 0-9 3-9 3-9zM117,-6l4,0 5,9 4,6 7,6 23,18 5,5 2,4 6,21 0,6 -2,5 -3,3 -12,7 -2,3 0,3 2,3 12,5 4,4 2,6 -3,18 0,6 3,5 3,3 3,2 6,2 9-2 18-9 15-2 9-4 18-10 18-7 3-3 9-11 6-4 6-2 9,0 6,3 5,6 9,15 4,5 6,3 6,0 13-11 9-9 8-14 9-13 10-21 11-15 9-19 2-8 1-3 -2-15 5,0 1,21 -3,18 -3,9 -3,3 -10,8 -6,6 -5,7 -10,20 -12,16 -24,23 -3,1 -3,0 -6-3 -6-7 -8-14 -4-5 -6-4 -6-1 -5,1 -5,3 -3,3 -8,11 -3,3 -6,4 -15,5 -15,9 -9,4 -18,5 -18,6 -9,2 -6-2 -3-2 -3-4 -3-5 -2-6 0-18 -1-3 -2-3 -7-4 -6-1 -6,0 -2,2 -2,3 -4,30 -2,9 -3,6 -5,5 -6,3 -6,2 -9,1 -6-1 -12-5 -7-5 -5-6 -4-9 -1-9 2-9 4-9 5-6 7-6 8-4 6-2 9,0 21,4 6,0 3-2 8-11 13-9 3-3 1-6 -1-6 -3-9 -6-9 -15-15 -18-14 -6-7 -5-9zM103,99l-6,3 -4,3 -7,9 -3,9 0,6 1,6 2,6 4,5 5,4 4,2 12,4 6,0 6-2 6-3 3-3 3-5 2-5 1-15 0-9 -1-6 -1-3 -3-3 -7-4 -12-1 -9,1zM681,-6l4,0 -2,9 -3,9 0,3 2,12 -1,9 3,21 3,12 3,7 7,20 3,3 8,5 6,3 6,1 9-1 4-2 5-4 13-14 35-32 11-13 5-9 2-2 3-1 5,0 3,3 -3,18 2,3 5,6 0,3 -1,12 1,6 2,3 4,3 3,1 3-1 3-3 3-6 4-24 7-24 7-15 1-12 3-9 13,0 -4,9 -3,18 -6,21 -3,6 -8,12 -7,18 -6,9 -4,2 -3,0 -6-2 -3-3 -3-6 -1-12 -2-6 -6-11 -3-3 -3,0 -6,4 -9,9 -14,13 -18,18 -13,15 -6,4 -9,3 -6-1 -9-2 -15-8 -4-5 -6-15 -9-12 -4-6 0-6 3-33 0-12 3-18zM909,-6l2,0 0,9 4,9 7,12 5,5 3,1 3,0 12-5 0,6 -9,3 -6,1 -6-2 -3-3 -6-9 -6-14 -3-13zM513,92l3,1 3,3 1,3 -1,3 -3,3 -4,0 -4-3 -1-3 1-3 2-3zM512,99l1,2 2-2 -2-2zM756,175l3,0 3,0 3,2 3,3 2,6 0,3 -2,4 -3,1 -3,1 -6-2 -3-3 -2-4 -1-3 1-3 2-3zM754,180l-1,4 0,2 3,3 3,1 3,0 2-1 2-3 -1-3 -1-3 -5-2 -3,0z"/>
<path fill="#70C8B6" d="M33,-3l2-3 15,0 1,1 4,8 3,9 1,9 -2,7 -1,2 -5,4 -9,5 -6,0 -3-2 -3-3 -2-4 -2-6 0-9 2-9 2-5 3-4zM36,0l-3,3 -2,3 -3,6 0,9 2,7 3,5 3,2 3,1 6-1 6-3 4-5 1-6 0-6 -2-8 -3-5 -3-2 -3-2 -6,0 -3,2zM123,-6l3,0 4,9 8,9 12,9 18,12 3,3 2,3 1,15 3,6 1,6 0,6 -1,15 7,15 1,6 -2,3 -6,5 -3,5 -2,8 2,5 3,4 3,2 6,0 3,0 6-3 15-13 3-1 12,3 6-1 5-2 19-12 15-6 3-2 6-7 8-6 4-2 6-1 9,1 6,2 3,2 3,4 9,15 6,7 6,2 6-2 9-7 6-6 3-6 5-12 11-15 3-6 1-6 1-15 1-6 12-18 10-9 1-3 -2-15 6,0 2,15 -1,3 -2,8 -9,19 -11,15 -10,21 -9,13 -8,14 -9,9 -13,11 -6,0 -6-3 -4-5 -9-15 -5-6 -6-3 -9,0 -6,2 -6,4 -9,11 -3,3 -18,7 -18,10 -9,4 -15,2 -18,9 -9,2 -6-2 -3-2 -3-3 -3-5 0-6 3-18 -2-6 -4-4 -12-5 -2-3 0-3 2-3 12-7 3-3 2-5 0-6 -6-21 -2-4 -5-5 -23-18 -7-6 -4-6 -5-9zM687,-6l6,0 -2,18 4,21 -1,21 0,6 3,9 1,15 2,6 6,9 5,4 9,1 6-1 7-4 12-12 17-13 22-20 8-12 6-15 15-21 3-3 15-9 28,0 -3,9 -1,12 -7,15 -7,24 -4,24 -3,6 -3,3 -3,1 -3-1 -4-3 -2-3 -1-6 1-12 0-3 -5-6 -2-3 3-18 -3-3 -5,0 -3,1 -2,2 -5,9 -11,13 -35,32 -13,14 -5,4 -4,2 -9,1 -6-1 -6-3 -8-5 -3-3 -7-20 -4-10 -2-9 -2-18 0-12 -2-12 0-3 3-9 2-9zM824,72l-2,4 0,6 3,3 3,0 3-3 1-4 -1-6 -3-2 -3,1zM912,-6l5,0 -1,9 5,10 9,10 3,0 12-8 0,10 -9,4 -6,1 -3-1 -3-2 -9-15 -4-9 0-9zM105,98l9-1 12,1 7,4 3,3 1,3 1,6 0,9 -1,15 -2,5 -3,5 -3,3 -6,3 -6,2 -6,0 -12-4 -4-2 -5-4 -4-5 -2-6 -1-6 0-6 3-9 7-9 4-3 6-3zM107,105l-8,5 -5,7 -3,9 1,9 4,6 6,6 6,3 6,1 9-1 6-3 3-3 3-6 1-12 -2-12 -2-5 -3-3 -3-1 -9-2 -9,1zM513,97l2,2 -2,2 -1-2zM756,178l3,0 5,2 1,3 1,3 -2,3 -2,1 -3,0 -3-1 -3-3 0-2 1-4zM756,183l3,3 2-3 -2-2 -3,2z"/>
<path fill="#72CAA9" d="M129,-6l2,0 2,6 4,6 7,7 12,8 18,8 4,4 2,6 1,15 6,24 14,33 12,4 9,5 6,1 4-1 5-3 12-11 6-3 12-5 18-11 6-2 6-1 12,2 8,4 4,5 9,16 6,5 3,1 3,0 6-2 8-7 4-6 3-13 2-5 10-12 3-5 1-4 -1-6 -3-6 -3-2 -12-4 -3-3 -1-3 1-6 2-3 4-2 12-3 9-5 9-8 4-6 2-6 0-6 7,0 2,15 -3,5 -9,8 -11,17 -1,6 -1,15 -2,9 -4,6 -9,12 -5,12 -3,6 -6,6 -9,7 -6,2 -6-2 -6-7 -9-15 -3-4 -3-2 -6-2 -9-1 -6,1 -4,2 -8,6 -6,7 -3,2 -15,6 -19,12 -5,2 -6,1 -12-3 -3,1 -15,13 -6,3 -3,0 -6,0 -3-2 -3-4 -2-5 2-8 3-5 6-5 2-3 -1-6 -7-15 1-15 0-6 -1-6 -3-6 -1-15 -2-3 -3-3 -18-12 -12-9 -8-9 -4-9zM186,117l-6,2 -3,2 -3,5 0,3 0,3 3,3 3,2 6,0 4-2 4-3 3-6 1-6 -3-3 -9,0zM693,-6l7,0 5,27 0,12 -3,24 -1,21 1,6 2,6 4,7 3,2 6,2 6-2 3-1 6-4 10-10 17-10 13-11 9-9 5-6 3-6 5-15 9-21 7-12 21,0 -15,9 -3,3 -15,21 -4,12 -3,6 -10,12 -22,20 -14,10 -12,12 -7,4 -6,1 -9-1 -5-4 -6-9 -2-6 -1-15 -3-9 0-6 1-21 -4-21 2-18zM918,-6l27,0 0,21 -12,8 -3,0 -3-3 -6-7 -3-5 -2-5 1-9zM36,0l3-2 6,0 3,2 3,2 3,5 2,8 0,6 -1,6 -4,5 -6,3 -6,1 -3-1 -3-2 -3-5 -2-7 0-9 3-6 2-3 3-3zM39,3l-3,1 -3,3 -2,5 0,6 1,6 3,6 4,3 3,1 6-3 3-3 2-4 1-6 -1-6 -2-4 -3-3 -6-2zM825,71l3-1 3,2 1,6 -1,4 -3,3 -3,0 -3-3 0-6 2-4zM108,104l9-1 9,2 3,1 3,3 2,5 2,12 -1,12 -3,6 -3,3 -6,3 -9,1 -6-1 -6-3 -6-6 -4-6 -1-9 3-9 5-7 8-5zM110,111l-5,3 -4,6 -2,6 0,6 1,3 5,6 6,4 6,2 6-1 3-1 3-1 3-4 2-5 0-9 -2-9 -3-4 -6-4 -6,0 -6,1zM756,183l3-2 2,2 -2,3 -3-3z"/>
<path fill="#74CC9D" d="M132,-6l4,0 3,9 5,6 3,3 12,7 15,5 6,3 3,3 3,6 1,3 1,15 1,6 5,12 4,7 9,11 11,18 5,6 5,2 5-2 10-16 3-3 3-2 18-3 18-7 9-2 12,1 6,2 6,3 3,3 11,18 4,5 3,2 3,0 6-2 6-5 4-6 1-6 -1-9 1-3 2-3 11-11 2-4 1-3 -1-3 -2-3 -3-3 -12-5 -4-4 -3-6 1-7 3-5 4-3 15-6 11-8 5-7 2-9 8,0 0,6 -2,6 -2,3 -5,6 -9,7 -6,3 -12,3 -4,2 -2,3 -1,6 1,3 3,3 12,4 3,2 3,6 1,6 -1,4 -3,5 -10,12 -2,5 -3,13 -4,6 -8,7 -6,2 -3,0 -3-1 -6-5 -9-16 -4-5 -8-4 -12-2 -6,1 -6,2 -18,11 -12,5 -6,3 -12,11 -5,3 -4,1 -6-1 -9-5 -12-4 -14-33 -6-24 -1-15 -2-6 -4-4 -18-8 -13-9 -8-9 -4-9zM702,-6l5,0 4,21 0,15 -4,30 -1,18 2,12 3,5 3,2 6-1 19-15 14-5 6-3 9-7 9-9 5-6 5-9 7-24 4-15 3-9 9,0 -7,12 -9,21 -5,15 -3,6 -5,6 -9,9 -13,11 -17,10 -10,10 -6,4 -3,1 -6,2 -6-2 -4-3 -4-9 -1-6 0-24 3-30 -1-9 -4-24zM42,3l6,2 3,3 2,4 1,6 -1,6 -2,4 -3,3 -6,3 -3-1 -4-3 -3-6 -1-6 0-6 2-5 3-3 3-1zM36,9l-2,3 0,3 0,6 2,6 3,3 3,1 3-1 3-2 3-7 0-6 -1-3 -2-3 -3-1 -3-1 -3,0 -3,2zM111,110l6-1 6,0 6,4 3,4 2,9 0,9 -2,5 -3,4 -3,1 -3,1 -6,1 -6-2 -6-4 -5-6 -1-3 0-6 2-6 4-6 5-3zM112,117l-3,3 -3,6 1,6 1,3 3,4 6,3 6,1 6-3 3-4 1-7 -1-4 -3-6 -3-4 -3-1 -3,0 -6,2zM186,117l9,0 3,3 -1,6 -3,6 -4,3 -4,2 -6,0 -3-2 -3-3 0-3 0-3 3-5 3-2 6-2zM179,123l-3,3 -1,3 1,3 4,2 3,0 3-1 3-4 0-3 -3-3 -3-1 -3,1z"/>
<path fill="#76CE90" d="M138,-6l3,0 3,9 6,7 9,5 18,7 9,6 3,4 2,4 3,18 4,9 6,8 6,4 15,7 6,1 18-1 15,1 27-5 9,0 12,3 6,2 6,4 4,6 7,15 3,3 4,2 3,0 4-2 3-3 4-6 0-3 0-3 -7-9 1-3 13-12 5-6 0-3 -2-3 -12-10 -7-8 -1-6 1-6 4-6 4-3 13-6 7-6 6-6 3-9 7,0 -2,9 -4,6 -12,9 -16,6 -3,3 -3,6 -1,6 1,3 3,5 6,4 9,3 3,3 2,3 1,3 -1,3 -2,4 -11,11 -2,3 -1,3 1,9 -1,6 -4,6 -3,3 -6,4 -3,0 -5-1 -5-6 -9-15 -5-6 -9-4 -6-1 -9-1 -9,2 -18,7 -18,3 -3,2 -3,3 -10,16 -5,2 -5-2 -5-6 -11-18 -9-11 -4-7 -5-12 -1-6 -1-15 -1-3 -3-6 -3-3 -6-3 -15-5 -12-7 -3-3 -5-6 -3-9zM708,-6l4,0 3,24 1,9 -4,48 2,13 3,1 8-5 12-6 19-5 9-6 10-10 7-9 4-9 6-24 3-21 6,0 -3,9 -4,15 -6,21 -4,9 -5,6 -11,12 -9,7 -6,3 -14,5 -19,15 -6,1 -3-2 -2-2 -2-6 -1-6 1-18 4-27 1-12 -1-9 -4-21zM36,9l3-2 3,0 3,1 3,1 2,3 1,3 0,6 -3,7 -3,2 -3,1 -3-1 -3-3 -2-6 0-6 0-3 2-3zM41,12l-2,1 -1,2 0,3 1,6 3,2 3-1 1-1 2-6 -1-3 -2-2 -3-1zM114,116l6-2 3,0 3,1 3,4 3,6 1,4 -1,7 -3,4 -6,3 -6-1 -6-3 -3-4 -1-3 -1-6 3-6 3-3zM119,120l-4,3 -1,2 -1,4 1,3 2,3 4,3 6,0 3-3 1-6 0-3 -4-5 -3-1 -3,0zM180,123l3-1 3,1 3,3 0,3 -3,4 -3,1 -3,0 -4-2 -1-3 1-3 3-3zM178,129l2,2 3-2 -3-2z"/>
<path fill="#74CC83" d="M141,-6l5,0 2,6 2,3 6,6 6,4 15,6 12,8 4,6 5,16 3,7 6,7 6,4 12,6 12,2 30,2 27-3 9,1 12,3 9,3 4,3 7,6 3,15 4,5 3,1 5-3 3-6 -1-3 -1-2 -7-4 -3-3 0-3 4-6 13-12 2-3 0-3 -1-3 -4-6 -11-12 -2-6 0-6 2-3 4-5 15-8 6-5 4-6 3-9 8,0 -3,9 -6,6 -7,6 -13,6 -4,3 -4,6 -1,6 1,6 7,8 12,10 2,3 0,3 -5,6 -13,12 -1,3 7,9 0,3 0,3 -4,6 -3,3 -4,2 -3,0 -4-2 -3-3 -7-15 -4-6 -6-4 -6-2 -12-3 -9,0 -27,5 -15-1 -18,1 -6-1 -15-7 -6-4 -6-8 -4-9 -3-18 -2-4 -3-4 -9-6 -18-7 -10-6 -5-6 -3-9zM714,-6l2,0 1,12 2,15 -2,18 2,27 1,4 3,4 6,1 21-1 6-2 9-6 9-9 6-9 4-9 5-27 2-18 4,0 -3,21 -6,24 -4,9 -7,9 -10,10 -9,6 -19,5 -12,6 -8,5 -3-1 -2-10 0-12 4-42 -4-30zM42,12l3,1 2,2 1,3 -2,6 -1,1 -3,1 -3-2 -1-6 0-3 1-2 2-1zM120,120l3,0 3,1 4,5 0,3 -1,6 -3,3 -6,0 -4-3 -2-3 -1-3 1-4 1-2 4-3zM121,129l2,3 3,0 1-3 -1-2 -3-1zM180,127l3,2 -3,2 -2-2z"/>
<path fill="#70C876" d="M147,-6l6,0 1,6 2,3 7,6 14,7 15,10 3,4 5,12 4,8 9,9 9,5 15,5 24,3 12,0 18-2 12,0 30,9 6-1 9-6 5-6 1-3 1-3 -3-6 -10-9 -4-6 -1-6 1-6 5-6 5-3 12-5 4-4 4-6 2-9 6,0 -3,9 -4,6 -6,5 -15,8 -4,5 -2,3 0,6 2,6 11,12 4,6 1,3 0,3 -2,3 -13,12 -4,6 0,3 3,3 7,4 1,2 1,3 -3,6 -5,3 -3-1 -4-5 -3-15 -7-6 -4-3 -9-3 -12-3 -9-1 -27,3 -30-2 -12-2 -12-6 -6-4 -6-7 -3-7 -5-16 -4-6 -12-8 -15-6 -6-4 -6-6 -2-3 -2-6zM717,-6l3,0 0,15 2,15 -2,15 2,18 1,6 3,4 6,4 15,1 9-1 6-3 9-8 4-6 4-6 3-9 4-24 1-6 0-15 4,0 -2,18 -4,24 -3,9 -6,9 -8,10 -6,4 -6,4 -6,2 -21,1 -6-1 -2-2 -2-3 -1-6 -1-24 2-18 -2-15 -1-12zM123,126l3,1 1,2 -1,3 -3,0 -2-3z"/>
<path fill="#6EC669" d="M153,-6l6,0 1,3 3,6 5,5 28,16 3,6 3,9 5,7 9,7 14,7 10,3 27,4 9-1 18-1 9,0 9,2 12,5 6,1 6-1 9-4 5-5 1-5 -1-4 -2-2 -9-4 -6-6 -2-6 0-6 1-3 4-6 3-3 6-3 12-3 3-3 2-3 1-6 0-6 7,0 -2,9 -4,6 -4,4 -12,5 -5,3 -5,6 -1,6 1,6 4,6 10,9 3,6 -1,3 -1,3 -5,6 -9,6 -6,1 -30-9 -12,0 -18,2 -12,0 -24-3 -15-5 -9-5 -9-9 -3-5 -4-12 -4-6 -3-3 -13-8 -14-7 -7-6 -2-3 -1-6zM723,-6l1,0 -1,15 1,15 -1,15 4,21 4,6 4,2 15,3 6-1 9-6 7-7 6-9 3-12 3-24 -1-18 4,0 0,15 -1,6 -4,24 -3,9 -4,6 -4,6 -9,8 -6,3 -9,1 -15-1 -6-4 -3-4 -1-6 -2-18 2-15 -2-15 0-15z"/>
<path fill="#6BC15C" d="M159,-6l7,0 1,6 4,6 9,5 6,5 12,3 3,2 2,3 2,12 2,3 15,8 15,9 6,1 30,5 9-1 18-4 6,0 6,2 9,6 3,1 3,0 3,0 9-3 5-3 2-3 -1-2 -9-2 -3-1 -5-4 -5-6 -2-3 0-6 2-9 5-6 8-6 6-2 13-1 2-3 0-6 -1-6 7,0 0,9 -3,6 -3,3 -12,3 -6,3 -3,3 -4,6 -1,3 0,6 2,6 6,6 9,4 2,2 1,4 -1,5 -5,5 -9,4 -6,1 -6-1 -12-5 -9-2 -9,0 -18,1 -9,1 -27-4 -10-3 -14-7 -9-7 -5-7 -3-9 -3-6 -28-16 -5-5 -3-6 -1-3zM726,-6l2,0 -2,12 1,15 -1,15 3,21 3,6 3,2 6,3 9,2 6-1 9-5 6-7 5-9 3-9 2-18 0-12 -2-15 4,0 1,18 -3,24 -3,12 -6,9 -7,7 -9,6 -6,1 -15-3 -4-2 -4-6 -4-21 1-15 -1-18 1-12z"/>
<path fill="#68BC51" d="M168,-6l8,0 1,6 2,3 7,5 3,2 3-1 3-2 6-6 3-2 3-1 3,0 6,1 18,8 6,5 2,3 0,3 -1,6 -3,9 0,6 2,3 3,3 5,3 19,7 9,1 6,0 5-2 9-6 4-6 6-16 7-11 8-9 13-9 2-3 20,0 1,6 0,6 -2,3 -13,1 -9,4 -6,5 -5,8 -1,9 2,6 2,3 8,7 3,1 9,2 1,2 -2,3 -5,3 -9,3 -3,0 -3,0 -3-1 -9-6 -6-2 -6,0 -18,4 -9,1 -30-5 -6-1 -15-9 -15-8 -2-3 -2-12 -2-3 -3-2 -12-3 -6-5 -9-5 -4-6 -1-6zM729,-6l3,0 -2,6 -1,9 -1,27 2,18 3,6 5,5 9,3 6,1 6-2 6-4 5-6 5-9 3-12 1-15 -1-15 -3-12 4,0 2,15 0,12 -2,18 -3,9 -5,9 -6,7 -9,5 -6,1 -9-2 -6-3 -3-2 -3-6 -3-21 1-15 -1-15 2-12z"/>
<path fill="#66B646" d="M177,-6l159,0 -2,3 -13,9 -8,9 -7,11 -6,16 -4,6 -9,6 -5,2 -6,0 -9-1 -19-7 -5-3 -3-3 -2-3 0-6 3-9 1-6 0-3 -2-3 -6-5 -18-8 -6-1 -3,0 -3,1 -3,2 -6,6 -3,2 -3,1 -3-2 -7-5 -2-3 -1-6zM279,3l-15,21 -3,6 0,6 1,3 3,6 3,3 5,3 3,0 6-2 3-2 3-5 2-6 0-6 -2-12 -3-11 -3-5 -3,1zM732,-6l4,0 -3,6 -2,12 -1,27 2,15 3,5 3,3 6,4 6,1 6,0 8-4 5-6 5-9 2-12 1-15 -3-18 -4-9 5,0 2,6 1,9 0,18 -1,12 -2,9 -5,9 -5,6 -6,4 -6,2 -6-1 -9-3 -5-5 -3-6 -2-18 1-27 1-9 2-6z"/>
<path fill="#64B23C" d="M735,-4l1-2 7,0 -6,6 -2,5 -2,7 -1,30 1,9 2,6 3,3 6,4 6,2 6,0 6-3 4-3 2-3 4-6 2-6 1-9 0-9 -1-9 -3-15 -3-4 -5-5 7,0 3,6 2,9 2,12 0,12 -1,9 -3,9 -4,6 -4,5 -6,4 -3,1 -3,1 -6-1 -6-3 -6-4 -1-3 -2-6 -2-15 1-27 1-6 3-6zM279,3l3-1 3,5 3,11 2,12 0,6 -2,6 -3,5 -3,2 -6,2 -3,0 -5-3 -3-3 -3-6 -1-3 0-6 3-6 15-21z"/>
<path fill="#63AE3B" d="M741,-4l2-2 20,0 5,5 3,5 3,14 1,15 -2,15 -5,9 -6,6 -6,3 -3,1 -4-1 -7-3 -4-3 -3-3 -2-6 -1-9 1-27 2-10 2-5 3-3zM751,-3l-4,1 -6,4 -5,7 -1,5 -1,13 0,18 2,9 4,6 4,3 6,2 6,0 5-2 4-3 4-6 2-6 2-6 1-12 -2-15 -4-10 -3-3 -3-3 -3-1 -6-1z"/>
<path fill="#61AC39" d="M753,-3l6,1 3,1 3,3 3,3 4,10 2,15 -1,12 -2,6 -2,6 -4,6 -4,3 -5,2 -6,0 -6-2 -4-3 -4-6 -2-9 0-18 1-13 1-5 5-7 6-4 4-1zM747,3l-6,4 -4,5 -2,18 0,18 3,7 4,5 5,2 6,2 6-1 7-6 2-4 2-5 2-15 -1-11 -3-10 -3-5 -3-2 -6-3 -6,0 -3,1z"/>
<path fill="#60A838" d="M747,3l3-1 6,0 6,3 3,2 3,5 3,10 1,11 -2,15 -2,5 -2,4 -7,6 -6,1 -6-2 -5-2 -4-5 -3-7 0-18 2-18 4-5 6-4zM744,9l-3,2 -2,4 -2,12 -1,15 1,9 4,6 6,4 6,1 3,0 6-3 3-4 2-4 3-12 1-9 -3-12 -3-6 -6-4 -3-1 -6,0 -6,2z"/>
<path fill="#64A836" d="M744,9l6-2 6,0 3,1 6,4 3,6 3,12 -1,9 -3,12 -2,4 -3,4 -6,3 -3,0 -6-1 -6-4 -4-6 -1-9 1-15 2-12 2-4 3-2zM747,12l-4,3 -2,3 -3,9 -1,12 1,9 2,6 4,4 6,2 6,0 5-3 4-6 3-12 1-9 -2-9 -5-7 -6-3 -6,0z"/>
<path fill="#69A834" d="M750,11l6,0 6,3 5,7 2,9 -1,9 -3,12 -4,6 -5,3 -6,0 -6-2 -4-4 -2-6 -1-9 1-12 3-9 2-3 4-3zM746,18l-5,6 -2,6 0,12 1,9 4,5 3,2 6,0 3-1 3-2 3-5 5-11 1-6 -1-6 -2-4 -3-4 -3-2 -6-1 -6,1z"/>
<path fill="#6EA831" d="M747,17l6-1 6,1 3,2 3,4 2,4 1,6 -1,6 -5,11 -3,5 -3,2 -3,1 -6,0 -3-2 -4-5 -1-9 0-12 2-6 5-6zM749,21l-5,3 -3,5 -1,16 1,3 4,6 2,1 3,0 3-1 6-6 4-6 2-6 0-6 -2-6 -4-3 -6-1 -3,0z"/>
<path fill="#77AA30" d="M750,20l3,0 6,1 4,3 2,6 0,6 -2,6 -4,6 -6,6 -3,1 -3,0 -2-1 -4-6 -1-3 1-16 3-5 5-3zM752,24l-5,2 -3,3 -2,7 0,6 2,7 3,3 3-1 9-8 3-4 1-3 0-6 -2-3 -2-2 -6-1z"/>
<path fill="#86AF30" d="M753,24l6,1 2,2 2,3 0,6 -1,3 -3,4 -9,8 -3,1 -3-3 -2-7 0-6 2-7 3-3 5-2zM747,30l-1,3 -1,3 0,6 2,3 3,1 6-3 3-4 2-3 0-3 -2-3 -3-2 -3,0 -3,0z"/>
<path fill="#94B430" d="M750,28l3,0 3,0 3,2 2,3 0,3 -2,3 -3,4 -6,3 -3-1 -2-3 0-6 1-3 1-3zM751,33l-2,3 1,3 3,1 3-2 1-2 -1-3 -3-1z"/>
<path fill="#A2B930" d="M753,32l3,1 1,3 -1,2 -3,2 -3-1 -1-3 2-3z"/>
</g>
</g>
<polyline points="0,88 12.5,87 30.5,97 64,55.5 117.5,117 129,145 177.5,258 195.5,265 239,298 258.5,298 268.5,267 300.5,262.5 370,174.5 405,173.5 436.5,186.5 459,186.5 487.5,143.5 538.5,143.5 585,202 648.5,253 697,250 753,217.5 779.5,148.5 830.5,148.5 859.5,109 936.5,106.5" fill="none" stroke="#111" stroke-width="0.9"/>
<g stroke="#222" stroke-opacity="0.28" stroke-width="0.8" clip-path="url(#cp)">
<line x1="64.7" y1="0" x2="64.7" y2="367"/>
<line x1="257.6" y1="0" x2="257.6" y2="367"/>
<line x1="450.5" y1="0" x2="450.5" y2="367"/>
<line x1="643.4" y1="0" x2="643.4" y2="367"/>
<line x1="836.3" y1="0" x2="836.3" y2="367"/>
<line x1="0" y1="146.7" x2="936" y2="146.7"/>
</g>
<g clip-path="url(#cp)"><g fill="none" stroke="#0a0a0a" stroke-width="1.7" stroke-linejoin="round" mask="url(#lm2)">
<path d="M661.6,306 667.5,291 670.9,279 672,270 672.1,258 675.1,255 684,251 685.8,249 687.1,246 687.1,243 686.2,240 680.2,228 677.9,222 677.6,219 678.2,216 681,209 681.3,207 681,203.3 678,199 669,193.7 667,192 665.1,189 664.4,186 664.3,183 665.6,174 664.3,171 663,169.7 660,168.4 654,167.5 648.1,168 645,169.5 643.3,171 641.8,174 641.3,180 643.4,192 643,195 633,203.3 630,204.1 627,202.5 624,198.5 621,192 610.1,159 606,149.6 603,144.6 600,145.8 594,149.4 588,149.5 587.6,150 587.3,153 588,156.6 589.1,159 589.3,162 588.9,165 586.8,171 581,183 577.1,189 573,194.2 550.9,219 548.7,222 536.3,240 522,267.1 519,271.7 516,274.1 513,274.3 510,271.8 504,265.1 495.1,258 490.7,252 483,245.2 477,242.6 474,241.8 471,241.3 465,242.3 462,241.7 456,237.3 453,230.8 450,232.3 447.6,237 441,244.2 438.4,246 438,246.9 435,245.9 432,248.1 430.3,246 429,243.1 429.1,240 430.1,237 429,230.5 426,229.4 423,229.8 414,229.5 408,229.9 399,231 396,231.9 393,233.6 390,233.5 366,222.5 357,217.4 345.6,210 342,208.3 339,207.6 333,208.7 327,208.7 321,207.4 312,204.1 306,203.4 302.8,204 296.9,207 293.6,210 285,220.1 279,225.2 273,228.2 258,231.9 255,233.6 252.3,237 248.8,246 245.2,261 243.9,270 242.5,288 241.5,294 240,298.2 234.7,306M513,17.7 510,20.4 509.5,24 511.1,27 513,28.6 516,29 519,27.3 520.5,24 520.2,21 519,19.5 516,17.6 513,17.7M576,41.9 573,42 570,43 567,44.8 565.5,48 565.4,51 567,57.2 570,59.9 573,60.8 576,59.6 578.3,57 579.6,54 580.1,51 579.4,45 579,44 576,41.9M513,125.9 510,126.5 507,127.9 504,130.7 502.2,135 502.4,138 504,141.1 510,146.9 516,150.8 519,152 522,152.4 528,151.4 531,149.9 534,147.6 536.1,144 535.9,141 534,137 531,133.5 528,130.9 525.2,129 522,127.6 516,125.9ZM438,168.8 435,171.5 433.9,174 433.1,177 432.6,183 432.8,186 435,191 438,192.6 441,191.6 444,189.1 445.7,186 446.3,183 446,177 445.3,174 444,170.9 441,168.5ZM714,218.1 711,220.1 709.7,222 708.5,225 707.3,231 706.8,240 709.2,243 711,243.6 714,243.8 717,242.9 720,241 723,237.2 723.9,234 724,231 722.8,225 720,220.6 717,218.6ZM660,244.4 663,246.8 664.8,249 666,252 663,253.3 660,252.3 658.8,249 659.1,246ZM201,251.7 198,253.9 196.2,258 195.8,261 196.8,264 198,265.9 201,267.8 204,268.1 207.2,267 208.5,264 207.5,258 206,255 204,252.7 201,251.7"/>
<path d="M483.4,-6 481.7,0 481.4,3 481.8,9 483.7,15 498.4,39 500.3,45 502.1,54 504.5,60 506.5,63 509.5,66 513,67.7 516,68.2 519,67.9 522,66.9 523.7,66 526.6,63 528,60 529.5,54 531.9,36 534,29.9 537,25.4 540,22.6 543,20.9 546,20 549,20.3 552,22.7 552.7,24 554.8,30 555.1,36 547.8,75 547.2,81 547.3,87 548.9,96 551.2,102 555,107.5 564,116.3 566.9,120 570.3,126 572.4,132 573.5,141 573.5,153 573,160.4 572,165 570,170.1 567,173.8 564,174.8 561,174.6 558,173.7 555,171.7 551.8,168 549,160.8 547.1,147 543.7,135 540.9,129 535.9,123 532,120 528,118.5 522,117.9 510,118.1 504,118.9 501,120 497,123 495.1,126 494.1,129 493.8,132 493.9,141 492,147 489,152.1 481.6,162 477,174.4 474,178.1 471,179.8 468.6,177 472.7,168 473.5,165 474.5,159 474.6,153 472.2,135 471,120.6 468.6,114 462,105.5 447,90.6 442.7,87 435,81.7 427.4,75 423.1,72 417,69.2 411,67.9 408,67.9 405,68.5 402,70.1 399,73.5 397.4,78 397.1,81 398.1,87 399,88.9 402,92 412.3,96 417.2,99 419.5,102 420.6,105 421.3,111 419.7,132 414,166.4 412.4,171 411,173.3 408,175.1 402,176.5 393,177.6 366,179.8 363,179.5 360,178.2 354,173.9 348,170.8 339,168.5 330,167.4 324,167.6 306,169.9 291,171.1 285,172.2 280.7,174 276.3,177 263.4,189 246.8,201 240.9,207 234,216.2 231,219.1 228,219.7 225,217 217.1,204 214.4,201 210,197.6 204,195.2 192,193.8 186,192.1 179,189 165,181 162,179.9 156,179.5 153,180.4 150,182.6 147.2,186 129,214.7 123,223.1 120,226.1 117,228.1 114,227.8 111,229.6 96,242.8 93,244.6 84,248.1 69,256.8 60,260.5 57,259.2 54,254.3 51,253.7 45,254.9 36,259.4 18,263.1 15,263.3 13,261 12,257.2 9,254.4 6,254.9 0,256.8 -3,257.1 -6,256.7M602.2,-6 605.1,3 606.4,6 608.7,9 612.2,12 615,13.7 618,14.6 621,14.7 624,13.9 627.3,12 630.6,9 632.5,6 633.3,3 633.3,0 631.2,-6M804,306 803.1,303 801.5,300 795,291.2 771,268.5 762,258.5 744.3,237 734.7,228 733.3,225 730.4,213 731.7,207 731.7,204 729,185.6 726,174.5 723,168.8 718.3,165 699,157.7 693,155 690,152.9 687,150.3 684,146.7 682.4,144 675,123.5 672,117.4 669.2,114 665.7,111 660.4,108 648,103.7 641.3,99 635.9,93 631.1,84 629,78 626.8,69 624,62.7 619.3,57 612,51.7 607.8,48 603,42 600,36.8 586.5,9 585,3 584.3,-6M906,59.8 900,61.2 895.6,63 892.2,66 890.6,69 890.1,75 891.7,81 893.5,84 896.6,87 900,88.3 903,87.8 910.2,81 914.2,78 918,75.9 921,74.7 934,72 936,70.8 937.2,69 937.8,66 937.3,63 935.1,60 933,59 927,57.7 924,57.6 909,59.4ZM795,86.5 792,87.1 786,89.6 782.2,93 779.3,99 775.8,111 774,114.6 771,119.1 768,122.3 765,124.5 755.5,129 753.3,132 754.1,135 757.5,138 772.9,147 783,152 792,155.3 798,156.9 804,157.5 810,157.2 815.1,156 819,153.8 822.9,150 831,139.8 832.7,135 833.5,129 833.9,120 833.5,111 832.1,105 830.6,102 828.6,99 825.5,96 821.5,93 813,87.6 810,86.2 804,85.3 798,85.9Z"/>
<path d="M68.6,-6 66,0.1 64.7,6 65,12 67.9,24 67.8,27 66.9,30 65.1,33 62,36 51.4,42 47.8,45 45.6,48 42,55.2 39,57 36,56.6 33,54.7 27,48.9 22.3,42 18.6,33 17.1,27 16.8,21 19.6,6 20.1,-6M427.1,-6 426.1,0 426.2,3 429.6,24 430.4,33 430.3,39 428.9,45 426.8,48 422.3,51 408,56.1 402,58.8 396,63.3 393.5,66 391.3,69 388.2,75 382.8,90 381,94 379.5,96 366,109.8 357,114.3 353.3,117 350.7,120 350.5,123 352.6,129 350.7,132 347,135 342,136.6 336,136.3 332.2,135 327.4,132 324,128.6 320,123 312,107.3 308.9,102 305.5,99 303,98.1 300,98.2 297,99.6 294.7,102 291,108 288,114.1 283.8,120 279,124.7 273,128.2 257.5,132 240,142.5 234,145.5 225,148.9 216,151.1 192,155.2 186,155.9 183,155.8 180,155 177,153.2 174,149.9 172.2,147 169.1,141 166.7,135 164.2,123 162.4,117 159,113.1 156,112.5 153,113.5 150,116.6 147,122.7 144,132.6 139.4,153 138.5,156 136.8,159 133.2,162 129,164.5 120,168.7 114,170.6 108,171.9 99,172.7 90,170.8 78,166.8 72,163.7 66.7,159 56.3,147 54.2,144 53,141 51.2,132 50.5,123 51.1,117 52.2,111 55.8,102 60.3,96 66,91 71.9,87 88.6,78 96,73.4 101.4,69 107,63 108,61.3 111,65.1 112.4,69 114.3,72 116.5,75 119.8,78 123,79.8 126,80.8 132,81.2 135,80.7 138,79.5 141,77.6 150.3,69 153,67.1 159,64.3 160.6,63 161.8,60 160.7,57 159,54.5 153,47.5 141,31.3 138,28.2 135,26 132,24.6 126,23.6 120,23.9 117,22.2 113.4,12 110.5,6 108,2.6 99.5,-6M945,40.3 933,42 927,42.2 924,41.8 918.4,39 912.7,33 906.8,24 904,18 901.9,12 900,2.8 897,0.5 894,0.7 889.9,3 887.4,6 885,10.8 882.7,18 877.8,39 875.9,45 873.2,51 870,55.5 867,58.7 857.5,66 855.2,69 851.3,78 849,81 839.8,90 837,91.3 834,92 831,92 825,90.3 819.8,87 816.5,84 812.2,78 809.8,72 807,62.7 805.5,60 804,57.7 801,57.4 798,60.3 791.8,69 784.1,78 781,81 777,83.7 771,85.7 765,89.9 759.2,96 749.7,108 743.3,114 738,117.8 732,120.6 729,121.1 723,120.8 717,119.1 708,115.4 699,110.4 693,106.3 688.8,102 678.1,87 675,84.6 672,83.4 669,82.7 666,82.6 657,83.7 654,83.3 651,82 648,79.5 645.2,75 644.5,72 644.4,69 645,65.7 648.4,60 659.7,48 661.4,45 663.6,39 667.5,24 668.5,18 668.8,12 667.6,0 667.5,-6M504,86.5 507,85.4 510,85 516,85.6 520,87 523.8,90 525.6,93 526.2,96 526.1,99 525.4,102 523.9,105 521.1,108 516,110.1 513,110.1 510,109.5 506.7,108 503.4,105 501.6,102 500.5,99 499.9,93 500.5,90 503.1,87ZM753,170.8 756,169.5 759,169 762,169.3 765,170.3 771.9,174 775.5,177 778,180 781.3,186 782.5,192 782.3,195 781.4,198 779.5,201 777,203.4 774,205.1 771,205.9 768,206.2 762,205.1 756,201.7 753,198.9 750,195.2 746.6,189 745.8,186 745.7,183 747.3,177 750,173 752.6,171Z"/>
<path d="M386,-6 385.6,-3 384,1.9 381,6.3 370.9,15 357.6,21 353.1,24 350.2,27 348,31 347.1,36 347.4,39 350.2,45 357,52 369,59.3 371.1,63 370.9,66 369,69.1 356,81 353.3,84 352.3,87 357,96 357.4,99 356.8,102 355.1,105 352.9,108 350,111 345,114 342,114.2 339,113 336.5,111 334,108 326.3,93 322.2,87 318,84 315,82.6 303,79.6 294,79 288,79.5 270,84.6 264,85.7 249,84.8 243,85.3 237,86.4 235.2,87 231.1,90 228.8,93 228,98.9 226.7,93 225,91.4 222.7,87 219.9,84 207,77.6 201,72.4 198,68.6 195,63.3 192.7,57 190,39 188,33 186,29.6 183.6,27 179.2,24 172.7,21 159,16.4 153,13.1 147,9 144,6 142,3 140.5,0 138.9,-6M797.2,-6 795,1.3 792.8,15 786.4,39 782.4,48 775.8,57 765,67.5 756,73.7 750,75.8 741,77.7 738,78.9 729.3,84 717.5,93 714,93.4 711,88.9 709.7,78 710.3,66 712.7,45 714.5,24 714,15.1 710.5,-6M39,10.5 42,10 45,10.7 46.8,12 48.6,15 49,18 48,24 45,27.5 42,28.1 39,26.3 37.7,24 36,18 35.9,15 37.2,12ZM117,118.8 120,117.8 123,117.7 126,119 129,122.6 130.5,126 131.2,129 131.1,132 130.4,135 128.8,138 126,139.5 123,139.9 120,139.6 116.3,138 113.2,135 111.5,132 110.9,129 111.2,126 112.4,123 115,120ZM180,125.1 183,125.4 184,126 185.1,129 183.1,132 180,132.7 178.6,132 177,130.4 176.6,129 177,127.6 178.6,126Z"/>
<path d="M768.4,-6 771,-1.9 773,3 775.3,15 776.2,30 775.5,39 774.4,45 771,54 766.5,60 763.2,63 759,65.7 756,66.9 753,67.3 750,67.1 746.3,66 741,63.7 738,61.7 736.2,60 734.2,57 732.3,51 731.2,42 730.9,36 731.9,12 732.8,6 734.4,0 738.1,-6M276,23.7 279,24 282,26.1 284.4,30 285.3,33 285.5,39 284.9,42 283.5,45 282,46.6 279,48.4 276,48.9 272.7,48 269.4,45 267.8,42 267,39 266.6,36 266.9,33 268.1,30 270.2,27 273,24.7 275.3,24Z"/>
<path d="M750,20.4 753,19.9 756,20.2 759,21.3 762.5,24 764.6,27 765.5,30 765.5,36 763,42 759,47.8 752.8,54 750,55.2 747,55.2 744.7,54 742.4,51 741,48.1 740.5,45 740.2,39 741,29.4 741.9,27 744,24.1 747,21.8 748.8,21Z"/>
</g></g>
<g class="c" text-anchor="middle" clip-path="url(#cp)">
<text transform="translate(40.8,6.9) rotate(0)" y="5.5">40</text>
<text transform="translate(42.8,48.6) rotate(0)" y="5.5">30</text>
<text transform="translate(128.2,20.5) rotate(0)" y="5.5">30</text>
<text transform="translate(275.5,29.3) rotate(0)" y="5.5">50</text>
<text transform="translate(343.3,115.3) rotate(-45)" y="5.5">40</text>
<text transform="translate(121.4,109.6) rotate(0)" y="5.5">40</text>
<text transform="translate(177.3,129.9) rotate(70)" y="5.5">0</text>
<text transform="translate(302.6,145.8) rotate(80)" y="5.5">0</text>
<text transform="translate(11.3,61.1) rotate(80)" y="5.5">0</text>
<text transform="translate(432,30) rotate(-85)" y="5.5">30</text>
<text transform="translate(513.9,14.7) rotate(0)" y="5.5">10</text>
<text transform="translate(570.8,38.4) rotate(0)" y="5.5">10</text>
<text transform="translate(516.7,82.5) rotate(10)" y="5.5">30</text>
<text transform="translate(515,136.7) rotate(0)" y="5.5">10</text>
<text transform="translate(616.6,13) rotate(0)" y="5.5">20</text>
<text transform="translate(404.9,112.9) rotate(50)" y="5.5">0</text>
<text transform="translate(749.9,19.1) rotate(0)" y="5.5">60</text>
<text transform="translate(755.7,67.9) rotate(0)" y="5.5">50</text>
<text transform="translate(713.4,97.7) rotate(25)" y="5.5">40</text>
<text transform="translate(865.8,87.5) rotate(0)" y="5.5">30</text>
<text transform="translate(908.1,31.7) rotate(60)" y="5.5">30</text>
<text transform="translate(924,28.3) rotate(50)" y="5.5">0</text>
<text transform="translate(929.4,74) rotate(0)" y="5.5">2</text>
</g>
<use href="#dots"/>
<path d="M0,0H936 M0,0V367 H936 V106" fill="none" stroke="#111" stroke-width="1.3"/>
<g stroke="#111" stroke-width="1.3">
<line x1="-10.5" x2="0" y1="0" y2="0"/>
<line x1="-10.5" x2="0" y1="146.7" y2="146.7"/>
<line x1="-10.5" x2="0" y1="293.4" y2="293.4"/>
<line x1="64.7" x2="64.7" y1="367" y2="378"/>
<line x1="257.6" x2="257.6" y1="367" y2="378"/>
<line x1="450.5" x2="450.5" y1="367" y2="378"/>
<line x1="643.4" x2="643.4" y1="367" y2="378"/>
<line x1="836.3" x2="836.3" y1="367" y2="378"/>
</g><g stroke="#999" stroke-width="0.8">
<line x1="-4" x2="0" y1="73.4" y2="73.4"/>
<line x1="-4" x2="0" y1="220.1" y2="220.1"/>
<line x1="-4" x2="0" y1="366.8" y2="366.8"/>
<line x1="161.7" x2="161.7" y1="367" y2="371.5"/>
<line x1="354.6" x2="354.6" y1="367" y2="371.5"/>
<line x1="547.5" x2="547.5" y1="367" y2="371.5"/>
<line x1="740.3" x2="740.3" y1="367" y2="371.5"/>
<line x1="933.2" x2="933.2" y1="367" y2="371.5"/>
</g>
<text x="-37.31" y="9.2" font-size="24.5" class="b" textLength="14.05" lengthAdjust="spacingAndGlyphs">0</text>
<text x="-71.41" y="155.9" font-size="24.5" class="b" textLength="48.3" lengthAdjust="spacingAndGlyphs">100</text>
<text x="-70.6" y="302.6" font-size="24.5" class="b" textLength="47.46" lengthAdjust="spacingAndGlyphs">200</text>
<text x="33.77" y="409.7" font-size="24.5" class="b" textLength="62.56" lengthAdjust="spacingAndGlyphs">40°S</text>
<text x="226.09" y="409.7" font-size="24.5" class="b" textLength="63.15" lengthAdjust="spacingAndGlyphs">20°S</text>
<text x="428.7" y="409.7" font-size="24.5" class="b" textLength="42.86" lengthAdjust="spacingAndGlyphs">EQ</text>
<text x="611.64" y="409.7" font-size="24.5" class="b" textLength="64.44" lengthAdjust="spacingAndGlyphs">20°N</text>
<text x="804.97" y="409.7" font-size="24.5" class="b" textLength="64.15" lengthAdjust="spacingAndGlyphs">40°N</text>
<text class="b" font-size="32.5" transform="translate(-101.9,262.1) rotate(-90)" x="-2.3" textLength="159.22" lengthAdjust="spacingAndGlyphs">Depth [m]</text>
</g>
<text x="874.06" y="1157.8" font-size="36.6" class="b" textLength="186.66" lengthAdjust="spacingAndGlyphs">% 2-10 um</text>
<path d="M1095.2,1191 L1111.5,1185.3 L1127.8,1191 V1558.5 L1111.5,1564.2 L1095.2,1558.5 Z" fill="url(#pc)" stroke="#d9c7b5" stroke-opacity="0.4" stroke-width="0.5"/>
<g stroke="#111" stroke-width="1.6">
<line x1="1094.7" x2="1102.7" y1="1224.5" y2="1224.5"/><line x1="1120.3" x2="1128.3" y1="1224.5" y2="1224.5"/>
<line x1="1094.7" x2="1102.7" y1="1291.3" y2="1291.3"/><line x1="1120.3" x2="1128.3" y1="1291.3" y2="1291.3"/>
<line x1="1094.7" x2="1102.7" y1="1358.2" y2="1358.2"/><line x1="1120.3" x2="1128.3" y1="1358.2" y2="1358.2"/>
<line x1="1094.7" x2="1102.7" y1="1425.2" y2="1425.2"/><line x1="1120.3" x2="1128.3" y1="1425.2" y2="1425.2"/>
<line x1="1094.7" x2="1102.7" y1="1492" y2="1492"/><line x1="1120.3" x2="1128.3" y1="1492" y2="1492"/>
<line x1="1094.7" x2="1102.7" y1="1559" y2="1559"/><line x1="1120.3" x2="1128.3" y1="1559" y2="1559"/>
</g>
<text x="1136.39" y="1232.45" font-size="25" class="b" textLength="42.86" lengthAdjust="spacingAndGlyphs">100</text>
<text x="1137.18" y="1299.35" font-size="25" class="b" textLength="28.09" lengthAdjust="spacingAndGlyphs">80</text>
<text x="1137.05" y="1366.25" font-size="25" class="b" textLength="28.23" lengthAdjust="spacingAndGlyphs">60</text>
<text x="1137.63" y="1433.15" font-size="25" class="b" textLength="27.62" lengthAdjust="spacingAndGlyphs">40</text>
<text x="1137.11" y="1500.05" font-size="25" class="b" textLength="28.16" lengthAdjust="spacingAndGlyphs">20</text>
<text x="1136.96" y="1566.95" font-size="25" class="b" textLength="14.52" lengthAdjust="spacingAndGlyphs">0</text>
<text class="b" font-size="17.5" transform="translate(1090.1,1552.9) rotate(-90)" x="-0.69" textLength="137.87" lengthAdjust="spacingAndGlyphs">Ocean Data View</text>
<g transform="translate(131,1694)">
<g clip-path="url(#cp)">
<g filter="url(#bf)">
<rect x="-20" y="-20" width="980" height="340" fill="#B068F0"/>
<path fill="#9E5AF0" d="M846,77l9,0 6,1 6,3 6,4 13,14 3,6 5,12 -1,12 1,1 14,5 4,2 3,4 6,9 7,6 17,8 0,24 -12,2 -3,0 -3,2 -1,3 -3,3 -4,3 -4,2 -6,1 -9-2 -3,0 -7-4 -5-4 -9-5 -24-21 -2-6 1-3 1-2 5-4 1-3 0-6 1-3 2-3 1-3 -2-3 -4-3 -25-19 -4-5 -3-6 0-6 5-6 8-6 6-3zM561,106l3-1 3,1 15,11 3,2 6,1 3-1 9-8 6-2 3,1 2,4 0,3 -2,2 -3,2 -12,1 -3,1 -3,3 -6,9 -4,6 -8,6 -9,3 -9,0 -3-1 -3-2 -2-3 -1-6 3-9 10-21z"/>
<path fill="#9250F0" d="M849,57l9,0 9,3 30,20 17,10 5,6 9,21 4,6 4,3 9,3 0,35 -4-2 -13-6 -7-6 -8-12 -5-3 -14-5 -1-1 1-12 -5-12 -3-6 -14-15 -8-5 -9-2 -6,0 -9,2 -8,5 -6,6 -2,3 0,6 3,6 4,5 25,19 4,3 2,3 -1,3 -2,3 -1,3 0,6 -1,3 -5,4 -1,2 -1,3 2,6 24,21 9,5 5,4 7,4 3,0 9,2 6-1 4-2 4-3 3-3 1-3 3-2 3,0 12-2 0,39 -15-1 -6-1 -9-4 -6-3 -16-5 -20-11 -15-10 -18-18 -9-12 -1-3 3-9 -1-6 1-6 0-3 -3-6 -2-3 -3-2 -21-11 -16-5 -5-4 -1-2 0-6 7-16 3-4 6-2 15-1 6-1 18-11 12-4zM561,60l3-1 4,1 3,3 5,9 5,12 1,15 2,3 1,1 3,0 9-4 6,0 9,2 4,4 2,3 2,6 -2,6 -3,6 -12,9 -12,16 -6,4 -8,4 -13,3 -9,0 -6-3 -6-6 -4-9 0-9 2-6 7-15 3-12 8-9 3-6 2-9 -1-6 -2-6 -1-3 1-3zM559,108l-10,21 -3,9 1,6 2,3 3,2 3,1 9,0 9-3 8-6 4-6 6-9 3-3 3-1 12-1 3-2 2-2 0-3 -2-4 -3-1 -6,2 -9,8 -3,1 -6-1 -3-2 -15-11 -3-1 -3,1zM273,168l3-1 3,1 5,3 2,3 1,6 -1,6 -1,3 -14,18 -10,21 -6,9 -6,7 -9,5 -6,2 -6-1 -6-3 -4-4 -3-6 -2-9 1-9 2-6 5-9 7-8 9-5 12-4 6-2 6-5 7-9 4-3z"/>
<path fill="#8648F0" d="M846,42l6-1 6,1 15,6 11,6 20,15 17,9 5,3 6,6 13,17 0,25 -9-3 -4-3 -4-6 -9-21 -5-6 -23-14 -21-14 -12-5 -6,0 -9,1 -9,5 -15,9 -6,1 -15,1 -5,1 -4,5 -6,13 -1,6 0,3 1,3 5,3 16,5 21,11 3,2 2,3 3,6 0,3 -1,6 1,6 -3,9 1,3 9,12 18,18 15,10 20,11 16,5 6,3 9,4 6,1 15,1 0,29 -3-1 -33-13 -15-11 -3-1 -3,0 -6-3 -15-12 -7-5 -7-6 -26-30 -6-9 -7-9 -2-9 -1-3 -4-4 -6-5 -9-3 -9-1 -9,1 -12,4 -3,0 -2-1 0-3 1-9 -1-6 -2-6 -5-6 -1-3 1-4 3-2 12-7 6-5 5-6 5-12 5-4 6-3 15-1 9-2 20-11 8-3zM567,51l6,1 4,2 5,6 15,21 21,16 6,8 1,9 -1,9 -3,6 -20,27 -4,3 -6,4 -24,10 -6,1 -9-1 -6-2 -4-3 -2-3 -4-6 -2-9 -1-9 1-6 2-6 8-15 5-15 5-9 1-9 -2-15 1-6 2-3 3-3 8-3zM561,60l-1,3 1,3 2,6 1,6 -2,9 -3,6 -8,9 -3,12 -7,15 -2,6 0,9 4,9 6,6 6,3 9,0 13-3 8-4 6-4 12-16 12-9 3-6 2-6 -2-6 -2-3 -4-4 -9-2 -6,0 -9,4 -3,0 -1-1 -2-3 -1-15 -5-12 -5-9 -3-3 -4-1 -3,1zM366,111l4,0 2,1 2,2 1,3 1,15 8,21 1,6 -2,6 -6,6 -11,9 -9,5 -12,2 -6-2 -6-4 -2-4 -1-3 0-6 2-6 3-6 12-18 8-18 6-6 5-3zM273,161l6-1 6,1 3,1 5,3 5,6 7,12 2,6 -1,3 -1,3 -5,6 -12,10 -4,5 -3,6 -5,15 -6,9 -8,9 -13,8 -9,3 -12,1 -9-4 -9-7 -6-9 -4-10 -2-15 1-12 2-6 2-3 18-15 7-4 24-7 15-11 4-2zM272,168l-4,3 -7,9 -6,5 -6,2 -12,4 -9,5 -7,8 -5,9 -2,6 -1,9 2,9 3,6 4,4 6,3 6,1 6-2 9-5 6-7 6-9 10-21 14-18 1-3 1-6 -1-6 -2-3 -5-3 -3-1 -3,1zM888,234l1,3 -1,1 -3-4z"/>
<path fill="#7D45F0" d="M39,2l3-1 3-1 3,1 1,2 0,3 -1,10 -3,11 -1,9 -2,4 -3-1 -1-3 -2-24 1-6 1-3zM846,29l6,0 9,2 27,12 9,6 15,14 18,9 15,11 0,21 -13-17 -6-6 -5-3 -18-10 -21-15 -9-5 -12-5 -9-2 -6,1 -9,3 -21,11 -9,2 -15,1 -6,3 -5,4 -5,12 -5,6 -6,5 -12,7 -3,2 -1,4 1,3 5,6 2,6 1,6 -1,9 0,3 2,1 3,0 12-4 9-1 9,1 9,3 6,5 4,4 1,3 2,9 7,9 6,9 26,30 7,6 7,5 15,12 6,3 3,0 3,1 15,11 33,13 3,1 0,41 -3-2 -9-8 -3-2 -3,1 -6,3 -3,0 -4-4 -2-3 -3,3 -3,1 -12-7 -3,3 -3-1 -3-2 -18-21 -14-12 -13-14 -9-13 -8-9 -5-12 -1-6 -2-3 -6-12 -7-9 -12-21 -4-3 -7-3 -5,0 -12,1 -3-1 -3-1 -3-5 -3-18 -5-15 2-6 3-6 3-3 15-11 4-4 8-15 3-3 6-3 21-5 6-3 15-8 12-5zM885,234l3,4 1-1 -1-3zM573,42l3,1 6,4 19,25 20,18 5,6 3,6 2,6 0,12 -2,9 -4,9 -10,16 -7,8 -8,6 -21,10 -12,7 -9,2 -9-1 -6-1 -9-4 -4-4 -1-3 -1-6 1-27 2-10 3-7 9-16 7-18 0-9 -3-15 1-6 5-6 8-8 6-3 4-1zM567,51l-8,3 -3,3 -2,3 -1,6 2,15 -1,9 -5,9 -5,15 -8,15 -2,6 -1,6 1,9 2,9 4,6 2,3 4,3 6,2 9,1 6-1 24-10 6-4 4-3 20-27 3-6 1-9 -1-9 -6-8 -21-16 -15-21 -5-6 -4-2 -6-1zM453,60l3,0 2,9 4,12 2,9 -1,6 -8,12 0,6 3,6 3,3 12,6 9,6 2,3 2,6 2,15 0,3 -2,6 -3,3 -6,4 -3,0 -2-1 -6-15 -4-6 -9-8 -13-7 -2-3 -2-3 0-6 4-33 4-11 5-10 4-12zM159,81l3,1 3,5 3,13 0,5 0,3 -3,3 -5,0 -4-3 -3-3 -3-6 0-6 2-6 1-3 3-3 2,0zM363,105l6-1 3,1 3,2 3,4 4,15 5,10 6,5 3,2 9,3 3,4 0,4 -5,14 -5,6 -16,15 -13,14 -33,21 -12,7 -6,2 -6,6 -3,2 -3-3 -2,2 -8,12 -8,9 -6,6 -9,7 -21,10 -3,1 -18,1 -12,0 -3-1 -12-10 -6-8 -5-9 -4-12 -10-57 -3-9 -4-9 -1-3 1-3 2-3 3-2 6,0 7,2 14,7 6,1 33-1 6,0 6-3 15-10 9-4 9-1 18,1 6-1 9-5 12-9 5-5 7-12 5-6 7-6 5-3zM366,111l-5,3 -6,6 -8,18 -12,18 -3,6 -2,6 0,6 1,3 2,4 6,4 6,2 12-2 9-5 11-9 6-6 2-6 -1-6 -8-21 -1-15 -1-3 -2-2 -2-1 -4,0zM271,162l-4,2 -15,11 -24,7 -7,4 -18,15 -2,3 -2,6 -1,12 2,15 4,10 6,9 9,7 9,4 12-1 9-3 13-8 8-9 6-9 5-15 3-6 4-5 12-10 5-6 1-3 1-3 -2-6 -7-12 -5-6 -5-3 -3-1 -6-1 -6,1z"/>
<path fill="#7343F0" d="M42,-4l3,0 3,1 3,2 1,4 -4,33 -3,8 -3,2 -3,0 -3-3 -1-4 -1-6 -1-15 1-12 1-6 4-3zM38,3l-1,3 -1,6 2,24 1,3 3,1 2-4 1-9 3-11 1-10 0-3 -1-2 -3-1 -3,1 -3,1zM540,-2l3-1 3,1 2,2 0,3 -2,3 -3,1 -3-2 -1-2 0-3zM849,21l6,0 9,3 18,7 13,5 6,3 5,4 8,11 4,3 18,7 9,6 0,13 -15-11 -18-9 -15-14 -9-6 -21-10 -9-3 -6-1 -9,1 -12,5 -15,8 -6,3 -21,5 -6,3 -3,3 -8,15 -4,4 -15,11 -3,3 -3,6 -2,6 5,15 3,18 3,5 3,1 3,1 12-1 5,0 7,3 4,3 12,21 7,9 6,12 2,3 1,6 5,12 8,9 9,13 13,14 14,12 18,21 3,2 3,1 3-3 12,7 3-1 3-3 2,3 4,4 3,0 6-3 3-1 3,2 9,8 3,2 0,9 -72,0 -3-5 -9-12 -3-2 -6,1 -3-2 -9-12 -12-14 -12-12 -6-2 -3-2 -9-14 -6-10 -6-13 -4-12 0-6 2-6 0-9 -2-15 -2-6 -2-3 -4-3 -12,0 -6-2 -4-4 -4-9 -6-27 0-6 3-12 2-3 3-4 12-7 5-4 3-6 4-11 3-5 3-3 3-1 18-3 6-1 6-4 12-8 9-3 13-3zM567,33l3-1 6,1 6,3 23,30 25,24 4,6 3,6 1,6 1,9 -2,12 -2,9 -9,18 -8,12 -3,3 -6,4 -18,7 -8,4 -7,6 -12,14 -6,2 -9,1 -3-2 -3-3 -3-1 -12-1 -9,2 -6,0 -12-5 -12-3 -21-9 -3-2 -2-5 -3-15 -4-9 -6-6 -13-6 -4-3 -4-6 -1-6 4-30 3-13 12-29 6-9 3-1 3,1 3,6 2,15 7,27 0,3 -8,9 -1,3 1,6 2,3 4,3 8,3 9,2 3,3 3,5 4,14 5,11 3,2 3,1 6,0 3-2 3-2 4-7 2-6 4-18 3-6 10-18 4-12 0-9 -5-18 0-6 1-3 10-9 9-10 6-5zM571,42l-4,1 -6,3 -8,8 -5,6 -1,6 3,15 0,9 -7,18 -9,16 -3,7 -2,10 -1,27 1,6 1,3 4,4 9,4 6,1 9,1 9-2 12-7 21-10 8-6 7-8 10-16 4-9 2-9 0-12 -2-6 -3-6 -5-6 -20-18 -19-25 -6-4 -3-1zM453,60l-4,12 -5,10 -4,11 -4,33 0,6 2,3 2,3 13,7 9,8 4,6 6,15 2,1 3,0 6-4 3-3 2-6 0-3 -2-15 -2-6 -2-3 -9-6 -12-6 -3-3 -3-6 0-6 8-12 1-6 -2-9 -4-12 -2-9 -3,0zM153,65l3-2 3,1 6,4 6,7 4,9 3,12 0,9 -2,9 -5,6 -6,4 -3,1 -6,0 -3-1 -6-6 -11-19 0-3 1-3 4-9 6-12 5-6zM158,81l-2,0 -3,3 -1,3 -2,6 0,6 3,6 3,3 4,3 5,0 3-3 0-3 0-5 -3-13 -3-5 -3-1zM363,98l6,0 3,0 3,2 6,8 5,15 4,7 6,5 12,5 5,4 2,3 0,3 -1,9 -3,15 -20,24 -10,18 -9,12 -10,21 -8,23 -6,11 -4,5 -3,9 -2,2 -3,1 -3,3 -1,3 -132,0 -8-10 -3-5 -6-15 -3-11 -13-94 0-15 1-4 2-2 4-3 6-2 9,0 18,6 21,4 15,6 6,1 3-1 4-2 14-12 9-5 12-4 24-4 9-4 6-5 10-11 6-6 8-6 7-3zM362,105l-5,3 -7,6 -5,6 -7,12 -5,5 -12,9 -9,5 -6,1 -18-1 -9,1 -9,4 -15,10 -6,3 -6,0 -33,1 -6-1 -14-7 -7-2 -6,0 -3,2 -2,3 -1,3 1,3 4,9 3,9 10,57 4,12 5,9 6,8 12,10 3,1 12,0 18-1 3-1 21-10 9-7 6-6 8-9 8-12 2-2 3,3 3-2 6-6 6-2 12-7 33-21 13-14 16-15 5-6 5-14 0-4 -3-4 -9-3 -3-2 -6-5 -5-10 -4-15 -3-4 -3-2 -3-1 -6,1z"/>
<path fill="#6A40F0" d="M36,-6l14,0 4,6 0,3 -2,18 -1,15 -1,6 -2,4 -3,3 -3,2 -3-1 -4-2 -3-6 -1-9 0-21 1-9 0-3 2-3zM39,-3l-4,3 -1,6 -1,12 1,15 1,6 1,4 3,3 3,0 3-2 3-8 4-33 -1-4 -3-2 -3-1 -3,0zM534,-3l1-3 16,0 3,6 -1,6 -1,3 -3,2 -3,1 -6-2 -3-2 -3-4 -1-4 1-3zM539,0l0,3 1,2 3,2 3-1 2-3 0-3 -2-2 -3-1 -3,1zM831,18l15-2 12,1 6,1 18,7 18,4 9,6 3,4 6,9 3,2 6,3 9,2 9,4 0,11 -9-6 -18-7 -6-5 -7-10 -8-5 -39-15 -6-1 -9,1 -10,2 -8,3 -12,8 -6,4 -6,1 -15,2 -7,3 -4,6 -5,12 -3,6 -5,4 -13,8 -2,3 -3,7 -2,8 0,6 5,24 5,12 4,4 3,2 15,0 4,3 3,6 2,6 1,12 0,9 -2,6 0,6 5,15 10,18 10,16 3,2 6,2 12,12 12,14 9,12 3,2 6-1 3,2 9,12 3,5 -46,0 -5-9 -3-1 -3,3 -3-2 -10-21 -28-45 -4-9 -4-12 -5-9 -6-8 -8-7 -1-3 0-3 8-15 0-6 -2-3 -12-12 -12-9 -3-7 -2-17 1-6 2-3 8-3 2-3 3-9 1-13 3-5 3-2 3-1 6,0 3-1 3-2 8-18 4-6 7-3 17-3 6-1 15-11 10-3zM561,25l6,0 6,1 9,4 5,3 22,27 24,24 10,12 4,9 1,6 -5,24 0,9 1,3 2,3 10,6 4,5 1,7 -1,8 -3,4 -3,1 -15,1 -6,1 -15,8 -17,7 -2,3 0,3 4,7 3,8 0,9 -1,3 -5,2 -6,3 -3,0 -3-2 -3-5 -3,0 -3,1 -3,2 -3,5 -12,11 -3,9 -3,5 -6,5 -6,1 -1-1 1-8 4-13 -1-6 -3-4 -9-7 -3-4 -3-1 -15,0 -12,5 -3-1 -3-2 -6-6 -27-30 -3-7 -1-12 -2-6 -3-6 -2-3 -7-5 -12-5 -6-2 -3,1 -4,8 -4,24 -10,15 -8,21 -3,15 -1,9 -2,6 0,6 0,15 2,6 3,2 4-2 2-3 3,0 3-3 3,1 1,2 0,3 -2,6 -3,15 1,6 4,9 -80,0 1-3 3-3 3-1 2-2 3-9 4-5 6-11 8-23 10-21 9-12 10-18 20-24 3-14 1-10 0-3 -2-3 -5-4 -12-5 -6-5 -4-7 -5-14 -3-5 -3-4 -3-2 -3,0 -3,0 -6,1 -10,6 -10,9 -11,12 -8,5 -9,4 -21,3 -12,4 -9,5 -14,12 -4,2 -3,1 -6-1 -15-6 -21-4 -18-6 -12,1 -6,3 -3,3 -1,4 0,15 12,90 4,15 6,15 3,5 8,10 -30,0 -2-6 -1-9 -1-15 0-69 -3-30 1-15 -1-3 -4-8 -3-2 -6,3 -9,11 -3,1 -4-2 -1-3 1-6 5-15 0-9 -2-12 -4-9 -5-9 -1-3 2-5 7-16 6-18 3-6 5-4 6-2 3,1 4,2 6,6 8,12 6,15 3,12 2,24 1,3 3,3 12,11 6,4 24,6 15,7 3-1 16-12 11-7 12-4 27-7 6-4 15-14 18-9 6-2 6,1 3,1 6,5 3,4 8,18 4,6 3,3 6,3 6,1 6,0 3-1 3-4 2-5 13-49 11-26 4-6 3-2 3-1 3,1 3,2 3,6 4,30 4,12 4,12 1,3 -7,2 -3,3 -1,4 0,3 4,4 6,2 3-1 6-5 6,11 9,21 3,3 3,3 3,0 6-1 3-2 3-4 2-7 4-15 11-21 3-9 1-6 0-6 -8-21 1-6 1-3 3-3 6-4 3-3 9-17zM567,33l-6,5 -9,10 -10,9 -1,3 0,6 5,18 0,9 -4,12 -10,18 -3,6 -4,18 -2,6 -4,7 -3,2 -3,2 -6,0 -3-1 -3-2 -5-11 -4-14 -3-5 -3-3 -9-2 -8-3 -4-3 -2-3 -1-6 1-3 8-9 0-3 -7-27 -2-15 -3-6 -3-1 -3,1 -6,9 -12,29 -3,13 -4,30 1,6 4,6 4,3 13,6 6,6 4,9 3,15 2,5 3,2 21,9 12,3 12,5 6,0 9-2 12,1 3,1 3,3 3,2 9-1 6-2 12-14 7-6 8-4 18-7 6-4 3-3 8-12 9-18 2-9 2-12 -1-9 -1-6 -3-6 -4-6 -25-24 -23-30 -6-3 -6-1 -3,1zM152,66l-5,6 -6,12 -4,9 -1,3 0,3 11,19 6,6 3,1 6,0 3-1 6-4 5-6 2-9 0-9 -3-12 -4-9 -6-7 -6-4 -3-1 -3,2z"/>
<path fill="#6446F2" d="M33,-6l3,0 -3,5 -1,4 -1,15 1,21 1,6 3,4 3,1 3,1 3-2 3-3 2-4 4-39 0-3 -4-6 3,0 2,6 -2,24 1,18 -3,6 -2,3 -4,2 -3,1 -6-1 -3-2 -2-3 -1-6 -1-21 1-18 3-9zM531,-6l4,0 -2,6 1,3 1,3 5,4 6,2 3-1 3-2 1-3 1-6 -3-6 6,0 3,15 3,6 4,3 21,12 5,3 12,12 32,36 17,15 3,6 1,9 -2,6 -6,12 -1,6 0,3 3,6 8,6 3,4 2,5 1,9 -1,12 -2,4 -2,2 -4,2 -9,2 -5,2 -5,3 -4,6 -1,6 2,6 3,6 6,6 1,3 0,4 -3,5 -3,3 -3,1 -6,2 -3,1 -6,12 -12,9 -3,1 -9-5 -3-1 -6,1 -15,6 -6,2 -2,4 0,6 -2,6 -2,2 -6,1 -6,6 -3,3 -1,3 -1,6 -29,0 0-3 6-9 3-9 6-9 3-12 -2-10 -3-3 -3-2 -3,0 -3-5 -3,0 -6,3 -6-1 -9,4 -5,8 -6,6 -6,9 -5,6 -4,9 -11,18 -46,0 -4-9 -1-6 3-15 2-6 0-3 -1-2 -3-1 -3,3 -3,0 -2,3 -4,2 -3-2 -1-3 -1-9 0-12 2-9 1-9 3-15 8-21 10-15 4-24 4-8 3-1 6,2 12,5 7,5 2,3 3,6 2,6 1,12 3,7 27,30 6,6 3,2 3,1 12-5 15,0 3,1 3,4 9,7 3,4 1,6 -4,13 -1,8 1,1 6-1 6-5 3-5 3-9 12-11 3-5 3-2 3-1 3,0 3,5 3,2 3,0 6-3 5-2 1-3 0-9 -3-8 -4-7 0-3 2-3 17-7 15-8 6-1 15-1 3-1 3-3 1-3 0-6 -1-7 -4-5 -10-6 -2-3 -1-3 0-9 5-24 -1-6 -3-6 -9-12 -26-27 -21-26 -6-4 -6-3 -6-2 -6,0 -3,0 -3,2 -9,17 -12,10 -1,3 -1,6 8,21 0,6 -1,6 -3,9 -11,21 -4,15 -2,7 -3,4 -3,2 -6,1 -3,0 -3-3 -3-3 -9-21 -6-11 -6,5 -3,1 -6-2 -4-4 0-3 1-4 3-3 7-2 -1-3 -4-12 -4-12 -4-30 -3-6 -3-2 -3-1 -3,1 -3,2 -4,6 -11,26 -13,49 -2,5 -3,4 -3,1 -6,0 -6-1 -6-3 -3-3 -4-6 -8-18 -3-4 -6-5 -3-1 -6-1 -6,2 -18,9 -15,14 -6,4 -27,7 -12,4 -11,7 -16,12 -3,1 -15-7 -24-6 -6-4 -12-11 -3-3 -1-3 -2-24 -3-12 -6-15 -8-12 -6-6 -4-2 -3-1 -6,2 -5,4 -3,6 -6,18 -7,16 -2,5 1,3 5,9 4,9 2,12 0,9 -5,15 -1,6 1,3 4,2 3-1 9-11 6-3 3,2 4,8 1,3 -1,15 3,30 0,69 1,15 1,9 2,6 -25,0 1-15 3-21 13-60 0-9 -2-21 2-18 -3-5 -3-2 -3,1 -3,2 -6,7 -3,3 -3,1 -3,0 -3-1 -3-3 -2-3 -1-6 0-6 5-18 0-9 -1-9 -6-15 0-6 1-6 5-15 3-15 2-6 6-7 6-4 3-2 6-1 8,2 7,4 6,6 5,8 5,9 3,9 6,33 3,6 5,6 6,6 9,5 15,3 12,2 9-2 24-12 30-10 9-5 21-15 12-5 9-1 9,1 6,3 3,3 4,6 8,17 6,8 3,1 6,2 6-1 3-2 3-3 6-14 3-8 9-37 6-17 5-6 4-3 6-1 3,1 3,1 3,4 4,7 2,30 2,6 3,9 13,20 8,19 5,12 5,5 3,1 6-1 3-2 3-4 2-5 2-12 9-18 4-9 1-9 -1-6 -7-21 -1-6 3-7 10-11 3-9 -1-6 -1-3 -11-10 -3-5 -2-6 1-6zM471,111l-1,3 1,3 3,3 3,0 4-3 0-3 -4-4 -3-1zM424,150l-2,3 -1,3 -3,21 -6,15 -2,6 -2,12 1,6 9,12 5,3 6,0 3,13 3,3 3,1 6-1 6-2 6-3 3-3 3-5 2-9 0-6 -1-15 -4-9 -3-11 -1-16 -5-9 -6-5 -12-5 -6,0zM834,12l27,2 24,6 15,2 3,0 21,21 6,3 15,5 0,8 -9-4 -9-2 -6-3 -3-2 -6-9 -3-4 -9-6 -18-4 -18-7 -6-1 -12-1 -15,2 -12,3 -15,11 -6,1 -17,3 -7,3 -4,6 -8,18 -3,2 -3,1 -6,0 -3,1 -3,2 -3,5 -1,13 -3,9 -2,3 -6,2 -3,2 -2,5 1,9 1,11 3,7 15,11 7,7 4,6 0,6 -8,15 0,3 1,3 8,7 6,8 5,9 4,12 4,9 28,45 10,21 3,2 3-3 3,1 5,9 -29,0 -4-12 -7-15 -10-15 -15-21 -3-6 -2-6 -3-18 -2-6 -5-6 -3-2 -6-2 -9-1 -3-3 -1-4 1-6 10-9 3-6 1-6 -3-9 -4-6 -7-6 -2-6 -3-30 2-8 9-5 2-2 2-6 0-12 3-6 5-5 12-6 3-3 8-13 4-4 9-4 18-5 21-11 13-3z"/>
<path fill="#604CF3" d="M30,-5l0-1 3,0 -3,9 -1,12 0,24 2,9 2,3 3,2 6,1 3-1 4-2 4-6 1-6 -1-15 2-21 -1-6 -1-3 2,0 1,6 -1,24 2,15 0,6 -3,5 -3,3 -3,2 -6,2 -6-1 -3-1 -4-4 -1-3 -1-6 1-30 1-15zM528,-6l2,0 -1,6 2,6 3,5 11,10 1,3 1,6 -3,9 -10,11 -3,7 1,6 7,21 1,6 -1,9 -4,9 -9,18 -2,12 -2,5 -3,4 -3,2 -3,1 -3,0 -3-1 -5-5 -5-12 -8-19 -13-20 -3-9 -2-6 -2-30 -4-7 -3-4 -3-1 -3-1 -6,1 -4,3 -5,6 -6,17 -9,37 -3,8 -6,14 -3,3 -3,2 -6,1 -6-2 -3-1 -6-8 -8-17 -4-6 -3-3 -6-3 -9-1 -9,1 -12,5 -21,15 -9,5 -30,10 -24,12 -9,2 -15-2 -15-5 -9-6 -6-6 -3-6 -2-6 -5-24 -3-12 -7-15 -8-9 -8-6 -6-2 -6,0 -3,1 -6,4 -7,6 -4,6 -3,18 -5,15 -1,9 1,6 5,12 1,9 0,9 -5,21 0,6 1,3 2,3 3,3 3,1 3,0 6-4 6-7 3-2 3-1 3,2 3,5 -2,18 2,21 0,9 -13,60 -3,21 -1,15 -19,0 1-12 2-14 3-12 7-16 17-35 3-9 0-7 -2-12 -1-9 1-9 3-6 0-3 -1-2 -3-1 -1,0 -2,1 -6,7 -3,2 -6,3 -6,1 -5-2 -4-3 -3-6 -1-6 0-9 5-18 1-6 0-9 -4-15 -1-12 1-3 3-9 2-6 0-17 3-4 12-13 6-4 3-1 9-1 12,4 9,6 7,9 8,15 3,12 5,27 4,10 6,6 6,4 9,3 12,1 6-1 9-2 45-18 12-6 18-11 9-5 9-3 9-1 9,2 9,5 3,3 5,7 7,15 4,6 5,4 3,1 6,0 3-2 3-3 9-17 9-45 4-10 4-6 7-6 6-2 6,1 6,4 4,6 3,6 1,6 0,21 1,9 3,6 3,5 11,16 7,18 4,9 5,7 3,1 3,0 3,0 3-2 3-5 3-13 9-21 3-12 0-6 -2-6 -6-15 -2-9 1-6 1-3 9-12 2-3 0-6 -3-6 -8-9 -3-6 -1-6 0-6zM558,-6l4,0 4,15 5,6 8,6 20,12 12,9 31,36 6,5 9,6 3,3 1,4 2,9 -1,12 -2,6 -4,6 -2,6 0,3 2,3 7,5 3,4 2,6 1,9 -1,12 -2,12 -3,4 -3,1 -9,1 -3,1 -2,2 -2,3 -1,3 0,3 2,3 3,3 9,6 1,3 -1,8 -3,10 -3,5 -3,3 -6,5 -12,6 -4,5 -2,8 -6,8 -3,2 -3,0 -6-2 -3,0 -6,2 -6,7 -3,2 -3-1 -6,2 -3,0 -3,7 1,7 -30,0 1-6 1-3 9-9 6-1 2-2 2-6 0-6 2-4 6-2 15-6 6-1 3,1 9,5 3-1 12-9 6-12 3-1 6-2 3-1 3-3 3-5 0-4 -1-3 -6-6 -3-6 -2-6 1-6 4-6 5-3 5-2 9-2 4-2 3-3 1-6 1-12 -1-6 -2-5 -3-4 -8-6 -3-6 0-3 1-6 7-15 0-11 -3-7 -17-15 -32-36 -12-12 -5-3 -21-12 -4-3 -3-6 -3-15zM819,8l6-1 9,0 15,2 18,2 18,5 18,0 3,1 9,11 12,10 6,3 12,3 0,7 -15-5 -6-3 -21-21 -3,0 -15-2 -24-6 -18-2 -12,0 -12,3 -21,11 -18,5 -6,2 -7,6 -8,13 -3,3 -12,6 -6,6 -2,5 0,12 -1,4 -3,4 -9,5 -2,8 3,30 2,6 7,6 4,6 3,9 -1,6 -3,6 -10,9 -1,3 1,6 3,4 9,1 6,2 3,2 5,6 2,6 3,18 2,6 3,6 15,21 10,15 7,15 4,12 -17,0 -4-12 -10-21 -10-15 -16-21 -1-6 0-3 5-12 0-6 -2-3 -5-4 -3-1 -9,1 -3-4 -2-13 1-6 1-1 6-5 3-3 1-6 -2-12 -2-3 -6-7 -1-5 -2-15 -1-21 1-7 2-2 7-3 3-3 1-3 -2-12 0-3 3-6 3-3 16-12 12-14 6-5 6-3 18-6 15-8 6-3zM474,109l3,1 4,4 0,3 -4,3 -3,0 -3-3 -1-3 1-3zM473,114l1,2 3,1 1-3 -1-1 -3,0zM426,149l6,0 12,5 6,5 5,9 1,16 3,11 4,9 1,15 0,6 -2,9 -3,5 -3,3 -6,3 -6,2 -6,1 -3-1 -3-3 -3-13 -6,0 -5-3 -9-12 -1-6 2-12 2-6 6-15 3-21 1-3 2-3zM425,153l-2,6 -2,18 -4,18 0,6 2,6 4,6 6,4 12-1 3,3 3,0 3-3 4-9 0-9 -1-24 -1-6 -2-5 -3-4 -6-4 -9-4 -3,0 -3,1zM516,244l3,0 3,5 3,0 4,3 2,3 2,9 -3,12 -6,9 -3,9 -6,9 0,3 -4,0 0-3 6-9 2-9 -1-9 -2-3 -3-3 -9,0 -3-3 -3,2 -3,6 -3,4 -11,9 -11,18 -12,0 11-18 4-9 5-6 6-9 6-6 5-8 9-4 6,1 3-1z"/>
<path fill="#5C53F5" d="M30,-6l-2,18 -1,33 2,6 3,3 4,2 3,1 6-1 5-2 4-3 3-6 0-6 -2-15 1-21 -1-9 1,0 1,30 4,15 0,6 -2,6 -5,4 -9,5 -6,1 -6-2 -3-2 -3-3 -3-6 4-54zM522,-6l3,0 0,6 1,6 3,6 8,9 3,6 0,6 -2,3 -9,12 -1,3 -1,6 2,9 6,15 2,6 0,6 -3,12 -9,21 -3,13 -3,5 -3,2 -3,0 -3,0 -3-1 -5-7 -4-9 -7-18 -11-16 -3-5 -3-6 -1-9 0-21 -1-6 -3-6 -4-6 -6-4 -6-1 -6,2 -7,6 -4,6 -4,10 -9,45 -9,17 -3,3 -3,2 -6,0 -3-1 -5-4 -4-6 -7-15 -5-7 -3-3 -9-5 -9-2 -9,1 -9,3 -9,5 -18,11 -12,6 -45,18 -9,2 -6,1 -12-1 -9-3 -6-4 -6-6 -4-10 -5-27 -3-12 -8-15 -7-9 -9-6 -12-4 -9,1 -6,3 -6,5 -9,10 -3,4 0,17 -2,6 -3,9 -1,3 1,12 4,15 0,9 -1,6 -5,18 0,9 1,6 3,6 4,3 5,2 6-1 6-3 3-2 6-7 2-1 1,0 3,1 1,2 0,3 -3,9 -1,9 4,21 -2,6 -2,7 -17,35 -7,16 -3,14 -3,24 -15,0 8-33 10-32 5-7 19-22 3-6 0-5 -3-12 -1-12 0-3 -2-2 -6,1 -6,3 -6,2 -6,0 -3-1 -5-3 -4-6 -2-6 -1-9 2-9 6-18 2-9 0-6 -2-12 -2-12 0-3 5-15 0-18 1-3 15-20 6-6 6-3 9,0 21,8 8,6 8,12 8,18 3,12 2,21 2,9 5,6 3,3 6,2 9,1 9-1 9-2 39-15 18-9 21-13 6-3 6-2 9,0 12,1 9,4 6,6 5,7 4,8 3,9 3,4 6,6 3,1 3,0 3-1 3-3 10-15 5-24 1-24 3-9 9-9 8-6 6-1 6,1 6,3 2,3 8,15 1,6 -2,12 0,9 1,6 2,6 4,6 10,12 3,6 3,6 3,12 4,9 3,3 3,2 3,1 3-1 3-2 2-3 1-3 1-9 8-18 3-9 0-6 0-6 -2-6 -8-18 -2-9 1-6 1-3 10-12 1-3 0-3 -1-3 -8-9 -3-6 -2-6 0-9zM564,-6l2,0 4,12 3,6 3,3 9,7 23,11 9,6 6,6 23,30 5,4 9,3 3,2 2,6 1,30 -2,6 -5,6 -1,3 2,4 6,4 3,7 2,18 -1,18 -2,6 -2,5 -3,3 -9-1 -4,2 -1,3 1,3 4,2 6,0 3,1 1,9 -1,9 -3,9 -1,6 -2,4 -9,11 -9,8 -6,4 -3,5 -2,7 -2,9 -5,12 -3-1 -3-3 -3-1 -3,3 -3,1 -2,4 -30,0 -1-6 1-3 2-5 3,0 6-2 3,1 3-2 6-7 6-2 3,0 6,2 3,0 3-2 6-8 2-8 4-5 9-4 8-6 4-4 3-5 4-12 0-6 -1-3 -9-6 -3-3 -2-3 0-3 1-3 2-3 2-2 3-1 9-1 3-1 3-4 1-6 2-15 -2-15 -3-6 -8-6 -2-3 0-3 2-6 4-6 2-6 1-9 -1-9 -2-6 -1-3 -11-7 -6-5 -31-36 -12-9 -20-12 -8-6 -5-6 -4-15zM816,2l6-1 9,0 21,6 12-1 6,1 15,4 18,1 3,1 3,2 6,8 9,7 9,4 12,3 0,7 -12-3 -6-3 -12-10 -9-11 -3-1 -15,0 -24-6 -12,0 -18-3 -9,0 -12,3 -18,10 -18,6 -6,3 -6,5 -9,11 -18,14 -6,7 -1,6 2,9 0,3 -1,3 -3,3 -7,3 -2,2 -1,7 1,21 2,15 1,5 6,7 2,3 2,12 -1,6 -3,3 -6,5 -1,1 -1,6 2,12 3,5 9-1 3,1 5,4 2,3 0,6 -5,12 0,3 1,6 16,21 10,15 10,21 4,12 -16,0 -4-21 -5-12 -12-18 -6-6 -10-9 -2-3 1-6 -1-3 -6-5 1-16 -2-18 0-9 1-4 3-3 4-2 1-3 -2-9 0-6 -4-6 -2-5 -3-43 3-10 6-2 3-3 0-3 -4-6 0-3 0-6 4-6 12-11 12-8 9-12 6-5 6-3 15-5 15-9 9-4zM732,207l-3,3 0,3 3,3 3,0 3-2 1-4 -3-3 -4,0zM474,113l3,0 1,1 -1,3 -3-1 -1-2zM426,152l3-1 3,0 9,4 6,4 3,4 2,5 1,6 1,24 0,9 -4,9 -3,3 -3,0 -3-3 -12,1 -6-4 -4-6 -2-6 0-6 4-18 2-18 2-6zM426,156l-1,6 0,12 -3,15 0,6 2,6 5,5 3,2 3,0 6-2 3-1 4-4 2-6 1-6 0-15 -1-6 -4-6 -8-6 -6-3 -3,0 -3,3zM501,267l3,3 9,0 3,3 2,3 1,9 0,3 -2,6 -6,9 0,3 -13,0 -2-3 -4-2 -3-1 -6,6 -13,0 11-18 11-9 3-4 3-6 3-2z"/>
<path fill="#595AF6" d="M27,-6l1,0 -4,54 3,6 3,3 3,2 6,2 6-1 6-3 5-3 4-6 1-6 -4-15 -1-6 0-27 2,0 0,30 2,6 5,9 2,6 -1,3 -1,3 -2,3 -4,3 -14,6 -6,1 -6-1 -6-4 -4-5 -2-3 -1-3 4-20 2-34zM168,-3l5-3 16,0 2,3 1,3 0,12 2,6 19,36 4,12 1,12 -2,18 1,6 2,3 3,3 6,1 6-1 6-1 36-12 12-5 12-6 11-6 7-6 5-6 4-6 2-6 0-12 -3-6 -2-3 -6-4 -12-8 -3-3 -1-3 0-6 2-6 4-9 49,0 9,6 2,3 2,3 2,6 -1,6 -1,3 -4,6 -11,9 -2,3 -2,4 -4,14 1,3 3,2 12,0 6,3 3,3 9,12 8,16 4,11 6,6 3,1 3,0 3-3 9-10 2-5 4-21 0-9 -3-18 0-6 1-3 5-5 9-6 6-6 3-2 6-1 9,1 6,4 6,6 3,7 5,8 1,3 0,6 -3,10 -1,8 0,6 2,6 5,9 11,12 4,6 2,6 2,12 2,5 3,4 3,2 3,1 3,0 4-3 1-3 0-9 7-15 3-9 1-6 -1-9 -2-6 -10-18 -4-12 -1-6 1-3 4-5 9-7 1-3 -8-9 -4-9 -1-15 5,0 0,9 2,6 3,6 8,9 1,3 0,3 -1,3 -10,12 -1,3 -1,6 2,9 8,18 2,6 0,6 0,6 -3,9 -8,18 -1,9 -1,3 -2,3 -3,2 -3,1 -3-1 -3-2 -3-3 -4-9 -3-12 -3-6 -3-6 -10-12 -4-6 -2-6 -1-6 0-9 2-12 -1-6 -8-15 -2-3 -6-3 -6-1 -6,1 -8,6 -9,9 -3,9 -1,24 -5,24 -10,15 -3,3 -3,1 -3,0 -3-1 -6-6 -3-4 -3-9 -4-8 -5-7 -6-6 -9-4 -12-1 -9,0 -6,2 -6,3 -21,13 -18,9 -39,15 -9,2 -9,1 -9-1 -6-2 -3-3 -5-6 -2-9 -2-21 -2-9 -3-9 -6-12 -7-11 -4-4 -5-3 -18-7 -6-2 -6,1 -6,3 -3,3 -18,23 -1,3 0,18 -5,15 0,3 2,12 2,12 0,6 -2,9 -7,21 -1,9 1,6 2,6 4,6 5,3 3,1 6,0 6-2 6-3 6-1 2,2 0,3 1,12 3,12 0,5 -3,6 -19,22 -5,7 -10,32 -8,33 -27,0 7-18 12-27 7-12 11-18 5-10 3-3 21-11 2-3 0-3 -7-12 -1-9 -6,5 -3,2 -9,2 -3-1 -6-3 -6-3 -4-5 -3-6 -1-6 -1-9 3-12 10-21 3-9 0-6 -3-15 0-9 3-15 1-15 1-6 7-12 8-19 3-5 3-3 6-4 12-5 8-3zM567,-6l4,0 2,9 3,6 4,6 5,4 9,5 21,6 6,3 3,3 12,17 18,21 3,0 6-1 3-1 3,3 1,6 -2,18 0,24 -1,6 -2,6 4,6 1,6 2,12 0,12 -1,15 -3,18 0,12 -2,12 -2,9 -1,8 -2,4 -19,27 -6,5 -2,4 -3,15 1,6 -28,0 2-4 3-1 3-3 3,1 3,3 3,1 5-12 2-9 2-7 3-5 6-4 9-8 9-11 2-4 1-6 3-9 1-9 -1-9 -3-1 -6,0 -4-2 -1-3 1-3 4-2 9,1 3-3 2-5 2-6 1-18 -2-18 -3-7 -6-4 -2-4 1-3 5-6 2-6 0-13 -1-20 -2-3 -3-2 -9-3 -3-2 -27-34 -4-4 -9-6 -23-11 -9-7 -3-3 -3-6 -4-12zM807,-3l7-3 18,0 20,9 15-1 6,1 12,4 12-1 6,1 6,4 9,10 6,4 9,3 12,2 0,7 -12-3 -9-4 -9-7 -6-8 -3-2 -3-1 -18-1 -15-4 -6-1 -12,1 -18-5 -12-1 -12,3 -21,12 -15,5 -6,3 -6,5 -9,12 -12,8 -14,14 -2,3 0,6 0,3 4,6 0,3 -3,3 -6,2 -3,10 3,43 2,5 4,6 0,6 2,9 -1,3 -4,2 -3,3 -1,4 0,9 2,18 -1,15 2,3 4,3 1,3 -1,6 2,3 10,9 6,6 12,18 5,12 4,21 -12,0 -2-18 -3-12 -5-9 -5-9 -5-6 -7-6 -9-6 -2-3 4-27 -2-30 2-12 0-9 2-6 -2-9 -3-42 1-13 2-8 -1-18 2-6 10-6 7-9 4-3 9-4 2-2 5-9 5-6 9-4 12-2 3-1 12-10 8-4zM426,156l3-3 3,0 6,3 8,6 4,6 1,6 0,15 -1,6 -2,6 -4,4 -3,1 -6,2 -3,0 -3-2 -5-5 -2-6 0-6 3-15 0-12 1-6zM429,156l-2,3 1,15 -2,12 1,6 2,5 3,2 3,1 6-1 3-2 3-4 2-4 0-18 -2-4 -8-8 -7-4 -3,1zM732,207l4,0 3,3 -1,4 -3,2 -3,0 -3-3 0-3 3-3zM486,302l3-2 3,1 4,2 2,3 -15,0 2-3z"/>
<path fill="#5862F6" d="M26,-3l-2,31 -4,20 1,3 4,6 8,6 3,1 6,0 17-7 4-3 2-3 1-3 0-6 -1-3 -5-9 -2-6 0-30 2,0 -1,12 1,18 3,6 9,9 1,3 2,6 -2,6 -4,5 -6,2 -12,3 -6,3 -6,2 -6-1 -3-2 -13-12 -2-3 0-3 1-3 2-2 3-8 3-29 0-12 2,0zM135,-6l38,0 -6,3 -17,6 -9,6 -3,3 -3,5 -8,19 -7,12 -1,6 -1,15 -3,15 0,9 3,15 0,6 -3,9 -7,15 -4,9 -2,9 0,6 2,9 4,7 6,6 9,4 6,0 6-1 3-2 6-5 1,9 7,12 0,3 -2,3 -21,11 -3,3 -5,10 -11,18 -7,12 -12,27 -7,18 -36,0 15-27 9-12 9-15 13-21 5-9 3-9 0-6 -5-9 -5-15 -1-12 1-12 2-9 3-9 5-9 9-13 3-6 1-5 -2-15 -1-9 4-30 2-6 6-18 5-24 5-12zM192,-6l11,0 2,15 4,12 28,45 2,3 1,12 3,3 6,2 9,0 12-1 6-2 12-5 16-9 3-3 1-3 0-9 -1-6 -3-6 -13-17 -16-16 0-6 1-9 32,0 -4,9 -2,6 0,6 1,3 3,3 12,8 6,4 2,3 3,6 0,9 -1,6 -1,3 -6,9 -10,9 -17,9 -15,7 -42,14 -9,1 -6-1 -3-3 -2-3 -1-6 2-18 -1-12 -4-12 -19-36 -2-6 0-12 -3-6zM357,-6l68,0 2,3 8,5 12,3 9,4 6,4 9,8 6,6 6,8 4,4 2,3 1,3 -3,6 -4,7 -4,8 -1,9 1,9 4,6 12,12 6,9 2,6 0,9 2,6 5,5 3,2 3,0 3-4 0-9 1-3 5-9 2-6 2-9 -1-12 -3-9 -25-30 -3-6 2-6 8-9 3-5 2-13 -1-15 5,0 1,12 2,9 3,5 7,7 -1,3 -9,7 -4,5 -1,3 1,6 4,12 10,18 2,6 1,9 -1,6 -3,9 -7,15 0,9 -1,3 -4,3 -3,0 -3-1 -3-2 -3-4 -2-5 -2-12 -2-6 -4-6 -11-12 -5-9 -2-6 0-6 1-8 3-13 -1-6 -10-18 -7-5 -6-3 -6,0 -6,1 -3,2 -6,6 -9,6 -5,5 -1,3 0,6 3,18 0,9 -4,21 -2,5 -9,10 -3,3 -3,0 -6-4 -4-5 -3-9 -8-16 -9-12 -3-3 -6-3 -12,0 -3-2 -1-3 4-14 2-4 2-3 8-6 5-6 3-6 1-3 -1-6 -3-6 -2-3 -9-6zM393,48l-6,4 -4,5 -1,6 2,9 4,15 8,17 3,2 3,1 3-1 9-7 3-6 3-15 0-9 -3-8 -3-5 -6-6 -6-3 -3-1 -6,2zM573,-6l2,0 2,9 2,6 5,6 4,3 6,3 20,3 10,4 6,5 7,12 5,6 6,4 6,2 6-1 6-5 7-12 8-20 3-6 5-4 6-3 10-3 12-2 6,1 15,5 6,1 36-8 6-3 3-3 25,0 -13,6 -15,11 -3,1 -12,2 -9,4 -5,6 -5,9 -2,2 -12,6 -3,2 -5,8 -10,6 -1,3 -1,6 1,15 -2,8 -1,13 3,42 2,9 -2,6 0,9 -2,12 2,30 -4,27 2,3 9,6 7,6 5,6 5,9 5,9 3,12 2,18 -11,0 0-18 -2-12 -3-9 -7-12 -6-6 -10-9 -1-3 3-21 1-12 -1-27 2-27 -3-48 1-24 -2-9 -3-7 -3-3 -3-2 -6,0 -9,2 -6,4 -3,3 -4,6 -4,12 -3,15 0,33 3,21 0,24 -1,18 -1,9 -2,20 -2,13 -1,9 -10,18 -6,12 -5,14 -5,10 -1,6 -7,0 -1-6 3-15 2-4 6-5 19-27 2-4 1-8 2-9 2-12 0-12 3-18 1-15 0-12 -2-12 -1-6 -4-6 2-6 1-6 0-24 2-18 -1-6 -3-3 -3,1 -6,1 -3,0 -18-21 -9-14 -6-6 -9-4 -21-6 -8-5 -3-3 -4-6 -3-6 -2-9zM834,-6l17,0 4,1 12,0 6,1 12,4 12,0 6,2 6,3 7,10 5,4 9,3 15,2 0,6 -12-2 -9-3 -6-4 -9-10 -6-4 -6-1 -12,1 -12-4 -6-1 -15,1 -20-9zM429,156l3-1 7,4 8,8 2,4 0,18 -2,4 -3,4 -3,2 -6,1 -3-1 -3-2 -2-5 -1-6 2-12 -1-15 2-3zM432,159l-1,3 0,12 -2,9 1,6 2,3 3,2 3,1 3-1 3-3 2-5 1-12 -1-3 -2-4 -5-5 -7-3z"/>
<path fill="#576AF6" d="M24,-6l0,9 -2,27 -2,9 -5,9 0,3 2,3 13,12 3,2 3,1 6-1 9-4 15-4 6-4 2-5 0-6 -1-3 -3-6 -7-6 -3-6 -1-24 1-6 2,0 -2,9 1,15 1,6 1,2 3,2 9,5 4,3 3,6 5,18 0,9 -3,4 -18-4 -12-1 -3,0 -6,4 -12,3 -3-1 -8-11 -4-4 -12-9 -2-2 -1-3 1-3 2-1 9-1 3-4 3-12 1-12 1-12 -1-6zM117,-4l0-2 17,0 -5,12 -5,24 -6,18 -2,6 -4,30 1,9 2,15 -1,5 -3,6 -9,13 -5,9 -3,9 -2,9 -1,12 1,9 5,18 5,9 1,3 -2,6 -7,15 -13,21 -9,15 -9,12 -15,27 -37,0 5-12 37-57 1-3 -2-3 1-3 7-12 7-15 5-15 4-24 9-21 5-9 5-6 13-12 2-3 1-3 -2-12 0-12 3-24 6-21 2-12 -1-9 -3-15 1-6zM204,-6l11,0 0,9 0,6 3,6 4,5 9,5 18,6 2,2 0,3 0,15 1,6 4,6 5,4 3,2 6,0 6-1 5-2 6-6 2-3 1-6 -3-9 -4-6 -4-4 -6-3 -15-1 -3-1 -1-3 -1-3 0-27 23,0 -1,9 0,6 16,16 13,17 3,6 1,9 0,6 -1,3 -3,3 -16,9 -12,5 -9,2 -12,1 -6,0 -6-2 -3-3 -1-12 -2-3 -12-21 -12-16 -6-11 -2-9 -2-15zM426,-6l38,0 6,15 4,5 6,4 9,2 6,0 3-2 4-3 2-3 2-6 0-6 -1-6 6,0 1,15 -2,12 -3,6 -8,9 -2,6 3,6 25,30 3,9 1,12 -2,9 -2,6 -5,9 -1,3 0,9 -3,4 -3,0 -3-2 -5-5 -2-6 0-9 -2-6 -6-9 -12-12 -3-4 -2-5 0-6 1-9 1-3 9-15 1-3 -1-3 -6-7 -9-11 -12-11 -9-5 -18-6 -8-5 -2-3zM488,60l-2,1 -4,5 -2,6 0,9 3,6 13,12 7,9 4,6 0,3 -1,9 0,3 6,6 4,1 1-1 0-3 0-9 5-7 3-8 1-12 -2-12 -4-6 -16-14 -3-2 -6-3 -6,1zM576,-6l4,0 2,12 3,5 3,4 6,3 18,1 9,2 6,3 6,5 11,16 4,3 3,0 3,0 3-2 5-7 5-9 3-9 1-9 1-9 2-3 7-6 108,0 -3,3 -6,3 -33,8 -9-1 -15-5 -6-1 -12,2 -12,4 -6,3 -3,3 -3,6 -8,20 -7,12 -6,5 -6,1 -6-2 -6-4 -5-6 -7-12 -6-5 -10-4 -20-3 -6-3 -4-3 -5-6 -2-6 -2-9zM852,-6l53,0 7,6 6,12 3,3 3,1 6,1 15,0 0,7 -15-2 -9-3 -5-4 -7-10 -6-3 -6-2 -12,0 -15-5 -15,0 -4-1zM393,48l6-2 3,1 6,3 6,6 3,5 3,8 0,9 -3,15 -3,6 -9,7 -3,1 -3-1 -3-2 -8-17 -4-15 -2-9 1-6 4-5 6-4zM395,63l-2,3 -3,9 1,9 2,6 3,5 3,2 3,1 3,0 6-3 3-4 3-10 0-6 -1-6 -2-3 -6-4 -6-2 -6,2zM699,57l6,0 3,2 3,3 3,7 2,9 -1,24 3,48 -2,27 1,27 -1,12 -3,21 1,3 10,9 6,6 7,12 3,9 2,12 0,18 -10,0 3-18 -2-15 -3-9 -3-6 -6-9 -7-7 -2-5 3-21 1-12 -1-27 1-45 -2-33 1-15 -2-12 -3-6 -5-4 -6-1 -6,1 -3,1 -3,2 -5,4 -5,9 -4,12 -1,9 -1,12 2,27 2,24 0,15 -3,33 -4,36 -2,5 -6,13 -4,12 -2,12 1,18 -16,0 1-6 5-10 5-14 6-12 10-18 1-9 2-13 2-20 1-9 1-18 0-24 -3-21 0-30 1-12 5-15 5-9 3-3 6-4 7-2zM432,159l7,3 5,5 2,4 1,3 -1,12 -2,5 -3,3 -3,1 -3-1 -3-2 -2-3 -1-6 2-9 0-12 1-3zM437,177l-2,1 -2,5 0,3 2,3 3,1 3-1 2-3 1-3 -3-7 -3-1z"/>
<path fill="#5671F6" d="M21,-6l1,0 1,6 -1,6 -1,17 -3,13 -3,4 -9,1 -2,1 -1,3 1,3 2,2 12,9 4,4 8,11 3,1 12-3 6-4 3,0 12,1 18,4 3-4 0-9 -6-21 -3-4 -3-2 -9-5 -3-2 -1-2 -1-6 -1-15 2-9 2,0 -3,9 3,18 2,3 12,5 3,2 3,3 8,17 2,6 0,9 0,6 2,4 3,3 3,1 3-1 3-7 1-15 5-15 0-6 0-12 -6-21 -1-9 10,0 -1,9 3,15 1,9 -2,12 -6,21 -3,24 0,12 2,12 -1,3 -2,3 -13,12 -5,6 -5,9 -9,21 -4,24 -5,15 -7,15 -7,12 -1,3 2,3 -1,3 -37,57 -5,12 -17,0 0-24 6-9 2-6 -3-3 -1-3 8-11 15-25 17-21 10-21 14-33 19-30 1-12 0-3 -2-6 -8-12 -6-7 -9-5 -3,0 -15,1 -3,2 -6,8 -3,1 -3-3 -1-12 -3-6 -5-5 -12-7 -4-3 -1-3 -1-3 1-3 2-3 3-2 9-3 2-1 4-8 3-22 -3-9zM216,-6l37,0 0,27 1,3 1,3 3,1 12,0 6,2 4,3 5,6 2,3 2,6 1,6 -1,3 -4,6 -6,4 -9,2 -6,0 -3-2 -3-2 -4-5 -3-9 0-18 -2-2 -21-7 -6-4 -3-3 -4-8 0-6 0-9zM227,0l-1,3 0,3 2,4 3,2 3,0 4-3 1-3 -1-3 -1-3 -3-2 -3,0 -3,1zM267,42l-3,3 0,3 1,3 2,2 3,0 3-2 2-3 -1-3 -3-3 -4,0zM465,-6l12,0 -1,9 2,6 5,4 6,1 6-2 3-3 1-3 1-6 -2-6 7,0 2,9 -3,9 -3,4 -3,2 -3,2 -6,0 -9-2 -6-4 -4-5 -6-15zM582,-6l4,0 1,12 5,6 5,2 15,1 9,3 6,2 6,5 6,7 6,6 3,2 3,0 3-2 3-3 3-5 3-6 3-12 0-12 3-6 12,0 -7,6 -2,3 -1,9 -1,9 -3,9 -5,9 -5,7 -3,2 -3,0 -3,0 -4-3 -11-16 -6-5 -6-3 -9-2 -18-1 -6-3 -3-4 -3-5 -2-12zM906,-6l12,0 2,6 1,7 1,2 2,2 3,1 6,0 12-3 0,8 -12,0 -6,0 -6-2 -3-3 -6-12 -7-6zM489,60l6-1 6,3 3,2 16,14 4,6 2,12 -1,12 -3,8 -5,7 0,9 0,3 -1,1 -4-1 -6-6 0-3 1-9 0-3 -4-6 -7-9 -13-12 -3-6 0-9 2-6 4-5 2-1zM487,66l-3,3 -2,6 0,6 2,3 5,6 9,7 15,16 3,1 3-1 3-6 1-8 -1-9 -3-7 -18-15 -6-3 -6,0zM396,62l6-2 6,2 6,4 2,3 1,6 0,6 -3,10 -3,4 -6,3 -3,0 -3-1 -3-2 -3-5 -2-6 -1-9 3-9 2-3zM402,69l-3,2 -3,4 -1,3 0,6 1,3 3,3 3,1 3,0 3-1 3-2 2-4 1-6 -1-3 -2-4 -3-2 -3,0zM693,62l3-1 6,0 6,3 4,5 2,6 1,9 -1,15 2,33 -1,45 1,24 0,12 -4,24 2,5 7,7 6,9 3,6 3,9 2,15 -3,18 -12,0 5-9 2-6 1-9 0-9 -1-6 -3-9 -6-9 -4-5 -3-7 4-24 0-12 -1-33 1-18 0-18 -2-51 -1-6 -4-8 -3-2 -6-2 -6,1 -3,2 -6,4 -5,8 -5,15 -1,18 0,21 3,30 -1,27 -6,59 -6,16 -2,12 0,9 2,6 2,6 4,9 -14,0 -1-9 0-12 5-18 7-16 2-5 6-60 1-24 -2-24 -2-27 1-18 4-12 4-9 4-5 7-4zM438,175l3,1 3,7 -1,3 -2,3 -3,1 -3-1 -2-3 0-3 2-5 2-1z"/>
<path fill="#557AF6" d="M15,-6l3,0 3,9 -3,22 -4,8 -2,1 -9,3 -3,2 -2,3 -1,3 1,3 1,3 4,3 12,7 5,5 3,6 1,12 3,3 3-1 6-8 3-2 15-1 3,0 9,5 6,7 8,12 2,6 0,3 -1,12 -19,30 -14,33 -10,21 -17,21 -15,25 -8,11 1,3 3,3 -1,3 -7,12 0-63 9-11 17-25 17-30 16-24 3-6 0-3 -2-3 1-3 3-6 2-6 -1-9 -3-6 -2-3 -4-3 -8-2 -3,0 -2,2 -4,12 -3,3 -3,1 -3,0 -3-2 -3-3 -1-5 1-15 0-3 -1-3 -5-3 -12-4 -6-3 0-21 6-3 11-5 4-5 2-10 1-6 -2-6 -2-6zM63,-4l1-2 4,0 -4,6 -1,3 1,6 2,9 4,3 11,4 3,2 3,3 6,10 6,6 3,2 3-2 3-4 1-9 -1-8 -5-16 -4-15 8,0 1,9 5,18 2,9 -1,12 -5,15 -1,15 -3,7 -3,1 -3-1 -3-3 -2-7 -1-15 -8-18 -5-6 -14-6 -2-3 -2-15 0-6 1-3zM102,60l-3,1 -2,5 1,3 1,3 3,1 3-4 0-3 0-3 -3-3zM477,-6l21,0 2,6 -1,6 -1,3 -3,3 -6,2 -6-1 -5-4 -2-6 1-9zM485,0l-2,3 0,3 3,3 3,0 3-3 1-3 -2-3 -2-1 -3,0zM588,-6l4,0 2,8 3,4 30,11 6,4 9,11 3,1 3,1 3-1 3-2 3-4 4-12 3-21 5,0 -3,6 0,12 -3,12 -3,6 -3,5 -3,3 -3,2 -3,0 -3-2 -6-6 -6-7 -6-5 -6-2 -9-3 -15-1 -5-2 -5-6 -1-12zM921,-6l7,0 0,9 2,2 3,0 3-2 9-9 0,15 -15,3 -6-1 -2-2 -1-3 -1-6 -2-6zM228,-1l3-1 3,0 3,2 1,3 1,3 -1,3 -4,3 -3,0 -3-2 -2-4 0-3 1-3zM267,42l4,0 3,3 1,3 -2,3 -3,2 -3,0 -2-2 -1-3 0-3 3-3zM489,65l6,0 6,3 18,15 3,7 1,9 -1,8 -3,6 -3,1 -3-1 -15-16 -9-7 -5-6 -2-3 0-6 2-6 3-3zM491,69l-2,1 -3,4 -1,4 1,3 3,4 11,8 10,10 3,1 3,0 2-5 0-3 -1-6 -2-3 -2-3 -14-12 -4-2 -3-1zM690,66l3-2 6-1 6,2 3,2 3,5 2,9 2,51 0,18 -1,18 1,33 0,12 -4,24 3,7 6,8 5,9 2,9 1,9 0,9 -2,6 -6,12 -14,0 8-7 5-8 4-9 0-9 -1-9 -1-6 -3-6 -7-12 0-3 3-21 0-15 -1-33 2-36 -2-45 -1-9 -3-6 -4-5 -3-1 -3-1 -6,1 -6,3 -3,3 -4,6 -2,6 -4,15 0,21 2,45 0,21 -6,60 -4,18 -1,9 1,9 3,9 6,8 9,7 -15,0 -5-12 -3-9 0-9 1-9 7-21 6-60 1-24 -3-30 0-24 0-12 3-12 3-6 5-8 5-4zM405,69l3,0 3,2 2,4 1,3 -1,6 -2,4 -3,2 -3,1 -3,0 -3-1 -3-3 -1-3 0-6 1-3 3-4 3-2zM401,78l-1,3 2,4 3,0 3-2 1-2 -1-4 -3-2 -3,2z"/>
<path fill="#5582F6" d="M9,-6l5,0 3,9 0,9 -2,10 -4,5 -11,5 -6,3 0-10 12-4 3-2 3-4 1-6 0-3 -1-3 -6-9zM66,-3l2-3 8,0 -7,6 -2,3 0,3 2,7 3,3 3,1 12,3 6,3 1,1 1,9 1,2 3,2 3-3 0-4 -3-5 -2-1 -2-3 -1-18 -1-3 -3-6 9,0 4,15 6,18 0,9 -1,6 -3,4 -3,2 -3-2 -6-6 -6-10 -3-3 -3-2 -11-4 -4-3 -2-9 -1-6 3-6zM594,-6l6,0 3,6 3,3 10,6 11,5 6,3 4,4 5,7 3,2 3,0 3-2 3-4 4-12 2-18 4,0 -1,6 -1,12 -2,9 -3,6 -3,4 -3,2 -3,1 -3-1 -3-1 -9-11 -6-4 -30-11 -3-4 -2-8zM930,-6l15,0 -9,9 -3,2 -3,0 -2-2 0-9zM486,-1l3,0 2,1 2,3 -1,3 -3,3 -3,0 -3-3 0-3 2-3zM-5,57l7,3 10,3 5,3 1,3 0,3 -1,15 1,5 3,3 3,2 3,0 3-1 3-3 4-12 2-2 3,0 8,2 4,3 4,6 2,9 -1,6 -4,9 -1,3 2,3 0,3 -3,6 -16,24 -17,30 -17,25 -9,11 0-60 15-18 3-6 2-6 0-3 -2-9 -9-15 -1-3 3-12 2-6 5-6 1-3 0-3 -1-2 -3-1 -9,2 -6,0 0-12zM102,60l3,3 0,3 0,3 -3,4 -3-1 -1-3 -1-3 2-5 3-1zM696,65l6,1 5,3 4,6 1,6 3,51 -2,36 1,33 0,15 -3,21 0,3 7,12 3,6 1,6 1,9 0,9 -4,9 -5,8 -8,7 -22,0 -6-4 -6-7 -3-5 -3-8 -1-9 1-9 4-18 6-60 0-24 -2-51 0-15 2-9 6-12 5-6 7-3zM690,69l-6,5 -4,7 -3,9 -2,9 0,12 2,51 0,15 -2,34 -4,38 -3,12 0,9 1,6 3,8 3,5 6,6 6,3 6,1 6-1 6-2 6-4 5-7 2-6 2-9 -2-12 -2-6 -5-10 -1-5 3-21 1-15 -1-33 1-36 -2-45 0-6 -2-6 -5-6 -6-2 -6,1zM492,69l3,1 4,2 14,12 2,3 2,3 1,6 0,3 -2,5 -3,0 -3-1 -10-10 -11-8 -3-4 -1-3 1-4 3-4 2-1zM402,77l3-2 3,2 1,4 -1,2 -3,2 -3,0 -2-4 1-3z"/>
<path fill="#548BF6" d="M-3,-6l9,0 6,9 1,6 -1,6 -3,4 -6,3 -9,3 0-31zM75,-5l1-1 14,0 3,6 1,3 1,18 2,3 2,1 3,5 0,3 -1,3 -2,1 -3-2 -2-5 0-6 -1-1 -6-3 -12-3 -3-1 -3-3 -2-7 0-3 2-3 3-3zM603,-6l6,0 3,6 6,6 17,9 10,10 3-1 6-10 2-8 1-12 3,0 -1,15 -2,9 -3,6 -3,4 -3,2 -3,0 -3-2 -5-7 -4-4 -6-3 -11-5 -10-6 -3-3 -3-6zM-3,68l12-2 3,1 1,2 0,3 -1,3 -5,6 -2,6 -3,12 1,3 9,15 2,9 0,3 -2,6 -3,6 -15,18 0-91zM693,68l6-1 6,2 5,6 2,6 0,6 2,45 -1,36 1,33 -1,15 -3,21 1,5 5,10 2,6 2,12 -2,9 -2,6 -5,7 -6,4 -6,2 -6,1 -6-1 -6-3 -6-6 -3-5 -3-8 -1-6 0-9 3-12 4-38 2-34 0-15 -2-51 0-12 2-9 3-9 4-7 6-5zM693,69l-6,4 -4,5 -4,9 -3,12 -1,15 3,48 0,15 -2,36 -6,51 1,6 2,6 2,4 4,5 5,4 3,2 6,1 6-1 6-3 7-6 4-9 1-9 -2-9 -4-11 -1-7 3-24 0-12 -1-33 1-36 -1-45 -2-9 -3-6 -5-3 -6-1z"/>
<path fill="#5894F2" d="M612,-6l6,0 2,6 3,3 16,11 6,2 3-2 4-5 2-6 0-9 3,0 -1,12 -1,6 -4,7 -3,5 -3,1 -10-10 -17-9 -6-6 -3-6zM696,68l6,1 5,3 3,6 2,9 1,45 -1,36 1,33 0,12 -3,24 1,7 4,11 2,9 -1,9 -4,9 -7,6 -6,3 -6,1 -6-1 -3-2 -5-4 -4-5 -2-4 -2-6 -1-6 6-51 2-36 0-15 -3-48 1-15 3-12 4-9 4-5 6-4zM690,72l-4,3 -4,6 -3,9 -2,9 -1,15 3,48 0,15 -7,84 1,6 2,6 3,5 6,5 6,3 3,0 6-1 6-3 3-3 4-6 2-6 0-6 0-6 -4-12 -1-6 3-24 1-12 -2-33 2-36 -2-45 -2-9 -4-6 -3-2 -3-1 -6,1 -3,2z"/>
<path fill="#5D9FED" d="M618,-6l8,0 2,6 3,3 5,5 6,2 3,0 3-2 2-5 1-3 -1-6 4,0 0,9 -2,6 -4,5 -3,2 -6-2 -16-11 -3-3 -2-6zM690,72l3-2 6-1 3,1 3,2 4,6 2,9 2,45 -2,36 2,33 -1,12 -3,24 1,6 4,12 0,6 0,6 -2,6 -4,6 -3,3 -6,3 -6,1 -3,0 -6-3 -6-5 -3-5 -2-6 -1-6 7-84 0-15 -3-48 1-15 2-9 3-9 4-6 4-3zM692,72l-5,3 -4,6 -4,9 -2,12 0,12 2,48 0,15 -1,25 -4,41 0,15 0,6 3,6 4,6 3,2 3,2 6,1 6-1 3-1 6-6 3-6 1-6 0-6 -3-18 3-33 -1-36 1-30 0-24 -2-27 -2-9 -3-5 -3-2 -3,0 -6,0z"/>
<path fill="#62A9E8" d="M627,-6l9,0 -1,3 1,3 1,3 5,3 3-1 2-2 0-3 -3-6 6,0 1,6 -2,6 -1,2 -3,2 -3,0 -6-2 -5-5 -3-3 -2-6zM693,71l6,0 3,0 3,2 3,5 2,9 2,27 0,24 -1,30 1,36 -3,33 3,18 0,6 -1,6 -3,6 -6,6 -3,1 -6,1 -6-1 -3-2 -3-2 -4-6 -3-6 0-6 0-15 4-41 1-25 0-15 -2-48 0-12 2-12 4-9 4-6 5-3zM695,72l-6,3 -5,6 -4,9 -2,9 0,15 2,63 -5,75 0,6 1,6 5,8 6,4 3,1 6,0 6-3 4-4 3-6 2-6 -1-6 -2-15 3-33 -1-36 2-36 -2-42 -1-9 -4-6 -3-3 -6,0z"/>
<path fill="#66B2DF" d="M636,-5l0-1 8,0 3,6 0,3 -2,2 -3,1 -3-1 -2-2 -1-3 -1-3zM696,72l6,0 3,3 4,6 1,9 2,42 -2,36 1,36 -3,33 2,15 1,6 -2,6 -3,6 -4,4 -6,3 -6,0 -3-1 -6-4 -5-8 -1-6 0-6 5-75 -2-63 0-15 2-9 4-9 5-6 6-3zM690,75l-5,6 -3,6 -2,6 -1,9 0,18 2,42 0,15 -5,66 -1,9 3,11 3,5 3,3 6,2 3,1 6-2 6-5 3-5 1-7 -1-15 3-36 -1-36 1-45 -1-33 -2-9 -3-5 -3-2 -3-1 -6,0z"/>
<path fill="#69BAD1" d="M693,73l6,0 3,1 3,2 3,5 2,9 1,33 -1,45 1,36 -3,36 1,15 -1,7 -3,5 -6,5 -6,2 -3-1 -6-2 -3-3 -3-5 -3-11 1-9 5-66 0-15 -2-42 0-18 1-9 2-6 3-6 5-6zM692,75l-5,4 -3,5 -3,9 -2,9 0,18 2,42 0,15 -5,72 2,10 3,5 3,3 6,3 3,1 6-2 3-2 3-4 2-5 1-6 0-15 2-33 -1-36 2-30 0-18 -2-30 -2-9 -2-4 -3-2 -3-1 -6,0z"/>
<path fill="#6DC2C4" d="M693,74l6,0 3,1 3,2 2,4 2,9 2,30 0,18 -2,30 1,36 -2,33 0,15 -1,6 -2,5 -3,4 -3,2 -6,2 -3-1 -6-3 -3-3 -3-5 -2-10 5-72 0-15 -2-42 0-18 2-9 3-9 3-5 5-4zM695,75l-5,2 -5,7 -3,9 -2,9 0,18 2,57 -5,69 1,9 3,6 2,3 4,3 3,1 6-1 6-3 2-3 2-3 1-6 0-15 3-33 -1-36 1-36 -1-30 -1-18 -3-6 -3-2 -6-1z"/>
<path fill="#70C8B6" d="M696,75l6,1 3,2 3,6 1,18 1,30 -1,36 1,36 -3,33 0,15 -1,6 -2,3 -2,3 -6,3 -6,1 -3-1 -4-3 -2-3 -3-6 -1-9 5-69 -2-57 0-18 2-9 3-9 5-7 5-2zM691,78l-4,4 -4,8 -1,6 -2,9 2,72 -4,69 1,9 2,4 3,3 6,3 6,0 3-1 5-6 3-9 2-45 0-36 1-30 0-21 -2-27 -2-9 -4-4 -3-1 -6,0z"/>
<path fill="#72CAA9" d="M693,76l6,0 3,1 4,4 2,9 2,27 0,21 -1,30 0,36 -2,45 -3,9 -5,6 -3,1 -6,0 -6-3 -3-3 -2-4 -1-9 4-69 -2-72 2-9 1-6 4-8 4-4zM692,78l-3,3 -4,6 -2,6 -2,9 0,18 2,57 -5,69 2,9 4,5 6,3 6,0 3-2 3-3 2-3 2-6 2-33 1-15 -1-33 1-30 0-21 -1-24 -3-12 -3-3 -3-1 -6,0z"/>
<path fill="#74CC9D" d="M693,77l6,0 3,1 3,3 3,12 1,24 0,21 -1,30 1,33 -1,15 -2,33 -2,6 -2,3 -3,3 -3,2 -6,0 -6-3 -4-5 -2-9 5-69 -2-57 0-18 2-9 2-6 4-6 3-3zM694,78l-4,3 -4,6 -2,6 -2,9 0,18 1,57 -4,69 1,6 4,6 3,2 3,1 6,0 3-2 3-3 2-4 1-6 3-39 0-39 1-36 -1-30 -2-15 -1-5 -3-3 -3-2 -3,0z"/>
<path fill="#76CE90" d="M696,77l3,0 3,2 3,3 1,5 2,15 1,30 -1,36 0,39 -3,39 -1,6 -2,4 -3,3 -3,2 -6,0 -3-1 -3-2 -4-6 -1-6 4-69 -1-57 0-18 2-9 2-6 4-6 4-3zM691,81l-3,3 -3,6 -2,6 -1,9 0,18 2,54 -4,69 1,6 3,4 3,2 6,2 3-1 3-2 3-3 3-8 2-24 1-18 -1-36 1-30 0-21 -1-21 -2-12 -3-4 -3-2 -3,0 -3,2z"/>
<path fill="#74CC83" d="M693,80l3-2 3,0 3,2 3,4 2,12 1,21 0,21 -1,30 1,36 -1,18 -2,24 -3,8 -3,3 -3,2 -3,1 -6-2 -3-2 -3-4 -1-6 4-69 -2-54 0-18 1-9 2-6 3-6 3-3zM692,81l-3,3 -3,6 -2,6 -1,9 0,18 2,54 -5,69 3,6 4,5 6,1 3-1 3-2 3-3 2-6 3-24 0-18 0-36 1-30 0-21 -1-21 -2-10 -3-5 -3-1 -3-1 -3,2z"/>
<path fill="#70C876" d="M693,81l3-2 3,1 3,1 3,5 2,10 1,21 0,21 -1,30 0,36 0,18 -3,24 -2,6 -3,3 -3,2 -3,1 -6-1 -4-5 -3-6 5-69 -2-54 0-18 1-9 2-6 3-6 3-3zM695,81l-5,3 -3,5 -2,7 -2,9 0,18 2,54 -4,66 1,6 2,3 3,3 3,1 3,1 3-1 3-2 3-5 2-6 1-9 2-30 -1-36 2-36 -1-24 -2-19 -3-7 -3-1 -3,0z"/>
<path fill="#6EC669" d="M696,81l3,0 3,1 3,7 2,19 1,24 -2,36 1,36 -2,30 -1,9 -2,6 -3,5 -3,2 -3,1 -3-1 -3-1 -3-3 -2-3 -1-6 4-66 -2-54 0-18 2-9 2-7 3-5 5-3zM692,84l-3,3 -3,6 -2,12 0,18 1,54 -3,66 1,6 4,5 3,1 3,0 3-1 3-2 3-4 2-5 2-21 1-21 -1-33 1-33 0-21 -1-18 -2-9 -2-3 -3-2 -3,0 -3,1z"/>
<path fill="#6BC15C" d="M693,83l3-1 3,0 3,2 2,3 2,9 1,18 0,21 -1,33 1,33 -1,21 -2,21 -2,5 -3,4 -3,2 -3,1 -3,0 -3-1 -4-5 -1-6 3-66 -1-54 0-18 2-12 3-6 3-3zM693,84l-3,3 -3,5 -2,13 0,24 1,39 -4,75 2,6 3,3 3,2 3,0 3-1 3-2 3-5 2-6 1-18 1-21 -1-33 2-33 -1-21 -1-19 -2-8 -1-2 -3-2 -3,0 -3,1z"/>
<path fill="#68BC51" d="M693,84l3-1 3,0 3,2 1,2 2,8 1,19 1,21 -2,33 1,33 -1,21 -1,18 -2,6 -3,5 -3,2 -3,1 -3,0 -3-2 -3-3 -2-6 4-75 -1-39 0-24 2-13 3-5 3-3zM696,84l-3,1 -4,5 -2,6 -2,9 0,24 2,39 -4,72 1,6 3,5 3,1 3,0 3,0 3-3 3-5 2-10 2-30 -1-39 1-36 0-21 -2-15 -2-6 -3-3 -3,0z"/>
<path fill="#66B646" d="M696,84l3,0 3,3 2,6 2,15 0,21 -1,36 1,39 -2,30 -2,10 -3,5 -3,3 -3,0 -3,0 -3-1 -3-5 -1-6 4-72 -2-39 0-24 2-9 2-6 4-5 3-1zM692,87l-2,3 -3,6 -1,12 0,24 1,36 -3,75 1,3 1,3 4,2 3,0 3-1 3-2 3-5 1-6 2-24 -1-48 2-30 -1-24 -1-15 -2-7 -3-4 -3,0 -3,1z"/>
<path fill="#64B23C" d="M693,86l3-1 3,0 3,4 2,7 1,15 1,24 -2,30 1,48 -2,24 -1,6 -3,5 -3,2 -3,1 -3,0 -4-2 -1-3 -1-3 3-75 -1-36 0-24 1-12 3-6 2-3zM693,87l-3,3 -1,3 -2,6 -1,9 0,24 2,36 -4,72 2,6 1,2 3,2 3,0 3-1 3-3 3-5 1-7 2-30 -1-39 1-36 0-21 -2-15 -1-3 -3-3 -3-1z"/>
<path fill="#63AE3B" d="M696,86l3,1 3,3 1,3 2,15 0,21 -1,36 1,39 -2,30 -1,7 -3,5 -3,3 -3,1 -3,0 -3-2 -1-2 -2-6 4-72 -2-36 0-24 1-9 2-6 1-3 3-3zM691,90l-2,3 -1,6 -1,12 1,54 -3,75 1,6 4,3 3,0 3-1 3-3 3-5 1-3 0-15 1-30 -1-27 1-30 0-21 -2-21 -3-5 -3-1 -3,1z"/>
<path fill="#61AC39" d="M693,88l3-1 3,1 3,5 2,21 0,21 -1,30 1,27 -1,30 0,15 -1,3 -3,5 -3,3 -3,1 -3,0 -4-3 -1-6 3-75 -1-54 1-12 1-6 2-3zM692,90l-3,6 -2,15 2,54 -3,75 1,5 3,3 3,0 3-1 3-3 3-7 1-15 1-30 -1-27 1-33 0-18 -2-15 -1-6 -2-4 -3-1 -3,1z"/>
<path fill="#60A838" d="M693,89l3-1 3,1 2,4 1,6 2,15 0,18 -1,33 1,27 -1,30 -1,15 -3,7 -3,3 -3,1 -3,0 -3-3 -1-5 3-75 -2-54 2-15 3-6zM694,90l-3,3 -1,3 -2,15 1,54 -2,75 0,3 2,3 4,1 3-2 3-2 3-6 1-45 -1-27 1-33 0-21 -1-10 -2-8 -1-2 -3-2z"/>
<path fill="#64A836" d="M696,89l3,2 1,2 2,8 1,10 0,21 -1,33 1,27 -1,45 -3,6 -3,2 -3,2 -4-1 -2-3 0-3 2-75 -1-54 2-15 1-3 3-3zM692,93l-2,6 -2,15 2,51 -2,75 0,3 2,2 3,0 3-1 3-2 2-8 1-12 1-33 -1-24 1-51 -2-12 -2-9 -3-2 -3,1z"/>
<path fill="#69A834" d="M693,92l3-1 3,2 2,9 2,12 -1,51 1,24 -1,33 -1,12 -2,8 -3,2 -3,1 -3,0 -2-2 0-3 2-75 -2-51 2-15 2-6zM694,93l-2,3 -2,6 -1,12 1,42 1,9 -2,24 1,18 -1,30 1,6 3,1 3-1 3-3 1-3 1-12 1-36 -1-24 1-36 0-15 -2-12 -1-7 -3-3z"/>
<path fill="#6EA831" d="M696,92l3,3 1,7 2,12 0,15 -1,36 1,24 -1,36 -1,12 -1,3 -3,3 -3,1 -3-1 -1-6 1-30 -1-18 2-24 -1-9 -1-42 1-12 2-6 2-3zM693,96l-3,12 0,6 0,15 1,18 0,9 1,9 -2,9 0,15 1,18 -2,15 1,15 0,3 3,2 3-1 3-3 2-13 -1-18 2-15 -1-18 -1-9 1-9 0-39 -2-18 -3-5 -3,2z"/>
<path fill="#77AA30" d="M693,96l3-2 3,5 2,18 0,39 -1,9 1,9 1,18 -2,15 1,18 -2,13 -3,3 -3,1 -3-2 0-3 -1-15 2-15 -1-18 0-15 2-9 -1-9 0-9 -1-18 0-15 0-6 3-12zM694,99l-1,1 -3,14 0,15 2,15 -1,12 1,9 -1,9 0,9 -1,6 2,18 -2,18 1,12 2,3 3,0 2-3 1-3 1-12 -1-15 2-18 0-15 -2-9 1-9 0-12 1-15 -1-15 -1-9 -3-8z"/>
<path fill="#86AF30" d="M696,97l3,8 1,9 1,15 -1,15 0,12 -1,9 2,9 0,15 -2,18 1,15 -1,12 -1,3 -2,3 -3,0 -2-3 -1-12 2-18 -2-18 1-6 0-9 1-9 -1-9 1-12 -2-15 0-15 3-14 1-1zM694,105l-2,6 -1,6 0,12 2,15 -1,12 2,9 -2,9 0,9 -1,6 3,18 -3,18 2,12 3,0 2-3 1-9 -2-18 3-18 0-15 -2-9 1-9 -1-12 2-15 0-15 -1-4 -3-7z"/>
<path fill="#94B430" d="M696,103l3,7 1,4 0,15 -2,15 1,12 -1,9 2,9 0,15 -3,18 2,18 -1,9 -2,3 -3,0 -2-12 3-18 -3-18 1-6 0-9 2-9 -2-9 1-12 -2-15 0-12 1-6 2-6zM696,108l-3,2 -1,7 1,15 3,6 3-9 -1-15 -2-6zM695,150l-2,3 0,3 3,6 2-6 -2-8zM695,168l-2,2 -1,4 0,18 1,5 3,4 3-6 1-6 -1-15 -3-8zM695,216l-2,2 -1,7 1,5 3,3 2-8 0-3 -2-7z"/>
<path fill="#A2B930" d="M696,108l2,6 1,15 -3,9 -3-6 -1-15 1-7 3-2zM694,114l0,3 1,6 -1,6 2,4 1-4 0-15 -1-2zM696,148l2,8 -2,6 -3-6 0-3 2-3zM695,156l1,2 0-2 0-3zM696,166l3,8 1,15 -1,6 -3,6 -3-4 -1-5 0-18 1-4 2-2zM695,171l-2,3 0,9 -1,6 1,5 3,3 3-5 0-3 -1-6 1-6 0-3 -3-4zM696,215l2,7 0,3 -2,8 -3-3 -1-5 1-7 2-2zM695,222l-1,3 2,2 1-5 -1-2z"/>
<path fill="#B1BE30" d="M696,112l1,2 0,15 -1,4 -2-4 1-6 -1-6 0-3zM696,153l0,3 0,2 -1-2zM696,170l3,4 0,3 -1,6 1,6 0,3 -3,5 -3-3 -1-5 1-6 0-9 2-3zM694,174l-1,3 2,6 -2,4 0,5 3,3 2-3 0-3 -1-6 1-6 -1-3 -1-2zM696,220l1,2 -1,5 -2-2 1-3z"/>
<path fill="#BFC230" d="M696,172l1,2 1,3 -1,6 1,6 0,3 -2,3 -3-3 0-5 2-4 -2-6 1-3zM696,174l-1,3 1,2 1-2 -1-3zM696,186l-2,3 1,3 1,1 1-1 0-3 -1-4z"/>
<path fill="#CEC730" d="M696,174l1,3 -1,2 -1-2 1-3zM696,185l1,4 0,3 -1,1 -1-1 -1-3 2-3z"/>
<path fill="#D8C830" d=""/>
</g>
</g>
<polyline points="0,88 12.5,87 30.5,97 64,55.5 117.5,117 129,145 177.5,258 195.5,265 239,298 258.5,298 268.5,267 300.5,262.5 370,174.5 405,173.5 436.5,186.5 459,186.5 487.5,143.5 538.5,143.5 585,202 648.5,253 697,250 753,217.5 779.5,148.5 830.5,148.5 859.5,109 936.5,106.5" fill="none" stroke="#111" stroke-width="0.9"/>
<g stroke="#222" stroke-opacity="0.28" stroke-width="0.8" clip-path="url(#cp)">
<line x1="64.7" y1="0" x2="64.7" y2="366.5"/>
<line x1="257.6" y1="0" x2="257.6" y2="366.5"/>
<line x1="450.5" y1="0" x2="450.5" y2="366.5"/>
<line x1="643.4" y1="0" x2="643.4" y2="366.5"/>
<line x1="836.3" y1="0" x2="836.3" y2="366.5"/>
<line x1="0" y1="146.7" x2="936" y2="146.7"/>
</g>
<g clip-path="url(#cp)"><g fill="none" stroke="#0a0a0a" stroke-width="1.7" stroke-linejoin="round" mask="url(#lm3)">
<path d="M38.4,-6 36,-3.9 33.1,0 32.4,3 31.7,18 32.3,36 33.3,42 36,47.3 39,49 42,49.2 45,48 47.4,45 48.8,42 50.1,36 53.3,3 52.9,0 51,-3.7 48.4,-6M538.1,-6 535.9,-3 534.8,0 535.2,3 537,6.2 540,8.7 543,9.8 546,9.8 549,8.3 550.9,6 551.8,3 551.8,0 550.3,-3 547.7,-6M945,62.1 936,57.6 924,54.7 918,51.3 915.2,48 911.9,42 909,38.4 906,35.5 900,31.8 882,26.8 867.2,21 857,18 852,17.4 846,17.4 834,19 826,21 819,23.8 810,31.2 804,34.3 798,35.9 786,37.2 780,38.4 777,39.7 774,41.9 770.4,48 766.7,60 765,63.9 763.4,66 759,69.4 756,70.4 750,71 747,71.7 744,75.5 741.2,87 738,104.8 735,107.1 732,105.3 729,105.3 726.9,108 726.1,111 726.1,114 727.6,123 729,129 732,132.6 735,133.7 738,133.6 741,134.2 744,137.4 747.7,144 750.5,147 756,150.8 759,152.1 762,152.8 768,153.2 771,155.1 771.4,156 771,159 768,165.8 765,171.9 761.3,177 759.9,180 759.8,183 760.8,186 771,204.7 782.6,231 798,258.4 808.1,273 813,281.1 816,282.7 819,280.4 822,282.4 830.7,297 835,303 836.5,306M400.9,306 402.7,297 402.2,288 401.1,285 399,282.8 396,282.7 393.4,288 387,295.7 384,294.8 383,294 381.5,291 380.5,285 379.2,270 379.5,261 380.7,252 383,240 387.1,231 392.3,213 394.5,207 404.3,189 411,180.5 414,175.5 417.8,153 419.8,144 419.9,141 416.2,138 399,132.2 396,130.7 393,128.3 390,124.8 387.3,120 381.3,105 378,99.6 375,96.5 372,94.6 369,93.6 366,93.3 363,93.6 357,95.5 350.2,99 340.5,105 333.8,111 325.1,120 321,123.2 315,125.5 297,129 288,131.3 276,136.2 267,142.2 255,153.5 251.7,156 249,156.5 246,155.6 237,149.6 231,146.8 222,144.5 210,142.8 207,141.9 204,140.3 195,131.7 192,130.1 189,130 183,132.5 180,133.1 177.6,132 177.1,129 182.1,120 183.5,114 184,108 183.6,96 181.4,84 179.4,78 177,72.7 168,58.1 162,51.3 159,49.3 156,48.3 153,48.8 150,50.7 147,54.6 144,61.3 136.6,81 129.2,96 129.4,99 136.7,111 139.4,117 142.6,126 144,132 144.4,135 143.4,141 137.7,153 137.1,156 137.3,159 138,160.3 141,158.9 142.9,156 150,147.7 153,145 156,143.2 159,142.8 160,144 161.2,147 163.5,156 164.5,162 164.5,174 167.3,204 170.5,255 172.5,273 176,294 178,300 178.3,306M561,29.3 558,32.6 552.7,42 550.6,45 547.6,48 540,53.2 537.2,57 536.6,60 536.9,63 542.2,78 543.7,84 544.2,90 543.8,93 542.2,99 539.9,105 531,121.3 528,128.1 523.3,147 522,149.8 519,153.8 516,156 513,157.3 510,157.6 507,157.1 504,155.3 501,151.5 498.5,147 495,137 492,130.1 489,125 486,121.8 480,123.6 477,123.9 474,123.2 471,121.9 468.3,120 466,117 465.3,114 465.6,111 468,107.2 474,103.2 475.1,102 474.7,99 469.9,84 467.1,72 464.8,54 463.5,48 462,44.5 459.3,42 456,41.2 452.8,42 450,44.4 447.8,48 438,69.8 435,77.8 431.3,90 421.7,132 420.8,138 423.9,141 447,151.3 452.4,156 454.7,159 457.5,165 458.7,171 459.3,180 460,183 462,187.1 465,190.4 474,198 495,215 504,219.8 507,220.6 519,216.7 525,217.2 534,216.4 537,218 540,222.6 550.2,231 552,233.2 553.9,234 553.9,237 551.6,243 550.7,252 552,252.8 555,250.1 557.8,240 558.1,237 555.7,234 558,231.6 561,235.4 564,234.6 568.2,231 570.2,228 573,221.6 576,218.3 579.2,216 581.7,213 582.3,210 582.6,201 583.3,198 584.8,195 587.6,192 591,189.7 594,188.4 602.9,186 612,184.3 618,182.3 624,178.7 628.9,174 630,172.3 632.2,171 633,170 633.7,171 637.6,174 644.6,177 651,177.6 654,177 657.3,174 658.3,171 658.5,168 658.1,165 657.1,162 654,158.9 648,156.8 645,156.4 639,157 638,156 637.6,153 638,150 643.3,123 644.1,114 643.8,108 642.3,102 641.1,99 637.4,93 629.8,84 612,66.6 606,60.1 587.7,36 584.7,33 579,29.7 573,27.6 567,27.1 564,27.7Z"/>
<path d="M20.7,-6 21.9,0 21.8,6 20.4,21 18,32.5 15,37.4 12,38.4 6,38.9 3,40.6 1.8,42 1,45 1.7,48 3,49.8 6,52.3 15,58.1 20.6,63 24.7,69 27,74.7 30,78.4 36,75.3 45,73.4 54,69.4 57,69.6 65.9,72 72.7,75 87,84.2 90,85.6 92,84 90.5,72 90,59.9 87.5,51 83.1,39 81.5,36 78.8,33 73.4,30 66,27.1 62.9,24 61.6,18 60.3,3 60.6,0 62.2,-6M113.2,-6 112.5,0 112.9,3 117.1,18 117.9,24 117.9,30 116.8,39 111.9,57 110,72 106.5,93 106,102 107.9,108 106.1,111 99,116.5 90,125.8 85.2,132 79.5,141 76.5,147 70.7,162 63.9,186 61.7,192 51.3,213 45,223 33.1,240 33.2,243 36,246 26.7,261 -4.3,306M246.5,-6 246.9,0 246.7,6 245.5,12 244.1,15 243,16.3 240,18.4 237,19.5 234,19.8 228,18.7 225,17.3 222,14.9 220.1,12 218.9,9 218.2,3 219.2,-6M503.3,-6 504.5,0 504.6,3 504,6 502.8,9 500.9,12 497.8,15 495,16.6 489,17.7 483,17 480,15.9 477,14 474.8,12 472.9,9 471.8,6 469.2,-6M674.8,-6 672,-3.1 669.8,0 669.3,3 669.4,9 668.2,18 664.4,30 661.4,36 657.2,42 654,44.5 651,45.4 648,45.1 645,43.2 642,39.8 633,27.4 629.2,24 624.1,21 612,17.7 606,16.9 594,16.5 590.4,15 587.2,12 585,9 583.6,6 582.8,3 581.9,-6M945,14.3 930,15.4 924,14.6 921,13 917.8,9 915,-0.8 910.6,-6M659.4,306 659.5,303 657.7,297 657.1,288 657.9,276 659,270 660.8,264 666.4,252 668.3,246 669.4,234 672,214.5 674.5,186 675,177 675,162 672.5,132 671.9,111 671.9,102 672.8,93 676.3,81 679.1,75 683.5,69 690,64 696,62.1 699,61.8 702,62.2 705,63.3 708.7,66 710.8,69 712.2,72 713.6,78 714.2,84 714.2,102 715.9,132 715.9,150 715.1,162 714.8,177 715.9,204 715.3,213 711.9,237 712.7,240 714,242.4 722.2,252 725.8,258 728.5,264 731.2,273 732.3,282 732.2,288 730.8,297 728.2,306M264,35.9 267,34.3 270,33.7 273,34 276.9,36 280,39 282.1,42 283.4,45 284.2,48 284.3,51 283.7,54 282.3,57 279,60.6 276,62.4 273,63.5 270,63.8 267,63.6 264,62.6 261,60.7 258,57 257,54 256.8,51 257.6,45 258.7,42 260.7,39 263.8,36ZM486,62.8 489,61.5 492,61.2 495,61.5 501,64 518.7,78 522,82.1 523.6,87 524.6,93 525,99 524.6,105 523.2,111 522,114.2 519,118 516.4,120 514.9,123 516.4,132 516,133.8 513,133.9 510,131.9 507.6,129 506.7,126 507,124.3 509.8,120 510,117 508.9,114 505,108 497.3,99 486,89.3 482.1,84 480.9,81 480.4,78 481,72 483,65.9 485.8,63ZM399,64.4 402,63.7 405,63.8 408,64.4 411,65.9 414,68.8 415.5,72 416.4,78 415.4,84 414,87.8 412.6,90 411,92.2 408,94.5 405,95.6 402,95.8 399,94.8 396,92.4 393,87.3 391.7,81 392.2,75 394.3,69 396.6,66ZM438,178.4 441,179.7 442.4,183 441.9,186 441,187.2 438,188.4 435,186.7 434.2,183 436,180Z"/>
<path d="M644.1,-6 645,-5.3 647.1,0 646.6,3 645,5.1 642,5.9 639,4.6 637.2,3 635.6,0 635.5,-3 636.4,-6M696,71.6 699,71.6 702,72.5 705,74.5 707.5,78 708.7,81 710.1,90 711.8,132 710.4,168 711.4,204 710.3,219 708.3,237 708.3,240 710.5,252 710.6,258 709.4,264 706.3,270 702,274.3 696,276.9 693,277.2 690,276.9 687,275.9 684,274.2 681,271.6 678,267.4 676.5,264 675,258 674.5,252 674.9,243 678.4,204 680.1,177 680,162 677.7,114 678.3,99 680.2,90 684,81 685.9,78 688.8,75 693,72.4 694.7,72Z"/>
<path d="M693,79.2 696,78.1 699,78.1 702,79.5 705,83.6 706.5,90 707.2,96 708.4,117 708.6,138 707.3,168 708.1,201 707.5,216 704.9,246 703.2,252 702,254.4 699,257.8 696,259.6 693,260.3 690,260.1 687,258.9 684,256.6 681,252.1 679.5,246 683.9,177 683.8,162 682,123 682.1,105 683.3,96 685.1,90 687,85.9 690.6,81Z"/>
<path d="M693,86.4 696,85.3 699,85.9 702,89.5 703.6,96 705.1,111 705.4,135 704.2,165 704.9,201 704.2,222 703.6,234 702.7,240 702,242.5 699,247.3 696,249.8 693,250.9 690,250.7 686.9,249 684.9,246 684.1,243 687.3,168 685.8,132 685.7,108 686.3,102 687.4,96 689.8,90 692.4,87Z"/>
<path d="M693,95.7 696,93.9 699,99 700.8,111 701.2,117 701.4,129 700.5,147 700.8,156 700.1,165 701.1,174 701.6,192 700.3,207 700.6,225 699.9,234 699,238.3 696,241.4 693,242.4 690,240.2 689.6,237 689.4,222 690.7,207 689.7,189 690.4,183 690.3,174 691.6,165 690.6,156 691,147 689.7,129 689.6,114 690.1,108 692.9,96Z"/>
</g></g>
<g class="c" text-anchor="middle" clip-path="url(#cp)">
<text transform="translate(6.9,35.4) rotate(0)" y="5.5">20</text>
<text transform="translate(232.5,20.2) rotate(0)" y="5.5">20</text>
<text transform="translate(275.5,47.3) rotate(-50)" y="5.5">20</text>
<text transform="translate(48.6,5) rotate(90)" y="5.5">0</text>
<text transform="translate(399.3,62.7) rotate(-20)" y="5.5">20</text>
<text transform="translate(513,113.1) rotate(-60)" y="5.5">20</text>
<text transform="translate(481.9,17.2) rotate(5)" y="5.5">20</text>
<text transform="translate(586.1,5) rotate(70)" y="5.5">0</text>
<text transform="translate(645.4,1.6) rotate(-20)" y="5.5">30</text>
<text transform="translate(673.5,111.6) rotate(80)" y="5.5">20</text>
<text transform="translate(696.2,80.1) rotate(15)" y="5.5">40</text>
<text transform="translate(694.5,159.7) rotate(-10)" y="5.5">60</text>
<text transform="translate(695.1,237) rotate(30)" y="5.5">60</text>
<text transform="translate(695.1,130.3) rotate(90)" y="5.5">0</text>
<text transform="translate(901.3,30.4) rotate(25)" y="5.5">10</text>
</g>
<use href="#dots"/>
<path d="M0,0H936 M0,0V366.5 H936 V106" fill="none" stroke="#111" stroke-width="1.3"/>
<g stroke="#111" stroke-width="1.3">
<line x1="-10.5" x2="0" y1="0" y2="0"/>
<line x1="-10.5" x2="0" y1="146.7" y2="146.7"/>
<line x1="-10.5" x2="0" y1="293.4" y2="293.4"/>
<line x1="64.7" x2="64.7" y1="366.5" y2="377.5"/>
<line x1="257.6" x2="257.6" y1="366.5" y2="377.5"/>
<line x1="450.5" x2="450.5" y1="366.5" y2="377.5"/>
<line x1="643.4" x2="643.4" y1="366.5" y2="377.5"/>
<line x1="836.3" x2="836.3" y1="366.5" y2="377.5"/>
</g><g stroke="#999" stroke-width="0.8">
<line x1="-4" x2="0" y1="73.4" y2="73.4"/>
<line x1="-4" x2="0" y1="220.1" y2="220.1"/>
<line x1="-4" x2="0" y1="366.8" y2="366.8"/>
<line x1="161.7" x2="161.7" y1="366.5" y2="371"/>
<line x1="354.6" x2="354.6" y1="366.5" y2="371"/>
<line x1="547.5" x2="547.5" y1="366.5" y2="371"/>
<line x1="740.3" x2="740.3" y1="366.5" y2="371"/>
<line x1="933.2" x2="933.2" y1="366.5" y2="371"/>
</g>
<text x="-37.31" y="9.2" font-size="24.5" class="b" textLength="14.05" lengthAdjust="spacingAndGlyphs">0</text>
<text x="-71.41" y="155.9" font-size="24.5" class="b" textLength="48.3" lengthAdjust="spacingAndGlyphs">100</text>
<text x="-70.6" y="302.6" font-size="24.5" class="b" textLength="47.46" lengthAdjust="spacingAndGlyphs">200</text>
<text x="33.77" y="409.2" font-size="24.5" class="b" textLength="62.56" lengthAdjust="spacingAndGlyphs">40°S</text>
<text x="226.09" y="409.2" font-size="24.5" class="b" textLength="63.15" lengthAdjust="spacingAndGlyphs">20°S</text>
<text x="428.7" y="409.2" font-size="24.5" class="b" textLength="42.86" lengthAdjust="spacingAndGlyphs">EQ</text>
<text x="611.64" y="409.2" font-size="24.5" class="b" textLength="64.44" lengthAdjust="spacingAndGlyphs">20°N</text>
<text x="804.97" y="409.2" font-size="24.5" class="b" textLength="64.15" lengthAdjust="spacingAndGlyphs">40°N</text>
<text class="b" font-size="32.5" transform="translate(-101.9,262.1) rotate(-90)" x="-2.3" textLength="159.22" lengthAdjust="spacingAndGlyphs">Depth [m]</text>
</g>
<text x="885.36" y="1661.2" font-size="36.6" class="b" textLength="175.36" lengthAdjust="spacingAndGlyphs">% &gt;10 um</text>
<path d="M1095.2,1694 L1111.5,1688.3 L1127.8,1694 V2061 L1111.5,2066.7 L1095.2,2061 Z" fill="url(#pc)" stroke="#d9c7b5" stroke-opacity="0.4" stroke-width="0.5"/>
<g stroke="#111" stroke-width="1.6">
<line x1="1094.7" x2="1102.7" y1="1727.5" y2="1727.5"/><line x1="1120.3" x2="1128.3" y1="1727.5" y2="1727.5"/>
<line x1="1094.7" x2="1102.7" y1="1794.3" y2="1794.3"/><line x1="1120.3" x2="1128.3" y1="1794.3" y2="1794.3"/>
<line x1="1094.7" x2="1102.7" y1="1861.2" y2="1861.2"/><line x1="1120.3" x2="1128.3" y1="1861.2" y2="1861.2"/>
<line x1="1094.7" x2="1102.7" y1="1928.2" y2="1928.2"/><line x1="1120.3" x2="1128.3" y1="1928.2" y2="1928.2"/>
<line x1="1094.7" x2="1102.7" y1="1995" y2="1995"/><line x1="1120.3" x2="1128.3" y1="1995" y2="1995"/>
<line x1="1094.7" x2="1102.7" y1="2061.9" y2="2061.9"/><line x1="1120.3" x2="1128.3" y1="2061.9" y2="2061.9"/>
</g>
<text x="1136.39" y="1735.45" font-size="25" class="b" textLength="42.86" lengthAdjust="spacingAndGlyphs">100</text>
<text x="1137.18" y="1802.35" font-size="25" class="b" textLength="28.09" lengthAdjust="spacingAndGlyphs">80</text>
<text x="1137.05" y="1869.25" font-size="25" class="b" textLength="28.23" lengthAdjust="spacingAndGlyphs">60</text>
<text x="1137.63" y="1936.15" font-size="25" class="b" textLength="27.62" lengthAdjust="spacingAndGlyphs">40</text>
<text x="1137.11" y="2003.05" font-size="25" class="b" textLength="28.16" lengthAdjust="spacingAndGlyphs">20</text>
<text x="1136.96" y="2069.95" font-size="25" class="b" textLength="14.52" lengthAdjust="spacingAndGlyphs">0</text>
<text class="b" font-size="17.5" transform="translate(1090.1,2055.4) rotate(-90)" x="-0.69" textLength="137.87" lengthAdjust="spacingAndGlyphs">Ocean Data View</text>
<g stroke="#000" stroke-width="1.5" fill="none">
<path d="M114,67H1056.5"/>
<path d="M256.8,67V2141.6H979.6V67 M514.6,67V2141.6 M713.3,67V2141.6"/>
</g>
</svg></body></html>
